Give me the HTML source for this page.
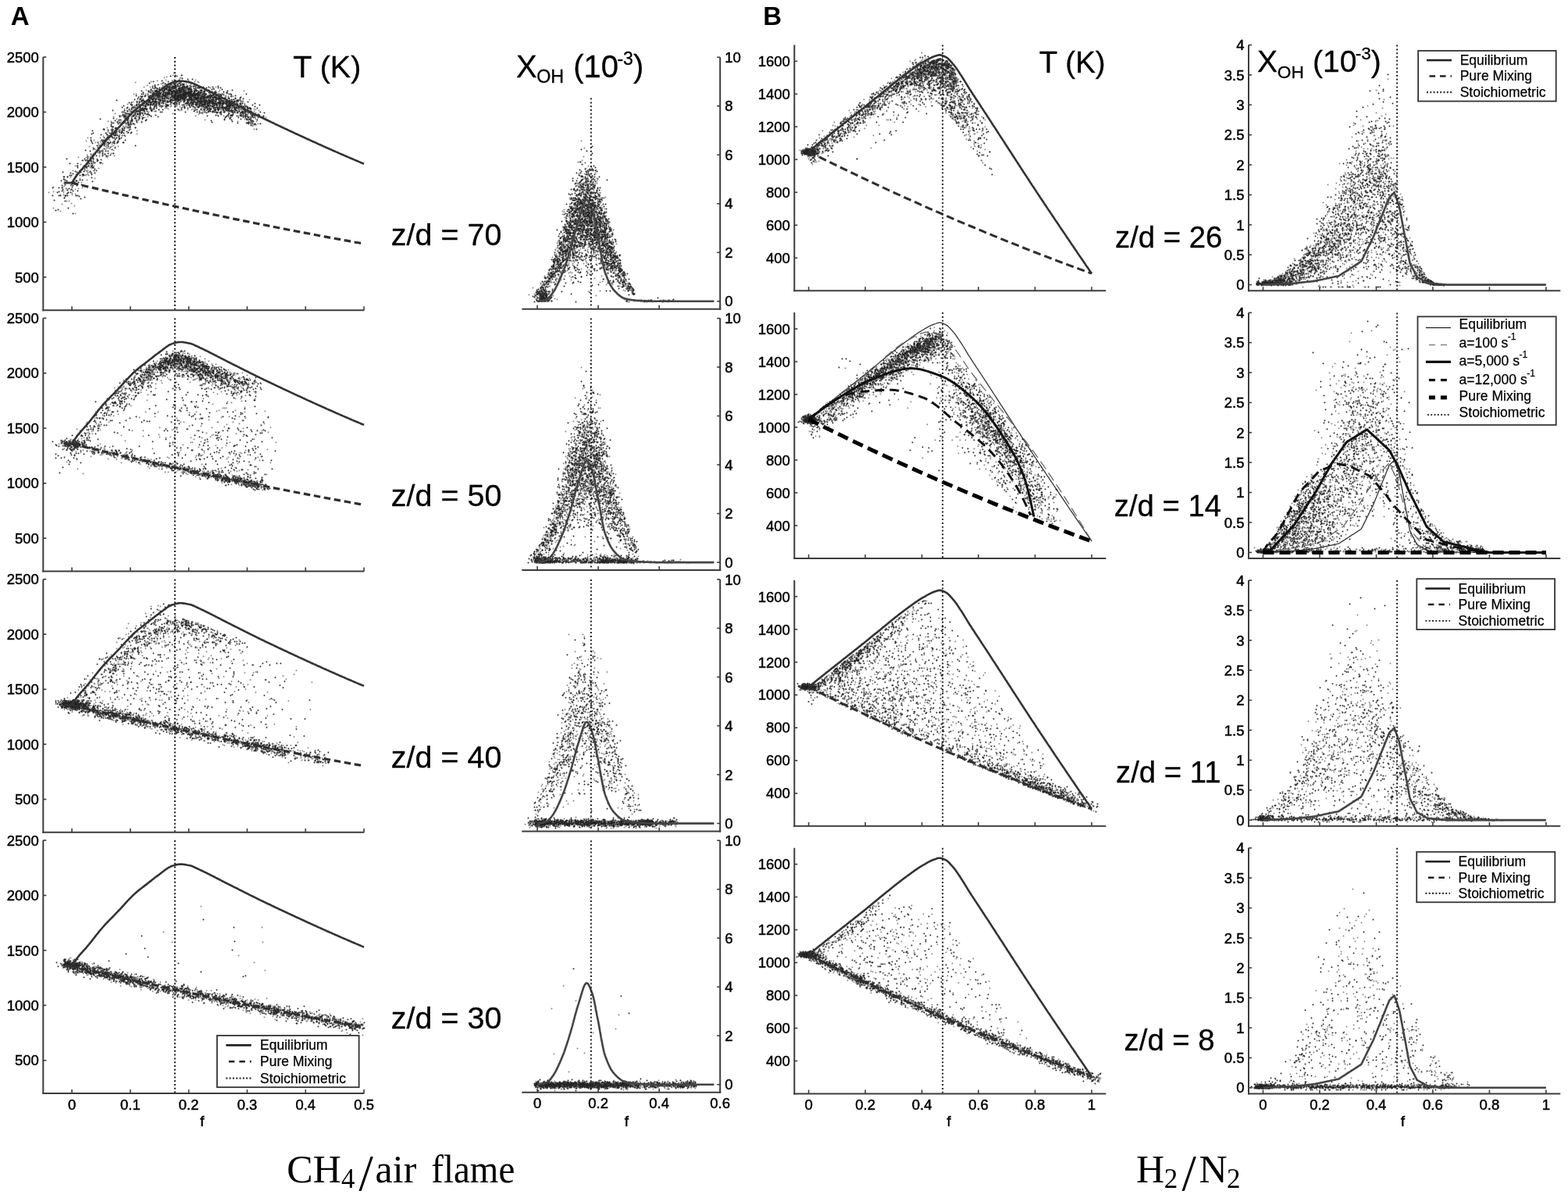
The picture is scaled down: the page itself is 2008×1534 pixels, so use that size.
<!DOCTYPE html><html><head><meta charset="utf-8"><title>Figure</title><style>html,body{margin:0;padding:0;background:#fff;}svg{display:block;}</style></head><body><svg width="2008" height="1534" viewBox="0 0 2008 1534"><defs><marker id="m" markerUnits="userSpaceOnUse" markerWidth="4" markerHeight="4" refX="2" refY="2" overflow="visible"><circle cx="2.5" cy="2.5" r="0.95" fill="#262626"/></marker><marker id="g" markerUnits="userSpaceOnUse" markerWidth="4" markerHeight="4" refX="2" refY="2" overflow="visible"><circle cx="2.5" cy="2.5" r="0.95" fill="#858585"/></marker></defs><rect width="2008" height="1534" fill="#fff"/><path d="m68 239 0 6-6 1 6 20 9 967 2-328 0-1-1 0-1-1 0 0 1-1-1 0-1 0 0 0-5-1 8-1-6 0 5-1-3-331 4-1 0 0 0 0 0-1 0 0 0 0-1 0 1-1-1-1 0-1-1-293 2-9-2-12 5-20 0 3 3 0-3 6-2 1 4 2 1 0 1 2-5 1 0 2 4 2-4 1 2 2-1 2 3 4 3 0-8 307 2 0 5 1-2 1 4 0-7 1 2 0 2 0-1 1-2 1 3 0-6 1 0 0 1 0 2 0 0 0 5 0 1 0-9 1 2 0 5 1-5 2 7 0-4 1 0 16 1 302 3 3-2 1-3 1 0 0 1 0 1 0 0 0-5 1 1 0 2 0 2 0 0 0 1 0 1 0 1 0 0 0 0 0-8 1 2 0 2 0 1 0 1 0 0 0 2 0-9 1 0 0 1 0 3 0 0 0 2 0 1 0 0 0 0 0 1 0 0 0 0 0 1 0 0 0-8 1 1 0 1 0 2 0 3 0 0 0 1 0 0 0-9 1 0 0 3 0 0 0 0 0 1 0 1 0 0 0 2 0 2 0-5 1 2 0 0 0 2 0 1 0 0 0-4 1 2 1-2 1-3 1 4 0 2 0 1 0-1 319-4 1-3 1 6 0-6 1 5 0-4 1 6 0 1 0-7 1 2 0 1 0 3 1 1 0-9 1 3 0 2 0 1 0 0 0 1 0 1 0-8 1 1 0 3 0 3 0 0 0 1 0-7 1 0 0 0 0 5 0 2 0 1 0 0 0-8 1 5 0 2 0-5 1 0 0 1 0 2 0 0 0 0 0 2 0 0 0 1 0-9 1 8 1 0 0 1 0 6 6-1-3 2-2-2 0 0 0 5-1 0 0 0 0 0-1-1 0-2 0 0 0-5 0-1 0 0 0 5-1-3 0 2-1-1 0-2 0 8-1 0 0-2 0 0 0-4 0-1 0-1 0 8-1-2 0-2 0-5 0 9-1-2 0-1 0-1 0-1 0-1 0-2 0-1 0 4-1-2 0-1 0 0 0 0 0 6-1-3 0-4 0 4-1 3-1-1 0-3-1-3-3 2-315 7-2-7 0 0 0 6-1 1-1-4 0-1 0 0 0-1 0 0 0 6-1-2 0-3 0-4 0 0 0 6-1-1 0-1 0-1 0-1 0-1 0 0 0-1 0 8-1-1 0-2 0 0 0-2 0 0 0-1 0-1 0 8-1-2 0 0 0-1 0 0 0-1 0 0 0-2 0 0 0 0 0-2 0 0 0-1 0 0 0 9-1-2 0 0 0 0 0-1 0 0 0 0 0-1 0 0 0 0 0-1 0-1 0 0 0 0 0-1 0 0 0-2 0 8-1-1 0 0 0 0 0-1 0 0 0 0 0-1 0 0 0-1 0-1 0 0 0-1 0-1 0-1 0 9-1-1 0-1 0 0 0-3 0-1 0-2 0-1 0 9-1 0 0-3 0-2 0 0 0 0 0 0 0 0 0-1 0-1 0-1 0 0 0 3-1-3 0 8-1-2 0-1 0-1 0-3 0-1 0 3-1 5-296-1-12-8-9 7-1-3-2-2-1-2 0 8-1-3 0-1 0-4-1 9-1-4 0-3 0-2 0 0 0 8-1-1 0-7 0 7-1-7 0 0 0 7-1-1 0-1 0 0 0-1 0-3 0-1 0 3-1-2 0 0 0-1 0 8-1-1 0-1 0-2 0-1 0-3 0 8-1 0 0-1 0-1 0 0 0-3 0-1 0-1 0-1 0 8-2-8 0 0-1 0-1 8-13-2-276-1-10-4-3 6-10-5-1 4-1-4-1-2-4 6-1-4 0-2-5 7-5-7-6 8-2-1-1-4-5 5-6-2 0 4-11 6 4-3 5 5 4-6 4 6 0-2 6 3 0-4 1-3 3 2 5 1 7-5 1 2 310-1 5 2 2 4 2-3 1-4 1 8 1-3 1 3 0 0 1-8 1 8 1-8 1 8 0-7 1 4 0 3 0-8 1 0 0 0 0 2 0-1 1 4 0 2 0 0 0-7 1 6 4-3 3 3 27 3 269-5 5-4 3 9 5-1 3-5 1-3 4 4 0 1 0-4 1 4 0 0 1 0 0-5 1 2 0 1 0 0 0 1 0-3 1 2 0 6 0 0 0-8 1 0 0 1 0 2 0 2 0 2 0-8 1 0 0 0 0 1 0 6 0-7 1 8 0 0 0-7 1 2 0 1 0 1 0-3 1 2 0 2 0 1 0-5 1 1 0 0 0-2 1 1 0 6 0-1 1 1 0-2 1-3 1 3 0-4 1 3 0-4 1 4 4-2 315-2 1 4 0 0 0-5 1 3 0 5 0-7 1 7 0-6 1 0 0 3 0 3 0-7 3 7 0-3 1-4 1 0 0 2 0 0 0 1 0-3 1 1 0 4 0 0 0 1 0 2 0 0 0-5 1-4 1 1 0 1 0 7 0 0 0-8 1 1 0-1 1 5 0 0 1 11 2-5 0-1 0 8-1-2-1-3 0-1 0 0 0 5-1-2 0 0 0-3 0 0 0-3 0 2-1 0 0-1 0 0 0 1-1 3-1-3 0-2 0 0 0 9-1-3 0-2 0 0 0 4-1 0 0-6 0-1 0-1 0 7-1-2 0-2 0-1 0-1 0 1-1 1-1 0 0 5-3-5-318-1 0 0-2 7-3-5 0-1 0 0 0 0-1-2 0-1 0 0 0 8-1-3 0-4 0 1-1 0 0-1 0 6-1 1-1-3 0-2-1 6-1 0 0-8 0 0 0 8-1-3 0-3 0-1 0 1-3-3-1 2-6-2-4 9-4-1-6-5-1-2-1 4-7-5-1 8-8-2-277 2-7-3 0 3-2-4-1 1-1-5-1 3-14 0-1 5-2-7-1 2-1 4-1 2-1-1-1-5-1 6-2 0 0-3 0-5-5-1 0 1-2 0-310 2-6-1-1-2 0 7-2-5 0 2-1-3-1 1-1-2 0 7-3-6 0 4-1 1-1 0-2-4-1 4-2-3 0 4-2-5 0 0 0-2-1 1-1 0 0 6-2 2-1-9 0 5-1 2-1-6-1 8-7 0-2 0 0-5-2-4-7 6-1-4-3 16 0-8 3 8 2-6 1 7 1-3 1 0 2-1 2-3 3 4 2-5 2 4 0 2 0 1 0-1 3 0 2-3 3-3 5 6 0-7 4 6 3-5 13 4 297-3 2-1 5 2 2-2 1 8 0-6 7 3 1 0 0 3 0 0 0-1 7 0 18-6 7-1 1-1 2 1 0 5 1-5 1 7 2-1 262 2 19-5 5 0 1 2 0-1 3 0 1 3 1-8 1 1 0 4 0 3 1 0 0 1 0-9 3 7 2-6 6 6 5 0 1-6 3 1 3-2 2 7 2-7 2 4 0-3 1 1 1-1 2 4 0 0 1-5 1 0 1 2 1 1 0 4 0 1 0 1 0-7 2 0 1 2 0 4 0 1 3-8 318 2 1-3 1 0 0 2 0 0 0 2 0 3 0 1 0-8 1 2 0 3 2 4 0-9 1 0 0 4 0 0 0-4 1 5 0 0 0-5 1 4 0 2 0-3 1 4 2 1 0-1 2-3 2 13 1-5 0 1-1 3-1-2 0 4-1-5-1-3 0 6-1-2 0-1 0 1-1 2-1-2 0 0 0-3 0 8-1-1 0-4 0-1 0-3 0 7-1-5 0-1 0-1 0 6-1 0 0-5-1 0 0 0 0 2-1 5-1 0-321-4-2 5-1 0-1-9 0 6-1-3 0 4-1 2-1 0 0-2 0-4 0-1 0 6-1-2-2 0-2-4 0 7-2-3 0-5-8 3-12-4-2 2-9 2-8-2 0 3-1 1-7 3-1-1-2-4-3 3-2 0-5 2-2-7 0 6-256-8-5 2-2 0 0 5-1-4 0 1-4-1 0 0-2 6-33-8-9 6-4-6-5 5-4 0 0-5 0 3-2 3-4 2-1-8-302 6-8 0-1-2 0 3-1-7-1 0-1 0 0 4-6 3-2-2 0-1-2 1-1 0-2-4 0 3-3-2-1-3 0 9-2-1-2 0 0 1-2-7 0 6-1-2-1 0-2 2-2 0 0-5-2 4-3 1-8 9-10-2 4 4 3-7 3 0 1 0 5 1 1 1 0 1 0-2 2 1 1-1 1 1 3 2 0 2 0-6 2 1 0 5 0-8 2 2 2 1 0 1 1 4 1-8 2 6 1 0 0-5 1 4 0-5 2 9 0-6 1 2 2-2 1 4 1-7 2 5 2-3 4 2 0 2 3 0 297 1 3 1 3 1 5-9 2 6 7 0 0 0 0-5 1 3 2 5 0-9 6 5 2-4 5 4 0-5 40 2 4 5 0-4 1 5 0-4 1 5 1-5 1 2 0-1 3 1 2 2 1 1 2 0 234 0 8-7 8-2 3 1 0 5 8 0 2 1 1 1 1-1 1-3 1 2 0-5 1 2 2 2 0 4 0-6 1 5 0 1 5-7 1 6 6-5 1 6 1-6 5-3 7 1 8 0 2 2 4 1 0 0 6 3 3 2 0-3 1 0 0-2 1 4 1-6 1 2 0-4 1 6 0 1 0 1 0-3 2 1 0 3 0-8 1 3 0 4 0 1 0-8 1 7 0 1 0 0 0-8 1 1 0 5 0 2 0-9 1 5 0 4 2-4 1 3 1-6 321 0 0 0 0 6 0 0 1-5 1 2 0-5 1 1 0 1 0 0 0 5 0-4 1 0 0 5 0-5 1 1 0 1 0 2 0 1 0-5 1 3 0 3 0-5 1 0 2-2 1 5 2 1 0-6 1 6 1 6 4-2-5 4-2 0 0 2-1-3 0-3 0 6-1 0-1-1 0-2 0-3 0-1 0-1 0 8-1-8 0 0 0 7-1-3-1 5-2-3 0-2 0-3 0 5-1-3-5 4-314 1-7-1 0-2 0 3-1-2 0-3 0-1 0 7-1-4 0-3 0 7-1-1 0-7 0-1 0 9-1-2 0-4 0 5-2-7 0-1 0 7-1-4 0 3-2 3-1-5-2-2-13 4-2-4-9-2-8 8-11 0-8-1-1 2-6-1 0-3 0-2 0 5-3-7 0 7-1-7-2 5-2-3 0-1 0 5-2-1 0 1-11 2-1-1-11-5 0 0-1 2-224 1-6-1 0 2-1-7-1 9-3-5-1-1 0 2-23-4-27 8-9-5-1 1-6 1-6 0 0 0-10 0 0 0-2-2 0 4-1-7 0 7-1-4 0 4-8-7-299 0-7-1 0 7-7-1 0 0 0-3-1-3-1 6-2 3-2-8-1 6-2 2-1-8 0 7-1-5 0 4-1 1-4-5-1-2 0-1 0 5-1-5 0 2-1 7-3-4-3-2 0 4-1 2-8 4-6 5 1-3 5 3 0 0 0 1 1-7 1 5 0-4 1 3 0 1 0-7 3 2 0-2 1 1 0 7 0-5 1 6 1 0 0-1 1 1 0-5 2 0 2 2 1 1 1-1 2 2 1-5 1-2 2-1 1 3 0-1 1 1 0 3 2 1 0-4 5-3 4 6 307 0 7 2 2-1 1-1 1 0 1-5 4 1 0 4 0 3 0-9 2 8 1 0 1-4 8-3 1 6 9 2 32-9 13 9 12-7 2-1 1 0 1 4 0-2 2-3 1 0 0 9 0-9 2 1 0 1 0-1 1 1 0 1 0 1 0 1 0-5 1 7 3-3 208-2 6 2 7-3 1 3 3 3 0-1 7-6 3 3 2 4 3-4 5 3 0 2 0-8 2 2 0 7 1-7 1 4 0-4 1 0 2 2 1 0 4 5 0-1 6-6 18 1 2 0 31 0 4-1 4 1 0 0 2 5 0-4 1-1 1-3 1 0 0 4 1 4 1 1 1-6 1 1 0 0 0 5 0 0 0-8 1 0 0 5 0 3 0 0 0-3 1 2 0 0 1 0 1-5 320-3 5 2 0 2 0 2 0 1 0 0 0 2 0-9 1 1 1 4 0 3 0-6 1 2 0 1 1 2 0 0 0-3 1 3 1-4 1-1 1 2 0 1 0-1 1-2 1 0 0 4 2 2 1 11 1 0-1-5 0-3-1 8-1 0 0-6 0 3-1 3-1-3 0-5 0 2-1 3-1-2 0-4 0 7-1-2 0-3 0 7-1-1 0-1 0-2 0-4 0 7-2-5-1 0 0-3 0 6-1-2 0-1 0-3 0 6-1-5 0 1-3 1-319 6-2-3 0 1-1-4-1-1 0-1 0 6-1-5 0-1 0 0 0 7-1-5 0-1 0-2 0 0-1 8-1-6 0 0 0 0 0 5-2 1-1-1 0 0 0-4 0 3-1-2 0 0-3-3 0 8-18-5-6 2-14 1-9-7-23 8-8-8 0 7-3-1-1 0-1 1-2 0-6-1-3 2-5-1 0 0-1-6-1 1-2 4-1-2-8 5-207-5-3 1-3-5-1 0-1 2-2 6-50-7-23 1-2 1-3-3 0 7-4-5-3 3-1-2-7-1 0-1-3 5-1 2-1-7 0 6-3-6 0 2-2-1 0 7-1-5-1 3-5-2-303 0-4-3-8 3-3 0-2-1-2 4-1-5 0 5-1-5 0 3-1-3 0-2-1 0 0 7-1-3-2-2 0-1 0 0 0 7-1-8 0 4-1-3 0 5-2 0 0-1 0-2-1 4-3-7-1 6-1-2 0-3 0 7-1-1-1-3-2 0-1-5 0 8-1-3 0-1-9-3 0 2-15 15 4-4 2 3 4 2 4-3 1-1 2-5 1 0 3 1 0 2 0 6 1 0 1-4 1 4 0-9 1 8 0-4 1 1 0 3 0-6 1 1 1 2 0-5 1 2 0 1 0 3 0 2 0 1 0-3 1-1 1 2 0-7 2 2 0 3 0-2 1 3 0-6 1 1 0 4 2 0 1 0 1 4 0-3 1 1 1-6 3 8 0-4 1 2 3-6 2 6 315-7 3 4 0 4 1 1 0 0 0-3 1 2 0 1 0-8 1 6 0 1 0-4 1 1 0 3 0-8 2 5 0 3 0-6 1 5 0-7 1 0 0 6 0 3 1-7 1 4 0 2 0-6 1 6 0 0 0-4 1 2 1 1 0-5 2-1 1 2 0 1 0 0 0-2 2 0 4 0 2-2 2 7 0-7 3 9 3-1 7-2 15-3 24 0 7-2 27 8 2-2 2-7 1 2 0 2 0 3 0-5 1 6 1 1 1 0 4-3 188 3 10-9 2 6 5 2 2 1 0-5 3-3 1 4 2 1 1 1 2-5 2 6 6-2 1 3 0-2 1-2 4 1 0 2 0-8 2 6 1-6 3 1 2 1 4 3 13-5 20 8 12-7 10 7 7-6 1 7 0-5 7 3 4-4 2 3 0-3 1 0 3 3 3 1 1-7 1 0 0 2 0 0 0 5 0-7 1 3 0-3 1 4 1 2 0 1 0-2 1-4 1 1 0 4 1-2 320-3 5 1 1-1 2 1 0 0 0 5 0-7 2 1 0 1 0 6 0-8 1 6 0-5 1 4 0 2 0-7 1 7 0-6 1 8 1-9 2 15 2 0-4-1 0 4-1-4 0-4-1 7-1-4-1-2 0 7-1-4 0 0 0-3 0 5-1 3-2-7-1 5-2-1 0-2-321-2-1-2-2 6-1-1 0-3-2 4-1-1 0 0-1-3 0-2 0 0 0 2-1-2 0 1-1 0-6 5-1-2-3-4-11 2-6-2-18 5-2-2-7 6-10-5-8 5-1-7-22 7-4-6-1-3-1 9-1-5-1 0-1-3 0 0-1 6-1 2-2 0-3-6-1-3-2 1-3 7-1-8-8 5-6-3-1 1-14-2-177 5-3 2-1-5-1 2-1 1-1-4 0 2-1-4 0 3-3 2-14 3-41-1-27 2-9-9-1 0 0 0-2 9-3-9-2 0 0 4-3-3 0-1-2 5-2-4-1 5-2-1 0-1 0 3-1-2 0 0 0-1 0-2-1 6-1-2 0 0 0-1-1 0 0-1 0 5-2 0 0-5 0 0 0 4-2-5 0 2-1 3-1-3 0-3 0-1-1 8-1-5 0-3 0 0 0 0 0 8-3-6-315-3-6 7-1-3 0 0-3-1-1-1 0 0-2 5-1-5 0 1-1 6-1-5 0-4 0 7-1-3 0-1 0 0 0 5-1-7 0 8-1-1 0-1 0 0 0-3 0-3-1 7-1 0 0-7 0 8-1-4 0-2 0-2 0 8-1 0 0 0 0 0 0 0 0-3 0 0 0-2 0-1 0-1-1 5-1 0 0-2 0-2 0-3 0 0 0 9-1-1 0-7 0 5-2 1-2-3 0 3-1-3 0-2-1 7-1-6 0-3 0 9-4-7-1 6-1 0-2-5-4 8-1 8 2-3 2 2 2 0 1 0 2 0 1-8 3 8 0 1 0-1 1-7 1 3 1 5 0-5 1 5 0-8 1 5 0 3 0-4 1 4 0-6 1 1 0-4 1 0 0 1 0 4 0 1 0 0 0 1 0-4 1 2 0-1 1 0 1 2 0 0 0 1 0-2 1 0 0-5 1 4 0 5 0-7 2 1 0-2 1 5 0 2 0-8 1 0 1 9 1-5 1 2 1-3 3 6 321-8 1 8 0-3 1-2 1 0 0 2 0-6 1 5 0-3 1 7 0-2 1-6 2 0 0 0 0 1 0 7 0-8 1 5 0-6 1 3 0 6 0-9 2 4 1 1 0 0 2 0 0 1 0 1 3 0 2 1 1-7 2-1 2 1 0 5 1 1 3-5 37 2 20-1 9 1 3-3 35 8 0-8 1 2 0-1 1 3 0-1 1-1 3-1 175 3 1-2 5 6 5-9 2 3 6-2 1 3 8 5 1-6 2 3 0-2 1-2 2 3 0-5 2 2 0 3 0-3 3 7 1 0 1-8 3 6 2-7 2 3 1 4 4 0 26-3 27 1 9-1 6 3 0 1 5 1 0-5 10 5 12-8 3 4 1 1 0-5 2 4 0 1 1 3 1-4 3 1 0-5 1 8 258-4 64 2 5-6 1 5 1 3 0-7 1 0 1 1 0 0 1-1 1-1 1 4 0-3 1 13 2 1-2-1 0 2-1-1 0 3-2-5 0-3 0 6-1-3 0-1 0-3 0 0 0 7-1-3 0-1 0 0 0-2 0-1-1 5-1-5 0 9-1-8-1 5-324-3-2 4-1 0 0-1-1 0 0-5 0 8-1-1 0 1-1-4 0 3-2-6 0 5-1 1-1-7 0 5-2-6-1 6-2 0 0-1-5-2-1 1-4 5-20-1-6 0-1-3 0-1-25-1-17-3-5 7-4-6-6 0-6-1-2 6-5-1-4-3-1 6-1-3-3-1 0-2 0 4-1-3 0 3-1-2-1 2-3 3-1-5 0 1-4-1 0 1-1-2-2 2-4 0-184-4 0 8-4 0-1-6 0 2-1-2 0 6-1-3 0-1 0-3 0 5-1-3 0-4 0 7-2-1-8-2-1-2-25 6-1-2-74-2-2-3-6 6-1-1-1-3 0-2 0-1 0 7-1-6 0 6-1-6 0 6-1-2 0-4 0 3-2 0 0 0-1 4-2 1-1-5 0-4 0 0-1 9-1-2 0-1 0-1 0-5 0 8-1-4 0 0 0 4-1-3 0-1 0-4 0 8-1-1 0 0 0-1-1-3 0-3 0 8-1-7 0 0 0 7-1-1 0 0 0-5 0 6-1-1-2 0-1-5-1 1-1 2-313-2-1-2 0 2-1 5-1-5 0 6-1-5 0-3 0 7-4-6 0 0 0 4-1-1-1 3-1-1 0 0 0-4 0-3 0 0-1 8-1-2 0-3 0-2 0 0 0-1 0 8-1-1 0-5 0 4-1-1 0-2 0-1 0 4-1-2 0-1 0-1 0 0 0-1 0 4-1-1 0-1 0 0 0-2 0 0 0 8-1-4 0 0-1-1 0-2 0-1 0 8-1 0 0-3 0-1 0-1 0-1 0 6-1-2 0-2 0-2 0-1 0-2 0 5-1-2 0 6-1 0 0-6 0-2 0-1 0 4-1 5-1-1 0-1 0-2 0 0 0-1 0 2-1 0 0-5 0 5-1-1 0 0 0-4 0 8-1-1 0 0 0-1 0-1 0 3-1 0-1-3 0-2 0 5-1-5 0 5-1-2 0 0 0-5-5-2-3 3-1 9-5-1 3-1 7 1 0 8 0-8 3 3 0-1 1 3 0 2 0-8 1 3 1 4 0 0 0-4 1 1 0 3 0 1 0-5 1 2 0-4 1 2 0 6 0 0 0-8 1 0 0 3 0 4 0-7 1 5 0 2 0-5 2 1 0 1 0 4 0 0 0-6 1 1 0 4 0-7 1 1 0-2 1 1 0 1 0 4 0-5 1 0 0 1 0 4 0 1 0 2 0 0 0-7 1 1 0 1 0 4 0-8 1 6 0 2 0-8 1 1 0 6 0 1 0 1 0 0 0-7 2 1 0 6 0 0 0-4 1 3 0 1 0 0 0 0 0-9 1 0 0 0 0 6 0 0 0-3 1 5 1-8 1 5 1-4 1 4 0 1 3-1 1 2 3-6 6 0 304 8 3-4 1-4 1 6 0-4 1 1 0 3 0 1 0 0 0 1 0-8 1 2 0 2 0 2 0-3 1 4 0-6 1 3 0 0 0 1 0 2 0-5 1 2 0-3 1 4 0 2 1-6 1 0 0 0 0 0 0 4 0-4 1 6 1-6 1 1 0 2 0 4 0-8 1-1 1 6 0 3 0 0 1-6 1-3 1 1 0 3 0 5 0-9 1 7 0 1 1 0 2 1 0-2 5-1 2 2 0-5 1 1 38 0 1 5 4-3 10 3 3-6 9-1 2 4 0-6 1 1 19 8 10-8 14 0 0 5 1-5 2 1 0 3 0-5 1 5 1 1 1 2 0 1 0-5 1 0 0-4 1 1 1 6 0-2 2-1 184-1 6 4 0-3 1-1 3 5 2-8 6 2 0 4 0 1 0 1 0-7 3 6 0-5 2 7 12-6 18 2 14-1 1 2 19-1 40-1 11-3 1 3 1-4 1 2 1 2 1-3 1-1 1 4 0 3 0 2 0-8 1 0 0 4 0 1 0 1 0-2 1-5 1 7 0 0 1 1 0-8 269 0 57 0 0 2 0 2 0 2 0-1 1 2 0-1 2 2 2-8 1 5 1 0 0-1 1 1 1 1 3 7 2 5-1-3 0-5 0 3-1 6-3-1 0-2 0-3 0 0 0 1-1 5-1-4 0-3 0-1-2 1-1 7-2-5-1-2-2 3-1-5-317 2-4 1-1 5-1 0-1-5 0 4-1-5-2-2-5 2-2 1-7 3-12-1-17 1-10 2-4 1-1-9-9 5-17-5-5 7-8 1-5 0-20-6-1 2-2 4-6-1 0-4-1 4-2 0-1-2-1-4 0 8-1-2 0 1-2-2 0-2-2 4-187 0 0-4-2-2 0 7-1-2-1-2-1-4 0 1-1 1-1 6-1-4 0-2 0-2-22 3-7 1-29-4 0-1-15 0-1 7-6-2 0 0-36-5-1 9-4-1-2-2 0-2 0-2 0 6-1-1-2 2-1 0 0-3 0-1-1-2 0-1 0 7-1-2-1-1 0-5 0 7-1-6 0-1 0 8-1-1 0-3 0 2-1-2-1-1-1-3 0-1 0 8-1-7 0 7-1-1 0-6 0 7-1-1 0-5 0 3-1-4 0 0 0-1 0 8-2-2 0 0-5-2 0 0-2-3-1-1-308 3-4 2-1 0 0-5 0 9-1-1-1-3-1 3-2-3-1-4 0 4-1 2-1-4 0-2 0 5-1-4 0-1 0 4-1-1 0-4 0 0 0 8-1-8 0 8-1-3 0 0 0-2 0-2 0-1 0 8-1-5 0 0 0-2 0 8-1-1 0-2 0-1 0-1 0-4 0 7-1-4 0-1 0 6-1-4 0-2 0 0 0 0 0-1 0 8-1-1 0-2 0-2 0-3 0 0 0-1 0 9-1-1 0-2 0-3 0 0 0-2 0-1 0 6-1-1 0-2 0 0 0-1 0 5-1 0-1-2 0-1 0 0 0-2 0-1 0 7-1-1 0-2 0-2 0-1 0-2 0 7-1 0 0-5 0-2 0 3-1-2 0 5-1-3-2-3 0 4-1 4-1-7 0-1-1 0-6 1-1 2-3 8 7 8 1-3 2-2 1 1 0-2 3 2 0 2 0 0 0 1 0-1 1-7 2 3 0 0 0 0 0-1 1 0 0 7 0 0 1-9 1 3 0 1 0 1 0 1 0-6 1 2 0 1 1 2 0 4 0-9 1 5 0 2 0-7 1 2 0 1 0 1 0 4 0-8 1 1 0 5 0 0 0 1 0 1 0 1 0 0 0-3 1 3 0-7 1 2 0 0 0 2 0 2 0-5 1 2 0 3 0 1 0-1 1 0 0 1 0-7 1 1 0 1 0 1 0 0 0 2 0 0 0 1 0 0 0-7 1 0 0 1 0 0 0 4 0 1 0 1 0-7 1 1 0-2 1 1 0 3 0 3 0-7 1 3 0 2 0 3 0 0 0 1 0-3 1 0 0 2 0 1 0-9 1 4 0 2 0-1 1-3 1 1 2 4 3 2 0-9 1 5 0-3 313-1 2 4 0-4 1 4 0-5 1 1 0 0 0 8 0-8 2 1 0-1 1 3 0 0 0 5 0-3 1-6 1 6 0 2 0-5 1 3 0 0 0-5 1 1 0 1 0 0 0 1 0 2 0 2 1-8 1 4 0 3 0 1 0-4 1 2 0 2 0 1 0-3 1 1 0-7 1 2 0 0 0 1 0 1 0 4 0-1 1 1 0-5 1 6 0-9 1 1 0 1 0 7 0-4 1 3 0-4 1-1 1 4 0-7 2 5 1 1 1 1 1 0 2-3 1 5 2-2 1 1 0-5 3 1 25 1 0-3 14 0 17-2 4 4 11 4 2-4 4 2 0-5 31 3 5 1 1 2 0 1 0-3 1 2 0-3 1-4 2 1 190 1 1 2 0-4 1 5 0 0 0-3 2-1 3-1 1 7 0-1 2-4 3 2 1 2 0-5 9 0 4 2 1 1 2 1 0-5 8 0 55 0 6 6 8-6 7 4 2-4 4 6 0-3 15 5 1-6 2 3 0 0 0 2 1-5 1 4 0-3 1-3 1 5 0 0 2 1 4-1 2-5 315 1 3 8 3 0 0-3 3 1 0-5 2 4 0 0 2-3 1 5 0 0 0-7 4 17 1-8-1 0-2 7-1 0 0-7-1 9-1-6 0 0 0-1 0 0 0 2-1 0-1-1 0 0 0-1-1 5-1 1-2-2 0-2 0-2 0 0-2-1-3 6-104 1-215-7 0 6-1-1 0 0-1-2-2 2-1-6 0 3-1-2 0 1-1 3-1 0 0-3 0 6-2-2-2-6-2 7-2-2-4 0-3 0-26-3-2 4-33 3-13-3-3-5 0 3-9-2-7-2 0 9-1-4-7-5-1 1-3 1-4-1 0 1-5 1-3-3 0 7-2-2 0 2-1-2 0 2-2-3-1-1-1-2 0 2-1-3 0 5-186-5-1 8-1-1-1 0 0 2-2-2 0-5 0 0 0-2 0 9-3-8 0 2-1 5-8-8-9 1-2 8-1 0-6-5-4 3-7 1-5-6-9 5-6 1-9-3 0-4-9 0-8 7-22 0-5-3-5-5-2 2-1 5-1-2 0 3-1-2-1-3 0 5-1-7-1-1 0 6-1 3-1 0 0 0 0-4-1-4 0 8-2-7 0-2-3 6-2 3-1 0 0-1 0-1 0-3 0 4-2-1 0-4 0-1 0-1 0 8-1-5 0-1 0-2 0 3-1-2 0 1-1-1 0 3-2-4 0-1-2 6-3-6-308 4-2 5-1-3-1 3-3-8-1-1 0 0-2 8-1 0-1 0 0-4 0-3 0 3-2 0 0-1 0-1 0 0 0-1 0 6-1-2 0-1 0-1 0 0 0-2 0 2-1-1 0 7-1 0 0-1 0 0 0-6 0-2 0 7-1-5 0-1 0 5-1-3 0 5-1 0 0-5 0 6-1 0 0-1 0 0 0-3 0-2 0-3 0 0 0 9-1-5 0-2 0-2 0 7-1-1 0-3 0 0 0-1 0 6-1-1 0 0 0-1 0-5 0-1 0 8-1-2 0 0-1 0 0-1 0-2 0 0 0-2 0-1 0 9-1-2 0-5 0-1 0 8-1-2 0-1 0-4 0-2 0 6-1-2 0-4 0 5-1 1-1 0 0-2 0 2-1-3 0 0 0 0 0-3-2 4-2 0-2 0-5-1-1-3-2 19 10-8 3 1 1 3 0-3 1-1 2 7 0-6 1 2 0 4 0 1 0-8 1 3 0-3 1 6 0 1 0 0 0 1 0-9 1 3 0 3 0-6 1 4 1 2 0-6 1 3 0 0 0 0 0 1 0 0 0 5 0-7 1 1 0 3 0-5 1 0 0 2 0 0 0 3 0-5 1 1 0 0 0 2 0 0 0 3 0 2 0-8 1 1 0 4 0 2 0 0 0 1 0-9 1 0 0 2 0 0 0 3 0 4 0-7 1 1 0-1 1 0 0 0 0 3 0 2 0 0 0 0 0 1 0-8 1 0 0 2 0 1 0 0 0 4 0 2 0-8 1 5 0 2 0 1 0-8 1 0 1 1 0 1 0 1 0 3 0 1 0-8 1 5 0 2 0 0 0 0 0-7 1 1 2 1 0 2 0 3 1 1 0 1 0-9 1 2 10 0 306 5 3-5 1-2 1 0 1 1 0 2 0-2 2 2 1 4 1-7 1 0 0 1 0 3 0 4 0-4 1 2 0-5 1 3 0-1 2 2 0 4 0 0 0-6 1 4 0 1 0 1 0-7 1 3 0 4 0-4 1 3 1-6 1 1 0 2 0 1 0 1 0-5 1 6 0-3 1 4 1-5 1 5 0-4 1 4 2-1 1-5 2 3 0 0 7 1 1-4 8 1 1-4 4 7 27-3 17 5 5-4 6 1 0-4 1 6 7-2 1-5 3 0 2 2 15-2 9 3 1-4 1 7 0 1 0 1 0-5 1-3 1 1 0 7 0-8 1 8 0-3 1 1 2-1 1-1 1-3 191-2 1 1 0 2 4 4 5 0 2-3 2-2 2 2 14-4 6 7 2-1 2-6 4 1 0 8 0-8 31 1 6 1 10 6 26-4 2 0 7-3 3-2 1 1 1 5 1-5 1-1 1 5 0 2 0 1 1-5 1 2 0 4 0-4 2 3 3-4 323-2 3 1 0 6 1-9 1 6 0 1 0-4 2 0 0 3 0-2 1 4 1-8 1 0 0 4 0 0 0-3 1 6 0 1 2-8 3 19 3-8-3 7-1-1-1-3 0 3-2-4 0-1 0-2 0 7-1-2 0-2-2 0 0 2-1 1-2-5 0 0 0 4-1 3-1-6 0 3-1-5-3 4-319-3-2 8-1-1 0-4 0 1-2 0 0 0-1-4-1 6-1-5 0 3-2-3 0 0 0 4-2-6-4 9-39-8-32 6-6-7-17 8-15-2-4 1-1-4-2-1-7 6-3 1-193-1-2-3 0 0 0 1-2-1-1-4 0 7-1-3 0-2 0 1-2-1-1-1-1 5-1-7 0 6-13 0-20-5-13 2-1-2-9 8-7-1 0-1-14-5-9 6-13-5-2 6-6-4 0 3-2-2-1-5 0 4-2-3 0-1-2 8-2-7 0 0-1 1-1-1 0 0 0 3-1-3 0 7-1 0 0-3 0 3-1-1 0-5 0-2 0 5-1-2-1-4 0 0 0 0-1 8-2-5 0-3-1 8-2-6 0-1 0 0 0 0 0-1 0 7-1-6 0 5-2-4 0-1 0 4-1 0 0-1 0 2-4-5 0 0 0 7-319 1-4-2 0-3 0-3 0 2-1-1 0 3-1-1 0 5-1-1-1-8 0 3-1 0 0 5-1-8 0 7-1-6 0 4-3-2 0-1 0 7-1-1 0 0 0-1 0-1 0-4 0-1 0 6-1-1 0-5 0-1 0 6-1-2 0-3 0 0 0 5-1-1-1-1 0 5-1-2 0-1 0 0 0-2 0-3 0 0 0 8-1-1 0 1-1-1 0-1 0-1 0 3-1-8 0 4-1-5-1 9-1-7 0-1 0 4-1 0 0-2 0 3-1 1-1-2 0-1 0 2-2-2-2 2-3 5 4-1 2 6 2-3 2-1 1 7 0-1 1 1 1-6 1 4 0 1 1-5 2 0 0-2 1 0 0 0 0 5 0 3 0-8 1 1 0 1 0 5 0-8 1 2 0 0 0 3 0 1 0 0 0-6 1 4 0 0 1 2 0-6 1 3 1-3 1 4 0 1 0-5 1 3 0 2 0 4 0-9 1 2 0 7 0-9 1 1 0 2 0 3 0-4 1 4 0 2 0 0 1-5 1 0 0 0 0 5 0 0 0-1 1-4 1-1 2 4 2-5 321 7 4-8 2 2 0-2 2 8 0-6 1 3 0 0 0 2 0 2 0-8 1 3 0 4 1-6 1 4 0-2 1 1 0 3 0-3 1-2 1 4 0-4 1 1 0-3 2 1 0 5 0 0 1-3 1 4 0-4 1 2 1 1 0 1 0-1 4-6 2-1 1 3 3 2 21 2 0 2 0-9 3 3 9 4 12-5 12 7 12-5 3-1 26 6 10-8 2 0 0 6 1-3 1 0 0 3 2 1 0-5 1 3 0 2 0-4 2 4 3-3 193 3 4-1 16 1 1-5 8 3 23-6 2 0 48 9 0-5 17 5 5-2 2 0 1 1 0-8 1 0 0 8 0-4 1-4 1 1 0 4 0 1 1-1 1-4 3 6 0 1 1-3 3 2 1-6 318 8 0 0 1-8 1 4 0-4 1 3 1-3 1 5 0-5 1 3 1-3 1 2 1 1 0 3 0 2 0-4 1-3 1 0 0 0 0 3 1 0 0-3 2 3 1 3 2 7 1-4-2 1-1 7-2 0-1-7 0-1 0 7-1-3 0-1 0-1 0-3 0 3-1 2-1-2 0-1 0 4-1 2-1-1 0 0 0-3 0 0 0 4-1-2 0 2-2-2-2 3-318-6-5-2 0 7-2-5 0-3 0 7-1-2 0 2-1-1 0 3-1 0-2-5-2 0-1-3-22-1-11 6-36 3-8-3-18-6-5 5-10-5-2 5-7-5-6 6-196 1-4-3 0-1-1 3-1-1 0-1 0 0 0-2 0 5-1 2-1-1 0-1-1-5 0-1 0 6-3-2-5-3-12-2-4 2-2 2-4 0-1 0-14-4-3 0-20 8-3-5-7 3-18-5-1 8-10-1 0 0-7-1-1-7-1 9-1-8 0-1-1 0 0 7-1-5-1 2-2-3-1 8-1-5 0 0 0-4 0 2-1 4-1-1 0 0-1-4-1 5-1-6-3 6-1-1 0-1 0-4 0 0 0 4-2-2-3 2-321-1-2-2-3 1-3 6-1-1 0-1 0-1 0 1-1-2 0-1 0-2 0 3-1-3-2 1-1 4-1-6 0 0 0 0 0 8-1 0 0-3-1-2 0 5-1-4 0-2 0-2 0 9-1-3 0 1-1-6 0 4-1-2 0 6-1-8 0-1-1 8-2-8 0 3-2-1 0 6-2-3 0-3 0-1-4-1 0 16 9-4 2 2 0 0 0-2 1 6 0-1 2-7 2 3 0 0 1-2 1 3 0 1 0-4 1 5 1 1 0 2 0 0 0-4 1 1 0 2 0 1 0-6 1 1 0-1 1-2 2 2 0 4 1 1 0 1 1-1 1 1 0-4 1-1 7-4 322 2 1-2 2 6 3 3 0-3 1 1 1-7 1 2 0 4 1-5 2 0 0 6 1 0 1 2 0-1 3-3 1-3 1 7 0-4 3-4 1 6 0-7 2 6 2-3 1 6 2-8 3 7 0 1 3-8 12 5 8 0 9 1 10-5 3-1 15 6 9 2 1-8 3 5 4-2 6-3 5-1 4 6 0-3 1-1 6 2 1-3 1 5 1 1 0-5 1 1 0 1 0-3 1 1 0 0 0 2 0 3 0 2 0-8 1 2 0 1 0 4 0 1 0 0 0-9 1 2 0 5 0-4 1 1 0 3 0 1 0 0 0-8 1 1 0 1 0 0 0 7 1-3 2 3 0-3 198-4 2 1 0-2 5 5 6 1 0 1 4-6 43-2 6 6 24 1 1-3 5 5 13-9 13 2 1-2 2 6 0 0 5-3 1 1 0 1 0 4 0-2 1-4 1 1 3 1 268 2 52-6 3 6 0-1 4 2 0-6 1-1 1 5 1-6 1 4 2 1 0 3 0 7 8-4-3 4-1-1-3-1-2-2 0 7-1-2 0-3 0-2 0 3-1 2-2-5 0-1-1 6-2-6-1 9-322-9-1 9-1-1 0-5 0 2-1 2-1 0 0 1-1 0 0 0 0-3 0-3 0-1 0 6-1 0 0-4 0 3-1-1-1 2-1-6 0 3-1 4-2-1-7-7-3 7-24-6-1 7-11-2-3-2-14-1-3 4-3-6 0 2-15 3-12-5-4 4-223-1 0 3-1-3 0 5-1-1-1-4-1-4 0 9-1-5 0 0-1-3 0 4-2 0 0-3-3 4-5 1-5 2-10-1 0-1-9-3-6-3-18 0-6 0-4-1-10 4-3-1-8 0-6 1-15 2-6 1-3 0-1 1-1-1-2-6 0 2-1-3 0 6-1-2 0-1 0 5-1-5-2 0 0 5-1-5-1 0-1 6-1-3-4-6-3 5-320-2-5-2-2 7-1-1 0-6 0 3-1 3-2-1 0-5-1 0 0 2-1 5-1-1 0-5 0 1-1-1 0 7-1-7-1-1 0 6-1-5 0-2-1 8-1-5 0-2 0 1-1 0 0 3-1-2-3-3-1 0-1 1-1-1 0 9-2-7-11 13 23 2 1-2 2-4 1 6 1-6 1 2 1 1 0-2 1 6 1-8 1 7 3-6 2-1 1 8 0-8 2 3 1-2 1 2 1 0 1 2 4 1 321 0 3 1 0 1 0-3 2 0 0 0 10 2 1 0 1-1 7-1 52 1 26 2 9-8 14 2 3 7 1-7 1 2 0 4 0-7 1-1 1 5 0-5 1 0 0 7 0-7 1 1 0 2 0 0 0 2 0-3 1 1 0 2 0 3 0 0 0-6 1 2 0 2 0-5 1 5 0-2 228 3 9-3 1-4 9 7 16 1 25 0 1-7 16 4 15-2 2 1 4 0 1 5 0-4 1 4 0-7 1 3 0 3 0-7 1 1 0 2 0 0 0-4 2 0 0 2 0 1 1 2 0 1 0-3 1 1 0 3 0 2 0-7 1 5 0 0 0-6 1 2 0 5 0 1 1-7 1 6 0-3 271 1 47-5 1 0 0 0 1 0 2 0 1 6 2 0 0 1 1-5 1 6 0-6 2 6 0 0 0-3 1-5 1 0 0-1 5 18 5-5-4 2-2-1 0 2-1 0 0 0-1-5 0 4-1-1 0 3-1-1 0-2-1-2 0-2 0 0 0 9-1-6 0 0 0-1 0-1-1-1-1 6-1-2-1-3-2-1-4 9-38-3-36-1-19 2-224 0 0 1-1-3 0 1-1-1 0 0-2-5 0 8-3-3 0-2 0 1-1-2 0-2 0 7-1-7 0 0-1 0 0 4-1-4 0 0-1 8-2-2 0-5 0 1-2 7-77 0-243-3 0-2-2 3-1 0-1-2 0 0 0-5 0 3-2 6-1-7-1 1-1-1-29-2-4 4-1 1-33 3-9 1-16-5-35 3-5-7-328 5-9-3 0 0 0-1-3 0-5 9 9 3 383 3 14-3 6-1 22 4 17-5 15 1 279 3 9 4 0-7 21 6 36-7 1 0 1 1 0 3 0 4 1 0 1 0 0-5 1-2 1 0 0 1 0 0 0 1 0-2 1 3 0-4 1 3 0 2 0-3 1 1 0 4 1-1 2-6 1 0 313 5 8-6 2 9 0-6 1-2 1 1 0 7 0-8 1 5 0-1 2 0 0 3 0 0 0-5 1 3 0 2 2 1 0-3 1 2 1 1 3 3 4 7-6-6 0 6-1-6 0 1-1-1 0 5-1-2 0-5 0 3-1 0 0-1 0-2 0 0 0 8-1-3 0 0 0-3 0-3 0 6-1-6 0 9-1-2 0-2 0 4-1-8 0 2-1 0 0-2 0 1-1 4-1-4 0-1 0 8-321 0-2-3-1-4 0-1 0-1-2 7-1 2-1-2 0-1 0-1 0-1-1 1-1-1 0-3-1 5-1-3 0-1 0 0-1-1 0 0-1 6-1-1 0-2-2-3-24 2-361 9 299 4 4 3 28-7 57 2 2 2 1-6 1 1 0-1 1 0 0 0 1 7 0-6 1 5 0-2 3 4 1-7 4 8 7-7 317 2 2 3 0-4 1 2 0 0 1 4 1-8 1 1 0 4 4 7-2 5-1 0-1-1 0-4 0 5-1-3 0-1-1 5-1-8 0 8-1-2 0-5 0-1 0-1-2 0-3 8-321-3-8-5 0 0-1 2-6 4-11 3-13-3-67 3-5 2 92 0 10 3 1 3 0 2 1-6 4 2 0 0 2 0 2 1 3-1 321 3 3-1 2-6 1 1 0 2 1 3 0 0 0-1 1 3 0-6 1-1 2 16 2-5 0-1 0 7-1-5-1-4 0 9-1-1 0-2 0 1-1-6 0 5-2-1 0 1-1-1 0-5 0 4-1 5-2 0 0-3-2-2-322 5-2-5-1-4 0 5-2 0 0-3-1 5-4-3-6 3-49 2-35 5 91 4 1 0 1-2 2 0 1-6 2 4 1 1 4 4 0 0 322-1 1-1 1-7 1 4 0 1 0 0 1 0 0-3 1 2 0 2 0-6 1 0 0 2 0 0 0 1 0-1 1 6 0-8 2 9 0-4 1 1 0-4 1 11 2 1-3-2 0-1 0 6-1-2 0-2 0 6-1-1-1-3 0 4-1-1 0-6-1-2 0 8-1-7 0 1-1 1-1 1-1-2 0 1-319 4-3-1-1 3-1-8 0 5-1 3-2-3 0-1-1-3-1 4-1-2-2 8 331 4 4-4 1 4 0-4 1 5 0 1 1 1 0-2 1 0 0 2 0-5 3 3 0-3 1 4 1-3 2 12 7 1-1-1-5-3 0 4-2 0-1-4 0-1 0 0 0-1 0 7-1-6 0-3 0 6-1-3-1-2 0 4-1-5-1 3-1-1 0 4-1 5 4 1 0 1 1 0 0 0 0 1 1 2 0 1 0 2 0-4 1 1 0 1 0-4 1 5 0-7 1 5 0 3 2-5 7 11-4 0-1-2 0-3 0 3-1-3 0 8-1-1-1-3-1 5-1 0-1-3 0-1 0-2-1 11-6-3 4 1 4 2 1-3 3 3 9 214-266 1-2-1-2-6 0 7-1-1 0-1-677 5-9 7 2-1 2 1 1-2 1 0 0 1 1-4 1 2 1 1 0-2 1 2 1 0 0-3 1 2 2 0 1 1 0 0 2-1 318 3 3-3 3 3 1-5 1-2 2 1 0 4 0 0 1-2 1 2 1 0 0-6 1 2 0 0 0 5 0-1 1 0 0 2 0-5 1 2 0 1 0 1 0 0 0-4 1 2 0 0 0 3 0 0 294-4 23 1 5 1 6-2 3 4 0 0 0-5 1 1 0 0 0 1 0 2 0 0 0 1 0 0 0-3 1 1 0 0 0 0 0 1 0 0 0 1 0 0 0-4 1 1 0 2 0 0 0 0 0 0 0-4 1 0 0 2 0 2 0 0 0 1 0 0 0-9 1 4 0 1 0 2 0 1 0 0 0 1 0-4 1 3 0 0 1-2 326 0 2 1 0 2 0-5 1 5 0-3 1 0 0 0 0 1 0 1 0 0 0 0 0-4 1 1 0 3 0-1 2-2 1 7 2 7-2 0 0-1 0-2 0-1 0-1 0-1 0-3 0 6-1 3-1 0 0-1 0-2 0-1 0-2 0-2 0-1 0 9-1-2 0-1 0 0 0-2 0-2 0 2-1 0 0-1 0-1 0 7-1-1 0-1 0 0 0-3 0-1 0 0 0-3 0 8-1-2 0-3 0 4-2-6-325-1-1 0-1 8-1-2 0 0 0-2 0-1 0-1 0-1 0 0 0 7-1-2 0-2 0-3 0 0 0-1 0 8-1-1 0 0 0 0 0-2 0 0 0-2 0-1 0 0 0-1 0-1 0 0 0 0 0 9-1 0 0 0 0-1 0-1 0-2 0 0 0-1 0 0 0 0 0-1 0-1 0 0 0-2 0 0 0 7-1-1 0-1 0-2 0 0 0-1 0 0 0 0 0-1 0-1 0 5-1-1 0-2 0-2 0 6-1-2 0-3 0-1 0 5-1 0 0 3-1-2 0-6-11 2-4 0-6-2-2 4-4 3-1-1-1-4-2 1-1 6-3-5-3 5-4-6 0 1-2 4-284-1 0 0 0 0 0-5 0-2 0 9-1-1 0 0 0-1 0 0 0-2 0-1 0-2 0-1 0 8-1 0 0-1 0-1 0-3 0 0 0 5-1 0 0-2 0 0 0-4 0 4-1-1 0-1 0-3 0 4-1-1 0 0 0-2 0 0 0-2 0 0-1 8-1-1 0-3 0-4-2-1 0 4-1-1 0 3-1-5 0 0-2 1-1-1-4 0 0-1-2 1-1 5-1 0 0 3-1-1 0-3-1 1-1-1 0 0-1 4-2-1 0 1-2-2 0-2-2 4-1-1-2-2 0 0-10-2-289 5-1-1 0-1 0-1 0-1 0 0 0-3 0-2 0 6-1-2 0-3 0 5-1-2 0-1 0-2 0-1 0 8-1-1 0-2 0-1 0-3 0 0 0 7-1 0 0-2 0-2 0-2 0-1 0 7-1-1 0-5 0 7-1-4 0-1 0-1 0-1 0 0 0 6-1-4 0-2 0-2 0 9-1-4 0 3-1-5 0 4-1-1 0-3 0-1 0 0 0 6-1-1 0-1 0-1 0 3-1-6 0 0 0 6-1-2 0-3 0 0 0-2 0 0 0 1-1 3-1-2-1-1 0 3-1 0 0-3 0 7-1-6 0 4-1-1-1 0-1 2-1-3 0-3 0 4-1-4 0 3-1 4-1 0-1 0-3-2-3 10-24 2 3 0 0-1 2 1 0 0 2-3 4 3 1-3 1 2 0-1 1 2 0-3 1 0 0-4 1 1 0 5 3-4 1 1 0 1 0 2 0-2 1-5 1 1 0 6 0-4 1 3 0 1 0 1 0 0 0-2 1 0 0-4 1-3 1 4 0-2 3 0 1 2 0 1 0-3 2 2 0 2 0 0 0-6 1 3 4 1 0-4 7 1 0 3 0-1 2 3 0-6 3 6 0 2 0-6 2-2 1 1 0 2 1 0 0 1 0-4 1 0 0 1 0 2 0-3 1 2 0-2 1 8 266 1 5 0 4 0 3-1 2-1 1-2 1 4 0-3 1 2 1 0 0-5 2 6 2 0 1-1 2 1 2 0 0-3 1 0 1-1 1-3 1 4 0 1 1-7 1 1 0 2 0 3 0 3 0-5 2 0 0-3 1 3 0-1 1 0 3-1 1-1 2 5 2-5 1-1 2 3 0-3 2 8 1-6 5 0 3-2 5 7 0-6 1 0 0 1 0 5 0-3 1-4 1 2 0 0 0 2 0 3 0-7 1 1 0 1 0 1 0 0 0 1 0 0 0 4 0-7 1 2 0 1 0 3 0 2 0 0 244 0 4-6 7 6 3-3 4-2 2 3 2 2 7-1 1-1 7-6 3 7 1 0 6-6 18-1 2 8 3-6 14-2 3 1 0 0 0 5 0-7 1 1 0 1 0 1 0 2 0-5 1 2 0 1 0 2 0 2 0 1 0-7 1 0 0 3 0 0 0 1 0 0 0 2 0 0 0 1 0 0 0-7 1 0 0 5 0 1 0-5 1 0 0 2 0 4 0-6 1 2 0 4 0-2 234 3 58-4 33-4 1 3 2-2 1 3 0 0 0-5 1 0 0 1 0 6 0-7 1 0 0 1 0 3 0 0 0 1 0 1 0 0 0-5 1 0 0 1 0 1 0 0 0 2 0 0 0 2 0 0 0 1 0-7 1 2 0 1 0 1 0 1 0 0 0 1 0 0 0 1 0 0 0 0 0-4 1 5 0-2 2 1 0 2 3 9-2-1 0-6-1 4-1-1 0-4 0 3-1-3 0 0 0-1 0 8-1 0 0-2 0-1 0-1 0 0 0 5-1-1 0 0 0 0 0-1 0-1 0-2 0-1 0 0 0-1 0-2 0 9-1 0 0-3 0-1 0-1 0-1 0-2 0-1 0 0 0 9-1-2 0-4 0 6-1-1 0-6 0-2 0 7-1-1 0-6 0 0-1 6-325 1-2-7 0 7-1 2-1-1 0-1 0 0 0-2 0-2 0-3 0 6-1-3 0 0 0 0 0 6-1-3 0-2 0-2 0-1 0 0 0-1 0 8-1-2 0-3 0-2 0 0 0-1 0 0 0 0 0 9-1-1 0-3-1-3 0 6-1-1 0-4 0-3 0 7-32 1-6-1-4-4-1 1-4-1-3 0 0 2-1 4-2-5-1-1-1 4-4-3-1-4 0 1-3 2-3 5-1-8 0 3-2-1-4-1 0 5-4-2 0-4-2 8-3-2-1-3-2-3-1 6-1-3-2 4-4-1 0 3-4 0-2-6-5 2-1 3-6 1-13-3-206-1 0 0 0-3 0 0 0 0 0-2 0 9-1-4 0-1 0-3 0 6-1-5 0-2 0 8-1-4-1-3 0 0 0 5-1 1-14-6-6 5-2-4 0 2-1-3-3 8-1-3-1-2-5 4-1-7-2 6-2 2-3-6 0 3-1 1-1 0 0 1-3 0 0-5 0-3 0 0-1 4-1 3-2-5-1 3-1 3-1-1 0-3-1 2-1-4-1 6-1-1 0 0 0-4 0-1 0-2 0 5-1-3 0 5-1-4 0 3-2-5 0 6-1-6 0 7-1-5 0-2-3 4-1-2-1 2-2 1-2 0-1 2-1 0-2 1-4-4 0 0-1 0-1-2 0 5-2 0 0-2-8 3-6 0-2-6-231-3-1 4-18-2-4 6-2-3-1-3 0 1-1-1 0 4-2-1-2-5-1 8-1-8-1 3-1-1 0 6-1-7 0 0-1 3-3-3-1-1 0 8-2 0-1-7 0 5-1-4 0 7-2-2 0-3 0-1 0 6-1-3-1-2 0 0 0 0-1-4-1 4-1-2 0-1 0-1 0 9-2-1 0-4-1-1 0 0 0 5-2 0-1-6 0 4-2 1-1 2-1-2-1-6 0 7-1-7 0 5-1-1 0-2-1 5-1-1 0-3 0 5-2 0-1-6-2 6-2-1 0-4 0 1-2 4-4 10-50 0 8-7 7 7 1-9 1 2 1 5 2-7 1 8 3 1 0-6 1 1 0 0 3 4 3-1 2 1 0 1 0-2 1-3 1 4 0 1 1-9 1 7 0-6 1 0 0 1 1 3 0-2 2 0 0 1 0 1 1 3 1 0 0 0 0 0 1-4 1 4 0-8 1 5 0 4 0-1 2-7 2 1 0 3 0 2 0-4 1 3 0-2 1-2 2 1 0 1 1 2 0 1 0-6 1 3 0 4 0 0 0 1 0-8 1 0 1 2 1-3 1 1 0 7 1-7 1 0 0 3 0 3 0-6 1 1 1 1 0 2 0 1 0-5 1 1 0 1 0 3 0-6 1 4 0 3 0 2 0 0 0-6 1-2 1 6 0-4 1-3 1 1 0 0 0 7 0-7 1 3 0 4 0-7 1 1 0 5 0-7 1 5 0-2 1 1 2 1 0 4 0-9 1 4 0-2 1 1 1 1 4 4 0-3 2 2 0-3 1 4 0-7 1 1 4 5 1-1 1-2 1-1 1-3 1 8 0-5 4 6 0-5 199 4 22 1 2-1 3-1 1-3 4 2 2 0 0 1 2 2 1-5 3-3 1 3 0 3 2-3 3 2 0 3 0-3 1-4 1-1 4 0 1 2 0-2 2 0 2 5 3-1 1-2 1 1 0-4 2 7 0 0 0-3 4 5 0-4 1-5 1 5 0-2 1 2 0 0 1 4 1 0 0-1 2-5 1 3 0-5 1 6 0 0 0 1 1-5 1-1 1 5 0-5 1 7 0-8 1 0 0-1 1 9 0-5 1 4 0-6 1-1 3 2 0-2 1 7 0 0 1-8 2 2 2 1 0 2 0 0 1 3 1-5 1 6 1-2 1 2 0-8 1 3 0-1 1-3 1 0 0 1 0-1 1 5 0 0 1-5 1 6 1 1 1-2 2-5 3 2 1 7 0-4 2-1 2-1 4 6 2-2 2-7 6 1 16 1 9 0 6 6 0-7 1 2 0 3 1 1 0-2 1-2 1 5 1 1 0-9 1 1 0 7 92 1 56-3 9 2 3-3 5 3 0 1 10-1 4-5 9 5 1-8 4 6 0 1 0 2 1-4 1-2 2-3 3 9 0-2 1 1 5 1 1-4 3-1 4-2 2 5 2 1 0-5 1 1 4 3 0 0 0-7 2 2 0 5 1-1 2 3 1-2 1-1 2-5 3 6 1-1 1-4 2 6 2-2 7 2 1-6 4-1 2-1 1 0 2 2 0 6 3-6 8-2 1 2 3 2 3 2 3-1 26 2 4-6 4 1 15 7 1 0 1-6 1 1 0 1 0-4 1 0 0 1 0 3 0 2 0-3 1-4 1 1 0 2 0 1 0-2 1 0 0 0 0 2 0 0 0 1 0 0 0 1 0 0 0 1 0 1 0 1 0-7 1 3 0 0 0 1 0 0 0 1 0 0 0-6 206 7 110-5 13 2 0 1 0 0 0-5 1 2 0 5 0-7 1 4 0 2 0 1 0 1 0-9 1 2 0 1 0 0 0 0 0 2 0 4 0 0 0 0 0-9 1 0 0 1 0 1 0 1 0 0 0 0 0 1 0 1 0 0 0 1 0 0 0 1 0 0 0 1 0-8 1 4 0 2 0 1 0 1 0 0 0 1 0-9 1 4 0 1 0 1 0 1 0 1 0 1 0 0 0-4 1 2 0 1 0-1 1 0 1 5-2 5-1-6 0 0 0 7-1-2 0 0 0-4 0-1 0-1 0 8-1-1 0-1 0 0 0-1 0 0 0-2 0 0 0-2 0-1 0 6-1-3 0-1 0-1 0 0 0-1 0 8-1 0 0-1 0-1 0-1 0-2 0 0 0-1 0-2 0 0 0 3-1 4-1-7 0 9-43-2-61 2-225-8 0 8-1-1 0-3 0-2 0 0 0-1 0-2 0 7-1-1 0-2 0-1 0-2 0 3-1-1 0-1 0-1 0 0 0-1 0 6-1-2 0-3 0 7-1-3 0 1-1-2 0-2 0-2 0 7-1-1 0 1-3-3-21-2-9 3-22 4-6-6-1 1-1 5-11-9-5 8-1-8-1 7-7 1-6-6-2-1-6 6-1-3-1-1-1 1-2-4-1 9-1-6 0-3-2 8-2-7 0 4-3-1-2-4-3 8-3-8-2 3-2 6-3-2 0 0-1-2 0 2-3-3 0 0-2 0-1 2-4-6-2 4-3-4-2 9-11-6 0 4-10-3-1 5-1-3-3 3-4-7-15 0-4 3-2 1-15 1-114-1-1-2 0-3 0-1 0 6-1-2 0 0 0-2 0 4-1-2 0-3 0 6-1-1 0 0-1-4-1 6-1-1 0-2-15 1-1-5-6-1-19 9-10-4 0-1-2-4 0 9-1-2 0-4 0 3-2 3-1-9-1 5-2-2 0-2 0-1-3 2-2 6-2-5 0 5-2-1 0-5-1-1-1 7-1 0 0-1 0 0-2-3 0-1-1 2-2-2-1 3-1-3-1-3 0 3-1 0 0-3 0 2-2-1 0 1-1 7-2-6 0 4-1 0-3-5-2 1-1-3 0 9-1-6 0-3 0 8-2-8 0 3-1 3-1-2 0-2-2 6-1-1 0 1-1 1-1-9 0 3-1 0 0 2-1-2 0 2-1 3-1-2 0-4 0 3-1-2 0 5-1-7 0 8-2-2 0 0-1-4 0-1 0 3-1-2 0-3-1 9-1-6 0 6-2-2 0-2-1-2 0 5-1 0 0 1-1-1-1-1 0-6 0 8-1 0-1-2-1 1-1 0-1-2 0 0-2 1-1-6 0 6-2-1 0 0 0-6-1 2-1 5-1-4 0 5-1-6 0 7-2 0-1-1 0-8-1 7-4 1-2-4-3-2-2-1-3 1-1 3-4 1-5 3-11-5 0 3-4-1-26-5-151 0-3 1-6-2-1 6-3 2-3-4-2-1-1 0-2 2-2-3-1 7-2-4-3-2-1 4-1-7 0 3-2 4-1-1 0 1-1-7-1 0 0 4-2 0 0 1-1-2 0 4-1-5 0 3-3-4 0 4-1-2 0-2 0 5-1-3 0 2-1-4 0 7-2-1 0-2 0-2 0-3 0 9-1-4-1-3 0-1 0 7-1-2 0-2 0 1-1 1-1 0 0-6 0 7-2 0 0-2 0 4-1-7 0 4-4 0 0-3 0 1-1-4 0 5-1-1 0-4 0 9-1-2-1-1 0-5 0 0 0 3-3 0 0-3 0 0 0 0 0 6-1 1-1-6 0-2 0 9-1-6 0 6-1-5 0-3-1 7-1-4-2 3-1-1 0-1 0-1 0-2 0 7-1-2 0-1 0 0 0-3 0-1 0 3-1-3-3 6-1 0 0-2 0-5 0 8-2-4 0-2-1-3 0 9-2-2 0-1 0-5 0 6-1-3 0-4 0 8-1-2 0 0 0-1-2-3 0 7-1-3 0 0 0-3 0-2-1 5-1-3 0 4-2 0 0 0-1-1 0-1 0-5 0 9-1 0-2 0-1-1 0 0-2-6 0-2 0 0 0 5-1-2 0 3-1-4 0 7-2 0 0-2-1 1-1-3-7 3-5 1-2 0-1 0-6 5-48 4 9-1 11-2 5-5 2 2 0 7 1 0 0-8 14 7 0-6 2 7 3-1 1-5 6 6 1-8 1 1 1-2 1 1 0 0 1 4 0-1 1 3 0 1 0-2 3 1 0 1 0 1 0-7 1 0 0 0 1 3 0 2 1-7 3 8 0 1 1-5 1 3 0 2 0-7 2-2 1 6 0-1 1 4 0-6 4 2 0 1 0-4 1 0 0 3 0 1 0 2 0-3 1-2 1 2 0 2 0-3 1 1 0 0 1-3 1 3 0 0 0-4 1 2 0-3 1 1 0 8 0-8 1 2 0 1 0 2 1 1 0 1 0 1 0-1 1-4 1 1 0 2 0 0 0-1 1 3 0 0 0-5 1-1 1 4 0-6 1 1 0 3 1 4 0-9 1 0 0 4 0 4 0-2 1 1 0-6 2 5 0 3 0-7 1 1 0 5 1 1 0-9 1 2 0-2 1 0 0 2 0 3 0 2 0-7 1 9 0-8 2 4 0 4 0-8 1 3 0 0 0 1 0 1 0-6 1 2 0 1 0 1 0 3 1 1 0-3 1-2 1 4 0-7 1 2 0 4 0 1 1-2 1-4 1 4 0 1 0-5 1 5 1-4 1-1 1 2 0 1 1 1 0 1 0 3 2 0 0-6 1 4 2 1 0-5 1 3 1 2 1-8 1 4 0 5 1-8 1 8 0-9 1 2 0 2 0-2 2 3 0 3 2-5 1 2 5-5 4 9 0-9 1 7 4 2 0-4 1 2 4-3 7-3 1 3 125 4 26-2 1 2 21-1 2-4 6 3 2-1 2 3 0 1 0-5 7-3 6-1 1 6 0 1 0 0 1-5 2 0 0 7 0-4 1 1 1 2 0-5 4 2 1 3 0-7 1 1 0 4 1 0 0 2 0 0 1-5 1 1 0 0 0 2 0 2 0-6 5-2 1 4 0 5 0-6 1 3 1-4 1 1 0 6 0-2 1 1 1 1 1-3 3 3 0-6 1 4 2-5 1 0 1 3 1 2 0 2 0-8 2 5 1-3 1-3 2 8 1-2 1-4 1 5 0-2 1 2 0-6 1 0 0 0 1 4 0 1 0 3 0-4 1 4 0 0 0-3 1-3 1 1 0 2 0-5 1 3 0 1 0 0 0 2 0-5 1 7 0 0 0-3 1 3 0-9 1 8 1 1 0-3 1 0 0 1 1 1 0 1 0-7 1 5 1 2 1-5 1 0 1-3 1 6 0-5 1 4 0-4 1 1 0 1 0-2 1 2 0-3 2 0 0-1 1 5 0 2 0-6 1 1 1 1 0 6 0-2 1-2 2-5 1 8 0-2 1 1 0 2 0-7 1 2 2 5 0 0 1-3 1-4 1 3 0 1 0 0 2 2 1 0 0-7 1 3 1-2 1 7 1-6 1 2 0-5 1 4 0 2 1 1 0 1 1 1 0-8 1 2 0 5 0 0 1-6 3 3 0 4 0-7 1 0 1-1 1 0 1 6 4-3 2 4 0-4 1 0 5 4 0-1 5 1 0-4 3 5 21-5 23 1 5-4 1 1 0 1 1-3 1 3 0 1 0 5 1-3 1 0 92 2 3-2 8-2 17-4 4 4 1-2 11 1 1 5 5-1 1 0 3 1 2 1 0-9 1 0 1 0 2 9 8-5 5 1 1-4 1 1 0 6 5-2 1 0 0-2 1-4 3 2 8 5 0-5 4 3 9-1 2 5 0-7 1 4 3 2 0-8 2 1 0 3 3 4 2-2 8-1 3-2 1 3 2-1 1 4 16-7 4-1 6 4 8 0 0-1 2 3 9-1 2-6 18 7 0 0 37-3 2 4 0-8 1 1 0 6 0 2 0-9 1 0 0 3 0 3 0-6 1 3 0 2 0 3 0-7 1 5 0 1 0 2 0 0 0-4 1 0 0 2 0 2 0 0 0 0 0-9 1 4 0 2 0 2 0 1 0-8 2 7 0 0 290-8 36 8 0 0 0-7 1-1 2 1 0 1 0 1 0 3 0 0 0 1 0 0 0-6 1 5 0 0 0 1 0 1 0 1 0-9 1 2 0 1 0 0 0 2 0 1 0 1 0 1 0 0 0 1 0-7 1 0 0 2 0 0 0 1 0 1 0 2 0-8 1 2 0 0 0 5 0 1 0 1 0-7 2 1 0 16 0-6 0 1-1-1 0-3 0 0 0 8-1-1 0 0 0-1 0-1 0 0 0 4-1-1 0-1 0-1 0-1 0 0 0-1 0-2 0-1 0-1 0 0 0 9-1 0 0-1 0 0 0-1 0 0 0-2 0-2 0-2 0 0 0 8-1-5 0 0 0-1 0 0 0-1 0 0 0-2 0 8-1-1 0-1 0 0 0-2 0-2 0-2 0 6-1 0 0 3-1-1 0 0 0-1 0-1 0-6 0 0 0 0 0 6-1 0 0 3-62-4-263-1 0 3-1-6 0 7-1-4 0-2 0 4-1-2 0-1 0-2 0 7-1-1 0-4 0-1 0-1 0-1 0 9-1-1 0-1 0-1 0 0 0 1-1-4 0 0 0 2-1 0 0-1 0-2 0-2 0 7-1-6 0 5-1 0 0-6 0 2-1-1 0-1-1 6-1-4-43 4-8 1-4-2-14 1-10-6-11 9-1-1 0-7-1 6-5 2-2-5-1 4-1-5-1 1-1-2-2 3-1-3-3 3-3-2 0 2-3 0-1 3-2 1-2-3 0-2 0 0-4-2-2 6-1-7 0 7-3-3-2-1-3-2 0 3-1 3-5-8-1 7-1 0-1-5-2-1 0-1-6 5-4 1-5-2-2 1-3 2-2-1 0-3-1 4-4 0-1 1-2-3-5 1-19-3-3 6-11-2-52-4-61 1-1-1 0 6-1 0 0-2 0-7 0 9-1 0 0-2 0-3 0-4 0 5-2 0-3-3-2 4-32 3-5-8-1 2-6 4-3 2-7-3-3 3-3-8-2 4-4-1 0 2-5-5 0-1-2 2-1 3-2-5-1 9-2-3 0 2-3-5 0 1-1-3-4 6-1-4 0 2-1 4-2-5-2 4-3-6 0 4-1-2 0-1 0-3 0 2-2 3-1-4 0 3-1-1 0 4-1-2-1 3-4-2-3-2-2-1 0 5-1 1-1-1 0-6 0 0 0 1-1 4-1-6-1 0 0 8-2-3 0 1-1-4 0 4-4-2 0-5-1 2-1 6-2-2 0 2-2-2-1-1 0 0 0-4-2 5-1-1 0-4 0 1-1-1 0 5-1 3-1-7 0 7-2-2 0-1 0-2 0-4 0 6-1-2 0 0 0 0-1-3-1 3-1 5-1-1-1-5 0 2-1-4 0 3-1-3 0 4-2 3-2-1-1-5 0 2-2 5-1-2 0-1-1-6 0 4-2-1 0 2-1-1 0-2 0 7-2-3-1-1-1-1 0-2 0-1 0-1-1 3-2-2 0 2-1 6-1-7 0 4-7-4-2 7-8-7 0 5-2-1-6-4-2 4-5 2-2-7 0 6-5 1-4-5-126 1-28 4-5-7-4 5-2-6 0 5-1 2-3 0-3 0-2-7 0 3-2-1-1 0-1 0-2 4-2-1-1-2 0 1-2-3-1 8-1-3 0 0 0-1 0-2-1 5-2-1 0-2 0-1 0-1 0 5-1 1-1-7 0-2 0 8-2-4 0-3-1 0 0-1-1 4-1-3 0 6-1-2 0-4 0 8-1-4 0 3-1 1-1-6-1-1 0-1 0 6-2-5 0-1 0-1 0 6-1 0 0 0-1 0 0-2 0-4 0 0 0 0 0 2-1 6-2-2 0-3 0 3-1-4 0 6-1 0 0-2 0-2 0-3 0-1 0 6-1-3 0 6-1-2 0-3 0 5-1-1 0-1 0 0 0-1 0 3-1-1 0-3 0 0 0-1 0-4 0 6-1 0 0 0-1-3 0-1 0-2 0 5-1-2 0 6-1-8 0 7-1-7 0 6-1-1 0 1-1-3 0-2 0-1 0 6-1-7 0 9-1-2 0-4 0-1 0 6-1 1-1-2 0-4-1 0 0 5-1-5 0 1-1-1 0 0 0-2 0 5-1-5 0-1 0 6-1-1 0-3 0-1 0 5-2 1-1 1-1-4 0 5-1-7 0 5-1 0 0 1-1-2 0 0 0-1 0-1 0-2 0 7-1-1 0 0-1-3 0-2 0-2 0 7-1-5 0-1 0 7-1-1 0 0 0-1 0-2 0 0 0-2 0 0 0-2-1 5-1-2-1-3 0-1 0 2-1 6-1-1 0-5 0 4-1-5 0 3-2-1 0 4-1-1 0-6 0 9-1-2 0-5 0 7-1-2 0-2 0-3 0-2 0 7-1-4 0-3 0 0 0 4-2 5-1-4 0-1 0 0 0-3-1 7-1-6 0-2 0 6-1-1 0-1 0 5-1-3-3 3-3-4 0-2-2 5-1-5 0-2 0-1 0 8-2-6-1-1-3-1-1 5-4 3-2-8-1 7-1-4-2 10 5-1 4-2 7 4 0 1 0 0 1-1 2 0 3-4 1 2 0 0 2-2 3 0 1 0 2 4 2 4 1 0 1-7 2 5 0 2 1-3 1-5 2 2 0 2 0 5 0-2 1-2 2 2 0 1 0-8 2 5 0 0 0 3 0-7 1 7 1-8 1 1 1 4 0-2 1 0 2 0 1 1 0 3 0-7 1 3 0 0 0 1 0 5 0-9 1 0 0 2 0 1 0 3 1 2 0-8 1 1 0 3 1 3 0-6 1 2 0 5 0-8 1 0 0 3 0 2 2-4 1 0 0 0 0 5 0-5 1 4 0 3 0-2 1-5 1 4 0 0 0 2 0 0 0 1 0-4 1 3 0-4 1 2 0 2 0 1 0-7 1 2 1 1 0 3 0-4 1 3 0 0 0-1 1 1 0 0 0 1 0 0 0 1 0-5 1 2 0 3 0 1 0-8 2 1 0 2 0-2 1 0 0 7 0-6 1 3 0 1 0 1 0-5 1 5 0-8 1 1 0 2 0-1 1-1 1 2 0 1 0 5 0-9 1 1 0 1 0 4 0 3 0-7 1 0 1 3 0 4 0-8 1 3 0 2 0 0 0 2 0 1 0-9 2 1 0 0 0 2 0 6 0-2 3 0 0 1 0-5 1 1 1 1 0 3 0-7 1 1 0-2 1 2 0-2 1 7 0-1 1 2 0-3 1-3 1 3 0-3 4 0 0 0 0 3 0 1 0-6 1 1 0 1 0 0 1 6 0-7 1 5 0-6 2 1 0 1 0 2 0 1 1 3 1 1 0-7 1-2 2 5 0 1 1-3 1-1 1 4 2-3 3 1 6-3 17 7 5 0 11-5 6 5 127-5 7 3 10 2 0-7 13 1 2 7 2-2 4-5 3 2 2 0 1-1 2-2 4 3 3-3 1 4 0 3 0 1 2-6 4 2 0 1 7-6 2 0 1 2 2 2 0 2 1 0 1 0 0 0 0 0 1-6 3 1 0-1 2 0 0 3 1-2 1 1 0 3 0 3 0-3 1 1 0 2 0-7 1 0 1 1 0 1 0 5 0 0 0-3 1-5 1 2 1 1 1 5 0-8 2 7 1-5 1 1 0 0 1 1 0 2 0 1 0-4 1-2 1 6 0-6 1 0 1 6 0-6 2 3 1 0 0 2 1-2 1-4 2 1 1 6 0 1 0-2 1 3 1-4 1 3 0-1 1 1 1 1 0-1 1-2 1-6 2 3 1 1 1 5 0-7 2 7 2-1 1 0 1 0 1-8 1 4 9 4 0-1 5 2 6-5 1 5 3-4 3 1 0-5 2 5 5-2 2 1 0-4 27 2 16 6 0 0 2-8 2-1 1 0 1 2 0 3 0 3 0-6 1 0 0 5 0 2 0-8 1 4 0 0 0 4 0-4 1 3 0-1 1 0 0 1 0-7 1 4 0 2 0 1 0-7 115 4 7 4 1-8 12 4 5 1 1-6 2 2 15 2 1 1 2 1 2 3 4-5 4-4 1 7 2 2 2-5 3 5 1-9 1 9 0-2 2 2 0 0 5-4 2-1 1 3 1-3 2 4 0-7 1 3 0 5 2-8 2 2 3 4 0 1 0 0 3-3 1 2 1-1 1 3 0-8 2 3 7 2 2 3 0-7 2 2 5 4 1-4 1 4 4-5 1 0 0 5 3-3 5 2 2-4 2-3 2 1 12 3 3 3 7 1 4-8 4 1 2 1 51 1 1 1 0 0 0 2 0 2 0-7 1 3 0 1 0 1 0 1 0-7 1 2 0 3 0 3 0 1 0 0 0-8 1 1 0 0 0 3 0 4 0 0 0-8 1-1 1 6 0 1 0-5 237 4 91 1 0-6 1 4 0-4 1 2 0 0 0 5 0 0 0-8 1 1 0 4 0 1 0 0 0 1 0 0 0 1 0 1 0-9 1 5 0 1 0 1 0 0 0 0 0 1 0-8 1 1 0 0 0 1 0 1 0 1 0 2 0 0 0 0 0 2 0 1 0-6 1 3 0 1 0 2 0-8 1 2 0 0 0 1 0 0 0 3 0-6 1 5 0 0 0 3 0-3 1 1 0 9 1-2 0 3-1 0 0-2-1-1 0-4 0 7-1-1 0-1 0-3 0 4-1-1 0-1 0 0 0-1 0 0 0-1 0 2-1-1 0 0 0-1 0-2 0 8-1-1 0-1 0-1 0 0 0-2 0-2 0-1 0 0 0 8-1 0 0-5 0-3 0 6-1 0 0-3 0 4-1-2 0 1-325 1-1-3-1 1-1-5 0 9-1-2 0-4-1-1 0-1 0 8-1-2 0-2 0-1 0 0 0-4 0 0 0 8-1-3 0-5 0 9-1-1 0-2 0-3 0 0 0 0 0 6-1-2 0-2 0 0-1-4 0 0 0 8-40-5-1-2-3 0-7 2-1 1-21-5 0 2-4 4-5 3-1-5-2-2 0-2-1 4-9 1-2 2-2 2-1 0-2-5 0 0-1-4 0 7-2-4 0-3-2 8-1-6 0 5-1 1-2-1 0-6 0 5-3-6 0 6-6 2-3-1 0-7-1 3-1 5-5-6-1-1-16 1-8 3-2-2-8 0-10 4-15-1-140-2 0-1 0 6-1-3 0-2 0 0 0-1 0-1 0-1 0-1 0 9-1 0 0-1-1 0 0-4 0-1 0-1 0 0 0 7-1-1 0-5 0-1 0 7-1-3 0-4-1 6-1-1 0-2 0-1 0-1-1 4-1-3-1-3-23 8-15-8 0 8-1-3-1-4-6 0-2 4-1 0-1-3-1 5-1-2-1-5 0 8-3 0-1-7-1 4-1 0-2-5 0 4-2 4-1-3 0 2-1-5-2 0-1 5-1 0 0-4-2-2-1-1 0 0-3 1-1 5-1-1 0 1-2 2-1-7-1 6-1-3 0-4-1-1 0 0 0 8-1-6 0-2 0 9-1-4 0 3-1-8 0 2-1 7-1-3 0-3 0 0-1-1 0-2-1 4-1 4-1-3-1-1-3-2 0-2 0 4-1 4-1-4 0-2 0 6-1-3 0 1-1-5 0 0-3 0 0 6-1-2 0-4 0 8-2-7 0 0-1 6-3-8 0 0-2 7-1-5-4 3-1-5 0 2-1 6-7-8 0 4-3-1-1 0-1-3 0 2-1 0-1 0 0 6-6-8-1 4-4-2 0-2-13 6-189 2-4-7 0 2-3-3-4 8-3 1-4-4-4 4-2-3 0 1-2 2-1-1-1-1 0-3 0-4-3 9-3-1-1-3 0-4-2 8-1-1 0-7 0 8-1-7 0 7-1-4 0 1-2 0 0-4 0 0 0 6-1-3 0-3 0-2 0 6-1-2 0-2-1 5-1-1 0-1 0 0 0 1-2 2-1-3 0 1-1-1 0-1 0-1 0-3 0 6-1-2 0 3-1-5 0 6-1-1 0-1 0-1 0-3 0 7-1-9 0 9-1-4 0 0 0-2 0-1 0 3-1-3-1 2-1-4 0 6-1-5 0 8-1-2 0 0-1-3 0-4 0 4-1-2 0 0 0 1-2-1 0-1 0 4-1 0 0 0-1-1 0-1 0-1 0-1-2 3-1 0 0-1 0-1 0-1 0 3-1 0 0-3-1-1 0 4-2 0 0 0 0 1-2-4 0 0 0 8-1-6 0-2 0 8-2-2 0-2-1-1 0 0 0-1 0 5-2-6 0 3-1-3-1-1 0-1 0 4-4 0 0-2 0 4-1-3 0-2 0 1-2 2-1-1 0-1 0 3-1-4-3-1-1 4-1-3-1-1 0 0-3 1-7 2-3 0 0 2-1 10 42-1 3-4 3 1 1-1 2 4 3 0 1 0 2-4 1 3 1-1 1 1 0 2 0 4 0-5 1-4 2 1 0-1 1 1 0 1 0 2 1 2 0-5 2 1 1 2 1-3 1 1 0 7 0-6 1 1 0 4 0-6 1 4 0 1 0 1 0-6 1-2 1 3 0 1 0 3 0-5 1 3 0 0 0 1 0 0 0-5 1 1 0 3 0 0 0 0 0 2 0-4 1 4 2 0 0 1 0-5 1 4 0 0 0 1 1-3 1 1 1 2 0 1 0-6 2 2 0 1 0 0 0-5 1-1 1 2 0 4 0 1 0-6 1 8 1-6 1 1 0-2 1 2 0 5 0-7 1 3 0 1 0-5 1 7 0 0 0-7 1 6 0 2 0-7 1 5 0 1 3 1 1 0 0-6 2 0 1 5 3-4 7-4 210 0 10 2 20 1 2 5 1-7 5 4 0 0 3-1 4-3 1 7 0 0 1-1 1-4 1 6 0-7 1 3 1-4 2 0 3 4 0-5 1 5 0 1 0-6 1 6 1-6 1 6 1-1 2 0 1-5 3 1 0 7 0-4 1-2 1-2 1 6 0 2 0-2 1-4 1 1 0 6 0-5 1 3 1-4 1-2 1 4 0 2 0 0 1-3 1 3 0-6 2 0 1 4 0 3 1 0 4-6 3 4 0-1 2 0 2-2 6 2 4 1 1-5 11 5 21 0 3 3 1 0 0-7 1 2 0 3 0 1 0-8 1 3 0 1 0 1 0 1 0 0 0-6 1 2 0 4 0-6 1 4 0-3 1 0 0 1 0 0 0 3 0 0 0 1 0 3 0-3 1 1 0 2 0-8 211 2 5-2 1 1 2-2 1 3 2-3 1 5 6-4 7 1 0 1 1 2 5-2 2 5 1 0 4 1 1-3 6-5 3 3 1 2 3 3 4-1 3 1 5-2 2-4 1-1 2-2 2 1 0 2 1 0 5 3 1 2 0-5 41 1 0 0 0 3 0-5 1 4 0 0 0-6 1 0 0 1 0 1 0 4 0-6 1 3 0 0 0 1 0 0 0 3 0 2 0-9 1 3 0 1 0 1 0 0 0 1 0 1 0-7 1 4 0 1 0 1 0-4 1 1 0 2 0 0 0 1 0 3 0-3 1 2 0 1 1-7 2 3 0 3 257-8 69 1 0 2 0 1 0 1 0 4 0-8 1 2 0 1 0 3 0 1 0 0 0 0 0-6 1 0 0 1 0 1 0 1 0 1 0 0 0 0 0 1 0 1 0 0 0-8 1 2 0 2 0 1 0 3 0-8 1 1 0 1 0 0 0 2 0 2 0 2 0-8 1 1 0 3 0 3 0 1 0 1 0-9 1 7 0 2 1 9 2-2-2-3-1-2-1 0 0-1 0 8-1 0 0-3 0-2 0-2 0 0 0-1 0 0 0 9-1-1 0-1 0-2 0 0 0-2 0 0 0 0 0-1 0-1 0 0 0-1 0 0 0 0 0 6-1-1 0-3 0-1 0-1 0 9-1-5 0 0 0-1 0 0 0-1 0-1 0 6-2 2-1-7-85 7-240-4-2-2 0 2-1-2 0-3 0 9-1-1 0-1 0-1 0-1 0-5 0 0 0 8-1 0 0-2 0 0 0-1 0-2 0 3-1 0 0-6 0 0 0 7-1-1 0-1 0-3 0 0 0-1 0 8-1-2 0-1 0-5 0-1 0 6-1-1 0-4-3 5-12-5-1 8-11-7-12 7-3 0 0-9-3 4-14-2 0 3-10 1-4-5-3 4-2 3-252 0 0 0 0 0 0-2 0-2 0-3 0 0 0 0 0-1 0 0 0 8-1 0 0-2 0-5 0-1 0 0 0 8-1 0-1 0 0-1 0 0 0-1 0-1 0-2 0 6-1-1 0 0 0 0 0-7 0 3-1-3 0 2-2 1-11 4-6-6-2 1-7-2-1 3-1 0 0-2-2 4-1-2 0 0-3-4 0 5-2-1-4-3-3 0-1 4-1-1-1-2 0 4-2-2-1-2-1 7-1-9 0 9-1-5 0 3-1-4-1 2-1 2-2-4-3 0 0 2-1-4 0 0 0 2-2 2-1-4 0 2-13-3 0 3-5 6-248-1-12 1-5-1 0-5 0 5-2-4-1 0-1 5-1-2 0 2-1-2 0-3 0-4 0 9-2-8 0 8-2-4 0-4 0 3-1 0 0-4-1 9-1-2 0-1 0 1-1-5 0 7-1-3 0-2 0 2-1-5 0 8-1-5-2-1-3 2-1-4-1 2-1 0-1-3 0 4-2-1 0-2 0 3-1-1 0 0 0-2 0 0 0 0-1 0-1 2-2 0 0 1-7 6 26 1 0-1 4 1 1 0 1 1 2-2 2 0 1 0 0 3 0 1 0-4 1 4 0 1 0 2 0-6 1 3 0-3 1 2 0 2 0 3 0-5 1 0 0 3 1 1 0-6 1 4 0 2 0-5 1 1 0 5 0-1 1 2 0-9 1 8 0 1 1 0 1 0 1-7 7 5 2 2 0-8 1 1 0 1 1 2 0 0 0-5 282 4 4 1 2 1 3-1 1-2 2 2 0-4 1 0 2 1 3 3 2-1 1-4 3 1 0-1 3 1 0 5 1 2 0-3 2-3 1-2 1 8 2 0 0-5 2 5 0-6 11 2 0 3 0-7 1 3 0 2 0-5 1 5 0-1 1 2 0 2 0 1 0-8 1 1 0 0 0 1 0 0 0 2 0 2 1 2 0 0 0-9 271 3 6-3 5 5 6 3 2-6 2 0 1 2 1 1 1-5 2 7 3-2 3-2 9 2 3 4 7-4 8 3 0-2 1 1 0 2 0-8 1 3 0 1 0-3 1 5 0 0 0 0 0-7 1 1 0 2 0 1 0 2 0 1 0 0 0-5 1 2 0 1 0 3 0-8 1 5 0 4 0-1 1-7 1 5 0-6 326 0 0 1 0 3 1-4 1 6 0-6 1 1 0 0 0 3 0 2 0-5 1 0 0 1 0 7 0-9 1 1 0 0 0 3 0 0 0 3 0 2 0-6 1 1 0-4 1 0 0 1 0 2 0 1 0 4 0-8 1 2 0 2 0-2 1 1 0-2 1 2 1 13-2 3-1-2 0-2 0 0-1 2-1 0 0-2 0-1 0-2 0 5-1-3 0 4-1 0 0-1 0 0 0-6 0 3-1 0 0-2 0-1-2 8-1-5-324-3-3 7-1-6 0 0 0-2 0 0 0 8-1-1 0 0 0-1 0 1-1 0 0 0 0 0 0-1 0 0 0 0 0-1 0 0 0-2 0-1 0-2 0 0 0 9-1 0 0-1 0-2 0-1 0 0 0-2 0-1 0-1 0 8-1-2 0 0 0-1 0 0 0-1 0-2 0-1 0-1 0-1-1 7-1-6 0 1-14-2-4 6-1-5-6 6-8-5-2 4-295-1 0 0 0 2-1-2 0-2 0-1 0 0 0-1 0 4-1 1-1 0 0 0-2-1-1-5 0 7-2-7-3 3-2 2-2-1-3-1 0-1-2-1-1 0-1 0 0-1-1 2-1-2-9 3-302-1 0-1-8 0-2 0-4-1 0 1-1-1 0 10 14 5 0-1 1-1 1 1 332 5 0-4 1 4 329-5 1 2 1-5 1 2 0 2 0 4 0 0 0-6 1 1 0 3 0 2 0 0 0 0 0-8 1 1 0 1 0 1 0 2 0 0 0 1 0-7 1 0 0 0 0 2 0 0 0 1 0 2 0 1 0 0 0 3 0-9 1 1 0 4 0 1 0 2 0 0 0-3 1 2 0 0 1-2 1 3 0-8 328 5 0-2 1 5 0-7 1 2 1 1 1 1 0 1 0 1 0-3 1 1 0 2 0 0 0-5 1 14 2-3-2-3 0 9-1-3-1-4 0 7-1 0 0 0 0-1 0-4 0-3 0 4-1-5-1 6-1 0 0-3 0-3 0 5-329 0 0 1-1-4 0 7-1-3 0-1 0-1 0 0 0 0 0 0 0-1 0-2 0 3-1 0 0-2 0-1 0 0 0-1 0 0 0 0 0 0 0 0 0 5-1-2 0 0 0 0 0-3 0 0 0 0 0 9-1-6 0-1 0-1 0 0 0-1 0 0 0 4-1 1-1-1 0 0 0-2 0 6-330-5 0 0-1 2-333 3-1-5 0-2 0-1 0 4-1 0 0 12 0-5 1 8 0 0 0 0 1 0 332-3 332 2 0 1 1-5 2 1 0-2 1 0 0 2 0 4 1-8 1 8 0 0 0-5 1-4 3 3 323-3 2 5 2 4 0-9 1 1 0 1 0 2 0 3 0 1 0 1 0-7 1 1 0 1 0 2 0 3 0-8 1 2 0 4 0-4 1-1 1 12 2-3-1 4-1-4-1 0 0 5-1-2 0-2 0-2 0 9-1-3 0-6 0 0 0 8-2-1 0-4 0-3 0 6-1-2 0 0-1 1-1-3-326-1-1 5-1-3 0-1 0 7-1-2 0-5 0-1 0 7-1 0-1-6-1-1 0 3-1-2 0 5-1 0-330-4 0-2 0 7-2-3-333-1 0-2 0-1 0 6-1-6 0 10 0 1 1 0 332 0 1 3 1 1 0-4 328 1 5 4 0-7 1 0 0 0 0 5 2 0 0 1 0-2 1 1 2 0 324-1 4 5 0-8 1 2 0-1 1 2 0 3 0 0 0-6 1 3 0 3 0 0 0 1 0 0 0 1 0-5 1 3 0 1 0 0 0 1 0-7 1 2 0 3 0-7 1 5 0 1 0 5 1 4-1-2 0-2 0 3-1 2-1-2 0 0 0-2 0 7-1-2 0 0 0-2 0-1 0 0 0-2 0-1 0 0 0 8-1-4 0 0 0-2 0-1 0-2 0 7-1-3 0-2-1 3-1-2 0 0 0-2-2 8-663 0 0-4-1-5 0 1-3 14 669-5 1 0 1 2 0 3 0 2 0 1 0-8 1 1 0 2 0 3 0-3 1 4 0-6 1 8 0 0 0-9 1 1 0 3 0 3 0-3 1 1 0 0 0 5 1 1-2 0-2-1 0 138-1198-4 1 3 0 2 0 0 0 0 1 0 0-3 1 3 0 0 2-3 338 2 0 0 1 0 0 1 0-1 1-1 2 0 0 2 337-1 1-1 1 0 0 1 0 1 0-7 1 1 0 3 0 1 0 1 0 0 0 0 0 0 0 1 0-5 1 3 0 1 0 1 0 0 0 0 0-4 1 2 0 0 0 1 0 1 0 0 0-1 1 1 0-3 2-2 335 4 1-7 1 6 0 1 0 0 0 1 0-7 1 6 0 1 0 0 0-3 1 1 1 1 0 1 0-2 1 0 0 1 0-2 1 3 1 10 4-1 0-1-1 2-2-2-2-1 0-4 0-1 0-1 0 6-1-1 0-3 0 7-1-1 0-1 0 0 0 0 0 0 0-1 0 0 0-1 0 0 0-1 0 0 0-1 0-1 0-1 0 0 0 0 0 0 0-1 0 0 0 8-1 0 0 0 0-1 0 0 0 0 0-1 0 0 0-1 0 0 0-1 0-1 0 0 0-1 0-1 0-1 0 8-1 0 0 0 0-1 0-3 0-1 0-1 0-2 0 0 0 0 0 0 0 9-1-2 0 0 0 0 0-1 0 0 0-1 0 0 0 0 0 0 0-2 0-1 0 0 0 0 0-1 0 0 0 0 0-1 0 0 0 0 0 0 0 7-1 0 0 0 0 0 0 0 0-2 0 0 0 0 0-1 0-3 0-1 0 0 0 4-1 4-325 0-7-4-1 5-1-2-1-1 0-2 0 0 0-4 0 0 0 8-1-1 0-1 0-1 0 4-1-1 0 0 0 0 0-3 0-1 0-2 0-1 0 0 0-1 0 8-1-1 0-1 0 0 0-1 0 0 0 0 0-1 0 0 0 0 0-1 0 0 0 0 0-1 0-1 0 0 0 0 0-1 0 0 0 0 0 9-1 0 0-2 0-1 0 0 0-2 0 0 0 0 0-1 0 0 0 0 0-1 0 0 0-1 0 0 0-1 0 0 0 8-1 0 0-1 0 0 0-1 0 0 0 0 0-1 0 0 0-2 0 0 0 0 0-2 0-1 0 8-1 0 0-1 0-1 0-2 0 0 0 0 0-3 0 0 0 0 0 0 0 7-1-2 0 0 0-5 0 3-1 0 0-4 0 8-319 0-4-2 0 1-7 0-3 0 0 0-1-2 0 4-1-1 0-1 0-3 0-1 0-3 0 9-1-1 0-1 0-1 0-1 0 0 0-1 0 0 0-2 0 0 0-1 0-1 0 9-1 0 0-1 0 0 0 0 0-2 0-1 0-1 0 0 0-1 0-1 0-1 0 0 0 8-1-1 0 0 0-1 0 0 0-1 0 0 0-1 0-1 0-3 0 8-1-1 0-1 0 0 0 0 0-1 0 0 0 0 0-1 0 0 0 0 0 0 0-1 0 0 0-1 0-1 0-1 0-1 0 0 0 9-1-2 0 0 0 0 0 0 0-1 0-3 0-1 0-1 0 8-1 0 0-1 0 0 0 0 0 0 0-1 0 0 0 0 0 0 0-1 0-1 0-2 0-1 0-1 0-1 0 5-1 0 0-1 0 0 0-1 0 0 0 0 0-2 0 7-1-1 0-5 0 6-1-7 0 6-1-2 0 2-325 1-1-3-1 1-2-2-1 4-1-3 0-1 0 2-1 3-1-1 0 0 0 0 0-3 0 0 0-3 0 0 0-1 0-1 0 9-1 0 0 0 0-1 0-1 0 0 0 0 0-3 0-1 0-3 0 9-1 0 0 0 0-1 0 0 0 0 0 0 0 0 0-1 0 0 0-1 0 0 0-1 0-1 0 0 0-3 0 8-1 0 0-1 0 0 0-1 0 0 0-3 0-2 0 0 0 0 0-1 0 8-1 0 0-1 0-1 0 0 0-1 0-1 0 0 0 0 0-1 0 0 0 0 0-1 0 0 0 0 0 0 0 0 0-1 0 0 0 0 0-1 0-1 0 0 0 0 0 9-1-1 0 0 0-1 0-1 0-1 0-1 0 0 0 0 0 0 0-1 0 0 0 0 0-1 0 0 0 0 0-1 0 0 0-1 0 8-1-2 0 0 0 0 0-1 0-1 0-1 0-3 0 8-1-1 0-1 0 0 0-1 0-1 0-1 0-1 0 1-1-2 0 17-17 1 0 0 4-2 8-2 3-5 1 8 0-7 1-1 1 2 0 0 0 3 0 1 0-5 1 0 0 1 0-2 1 1 0 1 0 0 0 5 0 1 0-8 1 1 0 0 0 2 0 0 0 2 0-5 1 0 0 1 0 1 0 0 0 3 0-5 1 1 0 1 0 0 0 2 0 1 0 0 0-5 1 1 0 3 0 0 0-4 1 1 0 1 1-1 1 7 2-4 4-2 1 6 0-5 1 2 0-5 3 4 321 3 0-6 1 1 1-2 1 2 0 1 0 0 0-3 1 4 0 1 0 4 0-9 1 0 0 0 0 1 0 7 0 1 0-9 1 0 0 1 0 0 0 0 0 1 0-1 1 0 0 0 0 0 0 2 0 3 0 1 0-7 1 0 0 1 0 0 0 1 0 2 0-3 1 1 0 0 0 0 0 5 0-7 1 2 0 0 0 2 0 3 0 1 5-6 4 7 0-5 8 5 0 0 1 0 314-3 2 2 0-8 1 0 0 2 0 0 0 1 0 2 0-4 1 2 0-1 1 2 0-4 1 0 0 7 0 2 0-9 1 0 0 5 0 1 0 3 0-9 1 2 0 2 0 1 0 2 0-3 2 2 0-1 1-5 3 6 0 3 0 0 1-6 5-2 325 2 0 5 0-6 1 3 0-5 1 2 0 3 0-5 1 3 0 3 0-6 1 0 0 3 0 1 0 0 0 1 0 0 0 4 0-7 1 0 0 4 0-6 1 0 0 1 0 1 0 2 0 0 0 5 0-8 1 0 0 2 0 0 0 1 0 1 0 0 0 2 0-6 1 2 0 1 0 2 1 0 0 3 0-8 1 0 0 6 0 1 0-4 2 5 0 0 1 0 0 0 1 8 9 2-3-7-1 5-1 2-1-1 0-1 0 1-1-1 0-3-1 4-1 0 0-7 0 1-1 0-1 6-3-5 0 5-1-2 0-2 0-1 0 0-3-2 0-1-2 4-2 1-1-4 0 0 0-1 0 4-3-1-4 5-2 0 0 1-316 0-1-2 0-2-3 3-3-4 0 3-2-6 0 8-1-3 0-1 0-2-5-2 0 0-1 0 0 6-2-1-1-4 0-1 0 6-1-2 0 0-1-1-1 1-1-3 0 6-1-6 0 6-2-1 0 2-2-4-323-5-1 8-2-7 0 0-3 1-7 0 0 6-1-7 0 8-2-4-2 3-1-1-6 2-2-7-319 2-1 2-2-3 0 6-1-5-2-4 0 4-1 2-1 0-1-5-1 8-2-7 0 3-2-1 0 2-2-1 0-1 0-1 0-3 0 7-1-6 0 8-1-2 0 0-2 1-1 1-1-4 0-2-7 15-11-2 4 3 1-2 8-4 1 3 0-6 5 5 0 1 0-3 2 2 0-3 1 3 0 2 0 2 1-5 1 4 1-7 2 4 0 0 3-2 1 2 0-5 3 8 323-2 3 3 0 0 0-9 1 5 0 2 0 0 1-5 1 3 0 2 0-6 1 1 0 3 0-3 2 2 0 2 0-4 5 7 0-1 1 0 1-6 1 1 0-3 1 2 1-1 2-1 2 3 0 4 0-6 2 5 0-5 8 8 314-1 1-2 1 1 1-6 1 4 0-2 1 1 0 3 1-5 1 5 0-2 2-4 1 7 2-5 1 0 5 0 3 0 4-3 4 3 2-2 1 6 0 2 2 0 3-8 307 7 1-3 1 2 0-5 1 2 3-3 1-1 6 4 13 3 0-6 1 0 1-1 1 1 0 0 0 2 0 3 0-3 1 3 1 0 0 1 0 2 0-7 1 4 0 3 0-9 1 6 0-4 1 2 0 3 0-5 1 6 1-2 1 2 0 0 2-7 2 6 0 11 1-3 0 4-1-4 0-3 0 2-1 4-1-1 0-1 0-1 0-2 0 0 0 0 0 3-1-6 0 6-1-2 0-2 0-2 0 4-1 0 0-1 0 0 0-1 0 1-1-2 0 3-2-1-3-3 0 8-20-3-3 0-1-2-6 0 0-3 0 6-1 1-3 1-1 0 0 0-2-1 0 1-1-3 0-1 0-1-296-3-8 3-1 2-4 1-7-2-1 3-4-2-4-5 0 1-3 2-1 6-3-4-2-3 0 0 0 0-1 6-1-4 0-3 0 7-1-7 0 8-2 0-2 0 0-4 0 4-2 0 0-7 0 6-1 1-1-1 0-1-1 2-1 0 0-1 0 0 0-8-312 0-5 3-2 4-1 1-3-4-2 5-1-1 0-1 0-1-1-1-1-5-1 7-2-7 0 0 0 1-1 6-1 0-1-1-1 3-1-2 0-2 0 4-1-5-3 1-5 3-2-8-320 6-7-4 0 0-1-2 0 3-1 0 0 6-2-2-1-3-1-2-1 7-1-1 0 1-1-2 0-4 0 6-1-2 0 1-2 1-2-3-5 11-15 2 3 0 4-1 1-6 4 2 0 2 0 1 0-4 2-1 2 3 1 0 1 2 2 2 0-3 5 1 1 2 0-3 1-4 1 6 0-7 1 0 4 1 297 7 21-4 6 2 0 0 4 0 0 0 0 0 1 1 0-7 1 1 0 2 0 1 0-4 3 2 0-2 1 6 0-1 2 2 1-4 2 0 0 0 3 1 0-4 2 8 0-3 1 0 1 1 2 2 319 0 0-2 2 1 0 1 1-5 1-2 1 3 1 2 0 0 0-7 1 8 0-6 1-2 1 3 0 0 0 0 0 2 0-5 2 9 0-6 1 0 0 2 0-3 1 7 0-9 1 6 0-2 1 2 3-4 1 6 0-4 3-2 1 2 1-2 2 4 3-5 1 0 3 4 0-4 2 0 1 1 5-2 2 7 2-5 1 5 6-6 1 7 0 1 0-8 1 5 5-1 1 0 3-2 1 6 2 0 275 0 5-9 4 1 3 1 3 4 0-5 1 7 3-8 1 4 1-1 22 1 12-4 6 2 0 1 0 1 0-3 1 4 1 0 0 3 1-7 1 4 0-4 1 2 0 4 0 2 0-8 1 1 0 1 1 1 0 2 0 2 0 1 0-2 2-2 3 12 5 2-2-1-1-5 0 6-2 0-1-4 0 4-1-2 0-6 0 3-1 4-1-1 0 1-1-4 0 0 0-4 0 2-1 2-1-2 0-1 0 6-1 1-1-5-1-2 0 8-5-8-2 3-21 1-14 0-4-5-3 2-1-1-2-1-4 2-6 6-2-3-1 1-1 2-272-2-1-2-2-3 0 4-2-5-2 2-1-2 0 0-1 7-2-7-2 9-2-4-2-5-6 7-4-3-4 1-3 1-5-5-3 7-1 1-5 0-2-4-2 0-1 4-5-4-2-4-1-1 0 7-1 1-1-2-1-4 0-1 0 8-2-5 0-4 0 0 0 1-1 0 0-1 0 7-1-3 0-4 0 6-1 3-5-7-299 0-15-2-5 1-1-1-1 7-3-7 0 9-1-4 0-4-1 7-1-8 0 7-1-7-3 9-1-2 0-7 0 6-1-5 0 5-1-5 0 4-1-3 0-1 0 8-1-5 0 3-1-2 0-5 0 7-2 0-7 0-284-4-28-3-9 4-2-3-1 8-3-5 0-1 0 1-1 2-1-4-1 5-3-2 0-4 0 5-1-1 0 0-1-3 0 5-1-3-6 4-2-4 0 12-16-6 5 4 1-1 2 5 0-8 2 8 0-5 3 5 0-6 1 6 1 0 0-8 1 8 1-8 1 0 0 0 0 0 0 1 0 4 0 1 1-5 1 2 3 3 0-3 1 1 0 1 0 2 0-6 2 4 1-3 3 7 3-2 4-2 313 3 0 1 2-3 2 1 0 0 2 0 0 0 1-5 1 5 1 0 0 0 0-7 1 1 2 7 0 1 0-8 1 3 0 2 1 1 0 1 1-2 2 1 0 1 0-2 1-4 1 0 0 3 0 1 0-6 1 4 0-1 2 3 1 2 2-6 2 5 0-6 2-1 1 1 0 0 0-1 1 5 1 0 4-5 1 9 313-3 1 0 2-4 1 2 0 3 2-5 2 2 1-3 2-1 1 4 0 5 2-7 1-1 1 4 3-3 3 7 8-9 2 1 8 6 0 0 1-4 1-1 2-2 2 1 1 3 1 5 2-5 5 2 1 0 1 2 5-2 2-4 9 4 0-6 4 4 1 3 0-2 4-5 1 7 1 0 0 2 0-2 3 2 0-1 2 0 255-2 3-3 3 0 3 2 0 2 2-5 17-2 15 4 6 4 12-6 15 4 1-2 1 1 0-1 3-1 2 3 0 0 0 1 0 0 0-7 1 4 1 4 1-8 1 2 0 5 0 0 0-7 2 1 1 4 0 1 0 9 10 2-4 0-1-3 0 3-1-4 0-3-1 8-1-3 0 4-1-3 0-1 0-2 0 4-2-2 0-1 0 3-1 0-1-5-1-1 0-1 0 0-1 9-4-2-8-2-1 0-29-1 0-4-21 3-1 4-1-2-7 2-5-5-1-2-3 8-16-1-240 0-2-1 0-5 0 0-1-1-2 9-2-8-2-1 0 9-1-9-1 9-3-1-2-3-1-3 0 1-1-1 0 5-4 2-5-8 0 3-4-1-2 0-1-1-3-1-4-1-1 7-2-3-3 3-1-2-5 1-9-3-4-1-3-2-4 9-9-1-1 0-2-4-2-1 0 6-2-5 0-3 0 0 0-1-3 9-1-8 0-1 0 0 0 0-1 9-2-2 0-3 0 2-2-4-304 0-8 6-4-5 0-3-2 6-5-2-2-3 0 7-1-2 0-1 0-2 0 5-1-1-1-2 0-2 0 6-2-5-1 3-2-1 0-2 0-4 0 6-1-2 0-3 0 0 0-1 0 0 0 9-4-2 0-1 0-2 0-1 0-1 0 3-1-2 0-1 0 7-1-7 0-1 0 0 0 3-1 1-1-4 0-1 0 6-1 0-1 0-3-1-2 4-2-4-281 3-16-4-23 1-3-1-1-1 0-3-1 0 0 5-1 4-1-1-1 0-3-5 0 5-1-2 0-1 0 3-1 0-1-1 0-5-1 6-1-1 0 0 0-6-1-1 0 9-1-4 0 1-1-3-1 0-1 4-1 2-1-6 0 4-4 0 0 9-8 1 1 1 0-6 1 2 0 4 1-7 2 4 0 2 3-3 1 1 0-5 1 6 1-1 1 1 0-6 1 0 3 1 0 3 1 1 0 2 5-4 1-3 1 0 0 0 3 0 3 5 15 3 306-6 3-1 1 1 0-1 2 8 0-8 1 5 0 3 0-8 1 2 0 6 0 0 0-9 2 0 1 9 0-7 1 2 0-2 1 0 0-2 1 0 0 1 0 2 0 5 1-4 1 1 0-5 2 5 0 1 0-5 1 3 0-1 1-2 1 6 0 1 0-8 4 5 1 4 0-5 1 4 0-8 4 2 2 1 1 3 1 1 3-6 3 1 0 7 304-6 4 1 1-1 1-3 1 4 0 2 1-3 2-3 1 5 5 2 0 2 1-8 14 0 2 5 1-2 4 4 7-2 4-6 3 3 0 4 5-4 8-1 10 5 1-2 6-2 1-2 1 1 0 0 2 2 3 5 6-4 2-2 1 1 1 0 1 2 1 3 1-8 3-1 1 0 1 8 2-4 235 1 1-1 1-4 3 2 0 3 4-3 19 5 7 1 3-4 4-3 1 5 2 3 0-9 4 6 16-2 6 2 18-5 1 3 15 1 1 2 0-6 1 0 0 1 0 2 0 2 0-6 1 0 0 1 0 3 0 3 0-5 1 0 0 3 0-5 1 7 0 0 0 2 0-9 1 3 0-2 2 3 0 4 1-5 1 3 0 13 4 0 0 0-2-1 0-1-1-6 0 0 0 7-1-1 0-2 0 4-1-2 0-3-1-1-1 0-3 4-8-6-3 5-4-6-3 1-1 2-11-1 0 6-1-1-8-3-4 4-8-2 0 0-18 1-45 2-221-1-1 0-1-5-1-3-2 5-1 2-1-7 0 0-1 9-2 0 0-7-1-2-1 7-3 1-2-5 0 2-1-1 0-1-1 6-3-5 0-3-1 1-1 1-5 6-4-1 0-1 0-4-1 6-1-8 0 5-14 2-9-6-6 3-2-2 0-2-3 8-5-7-4 5-5 0-3-4 0-1-16 7-9-4 0 2-1-3-13 4-2-3-308-5-2 9-1-7-1 7-4-1-3-6 0 2-1 0 0-2 0-1-1 7-1 0 0-3-1-4 0 5-1 1-1 0 0-1 0-5 0 6-2-3 0-3 0 8-1-8 0 4-1-2-1 5-1-3 0 4-1-6 0 3-1 0 0-4 0 5-1-1 0 0 0-3 0-1 0-1 0 8-1-1 0-2 0 3-2-1 0-2 0-6 0 7-1-2-2-3 0 6-1-4 0 4-1 0 0-4 0 2-1 1-306-2 0-5-6 1-2 4-3 0-1-2-7 0-1 6-3-3 0-3-2 2-1 2-2 1-2-8 0 7-1-6 0 4-1 2-1-1 0-2 0-4 0 0 0 7-2-5 0 7-1-5 0 3-1 1-2 1-2-8-3 5-3 1-1 4-5 4 2 4 1-6 1-3 1 1 1 1 0 1 0 0 0-2 1 0 1 2 0 6 0-3 2 1 0-2 1 2 0-7 1 4 1 0 0 5 0-4 2 2 0 1 1-7 1 0 1 0 3 2 0 5 1-7 2 3 23 4 3-3 6 2 299 0 0-7 1 2 0 5 0 2 0-9 1 8 0-4 1 2 0 2 0 0 0-3 1 4 0-7 1 1 0-2 1-1 1 3 0 4 0 1 0 1 0 0 0-7 1 2 0 4 0 1 0-8 1 2 0-3 1 0 0 3 0 0 0 0 0 1 0-4 1 0 0 5 0 3 0 1 0-6 2 1 0 0 0-2 1 1 0 1 0-3 1 0 0 2 0-3 1 9 0 0 0-9 1 9 0-5 1 5 0-7 1 4 0-2 1 2 0 0 0 2 1 1 0-9 2 1 0 3 0 2 1 2 0-3 1 3 1-7 1-1 1 4 0-2 1 4 0 1 1 2 0-8 14 7 294-4 10-1 3-2 7-1 2 9 2-4 13-3 10-2 15 3 2 6 1 0 1-8 3 8 13-1 5 1 2-5 1 4 2 1 0-3 2-2 4 1 4-5 2 0 0 3 3 3 1 1 2-3 3 5 2-2 1-3 1-4 2 5 1-1 4-3 3 6 0-3 1 0 5 0 4 2 0-3 1 5 2-2 229-4 7 4 2-2 2 1 0 3 5 1 4-7 8 5 0-3 3-1 5 4 1 1 8-5 9 4 22-7 31 1 0 2 0 0 1 0 0 4 0-6 1 7 0-6 2 6 0-6 2 1 0-1 1 5 0 1 0 1 0-6 1 1 0 1 0 1 3 10 5-3 0 4-1-2 0 0-2-1 0 1-2 3-1-1 0 1-1-7 0 8-1-8 0 6-2-4-1-2-1 2-2 5-11-5-2 2-2 3-2-5-2-2-6-1-5 0-1 9-28-9-4 4-3 3-8-4-10 6-248-6-1 3-1 3-1-2-1-1-7-1 0-1 0 4-1 0 0-7-6 2-3 0-3-3 0 5-12 2-6-2 0 3-3-5 0 0 0 4-2-2-3-3 0 0-6 7-3-9-8 1-5 6-2-2-7-4-4 0-1 2-1-3-1 3-1-3-20 4-3-3-1 2-4-2-12 0-9 6-1-4-4 5-1-2-4-1 0-3 0 0 0 5-1-3-1-1 0-3-278 3-31-2-2-1-1 6-1-5-2 7-2-1-1-7 0 0-1 1-4 2-1 4-1-3 0 2-1-2 0 4-1 0 0-2 0-4 0 5-1-4 0 0 0-3 0 6-1-1 0-1 0-2-1-1 0-1 0 5-1 4-1-1 0-4-1-1 0 0 0 5-1-8 0 8-1-3 0 0 0 4-1-1 0 0 0-5 0 3-2-3 0 2-1-2 0 4-2 0 0 2-1-4 0 4-3-3 0 1-305 1-4-1-3 1-1-2-5-2-3-4-5 6-1-4-2 5-2-2 0-2 0 2-1 1-2-6 0 0-1 1-1 5-1-2 0 1-1-2 0 2-1 2-2 1-1-2 0-6-1 2-1 5-1-1 0 2-3-2 0 1-1-1 0 0-3 9-14 4 2-1 6-4 2-1 2-1 1 7 1-6 1 1 0 0 0 4 0 1 0-8 1 4 0 2 0 2 0-4 1 4 0-5 1 0 0 4 0-3 1 2 0 1 0 1 0 0 0 0 0-5 1 1 0 1 0 2 0-7 1 3 0 4 0-8 1 4 0 2 0 2 2-3 1 2 0-7 1 2 0 2 0 1 0-4 1 3 0 2 0 0 0 1 0-7 1 0 1 9 0 0 0-7 3 1 0-3 3 1 0 4 2 0 0-4 1 1 0 2 0 1 1-2 1 1 0-2 2 0 3 7 0-5 2 2 3 0 5-4 3 0 304 3 1 1 1-2 1 3 0-4 1 0 1 3 0 2 0 0 1 1 0-9 2 8 0-5 1 2 0 0 0-3 1-2 1 2 0 4 0-4 1 4 0 0 0 0 2 2 1-8 1 2 0 2 0 2 0-4 1 3 0 1 1-6 2 1 0 2 2 3 0 3 0-1 1 0 1-8 1 3 2 4 0 2 0-2 3 0 0-5 4 5 2 2 3-3 35-4 8 7 257-7 3 0 1 6 0-4 2 5 1-9 2 8 1-7 3 7 4-7 9 1 8 6 5-6 1 2 21 1 6 0 11-4 2 1 4 2 1 1 8-5 4 3 6-1 4 5 5-4 12 5 5-5 12 1 7 0 2-1 1 2 4 0 1-5 2 2 4 3 1 3 0-1 217-1 26 1 8 2 1-5 4 5 6-7 10-1 9 2 3 4 0 1 15-5 34 4 1-4 1 3 2-3 1 2 0-3 1 0 1 7 0-7 1 4 0-5 1 4 0 1 0 3 0-4 1 4 1-3 2 3 0-1 1-6 1 6 1 7 3 4-3 0 0-4 0-2 0-2-2 0-5 4-1-2-5 5-10-2-9-3-8 5-3-1-4 1-3-7-21-1 0 0-3 5-2-3-17 7-15-3-6-1-231 0 0-2 0 2-1-2-1-1 0-1 0 6-8 0-1 0-2-3-7 0-5 4-21-4-14-3-2 4-8-4 0 1-3 2-2 5-6-2-14-5-8 2-29 2-19-4-3 1-10-3-1 8-3 0-306-1-5-3 0 0-1-1 0 5-2-8-1 4-2-3 0 2-2 4-4-3-1-1 0 0 0-1 0 2-1-3 0 6-1-2 0 0-1-3 0 5-1-3 0-4 0 0 0 3-1-1 0 5-1-1 0-2 0-2 0 2-1 0 0-1 0-1 0 0 0-2 0 8-1 0 0-8 0 9-1-2 0-4 0-2 0 4-1-2 0 0 0 5-1-4 0-1 0-2 0 0 0 8-1-2 0 0 0-2 0 0 0 0-1 1-1 0 0 3-2-1 0 0-1-2 0-1 0-1 0 4-1-2 0 0-2-3-3 6-1-3-288 0-9-4-16 5-3 1-1 1-1-2 0-7 0 9-3-9-2 8-1-5-1-1 0 2-1-1 0-2 0 6-1-6-1 7-3-1 0-2 0-2 0 5-1 0 0-1-1 0 0-2 0 0 0-1 0 0 0-1 0-1 0 7-1 0 0-2 0-2 0 1-1-3 0 2-1 0 0-4 0 8-1-3 0-3 0-1 0 0 0-1 0 7-1-1 0-2 0-2 0 6-1-6 0 6-1 0 0-1 0-1 0-6 0 6-2 0 0-1 0 3-2-4-1-4-1 7-1-4-1 3-1-4-1 0-1-2-2 1-1 8-9 5 7-4 1-1 2 7 0 2 0-9 1 9 2-7 2 4 0 0 0 0 0 1 0 0 0 2 0-6 1 3 0 1 0 2 0-7 1 1 0 3 0 2 0 0 0 0 0 0 0 1 0-9 1 2 0 0 0 4 0-6 1 2 0 2 0 3 0 1 0-2 1 1 0 2 0-8 1 1 0 1 0 3 0-6 1 1 0 2 0 6 0-9 1 0 0 5 0 2 0 2 0-4 1 0 0-5 1 0 0 0 0 9 0-9 1 1 0 2 0 2 0 3 0-6 1 3 0 1 0 1 0-6 1 2 0 3 0 2 0 1 0-9 1 3 0 3 1 2 0-4 1-3 2 5 0 1 0-7 1 5 0 2 0 1 0-4 2 5 0-8 1 8 0-1 1-8 1 2 0 7 0 0 0-8 1 7 1-6 3-1 1 2 0 5 0-6 3 5 0-7 1 0 1 9 5-6 1 0 0 2 13 2 291 2 0 0 1 0 0 0 1-2 1-7 2 9 0-3 1 3 0-4 2-3 1 1 0 2 0 0 0 0 0 1 0-4 1 2 0 1 0 2 0-1 1-3 1 6 0-1 1 1 0-9 2 2 0 4 0 3 0 0 0-6 1 1 0 3 0 1 0-8 1 5 0 4 0-9 1 1 1 2 0 1 1 4 0-7 1 3 0 3 0-6 1 0 0 2 1 1 0-2 1 2 2-3 1 1 0 3 2 1 1-2 2 0 1 5 0-9 1 4 0 4 2-6 7 5 73-6 43 5 183-1 46 2 5 0 6-3 2 3 0-4 10-2 6 2 11 4 0-6 4 7 5 1 1 0 11-9 16 1 1 3 6 5 1-6 3-1 3 2 4-3 4 0 7 8 3-8 9 3 4 3 1-7 3 3 1 4 1-1 2 1 0 0 6-5 219 5 12 0 55-5 4 2 12 3 1-7 9 1 13 7 4-8 3 0 1 3 5-2 2 5 1 0 1 2 0-7 1 1 0 4 0 3 0 0 1-6 1 8 6 8-2-1 0-2 0 3-1-2-1-3 0-4 0 8-1-3 0-4-1 1-1 4-1 2-1-5-1 5-1 1-1-6-4-1-8-1-19 1-11 5-4-4-23 3-35-3-16-1-217 7-19-2 0-2-6 0 0-1-3-2-3 2-15-3-5 6-6-7-11 8-1-3-3 3-5-5-3-2-8 5-9 0-1 0-12-3-10-3-10 4-5 3-3 1-10-1-242-5-47 7-7-8-18 8-8-7-3 0-20 6-1-7-1 1-2 3-1 0-3 1-1-5 0 7-1-5 0 0-2-2 0 0 0 8-1 0 0 0 0-9 0 6-1-1 0-1-1-3 0-1 0 0-1 8-1-5 0-1-1 1-1-3 0 9-1-3 0 2-1-2 0-1 0 2-1-3 0 4-1-5 0-1 0-2 0 9-1-3 0-3 0-3 0 9-1-2 0-1 0-4 0 4-1-1 0 0-1-5 0 7-1-6 0 8-1 0-3-1-1-3-2 0 0 1-2 0-4-4-289 6-1-8-2 5-1-2 0-3 0 2-4 7-1-3-7-3 0-2-1-1 0 0-1 2-1 5-3-2 0 4-3-1 0-4 0 4-1 1-1-3 0 0 0-3 0 6-1-1 0-3 0 0 0-2-3 5-2-2 0-1 0-2 0 0 0 1-1-2 0 5-1-4 0-2 0-1 0 0 0 8-1-7 0 4-1 0 0-2 0 2-1-2-1-2 0 8-1-3 0-5 0 0 0 8-1-5 0-3 0 7-1-5 0-3 0 9-1-4 0 2-1-3 0 1-1 2-1-2 0 0 0 0 0-5 0 9-1 0 0-3 0-5 0-1 0 8-1-2 0-6 0 9-1-4 0-1 0 0 0 0 0-2 0 7-1-1 0 0 0 0 0 0 0-1 0-7 0 0 0 7-1-4 0-2 0 8-2-2 0 7-2 2 1-6 1 1 0-1 1 6 1-6 1 2 1 1 0 4 0 1 0 1 0-9 1 2 0 2 0 3 0-7 1 2 0 2 0 4 0 0 0 0 0-6 1 3 0 3 0-8 1 4 0 0 1-3 1 7 0-6 1 1 0 1 0 3 0-7 1 6 0 1 0-1 1-4 1 1 0-2 1 1 0 4 0 1 0 0 0-7 1 0 0 1 0 2 0 2 0 3 0-1 1 2 0-4 1-4 1 8 0-6 2 4 0-5 1 1 0 1 0 5 1-4 2 0 1-2 1-2 2 0 0 3 0 1 0 2 0-7 1 7 0-1 1-2 1 0 1 3 0 1 0 1 1-9 1 9 0-6 1 1 2 3 5-2 1 1 4 1 1 1 0 0 5-2 6 3 286-5 2-1 1 1 2-2 1 4 0-5 1 3 1-3 1 0 0 1 1-2 1 5 0 1 0-6 1 7 0-5 1-1 1 3 0 0 1 3 0-7 1 6 0 0 0 3 2-2 1-6 3 0 0 4 3-1 1 2 0-4 3-1 2 1 0 6 0 0 8-5 2-1 12 7 15 0 1-9 5 5 4-4 1 3 7 2 35 0 17-4 230-1 14 4 18-2 9-2 24 3 6 0 10 0 28 5 1-1 1-1 2-4 7 2 0 1 7-5 2 8 0-7 2 6 3-6 4-2 3 0 4 4 1-2 2 4 4 0 2 2 3-1 1 1 0-6 3 4 7-6 225 6 1 3 4 0 0 0 12-9 8 7 3-7 25 3 4 4 43-7 13 9 0-9 1 0 0 4 1-4 2 5 0 0 1 0 0-2 1-3 1 9 1-8 4 16 1-3 0 5-1-4 0-1 0 5-3-1 0-2 0-1-2-3 0 1-3-2 0 5-33-6-2 3-17 6-16-8-14 6-3-1-22-1-8 1-222-5-1 0 0 4-3-3 0-2 0 4-1-1 0-1-2 2-12-3-3-1-1 8-13-6-4 0-3 5-9-6-9 5-2-2-8-1 0 3-19 3-5-4-6 0-4 1-7 3-5-7-10-1-5 4-16 4-253-5-51 3-3-6-2 4-6-3-8 7-5-5-1-4 0 3-29-3-2 0 0 7-3 0-2-3-1-1 0-3 0 5-2 0-1 1-1-2 0 2-1 3-1-6-1 4-1-6 0-1-1 5-4-5-2 3-9 6-277-3-2 3-1-8-2 6-1-6-1 5-2-2-1-2 0 1-1 3-1 1-1-2-2 2-4-5 0-1-3 7-1-7 0 0-1 8-1-3-2-2 0 4-1-5 0-1 0 0-2 4-2-2 0-3-2 3-1-1 0 6-1-4-2 4-1-3 0 0-1-6 0 9-1-9 0 6-1 2-1 1-1-3 0-6 0 9-1 0 0-7 0-2 0 8-2 0 0-5 0 3-1-5 0 7-1-8 0 0 0 8-1-1 0-4 0 4-1-2 0-3-1-2 0 9-1 0 0-3 0-4 0 5-1 0 0 2-1-2 0-7 0 6-1-4 0 6-1-2 0-6 0 6-2-4 0 0 0-2 0 0 0 7-1-1 0-6 0 0 0 8-1-4 0 5-1-2 0-5 0 5-1-2 0-5 0 6-1-5 0-1 0 8-1-2 0-3 0 5-1-2 0-3 0 2-1-5-3 0 0 2-1-1 0 0-1 9 12 2 0-2 1 2 1-1 2 0 0 0 1 2 1 0 3 2 2 0 0 2 1-1 1-5 1 1 0 0 1 1 0 2 0 1 0-6 1 1 0 1 0 1 0 3 0-2 2-1 1-2 1-1 2 2 0-2 1 7 0-5 1 7 1-9 1 3 0-3 2 4 0-2 2 4 0 0 3 3 2-3 1-6 3 0 2 2 0 5 0-2 5 3 0-8 3 1 0 8 0-3 3 0 2 1 0 0 1-7 1 6 0-2 3-3 2 1 0 3 1-5 1 2 1 5 3-3 1 4 0-1 1-5 285-1 11 1 2-2 3 2 0 2 5 2 2 1 2 2 0-6 1 5 6-6 1 3 1 2 1-5 3 0 1 0 2 2 1 5 1-5 5 1 0 4 2-4 1 3 0-5 1 1 3-3 1 3 0 3 0-3 3 4 2-7 3 4 3 3 1-2 1 3 1-6 8 5 1-8 1 8 1 1 1-8 3 8 1-8 1 7 4 1 19-5 6 2 0 3 4-3 8 1 9-4 241-3 16 0 26 6 3 1 19-6 3 0 15 5 1 2 2-8 11 2 0 2 1-4 6 4 2-4 9 9 1-7 9 1 0 4 0-2 7 0 3 0 1 2 5-2 6-5 236 8 4-8 2 4 18 5 8-6 10 1 0 3 13-7 13 0 28 1 4-1 2 1 1 0 0 1 2 2 0 1 0-3 1-2 1 8 1 1 0-2 2 0 0 2 0 0 0-8 1 8 0 9 9-2-3 0-1-1 0-2-2 0-1-1 0-1 0 1-1 5-2-5 0 1-1-1 0-1 0 5-4 3-1-8-1 3-55-4-5 4-6-4-13 3-255 0 0 3-1-1-1-4 0-1 0 5-3 4-1-4-3 4-1-7-6 0-12-1-10 0-6 7-7-2-3-4-8 7-14-8 0 6-3-3-6-3-7 6-15 0-1 2-23-9 0 0-1 2-2 1-10 0-9 3-256-2-7 4-11 0-2-1-8-4-2-3-1 3-4-3 0 5-1 0-2 4-5-6-2 4-1-2-1-2-2-2 0 6-8 1-3-8 0 9-13-1 0-8-1 2-3-2-2 1-1 1-2 6-2-5 0-1-8 5-293-2-5 0 0 2-1 0-10-7 0 6-2-4 0 6-2 0-1-3-1 4-1-7 0 3-1-1 0 1-2-5 0 3-1 3-2-5 0 2-2 0 0-3 0 5-3 1-4-1 0 0-1-3-3-1 0 1-5 7-1-6-2 2-1-4 0 8-1-8-2 1-2 3-2 1-1-3-9 10 16 0 1-3 1 1 4 6 0 0 0-2 3 0 1 0 2-5 5 6 2-5 1 1 4 2 0 2 0-1 1 0 2 3 4-7 5 0 2 4 2-5 1 2 0-1 3 6 1 1 0-8 1 1 5 6 3 1 2-1 1 0 2 1 2-5 1-3 297 9 1-9 5 7 0-3 2-3 2 3 1 3 0-3 2 1 4-5 1 3 0 0 1 4 2-5 1-2 1 2 1 1 0 3 2-5 2 0 1 0 1 0 1 8 1-9 1 1 2 6 0 2 1 0 0-2 1-6 1 3 1 0 3 4 1 0 2-5 3 3 0 2 1-2 1-1 1 2 3-4 1 3 0-5 1 6 0-2 1 0 1-1 1 4 3-4 3 0 1-4 3 9 1-5 3 3 16-1 273-4 3 2 3-4 1 8 5-8 12 4 1 3 4-5 3 0 20 7 6-2 1-4 2-1 3 6 0-4 15 3 3 1 12-3 11-1 13 0 3 3 3 2 0-7 1 3 0 1 3 3 0-7 1 2 0 2 1 1 0-1 2 1 0-1 248-4 27-2 19 1 31 5 0-6 6 3 2-3 2 1 1 1 0 2 0-3 1 1 0 3 0-5 1 3 0-3 3 7 0-7 1 2 0 5 3 12 5-5-2 4-2-6 0 6-1-3 0 1-1-3 0 0 0 1-1 5-1-5 0 0-3-3-6 0-4 8-5-2-9-6-39 1-1 5-6 2-267-1-1 0 0-3-1 0-1-1-3-2 0-1 0 3-1-2-6-2-5 1-4-1 0 7-2-1-3-3-13 6-5-4-2-4-1 2-6-3-3 9-5-8-9 8-46-5-264-3-6 4-18 2-4-5-1 1-2 1-7 4-2-3-1 2-1 2-1 0-1-3-3-2 0 1-1-2-1 5-1-2-1-1 0 4-1-1 0-1 0 2-1-4 0 0-3 1-2-3 0-2-2 4-1-5-1 6-1-5 0 7-2-4 0 4-1-8 0 4-2 3-1-5-2 4-2 3-1 0 0-1 0 1-3-3-3 2-1-8 0 3-4-2-3 4-1 0-1 3-7-4-7-1-4-3-5 8-279-1-3-1 0-5-12 4-4 1-1-4-1 4-2-4-2-1-14 6-1-2-13 0-1-4-2 8-2-2-1-7-6 3-1-1 0-2 0 1-2 10 13 0 9 0 29 6 3-2 314-4 3 4 1 4 1-5 1-1 4 3 1-5 1 3 3 2 0-3 3-2 1 4 0 0 1 3 0 0 1-8 1 9 0-8 2 4 0-4 1 3 0 2 0-5 2 0 1 5 0 1 0-6 2 5 0-2 1 5 1-3 1-2 1 4 0-6 3-1 5 3 0 3 0 0 0-1 1-1 1-1 2 1 3 3 0 1 0-8 1 6 3-2 1 1 2 2 8-7 5 8 1-1 7-6 2 6 0-6 3-2 5 2 5 5 8-6 253-1 27 4 8-4 2 5 11-2 2 0 15 6 3-8 13 5 10-6 4 3 2 0 0 3 0-3 4 3 6 2 0-2 5 0 0 1 1-3 1 0 2-4 2 0 1 1 1 2 1 4 0 1 0-4 3 0 0 1 0 2 0 1 0-2 1 2 0 1 0-3 270 1 9-5 30 5 10-5 13-1 2 0 1-1 3 5 1 3 1 1 0-1 1-6 1 3 0 3 2 1 0-3 1 0 0-4 1 4 0 13 7 0 0 0-3-2 0 2-3-2-1-3 0-1 0-3 0 7-1-1 0-4-1 4-1 0 0 2-2-5 0-3 0 0-1 7-10-2-21-1-306 2-2-3-1 3-2-3-1-3 0 6-5 0-12-1-3 0-4 4-7-6-5 0-2 3-13 0-5-2-26 5-10-5-7 4-267-2-1-6-3 3-1 5-7-6-8-2 0 5-6 0-14-1 0-1-8 6-1 0-1-2 0-2 0-3 0-1-1-1 0 4-3 0 0 5-1-7 0 4-1 0-1-6 0 6-2-2 0-4-2 9-1-2 0-1 0-4 0 2-1 4-1-3 0 3-1-2 0-2-1-2 0 0 0-1 0 5-1 3-1-7-1 3-2 3-1-2 0 3-1-5 0-1 0-2-5-1 0 5-2-3 0-1 0 0-7-1-1 4-1-3 0 2-1-1-11 17 18-5 1-3 1 1 0 5 2 0 1-2 3 1 1-2 5 3 0-6 1 2 1 1 0 2 1 3 0-9 3 5 1 2 0 2 0-1 1-6 1 0 0 4 0 1 1-5 2 1 0 0 0 1 2 1 1 3 0 1 0-6 3 2 0-1 1-4 1 2 0 4 1 3 1-8 1 4 0-2 3-1 2 7 2 0 1-2 3 0 1 1 1 1 1-1 1-2 2 0 2 1 0 2 1-5 3 3 5-2 1-4 13 6 6 1 0 1 5-1 308-2 2-6 2 1 6 0 25 0 1 7 2-4 2 3 6-2 1-3 1-1 2 2 3 0 0 6 0-1 1-5 1 5 2-7 1 2 0 1 1 1 1-3 1 6 3-7 294-1 14 2 0-1 4 1 19 6 3-5 3 0 3 6 1-3 1 0 2-2 1 4 0 1 0-2 1 0 0 9 5 2-3-1-1-2-2-1 0-1 0-1 0 7-1-1 0-8-1 4-1-1 0-2-1 6-1-3 0-2 0-1 0 4-1-5-4 7-333-3-1-2 0 4-1 0 0 0-1-4 0 1-1-3 0 1-1-1 0 7-2-5-1-1 0 7-1-1 0-3 0 2-1-3 0 0-4 5-3-6-3 7-12-2-1-3-35 3-2-7-5 0-1 1-1 0-3 6-269-4-14 4-10-1-9-3-10 4-2 1-1-3 0 1-1-3-3 2-2-5 0 3-2 5-3-5 0 6-1-2 0-3-1 3-1-3 0-4-3 0 0 6-3-2 0 2-1-1 0 3-1-7 0 2-1 3-2-1-1-3 0 4-1 2-1-8 0 4-2 1-1-3-2 5-1-3-1-4-1 3-2 1-3-1-2 0-1 2-5-2 0 3-4-1-2 6 6 1 4-2 2 0 1 9 0-6 2 3 2 3 6-8 1 8 4-9 1 6 1-6 2 3 3 0 4 3 1-4 1-1 1 1 1 1 0 1 0 1 0 4 1-8 3 7 1-2 1 3 0-3 2-6 2 7 0-6 3 3 0 3 0-2 1 1 1-4 3 3 0 1 3 1 0 1 0 1 0-8 1 8 2-2 1-2 3 4 2-7 1 4 0 0 3-5 19 0 11 5 274-1 3 4 17-6 2-3 15 7 6-5 8 4 4 1 0 0 3-1 3-5 1 1 1-2 1 3 0 5 1-8 1 3 0-2 2 3 0 1 0 4 1-9 1 1 1 5 1-3 307 3 16-4 11 4 3-5 1 5 1-3 1 6 0-2 1-7 1 6 0 3 0-5 1 3 1 1 0-8 1 4 0 4 1-1 1 1 0 1 1-6 1 11 2 3-3-3 0-2 0 6-1-3-2-3 0 5-2-2 0-4 0 7-1-8 0 9-1-1 0-6-2 2-11 3-324-1-1 2-1 1-1-3 0-6 0 8-1-7 0-1 0 4-1-2 0 3-1-3 0-1 0 7-2-4 0 0 0 3-1 2-3-2 0-1 0-4-4 4-1 3-16-8-7-1-6 5-2-5-5 7-300 0-2 1-1-2-9-4-3 0-3 7-5-8-1 0-4 0-1 6-2-1 0-1 0 1-1 1-4-5-3-1 0 4-1 0-5-1 0-2-1-1-3 5-2-1-2-5-2 1-1 0-1 2-6-3 0 9-1-6-1 0-1-3-3 5-1-3-1-1 0 8-6-7-1-1-2 11 12 0 9-1 1-1 1 3 0 3 2-6 6 0 0 5 5 3 1-5 1 0 2 4 1 1 0 1 0-7 3 6 1-8 3 8 0-6 2 6 1-1 3 2 0-5 2 4 3-5 2 2 3-1 1-4 1 4 0-2 1 6 0-1 1 2 0-8 1 6 0-4 1-3 5 6 2 3 1-4 2 3 8-7 303 0 11 3 0 2 13-6 7 3 0-2 3 1 2 6 0-3 1-5 1 1 0 1 0 0 1 3 0-5 1 0 0 2 1 3 0 4 0-5 1 2 0 0 0-4 1-1 1 0 0 4 0 4 0-7 1 3 0 3 0-6 1 1 0 0 0 4 1 2 0 0 1 0 1-8 332 0 2-1 2 1 0 8 0-4 1-3 2 3 0 1 0 3 1-3 1 2 3 9 6-7-3 7-1-1 0-3 0 4-2-5 0 7-1 0 0-5-1 2-1-4 0-2-1 7-1-5 0 0-1 2-1 5-334-1-2-6 0 4-1-5-1 8-1-6 0-3 0 8-1 0-1-3 0-1-1-1 0-2 0 7-1-4 0-1 0-3 0 9-1-5 0-3 0 7-7-7-1 5-3-6-1 0 0 7-2-3-11 2-2-1-13-1-301 0-7-2-1 2-1-4-6 1-2 2-1-1-2 3-1-2-1-1-2-2 0 6-2-4-1 5-2-3-3-2-7 3-3-5-3 3-3 0-5 0-13 9 38 1 0-1 2 7 5-6 6-2 3 2 0 4 8-7 4 1 0 5 0-3 1 2 2 1 0-3 5-1 330-2 6 3 0 4 0-7 1 2 0 5 0-4 1-3 1 0 1 6 0 3 0-9 1 4 0 2 0 2 1-8 1 1 0 4 0 3 0-1 1-2 1 1 0-1 1 2 0 2 0-2 1-7 331 3 4-3 2 7 0-5 1 7 0-5 1 4 0-6 1 0 0 3 0-1 1 0 0 1 0 2 2 1 0-8 1 7 0 1 0-7 2 2 0 8 3 3-1-4 0 8-1-2 0-1 0 0-1 2-1-6 0 8-1 0 0 0-1-6-1 2-1-2-2-2 0 4-2-1-334 0-2-2 0-1 0 5-1-1 0 0 0-3 0 7-1-3 0 0 0-2 0-3-1 7-1-1 0-5-1 7-2-2-1-6 0 0 0 3-1-2-2-1-2 0-2-1-330 7-9-5 0 1-12-2-18 1-3 9 378-1 3 9 0-4 1-3 1 0 0 1 1 2 1 3 0 0 1-6 1 5 0-1 1 2 0-5 1 0 0-1 1 6 0-6 1 1 0 4 0 0 1-2 1-4 333 7 3-3 1 2 2-6 1 2 0 0 0 5 1-5 1 5 1-1 2 1 1-5 1 16 2-9 0 5-2-1-1-1 0 6-1-1 0-7-2 3-3-4-1 9-337-1 0-3 0-4 0 0-1 0 0 2-1-1 0-1 0 0-1 8-1-1 0-8 0 2-1-1 0 8-1-5 0 0 0-4 0 6-1-5 0 0-1 5-1-6-2 7-2 5 0 0 2 2 6-4 1 6 4 2 1-7 1 4 0-1 1 5 0-6 1 4 0 1 0-8 336 6 0 3 0-3 2-3 1-3 2 7 0-7 1 8 0 1 2-3 2 1 1 12 4-2-1-5-1 7-2-6 0 0 0 0-1 2-1-4-2 4-1 2-1-7-1 7-335-5-5 7-1-9-1 10 8 6 340-6 1 1 0 4 0-1 1 5 0-3 2 2 0-2 2 1 1 201 8-1 0 2-1-1 0 0 0-1 0 0 0-3 0 5-1-1 0 0-2 1-3-2-337 2-343-3-5 3-337 0 0 0-2 0-2 9-2-2 2 2 0 0 1-2 1 3 0-5 1 0 0 3 0 0 0 0 0 1 0 1 0-9 1 0 0 0 0 1 0 3 0 1 0 1 0 0 0 1 1-3 337 0 0 4 0-4 1 0 0 4 0 0 0-6 1 0 0 3 0 1 0 2 0-8 1 0 0 3 0 2 0-3 1 1 0 0 0 1 0 0 0 1 0 2 0 0 0 1 0 1 0-8 1 2 0 0 0 1 0 1 0 4 0 0 0 0 0-6 338 2 0 0 0 2 0 1 0 1 0 0 0-9 1 2 0 0 0-1 1 4 0 1 0 0 0 0 0 1 0 0 0 2 0-7 1 3 0-3 1 2 0 0 0 2 0 0 0 1 0 1 0 0 0 1 0-6 1 3 0 0 0-1 335-5 3 4 0 1 0 1 0 3 0-9 1 4 0 4 0 0 0-7 1 0 0 1 0 1 0 1 0 0 0 1 0 1 0 0 0 1 0 0 0 1 0 1 0-9 1 2 0 0 0 1 0 1 0 1 0 0 0 0 0 1 0 1 0 1 0 0 0 0 0 0 0 1 0-9 1 0 0 1 0 1 0 0 0 0 0 1 0 0 0 1 0 0 0 1 0 0 0 0 0 1 0 1 0 0 0 0 0 0 0 1 0 0 0 1 0 0 0 0 0 0 0-8 1 1 0 3 0 1 0 0 0 0 0 1 0 0 0 1 0 0 0 1 0 9 0-1 0-1 0-1 0 0 0-2 0 0 0-1 0-1 0 0 0-1 0 9-1-2 0-3 0 0 0 0 0 0 0-1 0 0 0-1 0-1 0 0 0 0 0-1 0 0 0 0 0 8-1-1 0 0 0-2 0 0 0 0 0-1 0-2 0-1 0-1 0 0 0 6-1-1 0-2 0 0 0-1 0 0 0 2-2 0 0-2 0 4-1-6 0 6-337-1 0 0 0-1 0-3 0 0 0-1 0 7-1-1 0-4 0-1 0 7-1-1 0-3 0-1 0-1 0-2 0 0 0 5-1-2 0 2-1-1-1-2 0-1 0 2-1-3 0 4-1 0-2 1-2 3-5-6-327-1 0-1 0 7-1 0 0-3 0-1 0 0 0-2 0 0 0 6-1-2 0-1 0-1 0 0 0-1 0 0 0-2 0 9-1 0 0-4 0-2 0 1-1-4 0 6-1-2 0 4-3 0-2 0 0 1-1-4 0 1-1-1-1 4-3-2-326-6 0 6-1-2 0-5 0 0 0 9-1 0 0-1 0 0 0-1 0-1 0-2 0 0 0-1 0 0 0 6-1-1 0 0 0 0 0-6 0-1 0-1 0 5-1-3 0-1 0-1 0 9-1-3 0-3 0 2-1-1 0-2 0-2 0 8-1-2 0 3-4 9-2 1 0-3 3-5 1 3 0-3 1 3 0 1 0 2 0 1 0 0 0-1 1-5 1 1 0 2 0 0 0 0 0-3 1 3 0 2 0-4 1 2 0 1 0-6 1 1 0 1 0 3 0 4 0-9 1 1 0 0 0 3 0 2 0 0 0 2 0 1 0 0 0-9 1 0 0 1 0 1 0 1 0 2 0 1 0 2 0 1 0 0 0-2 1-2 310 2 0 2 4-3 1 2 2-1 1-3 3 4 1-5 2-1 1 4 0-3 2 0 0 3 1-6 1 0 2 2 0 6 0-4 1 5 0-8 1 4 0-2 2 0 0 3 0-6 1 0 0 2 1 7 0 0 1-2 1 0 0-3 1-3 1 1 0-2 1 1 0 2 0 1 0 1 0 4 308-3 8-6 1 7 4 1 1-8 5 1 7 8 4-9 1 8 0-7 2 2 0 3 0-6 1 4 0 5 0-7 1 0 330 0 7-2 2 5 0-4 1 1 0 0 0 7 0-8 1 1 0 3 0 2 1 1 0 11 1-4 0 0-1-1 0-1-1-1 0-1 0 3-2-3-339 7-1-8 0 8-2-7 0 1-2 0-2 1-5 6-2-9-4 5-1 3-1-7 0 3-8 0 0-1-1 3-1-2-1-2-6 3-306 0 0 3-1-5 0 0-2 4-1-3-2 0 0 2-2-2 0-4 0 5-1-2 0 5-1-4-1 0 0 0-1 5-2-1 0-4 0 3-2-3 0-4 0 0 0 3-1 3-1 1-2-4 0-3 0 8-1-3-1-3-1-1 0 8-1-3 0 2-1-8-1 1-1 2-7-3 0 4-1-1-2 1-2-1 0-3-1 6-3 3-6 0-294 0 0-2 0-1 0 0 0-2 0 0 0-1 0-2 0-1 0 0 0 8-1-3 0-1 0-1 0-1 0-1 0 8-1 0 0-3 0-3 0-3 0 4-1-2 0-1 0 0 0 8-1-1 0-4-2 0 0-1 0 0 0 1-1-4 0 5-1 2-1-4 0-2 0 6-1-3 0-3 0 8-1-6 0 0 0 5-1-1 0-2 0-1 0 5-1-3 0-4-1 7-2 8-17-2 6 4 3-3 2-5 4 4 0 0 1-4 1 5 0 2 0-7 2 4 2 1 0 1 0 1 0-2 1-6 2 0 0 1 0-1 1 0 0 3 0 1 0-3 1 1 0 1 0 4 0-3 1-2 1 4 0-1 1-5 1 1 0 1 1-1 1 7 0-8 1 1 0 0 0 2 0 5 271-2 6 3 1-5 2 3 2-1 8 2 0 1 0-2 1-6 3 1 0-1 2 3 0 2 0 3 0-4 1 4 0-5 4-3 3 3 1 3 1 1 0-3 1 4 0-3 2-2 2 0 0 1 1 1 0-5 1 1 0 6 1-6 2 5 0-7 1 2 0-2 1 5 0-5 1 6 0-2 1 3 0-2 1 3 0 1 0-9 2 1 0-1 1 0 1 8 0-5 1 2 0 4 0-5 2 3 0 1 2-2 1-1 1 0 2-5 3 6 0-3 4 4 0 2 0-7 1 3 0-2 1-1 281 5 6-4 13 5 3-8 5 3 0-3 4 5 2-4 3 2 3 1 1 0 2-2 11 2 4-1 2 0 1 2 0 0 0 2 0-7 1 7 0-5 308 2 8-2 10-1 10 6 0 0 3 0 0-2 1-4 1-1 1 0 0 1 0 0 0 1 1 1 0 0 0 1 0 3 0 0 0 0 0 2 0-2 1 9 0-1 0-5 0 8-1-3 0 0 0-1 0-2 0 5-1-4 0-2 0 8-1-1 0-1 0-3 0-2 0 5-1-2 0-4-1 2-1 4-9-3 0-4-4 2-17 0 0 6-1 0-4-2-2 1-1 1-25-2-272 3-2-9-2 3-1 3-2-3-14 3-7 3-2 0-1-6-1-1 0 1-7-2-4 8-3-8-4 8-2-3-4-1-3-3-7 7-7-1-16-2-10 1-246 0 0-6 0 7-1-1 0 1-7-7-3-1-1 5-1-4 0-1 0 7-1 2-1 0-1-5-1-1 0 3-2-5-3-1 0 4-3 4-2-1-1 1-1-5-1 1-1-4 0 8-1-6 0 6-1-4 0-1-1-1 0 1-1-1-1 1-2 4-2-1 0-2 0 4-1-1-1-1 0-2-1-1 0 0-1-2 0 8-1 0-1-2-3-3 0-3 0 0 0 4-1-4 0 8-1-6 0 3-3-2 0 5-2-2 0-2 0 3-2-4-2-4 0 9-2-7 0 7-1-2-2-3-1-2-1-2 0 7-2-4-2 0-2 2-1-1 0 2-1 3-2 0 0-1 0-2 0-4-3 6-1 0-259-6-7-1-2 8-1-4 0-1 0-1-3-3 0 7-2-2 0-3 0 7-1-7 0-1 0 8-1 0 0-8-1 6-1 2-1-2 0-6 0 0 0 6-1 2-1-3 0-2 0 3-1-2 0 1-2 0-1 3-3-1 0-1 0-2 0 0 0-1 0 4-2-3 0-1-1 1-3 1-1 3-5-2-6 11-6-5 1 4 7 1 1-4 1 4 2-8 2 9 0 0 2-9 3 5 0-1 3 0 1 1 0 1 1-1 3 3 0-3 2-2 1-2 1 3 1-4 1 9 1-4 1 3 0-5 1 2 0-5 1 5 0 3 1-8 1 6 1 0 0-5 1 0 2 8 250-6 3 6 0-1 4 0 1-3 2 4 0-3 2-3 1 3 0 2 0-7 1 7 2-1 7-6 2 4 4 2 0-1 2 3 1-1 2-4 1 4 0 0 0 1 2-6 2 0 2 6 1-8 2 0 1 1 2 4 1-2 1-3 1 6 0 1 0-3 1-5 2 7 0-7 1 1 0 5 1 0 0-3 1 4 0-7 1 4 3-4 1 1 0 0 0 2 0 2 1-3 3 3 3-3 1 3 0 1 0 0 1 2 0-8 3 2 0 2 0-1 2 4 3-1 1 3 0-6 2-2 2 0 0 5 0-3 1 6 0-1 1-4 1 2 0 1 3-7 5 2 2 3 2 4 0-7 1 3 1 0 216-1 23 0 2-3 9 5 5-1 2-2 3 5 1-2 2-1 13-1 4 1 0-2 5-1 3 7 1-6 7 2 1 3 1 0 0-4 1-2 7 1 6 5 7-6 1 3 0 3 2 0 3-8 15 0 0 1 0 2 0 0 0 5 0-6 1 1 0-3 1 4 0 2 0-6 1 3 261 2 4 4 8-7 16-1 5 1 4 7 2-9 27 1 4 1 8 1 0 1 0-2 1 3 0 0 0-4 1 1 0 0 0 4 0 2 0-2 1 3 0 0 0 0 0 0 0-6 1 13 2-1-3 0 0-2 0-1 0-2 0 0 0 8-1-3 0-1 0-3 0 0 0-1 0 6-1-2 0 2-1-2-11-2-31 7-4-3-11 0-7-1-2 0-55 0-220 0 0 4-17-1-6-5 0 3-31-5-6 4-3 1-1-3-1 4-1 1-5-2-2 3-3-9-1 7-2-5 0-1-1 3-3 4-6-2-3-1 0 3-2-2 0-3-4 6-1-7 0 3-13-5-1 7-1-2-10-1-217-2 0-1 0 1-2 7-1-8 0 5-1 0-2-4-3 5-3 2-1-9-1 4-1 3-3-2-4-5 0 6-2-5-1 7-2-2 0-5-1 1-3 5-1-4 0 3-1-2-1-3 0-1-2 2-3 5-1-5 0 6-1-7-1 8-2 0-2-4-2 0 0 4-1-7 0 7-2-4-2-2-1 1-1-4-1 5-3-5-1 8-4-8 0 4-1 0-2 4-1-8 0 4-3 5-1-7 0 7-1-4 0-1-1 4-5-6 0 7-3-2 0 0 0-3-6 4-2-7-8-1-1 6-1 0-12 2-8-5-36 2-52 3-133 1-1-4-6 4-4-3 0-5-1 7-2-5-3 2-3-1-1 5-2 0 0 0 0-4 0-1 0 5-1-2 0-3 0-1 0 5-1-5 0-3 0 8-1-2 0 0-1-4 0-2 0 8-2-1 0-3 0-4 0 4-3 4-1-6 0 1-1-3-1 7-1 2-1-5 0 2-2-4 0 1-1 6-1-6-2-3 0 8-1 0 0 0-1-3-1-1 0-4 0 9-2-1-1-6 0 2-1 4-2-6 0 5-2 0-3 0-5 0-4-5-2 7-2 5-37 4 3 1 12 0 11-7 8 3 0 4 0-5 1 1 0 3 0-4 1 2 0 3 3-9 2 5 1-1 1 2 1 0 0-1 1 1 3 1 0-6 1 3 1 4 0 1 0-9 2 1 0 4 3 3 0-2 1-3 1-1 1 2 1 0 2 5 0-6 1 0 1 0 1 2 0-3 1 7 0 0 1-5 1 5 0-8 1 8 0-9 6 3 1 5 1-1 1 2 1-7 2-2 3 7 1-3 3-3 2-1 1 6 0-3 5 1 0-2 206 5 9-5 4 1 7 4 1-2 18-3 2 1 2-2 7 3 0 3 3 0 8-7 2 6 4 0 1-4 1 1 0 0 10-2 3 4 0 0 0 4 0-7 4 3 2 3 0-3 1-4 1 5 2-6 1 0 0 0 3 2 0 1 1 1 0-4 4 0 3 1 0 3 0 3 0 2 1-2 2-6 1 8 1-6 1 0 0-2 7 1 0-1 3 4 0-5 4 3 1 1 1-4 2 3 0 3 1-1 1 1 0-4 1 3 1 2 0 2 0-5 6-3 3 3 0 5 0-2 2-6 1-1 1 7 167-2 24 0 13 3 9-5 1-1 1 3 2 0 3 3 8-8 2 0 1 3 4 3 0-2 6 3 0-7 3 8 0-2 5-1 1-1 1-1 7 4 7-4 2 3 2 2 21-6 1 0 3 1 3-2 2 7 10 0 8-3 24-5 3 0 0 6 1 3 245-1 7-4 15 5 0 0 2-3 6-6 2 4 8 1 16-4 2 3 10 3 4 2 11-3 10-6 1 0 0 2 0 7 0-7 1 1 0 2 0-5 1 3 0 1 0 0 0 0 0 2 0-4 1 0 1 1 0 4 0-1 2 7 0-2 0 8-2-4-1-1 0-1 0-2 0 0 0-1 0 0 0 8-1-1 0-2 0-1 0 0 0-1 0 3-1-1 0-3 0 1-2-1-16 0-17-1-16 5-14-5-1 4-8-2-1-3-1 7-20-7-14 4-13-3-24 1-191 4-3-3 0 6-1 0-3-1-39 1-6-7-5 6-7-1-2-2 0-4-3 8-3-9 0 7-7-1-4-6-2 2-1 5-3 1-2-6 0 0-4-1-1 1-12-1-5 8-5-2 0-1 0 3-5-5-14-3-6 0-16 2-8-2-2 3-40 1-1-2-5-2-131 6-1 1-4 1-3-8 0 7-1-1-6 1-2-7-3-1 0 1-2 2-3-2-3 3-6 5-1-1-2-6 0 0 0 5-9-6 0 5-1-1-3 2-6-3-4-2 0 5-1-7-2 9-1-8 0 7-4 0-2-6 0 0-2-1 0 1-2 4-2-6-1 2-3 0-1 7-1 0 0-4-2 4-1-6-4-1 0 4-3-5-5 4-1-3-1-2-4 6-3 2-1-5 0-1 0 7-3-7-1 1-1 4-12-1-3 1-8 2-4 0-23-4-2 3-30 0-11-5-16-1-8 4-8 3-4-2-115 0-8 1-1-5-4 5-2-1 0-6-1-1-1 4-4 2-2-5-3 0 0 4-1-1-1 2-1 0-1-4 0-1 0 8-1-3 0-2-1 3-1-1-1-4-1 7-3-3-1 0-1-2 0-2 0-2 0 5-1-4-2-1 0 6-2-1 0 0 0 1-3 2-1-5 0 6-6-3-1-4 0 7-6-9 0 8-1 1-2 0-3-1 0-7 0 7-5-2 0 2-1-6-6-1-1 6-4 2-10-9-19 15-27 1 20-5 5 4 2 4 0 0 3-9 2 4 4 5 1-4 1 4 0-2 4-1 5 2 0-8 4 4 1 1 0-5 1 4 3 2 4-6 1 4 0 5 0-9 1 7 2-4 1 6 4-9 1 6 1-6 4 9 2-2 3 1 4-4 4 5 1-3 1-5 1 5 0-4 1 2 1 1 1-4 1 3 0 2 0 0 1-6 2 3 2 2 0 0 1 0 0-1 1-2 1 0 0 2 0 3 1-4 1 1 0-3 2-1 1 8 0 0 1 1 5-4 1-5 1 1 0 0 0 5 1 0 2-2 1 3 1 0 3 2 4-6 8 0 2-2 6 6 6 0 2 0 1 0 5-3 120-3 4 6 5-4 9 6 4-4 5-2 3 2 1-5 8 4 3 5 10-6 1 1 8 5 8-7 3 3 1 4 6 0 10-8 1 6 9-5 3 4 1-1 1-5 1 9 0-3 3 2 0-2 3-2 14-4 1 7 0-5 3 2 2-4 8 8 2-5 5 2 7 1 0-4 1 2 0-4 1 1 0 8 3-5 3-1 1-2 4 2 0 3 0 0 1 0 0 3 6-7 3 1 0 1 2-2 4 4 0-4 1-1 7 6 8-6 2 1 0 3 13-5 4 1 0 2 3 3 129-2 13-3 27 0 1 8 8 0 4-3 2-5 4 3 14 4 2-3 2 0 4-2 2-2 3 2 4 5 2-1 2-4 1 4 16 1 4 0 2-6 1 4 4 2 4 1 0-6 1 3 0-1 7 4 1-9 13 8 0-1 2-3 1 2 5-1 12 1 5-4 3 6 2-3 9 2 22-6 2 6 2-5 1 7 2-4 116 0 20 0 24 2 6 0 3-3 3 0 17-2 3 4 11-6 3 7 23-4 17 5 34-4 30 0 25-4 3 3 0 1 0 1 0 4 0-8 1 1 0 3 0 3 0-2 1 0 0-5 1 6 2 10 0 1-2 0-1-2 0-3 0 0 0-1 0 0 0 0 0-1 0 2-1-2 0 3-1-3 0 6-1-1 0-3 0 1-15-2-6 3-5-3-1-1-2 8-5-4-23-4-4 3-4-3-3 3-7-4-22 4-2 0-18-4-2 0-7 0-15 6-20-1-3-5-27 3-8 5-9-7-18 5-113-6-1 7-1-3 0 5-1-8-1 0-19-1-1 0-7 9-6-2-21-6-1 6-2-3-2-2 0 0-3-2-11 2-10 5-1-1 0 3-11-7-1 3-23 3-1-6-4 1-11 3-20-5-10 3-9 2-16-2 0 4-12-2-3 1-134-4-1-3 0 0 0 6-1-6 0 7-1-4-20-2-10 2-7 5-8 0-2-1 0-1-1-4-1 6-3-2 0-4-3 5-6 2-6-9-2 4-4 4-5-3 0-3-2 2-8-4-3 7-3 1-1-4-3-3 0 3-1-3-2 3-1-1-1 0-1 1-3-1-2-3-1 6-3 0-1-1 0-4 0 2-2 3-6-3 0 0 0-2-3 2-1-1-5 5-1-5 0 4-3-6 0 5-3-4 0 4-2-4-1-1-3 9-1-1-1-5-1 5-1-2-1 0 0-1-7 4-2-7-2-1-3 4-1 3-15-1-6 0-4 2-4-5-4-1-1 0-12 5-2-6-11-2-1 2-1 6-42 1-70-4-2 0-4-4-5 8-2-5-11 4-2-7-3 3-3 4-2-1 0-4 0 0-4 6-1-3-2-2 0 3-3-3-5-1 0-2-2 0-4 8-1-5-1 0-1-1-3 0 0 4-1 2-2-4-1-5 0 6-2-2-1-1-1 5-3-7-1 5-1-1-1 3-1-1-2-1-2-5 0-1 0 2-1-2 0 2-5 3-2-2 0 3-2-4 0 4-2-3-2-2-2 6-1-5 0 1-1-1 0-1 0 1-1 5-1-1 0-4 0 0-1 0-1 1-1-2-4 6-1 2-5 0-3-3-2 3-5-5 0 1-2 1-1-2-1 5-5 0 0-4 0 1-1-3-3 1-4 3-3-6 0 2-1-1-2 2-10 0-7 9-47 0 3-2 15 8 5 0 4-1 4 1 1-3 4-5 14-1 2 7 2-2 3 4 4-1 1-8 4 1 0 2 0-2 2 5 0 0 0 2 1 1 0-6 2-3 2 1 1-1 1 0 0 3 0 6 4-7 1 0 0 1 2 3 1 2 0-2 5-3 2 5 2-2 2-1 1-5 1 0 1 1 1 1 0-2 1 2 2 2 1-1 1 5 0-2 1-1 1-5 1 0 0 2 3 4 1-5 1 2 0 0 1 2 1-2 3 0 1 3 0-5 1 3 0 2 0-6 1 0 1 1 0 6 0-1 2 3 1-7 2 3 1 1 6-6 4 2 0 4 4-6 1 4 4-1 6 2 3 3 0-3 7-5 2 4 3 0 6-3 9 4 3-4 1 8 5-6 5 3 7-4 1 0 5 1 2-3 59 5 45 0 9-4 9 2 1 0 5-1 1-1 4 8 0-9 9 5 6-4 13 6 3-7 6 2 8-2 1 6 1-4 1-2 1 2 1 6 1 1 1-3 5 0 5 1 2-7 1 6 0-6 2 5 0 3 0-2 2-1 2 2 4 2 3-1 4-5 2 1 2-1 1 6 0-4 1-2 4 3 1-5 1 5 1-2 1 4 0-7 2 2 3 2 0 4 5-7 1 6 1-8 3 3 2 1 1 2 1 2 0-6 3-2 4 4 1-2 1 1 3 2 1 1 1 0 3 2 0-2 14-4 1 5 3-7 1 1 1 1 10-2 1 9 3-3 4-4 2 2 1 2 30 1 0-6 2 4 1 1 0 2 81-1 20-2 1-5 27 8 9-6 13 3 2 2 14 2 7-4 7-5 2 0 9 8 1-2 2-4 9 3 6 4 0-6 3-2 1 4 1 1 1 2 4-4 1-2 1 2 1 3 9 2 6-8 3 6 4-1 3-6 4 3 11 0 2-2 2 8 2-2 10-4 28 4 4 2 7-7 1-1 9-1 1 2 8-2 3 6 2-6 1 1 0 2 0-3 1 1 0 6 1-5 1 0 86 4 40-2 7 4 15-5 1 2 4 1 9-6 18 3 8 0 32 2 4 2 12 1 13-5 11 0 5-1 23 5 7-4 2-3 31 9 3-9 5 6 1-2 1 1 0 3 0-8 1 1 0 2 0 1 0 1 0 0 1 2 0 0 0 2 0-2 1 1 0-6 2 17 0-2 0-2 0-3 0 5-2 2-1-4 0 0 0-1 0-1 0 0 0-1 0 0 0 5-1-3 0 3-1-5 0 7-1-2-1 0 0-1 0-2-4-4-29 4-17 3-5-3-1-4-16 4-12-2 0 1-4-3 0 3-4-3-5 1-4 7-11-3-3-4-8 8-18-1 0-2-12-2-14 1-7 2-9-4-24 4-8 2-3-7-118 0 0 7-2-2-2 1-2-5-17-2-1 5-42-1-11 1-6 1-7-3-1-3-4 2-2 6-5-1 0-6-12 0-1-1 0 8-6-7-8-2-4 8-2-3-12 1-3 2-2-6-3 3-2-2-5 4-4 2-1-7-32 1-9 5-1 1-137-5 0 1-2-3-50 2-1 2-5 0-1-3-2 2-5-3-2 1-6 1-16 2-4-1-2 1-1-2 0 3-2-1-3-5-2 3-1-1-1-2 0 1-3 2-5 1-9 0-1 4-2 0-1-7-1-2-1 4-3 0 0-1 0 3-1-2-2 3-1-5 0 6-5 1-3-3 0 2-1-1-2-6 0 8-1-7-2 0 0 6-2-1-1-1 0-1 0-2-1 2-1-4-2 0 0 7-1-6 0-1-1-1 0 0 0 7-4 1-5 1-3-4-2-3-1-2-2 8-12-3 0-3-12 6-6-2-2-5 0 2-1 3-8 0-8 2-15-6-1 6-98 0 0-1 0-2-8 4-18-1-5-3-6 0 0 0-4 4-3-4-2 2-1-7-1 2-3 1-3 2-1 3-1-3-2-5 0 8-2-4-1-4-6 9-3-1-1-1-3-2-3-3-3 0-5 2-1 0-3 4-1-2-2-6 0 4-3 0-5-2-1 3-1-3-2-2-1 7-2-4-1-2-2 4-1-1 0 1-3-4-1 0-1 7-6-5 0 3-5-4 0 0-2 3-1-4 0 3-2-3-4 4-1-5 0 1-5-1 0 0-1 1-1 2-2 1-12 3-1-3-2 4-3 0-9-2-4-3-2 5-5-8-13 6-1-2-1 1-7-3-8 9-18 6 27 0 1-2 3 4 1 0 2-5 1 5 3-8 5 8 2-2 6 1 0 0 1 1 0-8 3 5 0 3 2-4 1 0 4 4 3-9 3 2 1-1 4 3 2-4 3 0 0 1 0 1 1 5 0 0 0 1 0-7 3 6 0-4 1-3 2 5 0-3 1-2 1 4 0-2 1 1 1 1 3-1 1 1 2 5 1-2 3-7 1 9 0-8 2 6 1-1 6-2 1 1 0-4 10 3 0-2 4 6 2 1 0 0 1-5 1 3 0-2 2 3 0-5 2 0 3 5 2-8 3 4 0-3 1 7 2 1 1-7 4 6 0-2 4 1 0-1 1 2 2-2 2-5 2 1 0 3 0 3 0 0 0-5 1 4 2-1 4-3 1 3 7 1 0-1 11 0 3 0 6-1 22 2 1-6 3 5 68-6 33 9 39-9 3 8 3 0 10 0 0 0 6-4 6-4 2 2 15 3 0-5 1 7 16-2 1 1 0-1 5 0 1-2 5 2 0-2 1-3 5 9 0-2 1 2 0-6 9 5 1-4 1-4 3 4 1 4 17-3 2 2 2-4 4 1 2-2 5 5 5-3 6-3 13 0 4 8 1-5 1 0 51 2 0 3 0-1 1-8 1 5 0 1 0-6 94 6 20-1 3 3 2-4 16-2 22 4 8-1 8-5 5 2 0 3 2-2 13 1 2 0 2 2 0-2 2-1 5 1 0 3 1-5 5 7 1-2 9-6 1 5 0-2 1 2 3-6 2 3 2 1 6 3 1-2 2-2 3 2 8 0 1-1 3 3 3-3 5 4 1-1 2-7 1 4 19 2 29 3 1-3 18 0 7-5 3 4 1-2 116 5 49-1 9-7 7 7 10-3 2 5 2-2 10 2 2-1 5-4 3 0 12 5 2-9 4 0 10 3 0-3 10 8 20-4 17-3 14 1 10 5 11-7 14 9 1-4 1 4 0-8 1 0 0 2 0 6 0-6 1 1 0-2 1 4 0 1 0 6 2 5-2-2-1-4 0-1 0 0 0 4-1-3 0-2 0 7-2-5 0 6-1 1-11 0-8-3-103-3 0 1-8-2-2 1-11 4-21-6-7 5-165 0-3-1 0-5 0 6-1-5 0-1 0 6-1-5-1 7-1 0 0 0-2-7-3 2-14 2-14-1-22 4-9-6-2 2-2-1-11 3-1-5-14 3-7 0-2-3-6 1-2 2-9-1-4-3-4 2-3 5-3 0-1-3-8 1-33-4-19 2-17 2-14 2-113-6 0 8-3-5 0 3-66-4-11-1 0 5-7 1-4-2 0-5 0 0-8 6-3 1-3-5-4 0-1 2-1 1-6-1 0-3-3-2-6 0-3 8-1 0-5-6 0 3-1-1-4-1-8 2-1-3 0 2-1 0-5 0-1-2-1 2-3 1-1-3 0 0-1 4-2-5 0 4-3 2-1-1 0-1-11-2-9-2-1 3-1-1 0-3-2 8-5-7-2 2-6 6-1-6-1 1-2 3-6 1-8-1-7-2-109 0-30 0-7-3-1 7-3-7-4 6-5-3 0-4-5 5-1 1-2 1-1-3-3 0-3 3-1-5-3 2-1-3 0 0-1 4-10-1-3-5-1 6-3 1-1-5-1 5-1-5-2 1-1-1 0 4-2 0-2 3-3-1-1-8-3 8-3 0-1-8 0 8-5 1-8-8-3 1-3 5-1-6-1 4-1-4 0 5-2-4 0 1-1 5-1-6 0 0-2 4-2-2-1-3 0 5-1 3-1-2-2 2-2-8 0 7-1-2-1-1 0 1-2 0 0-1 0-3 0-1 0 3-2 5-1-1 0-5 0 5-3-7-1 3-4-3 0 2-3-1 0 3-3 2-1-2 0 1-2 2-3-3-2-4 0 2-6 5-10-3 0-5-3 9-2-8-16 3-1-2 0 7-6-7-4 0-29 15-14-5 26-2 11 4 8-2 19 3 6-4 8 2 0-3 1 4 0 1 4 4 1-9 3 3 2 2 0-2 2 0 5 2 2 3 0-2 1-3 2-1 1 6 0-6 1-1 5 5 0 1 0-3 1-2 4 0 0-1 1 1 2 6 1-4 6 2 0 2 3 0 1-4 4 4 2-1 4-6 2 5 0 3 0-9 6 0 0 1 2 3 0-3 1 8 0 0 3-4 2 1 1-2 5 1 0-5 2 0 1 5 1-5 1 0 2 2 4 5 0 1 1-6 5 5 1 1 0-8 9 4 1 1 1-1 5 4 1-7 2 6 6-5 4 1 1 1 2 5 6-8 1 6 1 1 0 0 2-8 3 4 0 5 2-6 8-3 1 5 1-5 6 8 18-2 95-2 12-3 16 1 8 3 4 3 14 0 3-7 2 5 9-1 3-4 2 2 0 4 4-3 8 4 1-6 8 1 6 6 3-8 5 3 1-2 8 3 1 1 0-5 2 5 3 1 0-2 2 2 16-2 5-4 4 4 14-4 18 1 12 0 13-1 44 7 0 1 0-7 1 5 0-5 1 4 0 3 166-2 5 0 9 1 19-6 2 2 1 5 30-2 1 2 10-7 4 4 14-4 4 0 10 2 11 4 23-1 3 0 5-5 11 6 5 1 4-7 3 4 0-5 5 5 0-1 248-4 10 8 8-1 17-7 25-1 1 3 0 3 4 0 5-5 17 5 2-6 1 7 0-5 1 1 0 1 0 1 0 1 1 3 0 0 0-8 1 1 0 2 0 8 0 5-1-4 0-1 0 1-1 5-1-2 0-2-5 1-7-4-15 5-3-4-5-2-24 0-10 0-2 4-1-3-2 4-6 4-1-4-34-2-2 4-223-6 0 6-2-5 0 7-1 0-1-2 0-7-2 5-3-5-14 2-6 2-7 2-6-5-22 3-8 4-2-3-1-2-10-2-2 8-2 0-3-6 0-3-1 0 0 6-1 1-7-6-1-1-20 1-5-1-3 3-13-3-6 3-19-3-7 0-26 4-146-3-14 6-9 0-1 1-18-1-2-3-5 2-19 1-26-2-3-3-7 3-2 3-6-1 0-6-5 6-4 0-3-3-3-2-2-1-1 8-3-3-3 1-3-6-1 6-9-6-5 5-2-5-9 0-21 4-30 2-2-3-37 2-1-6-3 0-96 9-6-5-2-1-1-1 0 0 0 7-10-4 0 0-5 4-7-7-2 6-1-7-2 0-1 4-5-4 0 5-2-4-2 7-1 0 0-1-2-5-5-2-3 6-1-7-4 9-1-9 0 3-2-1 0 1-1-2 0 6-3-1-4-5-1 0-3-1-1 1-6 7-5-8 0 4-1-1-3-2-2 5-1-2-1 1-5 0-1 0-3-4 0 4-1-3 0 2-2 2-2-5 0 8-4-3-14-2-17-3 0-1-21 4-20 9 87 2 4-2 3 3 1-4 5 3 1-5 3 5 0 1 2 2 3-7 4 6 1-7 3 1 8-1 2 6 0 3 0-5 1-2 2-2 3 7 2-2 2-2 1 1 0 1 3-5 3 4 3-3 2-1 4 0 0 2 0 1 1 4 2-7 1 6 0 0 1 3 0-6 1-2 5 2 0 2 2 0 1-5 1 1 6 3 0-1 2-3 4 1 1 4 2-5 2 9 3-7 12 0 4-2 92 2 6 6 38-4 8 3 33-5 20-2 13 3 0 6 6-9 5 5 2 3 1-1 2-7 1 8 6 0 2-6 6 0 3 1 1-3 7 1 9 8 13-1 20-8 19 4 4 5 1-7 14 5 5 2 0-2 1 1 4-5 199 4 35-1 1-1 1 2 9-6 2 1 2 6 1-8 8 4 14-1 1 5 5-3 2 2 0-3 2-2 1 1 1-1 2 0 14 0 13 6 11 1 16-9 1 8 0-2 1 3 0-6 1 0 212 3 23-1 37 1 1 2 4 1 3-4 30 3 4-7 10 1 15-2 1 1 0 2 0 2 0-5 1 5 0 3 0-7 1 2 0 1 0 3 0 4 3 8-2-1 0-3 0-2 0-1 0 5-1-1 0 0 0-2 0 0 0 5-1-5 0 0 0 5-2-7 0-1 0 5-1-4-4 7-3-6-14 6-6-7-1-1-17 7-13-3-2-1-8 3-1-5-2 0-265-2-2 0 0 8-2-2 0-4 0 1-1 6-1-9-1 2-14 0-8-2-7 4-3-2-4 3-2 3-2-6 0 6-1-6-4 1-1 1-1 1-2-5-1 9-3-3 0 3-3-8-2 8-1-4-3 0-2 3-2 0-2-4-2-1 0 6-8-4 0 3-260-2-13 1-7-1-2 3-11-8-9-1-1 9-6-8-1 6-9 0-11-1-7 1-4-1-5-4-2 3-7-4-5-1-2 5-5-4 0 0-249 6-1 0-2-1-4-6-1 1-1 5-1-2-1-2-2 5-1 1-4 1-1-5-4 3-2-2-5-3 0 6-2-2 0-1-4-1 0-3 0 6-1-1-3-1-7-1-10 0-2 6 35 0 2 6 8-3 2 2 3 0 0 2 0-3 1 2 0-1 1-5 2 2 1 6 4 0 0-3 1-1 1-4 1 3 4 6 0-1 2-8 261 5 9 4 21-1 2-5 2 3 7-1 1 4 3-9 5 8 3 1 13-8 4 0 6 2 4 0 0 3 3 3 0 0 0-3 2-1 256-2 14 3 3-6 2 1 2 3 4 2 0-4 2 3 9 2 0-3 1-4 1 2 2 0 7 6 3-1 5-2 3 4 0-1 2-7 4 2 0 2 1-4 13 6 5 0 1-6 2 2 2 3 0-3 264 3 3-6 1 3 17-3 17 2 12 5 5-1 3-6 17 7 0 1 0-7 2 2 0 3 0 2 0-6 1 0 0 4 0 1 0-6 1 6 0 10 2-4 0 1-2-1 0-3 0 9-1-4 0 0 0-2 0-1-2 5-1-6-44 0-2 2-293 4-1 1-2-1 0-5 0 1-1-1 0 6-1-8-4 1-3 6-6-2 0 4-2-8-6 2-2 6-4 0-1-8-3 7-3-7-10 5-2 2-1-5-3 3-1-1-287 3-2 0-1-5-1-1-2-1-1 4-2 3-3-5-4 1-4 4-4-3 0 3-3-2 0 2-7 1-6-5-3 1-1-4-1 0-4 2-1 6-295 0 0-2 0 0 0 0 0 0 0-2 0 0-1 4-2-1 0-3 0 4-1 0 0-1 0 0 0-2 0-1 0-1 0 4-1 0 0-3-1 0 0-2 0-1 0 0-1 2-1-1 0-1 0-2-1 0-4 1-2-1 0 0-1 11 13 2 2-1 1 0 0 1 0 0 0 2 0-3 1 2 0 1 0 1 0 0 0 0 0 1 0 0 0 1 0 0 0-4 1 3 0 1 0 1 0 0 0 0 0 0 0 0 0 0 0-7 306 0 1 2 0-4 2 4 0 3 0-7 6 1 2 4 0 1 4 0 0 1 4-5 1 7 2-4 5 4 0-4 1 1 2 0 0-4 5 3 0 1 0 3 1-3 1 1 0-1 297 3 4-9 2 9 8-5 2 3 1-1 1 1 1-4 2 6 1 0 4-7 1 6 1 1 4-1 4-1 2-5 1 5 5 1 1-5 3 4 300 0 1-3 5 5 2-7 2 7 4-7 4-2 1 7 0 1 2-1 3 0 1-6 11 1 2 0 0 2 0 1 0 3 0 1 0-9 1 1 0 4 0 1 0 0 0 1 0-6 1 0 0 0 0 2 0 3 1-2 2 11 0 4-2 0 0-8 0 8-1-4 0-1 0-1 0-3 0 4-1-4 0 6-1-2 0 2-1 1-7-6-1-1-3 9-3-7-17 1-309-3-1 9-1-9 0 0-1 0 0 8-3-4 0-3-3 8-1-2-4-2 0-2-5 3-1 3-1-7 0 3-1 4-4-1 0 1-2-8-1-1-11 4-302 5-1-1-1 0 0-6 0-2 0 4-1 4-1-2 0-2 0-3 0 7-1-8-1 5-2-1-1 3-1-1 0-4-3 4-2-1-1-5 0 9-1-3 0-6-3 6-1-4-1 6-3-8-2 3-2 5-313 1-1 0 0-1 0 0 0 0 0 0 0-1 0 0 0 0 0 0 0-1 0 0 0 0 0-1 0 0 0 0 0 0 0 0 0 0 0-1 0 0 0 0 0-1 0-1 0-1 0 0 0 0 0 0 0-1 0 0-1 12 325-1 1 3 1 1 1-3 1 6 0 0 1-4 1 2 0 1 1-4 1 6 0-9 2 7 2-3 1-1 1 4 0 1 0 1 1-9 1 2 1 7 0 0 0-1 1-7 1 6 0 0 0-7 315 5 11-2 1-3 2 3 0 2 4 3 0-6 2 0 0 5 3-7 1 2 0-2 1 3 0 3 0 3 0-3 1-5 1 8 0-9 1 3 0 1 0-2 323 6 0-4 9 5 1-1 4-8 2 1 0 4 1 2 0 0 0-7 1 3 0 1 0 4 0-4 1 2 0 1 0 7-1-2 0 0 0 6-1-4 0-2-1-1-10 7-329-6 0-2 0 8-1-1 0-5-1 5-1-1 0 0 0-6-2 5-1-2 0 0-1 5-1-2 0-3 0 6-1-5 0-4 0 0-2 0 0 3-332 1-1 2-1 3-1-5-1-4 0 0-1 9-1-7 0 0 0 2-1 5-4-9-1 2-1 5-1-7-3 0 0 17 3 1 0-7 1 3 4 0 1 1 0 2 0-6 1 1 1 0 0 3 2 1 1-2 1 5 0-8 335-1 1 0 2 0 0 4 1 0 1 4 0-3 1-2 1 1 0 0 0-3 1 6 0 0 0 1 0-7 1 7 0-4 1 2 0-4 1 7 334-6 3 6 3 1-341 9-2-1 0-1 0 2-1-1 0 0 0-2 0-2 0-2 0 1-1 4-1-4-1-3-1 2-336 6-2-8 0 8-1-8 0 2-1 7-1-3 0-4 0 4-1-5 0 4-1-4 0 8-1-5 0-1 0-1-2 8 3 2 0 6 0-8 2 2 0 1 0 3 0 2 0-7 1 2 0 1 0 1 0 1 0-4 1 1 0 6 0-5 1 0 0 1 0 2 1-5 340 2 1 5 0-9 1 1 0 3 0 2 0 3 0-8 1 5 0 2 0 5 1 4-1-4 0-3 0 0 0 0 0 2-1 14 1-6 1 0 0 2 0 1 0 3 0 9 0" fill="none" stroke="none" marker-start="url(#g)" marker-mid="url(#g)" marker-end="url(#g)"/><path d="m67 240 0 10 2 6-2 309 7 672 5-1-1-2-6-2 7-326 0 0 0-1-5 0 5-1-1 0-2-2 3-1-1 0-1 0-1 0-3 0 2-2-4 0 6-1-3-1-3 0 7-1-2-291 2-19-7 0 3-3-3-2 4-10-3-1-1-1 7-2 0-3-7-295 3-1 3-18-2 0-2-4 2-1 4-1 0-4-4 0 4-3-1-6 7-28 4 6-9 11 9 4-8 2 1 0 4 0 0 0-5 3 2 1 2 1-3 3 1 2 5 5-8 1 6 1 1 3-1 1-3 3 1 0 2 0-4 3 1 4 4 9-2 295-2 2 5 1-8 1 2 0 3 0 4 0-5 1 0 0 0 0 5 0-7 1 0 0 1 0 2 0 0 0 1 0 1 0 1 0 0 0-6 1 2 0 3 0-2 1 2 0 2 0-6 1 0 0 3 0 1 0 1 0 0 0 1 0-5 1 3 0-1 1 0 2 3 0-9 1 5 1-3 9 5 4 2 2-1 3-8 4 2 296 0 2 0 0-2 1 2 0 1 0 1 0 1 0 2 0-7 1 3 0 1 0 5 0 0 0-9 1 2 0 2 0 3 0 0 0 0 0 0 0 0 0 1 0-8 1 1 0 0 0 1 0 1 0 0 0 0 0 1 0 0 0 0 0 1 0 0 0 1 0 1 0 1 0 0 0 1 0-9 1 1 0 2 0 0 0 1 0 0 0 1 0 2 0 0 0 0 0 2 0 0 0-8 1 3 0 0 0 1 0 1 0 1 0 0 0 0 0 0 0 1 0 0 0 0 0 0 0 0 0 1 0 0 0-9 1 1 0 1 0 1 0 0 0 2 0 1 0 0 0 1 0 0 0 0 0 0 0 1 0 1 0 0 0 0 0-5 1 0 0 2 0 1 0 0 0 0 0-7 1 2 0 1 0 0 0 2 0 2 0-5 1 2 0 0 0 5 0-2 6 1 1-6 315 1 0-1 1 6 0-6 1 1 0 0 1 3 0 1 0 2 0 0 0-5 1 1 0 0 0 2 0 1 0-5 1 0 0 2 0 0 0 1 0 1 0 0 0 2 0-7 1 1 0 3 0 1 0 0 0 2 0-8 1 1 0 0 0 0 0 1 0 1 0 0 0 1 0 1 0 0 0 2 0 1 0 0 0 0 0-8 1 4 0 1 0 1 0 2 0-4 1 1 0 0 0 2 0 1 0-8 1 1 0 4 0 3 0 0 0-3 1 0 1 3 0-4 1 2 1 0 0 0 2 10 4 0-2 2-1-5 0 4-1-2 0-3 0 5-1 1-1-1-1-5 0 6-1-3 0-1 0-1 0-1 0 0 0-1 0 4-1-1 0-5 0 9-1-2 0 0 0-1 0-1 0-1 0-2 0 5-1 0 0-1 0 0 0 0 0-2 0 0 0-1 0 0 0-2 0-1 0 8-1-1 0-2 0-2 0 0 0-1 0 0 0-1 0-1 0 9-1-1 0-1 0-1 0 0 0 0 0-1 0 0 0-2 0 0 0-3 0 7-1-1 0 0 0-2 0-2 0-1 0 0 0 0 0-1 0 9-1-1 0 0 0-2 0-3 0 0 0 0 0 0-1-1 0 3-1 0 0 1-1-2 0-4 0 9-2-4 0 2-319-7 0 6-1-1 0-2 0 6-1 0 0-1 0-2 0-5 0 8-1-3 0 0 0 0 0 0 0-1 0-2 0-1 0 7-1-1 0-1 0 0 0-1 0-1 0-1 0-1 0 0 0 0 0-2 0 7-1 0 0-2 0-3 0-1 0-1 0 0 0-1 0 0 0 8-1-1 0-1 0-1 0-1 0-1 0-1 0 0 0 0 0-2 0 0 0 9-1 0 0 0 0-1 0 0 0-1 0-2 0 0 0-1 0 0 0-1 0-1 0 0 0 0 0 0 0-2 0 8-1-1 0 0 0-1 0 0 0 0 0-1 0 0 0 0 0-1 0 0 0-3 0 0 0-1 0 0 0 0 0 0 0 9-1 0 0-2 0-1 0 0 0-1 0 0 0-1 0 0 0 0 0 0 0 0 0-2 0 0 0 0 0-1 0 0 0 0 0 6-1 0 0-1 0 0 0-3 0 0 0-1 0-1 0-1 0 9-1-1 0-3 0 0 0-2 0-1 0-2 0 0 0 9-1-1 0-6 0 7-1-4 0-1 0 0 0-1 0 4-1-7-8 6-1 2-299-4-1 1-3 0-1-4 0 6-2-7 0 2-3-1-1 8-1-5 0-2 0-2 0 4-1 3-1-2 0 4-1 0 0-3 0-5 0 0 0 7-1 0 0-1 0-1 0-2 0 2-1 0 0 0 0 0 0-2 0 0 0 5-1-1 0 0 0-1-1-2 0-3 0 0 0 0 0-1 0 8-1-1 0 0 0-3 0-1 0-1 0-1 0 0 0 0 0 5-1-1-1 0 0-4 0 7-1 0 0-3 0-3-1-1-6 1-284 6-23-2 0-7-4 9-2-6 0-2-2 1-3 6-2-5 0-2-1 4-2 0-1-1-1 4-1-1 0-2-2 2-3-6-2 2-2-3-1 8-1-2-1 3-5 0-2 0-3 10-17-1 11-3 2 4 0-2 7 2 1-4 3 0 0 3 0-6 2 5 1-4 1-2 1 4 2 1 0 0 0-4 1 5 0-5 6 3 0-5 3 4 3-3 15 7 1-5 2 5 292-3 4 3 4 1 1-5 2 0 0 5 0-4 1 2 6-6 1 3 1 4 0 0 0-8 1 5 0 2 0-7 1 0 0 1 0 1 0 3 0-4 1 1 0 3 0 1 0-5 1 0 0 1 0 5 0 2 1-6 1 5 0 0 0-5 5-3 3 7 1-4 11 5 277-5 7 4 1-3 1-3 1 8 2-2 3 2 0 0 2-1 1-5 3 5 0-8 2 6 0 0 4 1 0-6 1-1 1 5 0 0 0-5 2 3 0 0 0 3 0-6 1 0 0 2 0 0 0 0 0 0 0 2 0 0 0 1 0 1 0 1 0 2 0 0 0-9 1 0 0 1 0 0 0 0 0 3 0 3 0 2 0-9 1 3 0 0 0 1 0 2 0 1 0 1 0 1 0 0 0 0 0-9 1 0 0 0 0 1 0 0 0 0 0 5 0 1 0 0 0 1 0-8 1 1 0 4 0 0 0 2 0-6 1 1 0-1 1 3 0 2 0 1 0 1 0 1 0-8 1 4 1-1 1 3 0-3 1 5 0 0 0-8 1 8 0-2 3-6 317 0 0 0 1 1 0 6 0 0 0-4 1 1 0 4 0-9 1 1 0 1 0 5 0 1 0-8 1 0 0 1 0 2 0 2 0 0 0-5 1 1 0 4 0 1 0 0 0 1 0-6 2 3 0 1 0 3 0-6 1 4 0 0 0 3 0 0 0 0 0-6 1 1 0 1 0 0 0 1 1 3 0-8 1 4 0-2 1 1 0 1 0 3 0 1 1-2 6 8 2 2-3 2-3-3 0 0 0 3-1-2 0-1 0-1 0 0 0-5 0 5-1-2 0-2 0 8-1-4 0-1 0-2 0-1 0 8-1-3 0-1 0-2 0-1 0-2 0 9-1-3 0 3-1-4 0-1-1 4-1-3 0-3 0 7-1-8 0 3-1-3 0-1 0 2-1-2 0 1-2 8-322-7 0 7-1 0 0-6 0-1 0 5-1-2 0-1 0 5-1-1 0-1 0-2 0-1 0 2-1-2 0 0 0-1 0-2 0 7-1-5 0 5-1 1-1-7 0 0 0 7-1-9 0 0 0 4-1-1-1-1 0-2-1 0 0 5-1-1 0 0 0-3 0 1-1-2 0 6-2-3 0-2 0 3-3 0-1-4-3 1-1-1-1 6-1 3-1-1 0 0-1-2-5 1-2-4-2-1 0 5-3-5-8 6-285 1-2-2 0-6-1 7-4-2 0-2 0-1 0 4-1-3 0-4-1 0-2 5-5-2-1-2 0 0-2 3-1-3 0 3-5-1-5-2 0 8-1-3 0-5-3 4-1 3-313-1-5 0-4-1-2-1-2 4-5 0 0-1 0-8 0 7-1-6 0-1 0 7-1-4 0 0 0 5-1-1-2-3 0 5-1-7 0 7-2-3 0 0-1-4 0 7-2 0 0-3-1-1 0-3 0 0-2 7-1-1 0 1-2-3 0-1-4 3-10-1-2-1-2 0-3 1-5 2-1-1-3 10-15 1 20-4 10-1 4 4 0 0 0 0 2-3 1-5 1 6 1 1 2 2 0-2 2-6 2 0 0 2 2 1 5 5 0-4 1-1 1-3 2 7 0 1 0-8 8-1 2 3 0-2 3 1 293 3 11 4 3-6 1-1 2 1 0 1 4 3 0 0 0-6 3-1 1 2 1 6 0-8 5 5 0 2 0-6 1 4 2 1 0-1 3-3 4 3 7 0 8-4 2 8 1-8 1 3 0 2 1 2 0-2 2-6 2 5 0 1 0-6 2 7 262-3 7 3 8-6 10 5 3 0 6-4 3 4 0-2 1-1 2-3 3 2 3 2 4 4 6-6 4 3 0-5 1 0 0 8 0-4 1 1 0-5 1 0 0 0 0 0 1 5 0-5 1 8 1-3 1 2 0-7 1 4 0-2 1 2 0 2 0 0 0 2 0-3 1 4 0-5 1 2 0-2 1 3 0 1 0-7 2 4 0 2 0 2 0-8 1 6 4-7 311 5 3-1 2 2 0 2 0-2 1 3 0-9 1 1 0 0 0 6 0 2 0-4 1-4 1 2 1 1 0 5 0 0 0-6 1 3 0 1 0 2 0-9 1 1 0 2 0 2 0 1 0 2 0-6 1 4 0 1 1-7 1 0 0 6 0 1 0 2 0 0 0-5 1 2 0 2 0 1 0-7 1 7 0-5 1 15 3-2-3-1 0-1 0-1 0 4-1-2 0 0 0-3 0 6-1-1 0 0 0-2 0-3 0-1 0-1 0 0 0 7-1 0-1-2 0 0 0-1 0-5-1 9-1 0 0-2 0 0 0-1 0-1 0 0 0-1 0-3 0 3-1-2-1 5-1-1 0-5 0 8-1-3 0-2 0-1 0 0 0 3-1 0 0-5 0 8-10 0-310-2-1-2 0-3 0 6-1-8 0 9-2-7 0 0 0 4-1-1 0 3-1 0 0-3 0-1 0-3 0 7-1-1 0-3 0-2 0-1 0-1 0 9-1-4 0 3-1-8-1 9-1-2 0-2 0-1 0-1 0-2-2 7-1-4-1-1-3 5-1-8-1 0-25 8-1-3-3 4-4-8 0-1-4 3-3 1-2 0-1 5-1-3-7-3-2-3-3 5-2 2-1-1-5 2-255-2 0 2-1-8 0 0-1 7-1-3-7 2-27-3 0 3-7-4-1-1-1 2-3 6-1-3 0 0-2-3 0 1-1 4-3-7 0 7-2-3 0 1-1 0 0-6 0 9-1-2 0 0 0-2-3 0-2 4-5-2-1-1-311-5 0 3-2 0 0 4-1-7 0 0-2 7-1-3 0-4-1 2-2 5-3-5-1 5-1-4-1-1 0 6-1 0 0-1-1-1 0-3 0-2 0-1-1 2-1 1-1-2 0-2 0 0 0 5-1 2-1-1 0 2-1-5 0 6-1-2 0 2-1-2-2-2-2 3-4-5-1-1 0 17-37-5 13 1 10 2 3-4 3 2 0-3 2 0 2 2 1 4 1-1 1 1 0-6 2 2 0 0 0-1 2 6 0 0 0-9 2 2 0 2 0 2 0 1 0 1 0-6 1 3 0 0 1 3 0-2 1 1 0 1 0-6 1 1 0 1 2 2 0 3 0-2 2-1 3-5 1 3 0 2 1 0 0-5 5 6 1-4 2 2 5-4 2 8 305-2 1 0 2-2 3-2 1 4 4-4 1 1 0 2 0 1 0-2 1 3 0-3 3-2 8 1 0-2 3-1 8 2 0 3 15-2 18-1 5 5 0 0 1 1 1-9 1 2 0 4 0 3 0-9 1 9 0-8 1 7 0-8 1 2 1 3 0 1 2 1 251-3 3 5 1-5 3 3 0 1 2-7 2 1 3 2 1 4 0-1 1 0 0-2 2 3 1 0 1-4 1 2 0-5 1 6 0 0 1-7 1 1 0-1 1 4 1 1 0-3 4 1 1-2 3 1 0 7 0-7 1-1 1 0 0 3 1 2 1-2 7 5 3-2 2 2 0-3 1 1 8-3 8-1 3 4 1-6 2 3 0 0 0 0 0 3 0-6 2 1 0 0 0-2 1 1 0 1 0 1 0 1 0 0 1 1 0 1 0 2 0 1 0-7 1 3 0 0 0 3 0 1 0-6 1 1 0 2 0 0 0 0 0 3 0-8 1 2 0 1 0 3 0 2 0-9 1 1 0 3 0 1 0 0 0 2 0 1 0-8 1 5 1-4 1 0 0 2 1 5 1 0 2-8 315 1 5 6 0 1 1 1 0-7 1 4 0-6 1 0 0 7 0 1 0-7 1 2 0 1 0 0 0 4 0-2 1 1 0-7 1 6 0 1 0 2 0-9 1 5 0 2 0 2 0-9 1 0 0 2 0 1 0 1 0 2 0 0 0 3 0 0 0 0 0-9 2 5 0 1 0-1 2 4 0 5 2 4-1 0-1-2 0-1 0-2 0 6-1-1 0 0 0-1 0-1 0 0 0 3-1 0 0-5 0 0 0 3-1-1 0 3-1-5 0-2 0-1 0 7-1-1 0-3 0-1 0-3 0 6-1-1 0-1 0-2 0 0 0-1 0-1 0 8-1-1 0-2 0-2 0 0 0-1-1-2 0 5-1-1 0-4-1 6-1-4 0 5-1-1-320 3-1-1 0-1 0-1-1-6 0 9-1-2-1 0 0-3 0 3-1-1 0-2 0-1 0 5-1-2-1-3 0 4-1-4 0-3 0 2-1 4-1-2-1-2 0 0 0 0 0 2-1-4-1 6-1-3 0-3-18 9-3-2-12-4-8 5-7 0-3-2 0-5-2 2-4 4-3-6 0 8-2-4-4-2 0 6-2-6 0-3 0 4-1-4 0 9-3 0-2-4 0 0-1 4-1-4-9 1-7-5-1 8-232-2-1-1 0-1-1-5-2 4-2-2-2 0-1-2-22 8-8-5-5-3-15 8-1 1-2-3-1-3-2 0 0-3-2 4-1 2-1-3 0 6-2-4 0-2 0 3-1-2 0-2-1 7-1-4-1-4 0 6-1 2-1 0 0-7 0 2-2-4 0 4-1 4-1 1-1-3 0-5 0 2-2-2 0 4-1-2-10 5-2 0-306-1 0-7 0 0 0 1-1 1-3 1-1 2-1-3 0 0-2 0 0 7-1-9 0 8-3-3 0 1-1-3 0 3-1-1 0-3 0 6-2-1 0-1 0-3 0 6-2-3 0-6 0 6-6-5 0 7-1-2 0-3 0-3-1 8-1-4-2-2 0 7-4-1 0-5 0 6-1-6 0 6-1-2 0 0-1 1-3-2 0 3-2-3-4 2-2 7-4 3 0-1 2 1 1 1 0-6 3 6 0 0 0-7 1 6 1-3 1-2 2 5 1 0 0 1 0-9 1 2 1 2 0 2 0-1 1-4 2-1 1 4 0-2 1-2 1 1 0 3 0 4 0-6 1 1 0-2 1 1 0 6 0 1 0 0 0-6 1 5 0 1 1-9 1 3 0 1 0 3 0-4 1-2 1 3 0 3 0-2 1 2 0-3 1 2 1 0 1-2 1 2 0-1 3-3 2 2 1 4 0-1 1-7 9 1 306 7 0-4 3-2 1 2 1 2 0 3 0-5 1 1 1 2 0-1 1-6 4 5 0 2 2-6 4-1 2 5 0-2 2-2 3 7 0-6 7 3 0-4 2-1 1 6 15-5 3 4 12-3 24 5 1 1 3-2 1 3 2-7 1-2 1 1 0 1 0 6 0-4 2 4 0-8 2 2 0 2 1 1 0 4 1-1 2-1 217 1 6 1 0-1 1-4 4 5 1-4 1 2 5-5 4 2 0 5 1-5 2 5 0-8 1 2 0-3 2 2 1 1 0-1 3 5 0 1 1-1 1 1 0-7 1-1 5 4 1 4 0-8 2 3 0 4 5-2 12-1 5 4 0-5 2 0 6 4 9-4 6 4 5-7 7 6 4 0 0 1 0-7 2 0 0 2 0 2 0 1 0 1 0-5 1 1 0 3 0-4 1 6 0-6 1 0 1 0 0 0 0 4 0 0 0 2 0-7 1 3 0 1 0 3 0-7 1 3 0 3 0 2 1-8 1 8 1 0 1-4 2 4 0 1 0-8 295-1 26 8 0-7 1 1 0 0 0 5 1-6 1 1 0 1 0 4 0-4 1 3 0 1 0 1 0 1 0-6 1 2 0-3 1 0 0 2 0 4 0-5 1 0 0 1 0 2 0 0 0 3 0-3 1-2 1 0 0 3 0 1 0 0 0-8 1 2 0 4 0-5 1 1 0 4 0 3 0-8 1 2 0 2 1 7 3 2-1 5-1-7 0-1-1 8-1 0 0-1 0 0 0-1 0 2-1-4 0-5 0 9-1-2 0-3 0 5-1-1 0-1 0-6 0 6-1-5 0-1 0 7-1-5 0-3 0 8-1-3 0-3-1-1 0 8-2-5-3 3-317 2-2-4 0-2-1-3-1 9-1-9 0 8-1-7 0 8-1-3 0-4 0 7-1-2 0 0 0-3 0-1 0-3 0 7-1-5 0-2 0 6-1-1 0-2 0 5-1-3 0-4 0 7-1-3 0-1 0 0 0-4 0 8-1-1-2-7 0 4-2 4-5 0-1-7-13 1-6 2-4-4-3 6-1-1-6 0-9-4-4 7-11-6-7-2-1 7-5 0-2-1-1 0-1-6 0 2-2 4-1-3 0-2 0 5-1-4 0 2-6 2-1 3-1-5 0 1-2-2 0 5-1 0-1-4 0-3 0 4-1-2 0-1 0 6-1-4 0 1-1-2-10 5-212-1 0-7-2 8-1-6 0 7-3-7 0 0-3 6-12-4-38-3-22 2-4 1-1 3-3-1 0-3-1 1-3 3-1-7 0 0-1 4-1 0 0 0 0-2-1 5-1 2-1-6 0-2-1 1-2-1 0 5-1-6 0 9-1-7 0-1 0 8-2-1 0-3 0-1 0 5-1 0 0-8 0 7-1-1 0 0 0-5-1 4-5-1 0 0 0-2-1 6-3-3-1-5 0 6-2-4-285 0-23 0 0-2-5-1 0 5-2-1-2 3-1 1-2 0 0-5 0-1 0 6-2-4-1-4 0 0 0 9-1-8 0 0 0 8-1-3 0 0 0-3 0 6-1-1 0-2 0-3-1 5-1 1-1-2 0-1 0-1 0-1 0 0 0-3 0 0-1 8-1 0 0-1 0-4-1 5-1-4 0-4 0 8-1-6 0-2 0 8-1-1 0-3-1 4-1-5 0 3-1-2 0 3-2 0-1-3 0 4-3-7 0 7-1-3 0 1-2-3-2 7-6 2 2-2 2 2 0 6 1-3 1-6 1 2 0 3 0-4 1 0 4 1 0 1 0 0 0 5 0 1 0-8 1 0 0 3 0 3 0 2 0-5 1 3 0-5 1 1 1 0 0 4 0 1 0-6 1 5 0 2 0 0 1-6 1 2 0 1 0 0 1-4 2 1 0 2 0 1 0-5 1 4 0 2 0 1 0-7 1 0 0 2 0 0 0 1 0 3 0-7 1 2 0 2 0 0 1 4 0-8 2 2 0 0 1 3 0 3 1 1 0-6 1 0 3-1 1 0 1 5 1-1 1-5 2 4 311-5 4 7 1 2 0-2 1-6 1-1 1 6 0-3 1 3 0 2 0 1 0-2 1 2 0-7 2 3 0-1 1-4 1 0 1 1 0 7 0-4 1 3 0-4 3 6 0-9 1 4 0 1 0-3 1-1 2 2 0 6 0-8 1 2 1-2 2 8 0 0 0-7 1 0 1 2 42 4 1-7 1-1 45 5 0-5 3 0 0 0 0 1 0 4 0-5 1 6 0 3 0-5 1 4 0 1 1-1 1-1 1 0 196-3 8-4 3 6 1-2 2 0 1-4 4 2 0 2 0 2 0-5 1 3 5 2 0-3 1 1 0 0 2 5 0-9 1 2 0 3 2-1 4-3 1 4 0 0 0 3 0 0 1-4 16 3 0 1 1-8 5 7 3-2 1 0 8 4 3-4 6-3 1 7 10-8 17 5 1-1 9-5 2 1 10-1 1 6 0-5 1 3 0 0 0-3 1 0 0 2 0 6 0-8 1 2 0 1 0 3 0-7 1 8 1 0 0-4 1-4 1 3 1 4 0 1 2-3 1 0 1-4 266 4 16 4 11-9 24 2 1 7 1-2 1 1 0-8 1 1 0 4 0 1 0-4 2 4 0 3 1-9 1 3 0 1 0 1 0 2 0-5 1 2 0 4 0-2 1-6 1 0 0 2 0 6 0-7 1 3 0-1 1 3 0 2 0 0 1 10 4-6 0 7-1 0 0-7 0 4-1-3 0 3-1-5 0 4-1-1 0-2-1 7-1-5 0 1-1 0-1-5 0 8-1-4 0-3 0-1 0 6-1-3 0-1 0-2 0 7-1-4 0-3 0 0 0 9-318-1-7-6-1 7-1-2 0 0-1 1-2-6 0 0 0 7-1-1 0 0 0-7 0 4-1-1-2-2-11 7-16-8-2 8-6-7-3 4-4-3-4-2-2 1-4 4-7-2-11-4-1 5-5 3-2-2-8-3-6-3-6 1-1 6-2 0 0 0-4-3 0-3-2 2-2-2-2-1 0 8-1 0 0 0 0-6 0 5-1 2-1 0-1-3 0 2-1 1-6-2-1-4 0 1-1 4-1-2 0 2-2 0 0-8 0 9-2-9 0 3-6 3-3-3-5 5-182 0-1-5 0 4-1 0-1-1 0-1 0-5 0 0 0 9-2-2-1-4 0-1 0-1-1-1 0 7-1-6 0 6-9-2-15-5-8 1-18 7-10-7-6 8-4-1-14-2 0-3-4 0-6-1-2 2-3-2-4 5-2-1 0-3 0-3 0 4-2-1 0-1 0 7-1-9 0 2-1-2 0 7-1-7 0 2-1-1-1 3-1-3 0-1 0 4-2-2 0 4-1-4 0-2 0 7-1-6 0 8-2-3 0-1 0-4 0-1 0 7-1-1 0 3-1-3 0-2 0-4 0 8-1 0-1-1-1-1-3-3-314 6-1-8 0-1-1 9-4-5-1 0 0-1 0 1-1 3-1-1 0-4 0 0-1 5-1-5 0 6-1 0-1 1-1-4 0-3 0-2 0 7-1-1 0-3 0-1 0 4-1 3-1-2 0-4 0-1 0-2 0 8-1-3 0-1 0-2 0-2 0 9-1-1 0-2 0-5 0 4-1-4 0 0 0 0 0-1 0 9-1-4 0 0 0-5 0 8-1-2 0 0 0 0 0-2 0 0 0-2-1 5-1-3 0-2 0-1 0-1 0 5-1-1 0-4 0 9-1-4 0-1 0 0 0-2 0 0 0 3-1 3-1-1 0-2 0 2-1-1 0 0-1-4 0 7-1-9 0 9-1-1 0 0 0-3 0-5 0 3-1 0-1 4-1 2-1-4 0 3-1-3-1 3-1-7-3 5-2 11-1 1 3-6 2 2 4 3 0-6 1 0 0 6 0-4 1 1 0 2 0-6 1 4 0-3 1 0 0 7 0 0 0-8 1 0 0 1 0 8 0-5 1 2 0 3 0-6 1 1 0 1 0-5 1 2 0 1 0 2 0 3 0 0 0 0 0 1 0-9 1 0 0 1 0 2 0 5 0-7 1 1 0 1 0 0 0 0 0 1 0 4 0 1 0-8 1 5 0 2 0 0 0-6 1 2 0-2 1 5 0 1 0-8 1 8 0-6 1 1 0 1 0 1 0 0 1 3 0-4 1 1 0 0 0 3 0 0 0 1 0-9 1 2 0 7 0 0 0-5 1 3 0-7 1 3 0 0 0 6 0-5 1-4 1 3 0 2 1 2 0-7 1 7 0-7 2 3 2 5 0-3 3 2 0-5 6 4 305 3 4-4 1 2 0 0 2-2 1 3 1-4 1 2 0 1 0 2 0-5 1 1 0-2 1 2 0 4 0-4 1 1 0 1 0-3 1 3 0 1 0-5 1 0 0 2 0 2 0 2 0-8 1 3 0 2 0-4 1 3 0 0 0 3 0 1 0-6 1 1 0 5 0 0 0-6 1 2 0 1 0-5 3 5 0-1 1 1 0 2 0 1 0-3 2-1 1 4 0-8 1 2 0-3 1 1 3 3 101-4 1 3 4 0 0 3 0 2 1-8 1 6 0-6 1 5 0 1 0-3 1 0 0 2 0 1 0 2 0-8 2 7 0 0 3 2 173-8 7 4 2-2 4 6 0-4 1-3 6 3 0 2 6-3 3 3 1-1 1 2 0-8 1 3 0 0 1 3 0-4 1 5 0-7 1 7 0-7 1 9 2-8 1 8 2-8 3 4 0-2 6-1 15 2 0 1 0 0 3-5 5 3 0 4 0-2 15-3 4 1 11 2 0 1 3-6 3 3 0 0 3 3 0 2 0-5 18 1 1-2 6 2 1-1 2 3 11-1 1 4 0-9 1 4 0 0 0 1 0 0 0-4 1 6 0-6 1 1 0 6 0-7 2 4 0-1 1 3 3 2 2-5 3-1 321 0 0 2 0-5 1 1 3 5 0 1 0 2 0-9 1 8 1 1 0-6 1 4 0 1 0 1 0-7 1 7 0 0 1-7 1-2 1 16 0-2 0-3-1 4-1-3 0 6-1-1 0-1 0-3 0 0-1 0 0 3-1-1 0-1 0 2-2-1-1-1 0-3 0 6-1 0 0-7 0 5-2-3-3 5-318-4-2 5-1 1-2-3 0-4 0 7-1-6 0-2 0 7-1-4-1-3-1 6-1-3 0-2 0-2 0 7-1-5 0 4-1 2-1-8 0 4-1-3 0 2-1-1-1 4-1-5 0 5-2 0 0-5-2 6-10-5-2-1-7 5-4 0-2-3-4-3-1 0 0 2-15 4-2-1 0 4-4-1-1-2 0 2-7-3-17 2-10-4-6-2 0 4-1 2-3-6-12 3-2-3 0-1-1 6-2-6-3 3-4-3 0 8-1-4 0-1 0 1-1 4-1-2 0-2-1-3-3 0-11 0-3 4-2 1-1 3-174-1-1-1-1-1-1-1 0-2 0 3-1-6-1 9-1-2 0 1-1-1 0-6-1 6-21 0-1 0-3-5-5 2-11-4 0 2-2 7-9-5-8-1-21 2-10 3-15-7-5 2-2 3-3 1-2-1 0-3 0-1 0-1 0 1-2 2-1-3 0-1 0 0 0 9-1-1 0 0 0-4 0-2 0-1 0 2-1-2 0 8-1-1-1-3 0-3 0 4-1-1 0 3-1-2 0 0 0-2 0-2 0 7-1-4 0-4 0 6-1-1 0 0 0-1 0-1 0 0 0-2 0 0 0-2 0 5-1-2 0-1 0 0 0 5-1-1 0-3 0-1 0-1 0-1 0 7-1 1-1-4 0-1 0-1 0-2 0 8-1-4 0-2-1 5-1 2-1 0 0-3 0-2-2-2 0 1-3-1-314 3-1-2 0 2-1-1 0-1 0 5-1-6 0 7-2-1-1-3 0-1 0 0 0 0 0 4-1-1 0-3 0-3 0 7-1-7 0 8-1-1 0-3-1-5 0 4-1-4 0 9-1-1 0-5 0-2 0 0-1 0 0 2-1-2 0-1 0 9-1-2 0-5 0-1 0 8-1 0 0-4 0 0 0-1 0 0 0 3-1-1 0 0 0-2 0-2 0 0 0 0 0 5-1-1 0-1 0-1 0-3 0 8-1-1-1-2 0 0 0 0 0 2-1-1 0 0 0-2 0-5 0 0 0 9-1-1 0-1 0 0 0 0 0-1 0-3 0-2 0-1 0 3-1-1 0 0 0-1 0 8-1-2 0-4 0-3 0 6-1-1 0-1 0 3-1-3 0-4 0 8-2-5 0 2-1-4 0 0 0 8-1-4-2 3-7 6-1 2 1-3 5 6 0-3 3-2 1 5 0 0 0-7 1 5 1-3 1 0 0 1 0-4 1 0 0 2 0 0 0 4 0 2 0-9 1 2 0 1 0 1 0 1 0-4 1 4 0-4 1 0 0 2 0 5 0 1 0-4 1 1 1 2 0 1 0 0 0 0 0-8 1 0 0 1 0 0 0 1 0 0 0 1 0 3 0 2 0-9 1 0 0 3 0 1 0 0 0 0 0 2 0 0 0 0 0 1 0-7 1 4 0 1 0 1 0 1 0 2 0-9 1 1 0 3 0 0 0 0 0 1 0 2 0 1 0-4 1 1 0 0 0-2 1 0 0 5 0-8 1 1 0 2 0 1 0 1 0 1 0 1 0 1 0 1 0 0 0-9 1 2 0 1 0 1 0 0 0 3 0 1 0-6 1 1 0 0 0 1 0 2 0 1 0 1 0 1 0-8 1 0 0 2 0 0 0 2 0 1 0 0 0 0 0 2 0-3 1 2 0-2 1 0 0 2 0 1 0 0 0 1 0-9 1 1 0 1 0 2 0 1 0 2 0 1 0 0 0 1 0-2 1-3 1 2 0 3 1 0 0-7 1 0 0 4 0-3 1 3 0 3 0-5 1 4 6-2 311 2 0-7 1 8 0-9 1 0 0 0 1 3 0 1 0 1 0 1 0 2 0-5 1 3 0-1 1 0 0 3 0-6 1 2 0 3 0 1 0 1 0-6 1 5 0 1 0-7 1 2 0 1 0-5 1 3 0 2 0 1 0 0 0 0 0 2 0 1 0 0 0-8 1 0 0 5 0 2 0-8 1 0 0 3 0 2 0 2 0 1 0-8 1 2 0 1 0 4 0-7 1 0 0 3 0 2 1 1 0 3 0-6 1 1 0 3 0-6 1 1 0 0 1 2 0 2 1 3 0-1 1 1 1-8 1 5 0 3 0-7 3 2 0 1 3 4 0-2 3 2 0-4 8 3 3-5 1 2 3 4 0-8 1 1 21-1 3-1 12 7 5 2 4-3 5 1 6-4 7-2 6 5 7 1 6 1 2-8 1 8 1-5 8 2 1 2 1-7 4 0 1 3 0 3 0-6 1 3 0 4 0 2 2-9 1 2 0 2 191 1 1-4 2 0 0 8 0-3 1-5 1 2 0 0 1 3 1-2 1 4 1-4 1 0 0 3 0-4 1 3 1 1 2 0 0-7 1 4 0 3 0 2 0-5 9-1 3 6 1-9 4 3 2 3 5 1 19 0 3-5 1 3 11-3 13 3 2 1 0 2 9-2 4 1 0-2 3 0 3 4 8-1 7-2 6-3 5 4 0 0 0-4 3 6 0-8 1 2 0 2 1 1 0 3 0-9 1 1 0 8 0-7 1 2 0 1 0-3 1 6 0 1 0-6 1 4 0-3 1 1 1 2 0 1 0-2 1-6 1 5 0 3 294-3 23-3 6-2 1 1 2 1 0 4 0-1 1 2 0-3 1 0 0 1 0 0 0 2 0 0 0 2 0-8 1 4 0 2 0 1 0 1 0-4 2-3 1-1 2 7 0-1 1-6 2 6 0 7 2-1-1 2-1 4-1-3-1 3-2-3 0-2 0 1-1-4-1 7-1-3 0-2 0-2 0 0 0 8-1-4-1 3-1-2 0-3 0-2 0 8-1-2 0-5 0 0 0-2 0 3-2 0-1-1 0 3-1 0-1 4-315-4-6-1 0 4-2-6 0-1-1 7-1-1 0 0 0-3 0-2 0 6-2-3 0 0 0-4 0 8-1-3 0-3 0 5-1-1 0-1 0-3-1 2-12-3-12 4-6-3-6 1-10 5-10-7-1-2-2 3-11-3 0 8-11-6-1 6-6-8-11 5-7-4-8 4-2 1-2-1 0 3-7-8-1 7-1 2-2-6 0 6-1-1 0-1 0-3 0-2 0 5-1 1-1-6 0 6-1-5 0 1-1-2 0 6-1 0 0-1 0 0 0 2-1-3-1-2 0 0-1-3-183 3-3 2-2-2 0 4-4-3 0-5 0 6-1-5 0-1 0 6-1-6-1 3-1-2-1 4-1-2-8 4-4-6-9 8-24-8-23 8-1 0-3-7 0 5-3-3-7-1-3 5-4-8-7 3-16 2-2-2 0 1-1 4-1-5-5-1 0 2-1-3 0-1 0 8-2-1 0-1 0-2 0 0 0 5-1-1 0 0-1-1 0-1 0-3 0 6-1-7 0-1 0 7-1-6 0 0-1-1 0-1 0 9-1-4 0-1 0 5-1-1 0-3 0 0 0-1 0-4 0 0 0 9-1-4 0-1 0-2 0 0-1-1 0 8-1-4 0-1 0-3 0-1 0 9-1-3 0 2-1-1 0-3 0-1 0-1 0 7-1-2 0 0-1 0 0 0 0-1 0-4 0-1 0 6-1-3 0-1 0 0-1-3 0 1-4 5-1-4 0 0 0 5-306-5-3 4-2-4 0 4-1 0-1-1-2-2 0 5-2-1 0 2-1-4-1 1-1-5 0 4-1 0 0 4-1 0 0-3 0 0 0-6 0 6-1-1 0-1 0 0 0-1 0-2 0 6-1 0 0-4 0 0 0-1 0-1 0 7-1-2 0-1 0-1 0-1 0 0 0 0 0-1 0-1 0 8-1-3 0 0 0-3 0-1 0-1 0-1 0 7-1-1 0 0 0-1 0 0 0 0 0-2 0-3 0 8-1-1 0-1 0 0 0-2 0 0 0-2 0 0 0-2 0 0 0 0 0 8-1-1 0-1 0-1 0 0 0-1 0-1 0 0 0-3 0 9-1 0 0 0 0-1 0-2 0 0 0 0 0-1 0 0 0 2-1 0 0-6 0-1 0 8-1-2 0-1 0-1 0 0 0-2 0 3-1 0 0-4 0 0 0 0 0 0 0-1 0 0 0 8-1-2 0-1 0 0 0 0 0-3 0-2 0 4-1-1 0 0 0-3 0 0 0 4-1-1 0-3 0 8-1 0 0-2 0 0 0 0 0-2 0-2 0-2 0 0 0 8-1-4 0-1 0 6-1 0 0 0 0-3 0-1 0-1 0-3-1 4-1-1 0-3 0 4-1-2 0-2-2 1-1 1-4-1-4 8 5 6 0 3 7-6 1-3 1 8 0-4 1-4 1 2 0-2 1 2 0 2 0 4 0-8 1 1 0 1 0 1 0 2 0-4 1 3 0 0 1 0 0 4 0 1 0-8 1 1 0 1 0 0 0 2 0 0 0 4 0-9 1 0 0 0 0 1 0 0 0 1 0 1 0 1 0 4 0 0 0-8 1 3 0 0 0 1 0 4 0 0 0 0 0-8 1 0 0 1 0 0 0 1 0 2 0 2 0 1 0 0 0 2 0-7 1 1 0 1 0 1 0 0 0 0 0 2 0 2 0-8 1 1 0 2 0 1 0 0 0 1 0 1 0 1 0 1 0 0 0-8 1 1 0 0 0 3 0 2 0 1 0-5 1 1 0-2 1 1 0 2 0 2 0 2 0 0 0-7 1 1 0 1 0-4 1 1 0 3 0 0 0 0 0 1 0 0 0 4 0 0 0-7 1 3 0 0 0 1 0 1 0 0 0-7 1 0 0 9 0-9 1 5 0 3 0-7 1 3 0 2 0 1 0-7 1 3 0 3 0 0 0-6 1 2 0 5 0 0 0-5 1 3 0 0 0-3 1 3 0 2 1 0 0-4 1 6 0-9 1 9 3-1 1-8 310 9 3-7 1-1 1-1 1 3 0 2 0 2 0-7 1 0 0 2 0 2 0 5 0-9 1 2 0 0 0 2 0 4 0-8 1 3 0 1 0-3 1 1 0 1 0 5 0 1 0 0 0-8 1 2 0 4 0 1 0 0 0 1 0-9 1 3 0 1 0-4 1 1 0 2 0 3 0 3 0-4 1 0 0 1 0 2 0-7 1 3 0 4 0 1 0 0 0 0 0-8 2 3 0-1 1 1 0 5 0-1 1 1 0-9 1 5 0 0 0 1 0 2 0-5 1 3 0-4 1 3 0 2 0 1 0-8 1 5 0 2 0 1 0 0 0 1 0-2 1 2 0-5 3 2 0-6 1 8 0-8 1 7 0-6 1-1 3 0 17 5 12 4 6 0 10-7 1 5 1-2 1 1 11 3 13-9 16 5 3 1 0-2 14-3 7 1 1 4 1 3 0-9 1 1 0 1 0 2 0-4 1 9 0-3 1 0 0-3 1 0 0 2 0 4 0-8 1 3 0-1 1 2 0 3 0-3 1 2 0 2 0 0 0-2 2-6 187 4 1 1 0-6 1 1 0 4 1-4 2 4 0 2 0-5 1 3 0-2 1 1 1-3 1 0 1 1 0 4 1 2 0-2 2 1 0 2 1-7 1 3 3 3 4 0 2-8 3 0 7 9 16-8 12 1 10 2 6 0 0-4 6 5 3 2 23-2 3-1 13 2 2 2 0 1 3-7 4 5 2-7 1 1 0 4 0-3 1 7 1-8 1 6 0 2 0-8 3 4 0 0 0-5 1 2 0 1 0 3 0-3 1 2 0-1 2-1 1 3 1 1 0 2 0-9 319 1 2 0 1 2 0 3 1-4 1 0 1 1 1 0 1 0 1 5 0-8 1 1 0 1 0-1 1 2 0 1 0 2 0 1 1-4 1 5 0-3 1 2 0-1 5 8-2 5-2 0 0 0 0 0-1-5-1-4 0 2-1-2 0 6-1-2 0-2 0 7-1-7 0 7-1-2 0-1 0-3 0-2 0-1 0 9-1-2 0-2 0-3 0-2 0 8-1-1 0-1 0-2-1 0 0-1 0 4-1-2 0 0 0 2-1-7-2 7-22-2-297 2-1-4-2-2 0 4-1 4-1-9 0 9-1 0-2-1 0-1 0-3 0-1 0 2-1-1 0-2 0 3-1 3-1-4 0-2 0-2 0 4-1-4 0 8-1 0-1-1 0-2-7 2-14-6 0 6-25-5-8 6-3 1-7-4-1 3-3-4-4 4-10-1-1-6-2 6-2-4-5 1-9 2-3-6-1 9-2 0-1-5-7-2 0-1-1-1-5 4-2-3 0 7-2-6-1 7-1-1 0-8 0 7-3-1 0 0 0-1 0-1-2 3-1-5-1-2 0 6-186 3-4 0-1-5 0-2 0 7-1-4 0 2-1-3 0-1 0-2-1 0 0 0 0 4-2 1-1-4 0 4-1-1-1 1-12-5 0 4-1 2-4-3 0 1-2-1 0 4-6-3-6 0-10 4-6-5-2 4-9-8-6 9-1-2 0-1-5-3-9-3 0 1-7 8-1 0-7-6-1 5-8 0-4-2 0 1-7 0-1-1 0 0 0-1 0 3-1-1 0-2-1 4-1-4 0 4-2-1 0-4 0 0 0-1 0 4-1-1 0-1 0-2 0 3-1-4-1-1 0 3-1 2-1-2 0-1 0 6-1-1 0-2 0-6 0 8-1 0 0-2 0-5 0-1 0 8-1-1 0-1 0-3 0-1 0-1 0 8-1-1 0-4 0-2 0 3-1 0 0 4-1-5 0 5-1 0 0-5 0-2 0 6-1-2 0-5 0 0 0-1 0 9-1-9-1 6-1-5 0 8-1 0 0-2 0-2 0 0 0-1 0 0 0-2 0 0 0 3-2-4-1 0-2 7-314-3 0-3-1 3-1 2-2-5 0 5-1-3-2-1 0 2-1-2 0 5-1 0 0-2 0 3-1-1 0-3 0 0 0-4 0-1 0 9-1-1 0-6 0-1 0-1 0 7-1-1 0-1 0 1-1-3 0 0 0-2 0-1 0 9-1-1 0 0 0-1 0-2 0-2 0 4-1-1 0 0 0-1 0 0 0-1 0-1 0 0 0 5-1-5 0-1 0 4-1-5 0 7-1-1 0 0 0-3 0-1 0-2 0 0 0 0 0-1 0 7-1-1 0 0 0 0 0-3 0-1 0 0 0 0 0-1 0 8-1-1 0-4 0-2 0-2 0 9-1-1 0-5 0 4-1-2 0-1 0-1 0-3 0 9-1-5 0-1 0-1 0-2 0 0 0 9-1-4 0-2 0 0 0-1 0-1 0 0 0-1 0 6-1-3 0-1 0 6-1-1 0-1 0-2 0-1 0 1-1 4-1-7 0 0 0 7-1-1 0-1 0-5 0 0 0-1-1 7-2-2 0-1 0 0 0-2 0-2 0 7-1-3 0-4-1 10 1 7 0-3 1 3 3-5 1 3 0 2 0 0 0-7 1 1 0 0 0 6 1 2 0-8 1 0 0-1 1 2 0 1 0 0 0 6 1-8 1 1 0 5 0-7 1 5 0 0 0 1 0 2 0 0 0-7 1 0 0 1 0 0 0 2 0 2 0 0 0 3 0 0 0-9 1 2 0 2 0 2 0 2 0 1 0-9 1 1 0 6 1-7 1 1 0 0 0 1 0 1 0 1 0 3 0 1 0 0 0-8 1 2 0 3 0 2 0 1 0 1 0 0 0 0 0-7 1 2 0 0 0 4 0 0 0 1 0-8 1 1 0 1 0 3 0 1 0 1 0-6 1 3 0 1 0 2 0 0 0-8 1 1 0 2 0 2 0-5 1 2 0 4 0-1 1 1 0 0 0 1 0 0 0 2 0-9 1 3 0 1 0-2 1 3 0-1 1 4 0-6 1 4 0 3 0-8 1 4 0 3 0 1 0-2 1 0 1 2 0-7 1 4 0-2 1 1 4-5 318 5 0-5 2 2 0 0 0 2 0 0 0-3 1 0 0 1 0 1 0 2 0 1 0 1 0-3 1 0 0-2 1 1 0 1 0 3 0-2 1 1 0 0 0-5 1 1 1 4 0 0 0-6 1 1 0 6 0 1 0-8 1 3 0 0 0 1 0 3 0-7 1 3 0 0 0 2 0 1 0 1 0 2 0-7 1 1 0 6 0-4 1-2 1 3 0 1 1-7 2 9 0-9 1 2 1 1 0 0 2 2 0 4 1-2 1 0 1-7 1 2 0 2 6-2 1 2 3 0 4 2 2 1 8-3 8 4 5-1 5-2 29-3 1-1 4-1 3 6 0 0 5 3 6-4 4-4 2 2 7-2 3 1 2-2 1 3 0 3 3-6 3 5 0 1 0-4 1 0 0 0 0 0 0 4 0-4 1 2 0 1 0 3 0-7 1 6 0 1 0-5 1 3 0 1 1-2 1-5 189 0 0 1 0 5 2-6 2 2 0 4 0-3 1 1 0 0 2-3 2 6 2-7 2 5 4-4 4 3 0 2 0-4 1 1 5 6 30-9 5 4 6 5 5-4 7 3 0-6 23 4 0-1 2-1 9-4 5 9 0-6 3-2 7 4 7-3 2 5 0-7 1 3 0 1 0 0 0-4 1 7 0-6 1 7 0-6 1 4 1-1 1 2 0-1 1 0 0-5 2 5 3 3 0-9 226 5 95 2 0-4 1 4 0-1 1 0 1 1 0-7 1 0 0 2 0 2 0 2 0-4 1 2 0 5 1-2 1 1 0 1 1-8 4 17 2-7-4 8-2-3 0 0 0-1 0 3-1-7 0 6-2-3-1-1 0-1 0 5-1-2 0 1-1-5-1 3-2 3-4 2-319-1-1-2 0-1 0 0 0-2 0-1 0 3-1 4-1-8 0 6-2-1 0-6 0 6-1 0 0-3 0 0 0-1 0-2 0 5-2-3 0-2 0 6-1-3-2-1-7-1-4 1-2-1-19 6-11-4-16 5-2-6-2 7-8-9-7 2-11 5-4-5-1 1-14 3-3 0-2 0 0-2-2-2 0 0 0 0 0 7-3-3-3-2-1-3 0 3-1-3 0 2-1-1 0 5-1-1 0 2-1-3 0 3-2-8 0 4-2-2-1-2-1 8-190 1-1-3 0 2-1-2-1 0 0 0 0 3-1-1-1 0 0-4 0-1 0 0 0-3 0 2-1 0 0 5-1-1 0 0 0-1 0-1 0-1 0 6-1-1 0-6-1 1-1-1 0 0-1 3-2-3 0 7-2-1-6-2-4-4-3-1-3 3-5 3-1 1-5 1-10-2-2 1-1 0-3-2 0 3-3-3-1-6-55 4-2 5-1-3-2 0-4-2-1-1 0 2-1 3-1-6-1 6-1-2-1-6 0 8-1-1 0-2 0-5 0 9-1-1 0 0 0-2 0 0 0 0 0-4 0 7-1-1 0-2 0 0 0-1 0-5 0 6-1 1-1-4 0 6-1-7 0 0 0 7-1-6 0-2 0 6-1-4 0 5-1-5 0 0 0-1 0 4-2-2 0-4 0 9-2-2 0-3 0-3 0 1-2-1-312-1-2 9-6-3-1 2-3-1 0-1-1-2 0-2 0 0-1 7-1-4 0 4-1 0 0-3 0-1 0-1 0 5-1 0 0-9 0 8-1-3 0 0 0-2 0 6-1-2 0-2 0-2 0-1-1 5-1-3 0-1 0-1 0-1 0 7-1-1 0-3 0 0 0 3-1-1 0 0-1-1 0-1 0-1 0-1 0 0 0-1 0 0 0 8-1-1 0-5 0-2 0 4-1-3 0 0 0 0 0-1 0 5-1-5 0 2-1 0 0 0 0-2 0 6-1-1 0 0 0-4 0-2 0 8-1-1 0 2-1-4 0-2 0 0 0-1 0 0 0 5-1-1 0 0 0-1 0-1 0-2 0 2-1-4 0 6-1-3 0-2 0 0 0-1 0 3-1 6-1-6 0 1-1-2 0 4-1-2 0 1-1-4 0 0-3 2-1 6-1-7-1 7-1 3 2 2 2 2 3-5 3 3 0-2 1 4 0-3 1-2 1 0 1 0 0 2 0-3 1 3 0 1 0 4 0-8 1 1 0 1 0-2 1 2 0-2 1 4 0 0 0-2 1 2 0 2 0 0 0 0 0 3 0-9 1 2 0 7 0-9 1 0 0 1 0 0 0 4 0 0 0 2 0-7 1 0 0 1 0 0 0 0 0 1 0 0 0 2 0 2 0 0 0 3 0 0 0 0 0 0 0-8 1 1 0 3 0 4 0-5 1-3 1 0 0 3 0 1 1 4 0-8 1 2 0 1 0 3 0-3 1 1 0 1 0 1 0 1 0 0 0 1 0 0 0-9 1 9 0-4 1 4 0-3 1-4 2 4 0 1 0-6 1 1 0 1 2 6 3-1 1-1 2 0 1-4 317-3 2 6 0-5 1 2 0 4 0 2 1-5 1-3 1 6 0-7 1 7 0-3 1 1 0 4 0-6 1 6 0-1 1 1 0-8 1 2 0 5 1 1 0-6 1 1 0 5 0-8 1 5 0 2 0-8 2 2 0 2 0-1 1 0 0 1 0 0 0-1 1 2 0-2 2 3 0 2 0-5 1 6 0-5 1-2 1 2 3 3 0-5 1 6 3-3 33 0 18-5 2 0 7 3 2-2 14-1 3 5 5-3 2 6 12-4 4-4 1 3 1 2 0-5 1 1 2 7 0-6 1 7 0-9 1 2 0 1 0 0 0 3 0 3 0-8 1 2 1 3 0-5 1 3 0 2 0-1 1 2 0-4 1 2 0 3 0-4 1 0 0 5 0 0 0-2 2 2 4-7 190 5 1-2 1 1 0 2 0-1 1-7 2 2 1 2 0 5 2-7 1-1 1 1 0 7 5-4 6 2 0-1 1-4 1 0 17 7 8-6 17 6 5-2 5 1 13 1 12-3 7 2 10 1 0-8 4 6 9 1 0 1 0-1 1-4 1 2 0 0 0 2 0-6 1 5 2 0 0 0 1 0 1 1 0 0 0-5 1 4 0 0 0-7 7 9 317-3 1-1 1 2 0-7 1 3 0 2 0-4 2 1 0 4 0 3 0-8 1 0 0 7 0-8 1 3 0 6 0-8 1 0 0 0 1 2 1 4 0 0 0-4 1 2 0-3 1 7 0-3 6 11-1-2 0-1 0 5-1-1-4 1-1-2 0-2 0-1-1-4 0 8-1-2 0 2-2-5 0 6-1-2 0-6-1 3-1 2-1 1-3 0-57 2-29-3-232 2-2-1-2-1 0 3-1 0 0-1 0 0 0 0 0 1-1-3-1 0-1-2 0-1 0-1 0 0-1 2-1 0 0 0 0 4-2-7 0 8-1-3 0-5 0 7-2-1-1 0 0-7-1 6-16 2-23 0-2-3-7 2-1-2-13-2-1 5-9 1-4 0-2-5-5 3-6 2-5-9-3 2-1 0-5 2-11-2-1 1-1 1-1 1-2 3-1-6-198 1-3-2 0 3-1-1 0-1 0 5-1-3 0-1 0-3 0 0 0 1-1 8-1-1 0-2 0-2 0-1 0 0 0-1 0-2 0 3-1-3 0 8-1 0-1-7 0-1 0 9-1-6-4-1-3 7-1-3-2 1-3-3-1 2-1 2-2 0-4 1-8-6-1 3-1 3-7-9-4 1-8 0-8 2-3-1 0 5-13 1-8-7 0-1-11 9-7-2-3 1-2-8 0 9-1-3 0 0-2-4-2 7-3-2-1-2-1-2 0-2 0 0 0 1-2 1-1 0-2-1 0-1-2 8-1-9-1 0 0 8-1-3 0-1 0 3-2-1 0-6 0 8-2-4 0-2 0-1 0-1 0 5-1 4-1-9 0 1-2 6-321-1-2-2-2 1-1 2-2-2 0-3 0-2 0 7-1-1 0-1 0 3-1-6 0 1-1 5-1 0 0-1-2 0 0-1 0-3 0 5-1-3 0-3 0-2 0 6-1-3 0-2 0 1-1 5-1-3 0 0 0-2 0 0 0 0 0-2 0 9-1-5 0 0-1-1 0-2 0-1 0 8-1-1 0 0 0-2 0-1 0 0 0-2 0 0 0-1 0 8-1-2 0-2 0-1 0-2 0-1 0-1 0 6-1-2 0 0 0-1 0 6-1-3 0-2 0-2 0 6-1-4 0-1 0-3 0 9-1-5 0-3 0 0 0 6-1-1 0-2-1-4 0 9-1-3 0-3-1-1-1 4-2 0-2-1-1-2 0-3-2 0 0 1-2 6-1 4 7 7 2-7 1 6 0-6 1 6 1-4 1 1 0 1 0-5 1 2 0 2 0 4 0-8 1 0 2 3 0 4 0-6 1 3 0 3 0 1 0-1 2 2 0-9 1 5 0 4 0 0 0-7 1 0 0 4 0 3 0-9 1 3 0 0 0 2 0-5 1 1 0-1 1 1 0 0 0 1 1-2 1 6 0 0 0-6 1 4 0 5 0-5 1 4 0 0 0-1 3 1 0-5 1 5 0 1 0-4 2 3 2-4 5 0 321 1 6-5 2 1 0-1 1 1 0 1 0 2 0-4 1 3 0 3 0-5 1 3 0 4 0 0 0 1 0-4 1 1 1-6 1 3 0-1 2-2 1 4 1 0 1-4 1 9 2-1 1 1 0-5 1 4 0-6 1 7 5-1 20 0 2-7 2-1 4 4 12 1 2 3 2-1 11-4 6-3 1 0 7 2 4 4 1 1 2-3 2-1 4 3 1-4 8 7 2-9 8 6 0-5 2 1 0 2 0 3 0-2 1 4 0-8 1 3 0 0 0 3 0 1 0 1 0-8 1 6 0-6 1 6 0-7 1 0 0 1 0 5 0 3 0-7 1 0 0 0 0 2 0-2 2 3 0 4 1 0 1-7 195-2 5 7 0-4 3 3 0-1 48 3 2-3 9 3 22-3 8-5 10 6 3-5 5-1 14 6 0 0 0-6 2 1 0 0 0 2 0 1 0-1 1 1 0-4 1 8 0-5 1-2 1 1 0 7 0-7 1 2 0 0 1 4 4 0 0-8 248 4 69-4 4 2 1-2 1 0 0 2 0 0 0-1 1 8 0 0 0-9 1 2 0 2 0 0 1-4 1 1 0 5 0-6 1 3 0 0 0 3 0 1 0-7 1 0 0 5 0 0 1 1 0-2 1 1 0 1 0 1 0 2 0 0 0-1 1-7 1 4 1 14 3-2 0-2 0 0-3 1-1-4 0 3-1 4-1-1 0-8 0 8-1 0 0-3 0-1 0 0 0-2-1-1 0-1 0 9-2-6 0 0 0 0-1-2 0 2-1-2 0-1 0 4-1-3-5 0-26 3-1 2-290 2-1 0 0-1 0 1-1 1-1 0-1-2 0-1 0-2 0 0 0-3 0 8-1-2 0-1 0-3 0 0 0 4-1-2 0-5 0 7-1-4 0 6-1-5 0-4 0 6-1 0 0-6 0 7-1-7-3 1-2 7-15-7 0-1-8 8-8-3-16-3-18 0-28-2-17 6-6-3-5-3 0 6-200 0 0-1 0 3-1 1-1-5 0 0 0 3-1-2 0-3 0 0 0 0-1 0 0 5-1-1 0-2 0 5-1 0 0-3 0-3 0 0 0-1 0-1 0 8-1-1 0-3 0-2-1-2 0 0 0 6-1-4 0 3-1-4-1 5-2 0 0 0-3-5 0 3-2-5-4 2-11 1-11 5-1 0-2 0 0-4-5 2-5 0-8-1-1-3-1 4-9-5-9 2-5-3-4 3-6 1-10 5-8-3-3 3-1-4-2-3 0 4-2-5 0 6-2-6-2 7-1-2 0-4-1-2 0 5-1-1 0-4 0 4-1 0 0-4 0 3-1-3 0 7-2 0 0-2 0 1-1-1 0-3 0 0-2-1-1 7-324 0-1-2 0 0 0 2-1 0 0 0-3-2 0 3-1-3 0-1 0 3-2-1 0-3 0 0-1-3 0 5-1-2 0-1 0-2-1 4-1-1 0 0 0-3-1 7-1-5 0-3 0 9-1-3 0-2 0-3 0-1 0 0 0 4-1 0 0-4 0 3-1-1-1 5-1-4 0 6-1-2 0 0 0-4 0-2 0 5-1-5 0 0 0 5-1-2 0-3 0 2-2-3-2 7-2-6-4 4-6 11 12-3 2 3 2-6 2 0 0 9 0-9 1 1 0 0 3 0 0-1 2 1 1 0 1 3 0-1 1 2 0-3 1 1 0 3 0-3 1-2 1 3 0 2 0-6 2 1 0 8 1-8 1 2 0-1 1 2 0-3 2 2 0 3 1-1 1 2 0-6 1 7 5-1 318-7 3 6 1-1 1-2 2 0 1 6 3-7 1-2 1 7 1-3 1 3 3-7 5 7 1-2 5 1 0 0 8 2 9-7 21 8 1-7 1 5 4-4 6-2 2 5 7-3 3 4 0-3 2 2 3-6 3 7 4-7 9 1 0 5 2-1 7 2 1-2 1-5 2 0 3 7 1-6 3 0 0-1 1 2 0 3 0 1 1 3 0-8 1 2 0 0 0 4 0 2 0 0 0-7 1 5 0 0 0-5 1 3 0 0 0 1 0-6 1 9 0-9 1 3 0 1 0 5 0-3 1 1 0-5 1 7 0-1 1-4 1 5 0-3 1-3 224 6 9-6 4 2 15-2 26-3 2 1 2 7 4-3 18-4 13 2 0-3 3 1 0 4 0 1 0 2 0-3 1 2 2-5 1 1 0 6 0-7 1 2 0 2 0 1 0-6 1 8 0-1 1-3 1 2 0 0 0 1 0 1 0-8 1 2 0 5 0-1 1 2 1-2 1-1 1-1 1 2 0-4 320-2 1 7 1-8 1 1 0 4 0 0 0 4 0-9 1 1 1 3 0-3 1 1 0 2 0 1 0 4 0 0 0-2 1-4 1 1 0 1 1 2 0-5 1 5 1-5 1 16 4-2 0-4-2 2-1-1 0-3-1 8-3-3 0-5 0 6-1-1 0 0 0 3-1-1 0-5 0 2-1-3 0 4-1 1-1 0 0-1 0-3 0 5-321 2-1-2 0-2-1 0 0-1-1 5-2 0 0-2 0 0-1-2 0-1-1-1-1 0 0 4-1-2 0-2 0 0 0-1 0 0 0-1 0 6-1-1 0 0 0-3 0-3 0 8-1-7 0 3-1 0 0 0-1 0 0-4 0 1-4 3-23-4-15 8-19-5-37 3-4 2-223-7 0 8-1-1 0-4-2-3 0-1 0 1-1-1-1 6-1-2 0 0 0-3 0 4-3-2 0 0-1 3-1-2 0 1-1 0-1 0-2 4-4-9-7 6-11-1-5-2-3-3-9 5-7 0-11-2 0 6-3-2-1-3-6 3-4-3-42-1-2-3-5 3-1 0-332 4-7-7-1 7-1 0-1-5-1-2-1 8-2-5-1-1-9 10 19 1 381 5 26-1 29 1 11-8 20 0 1 3 2-1 2 3 0-2 1-2 221 4 4-5 19 4 3 3 21-1 10-5 3-1 12 0 8 1 4-1 13 4 7 5 1-7 1 3 0-5 1 4 0 1 0-1 1 5 0-7 2 1 0 0 0 1 0-1 1 0 0 3 0 2 0 0 0 1 0-9 1 7 0-6 2 4 0 0 0 3 0-6 1 1 0 1 4 5 3-5 318-3 1 2 0 2 0 1 0 0 0-3 1 2 0 0 1-1 1 1 0 2 0 1 0-8 1 4 0-4 2 7 0 0 0-4 1 4 1-3 1 2 0-6 1 6 0 8 8 4-4-4 0 1-2-5-1 2-1-2 0 4-1-3 0-1 0 5-1-2 0 0 0-3 0 0 0 6-1-1 0-1 0 0 0-1 0 0 0-1 0 1-1-3 0 9-1-4 0-1 0-2 0 0 0-2 0 0 0 6-1-1 0-4 0 5-1-2 0-3 0 0-1-1 0 8-1-2 0-5 0 3-3 3-319-5 0 7-1-5 0 0-2 3-1-2 0-4 0 8-1-1 0-3-1 1-1 2-1-4 0-2 0 3-1-3 0 3-1-3 0 6-1-6 0 0-1 1-1 5-4-8-36 3-15-2-3 7-19-6-10 7-18-5 0-2-272 12 295-2 8-1 28-1 46 7 0-7 2 1 1 3 0 5 1-9 1 1 0 0 1 2 0-2 3 3 0 0 1-3 1 2 0 2 1-4 1 1 0 2 0 1 3 2 318-3 2 0 2-3 1 1 0 0 0 1 0 5 0-4 2 2 0 1 0 0 0-7 1 0 1 4 0 2 0 1 0-5 1 1 0 4 1 2 0-8 1 2 0 4 0 2 1 0 0-1 3-2 3 13 3 0-4 0-2 0-1-2 0-3 0-1 0 6-2-4 0-5 0 1-1 6-1-5 0 1-1-1 0-1 0 0 0 5-1-1 0-1 0-1 0 5-1-4 0 3-1-3 0-3 0-1-1 1-2-1-4 2-314 6-3-1 0-1-4 1-5-5-1 1-3 3-1 3-3-1 0-7-13 8-8-7-13 17 22-9 22 1 0 3 0 1 0-4 1 3 1 1 0 3 1-8 3 9 318-8 3 5 3 1 0-5 2 1 0 2 0 2 0-7 1 1 0 6 0 2 0-7 1-1 1 6 0 0 1-1 1 1 0-6 1 6 0 0 2 2 0-3 2 1 0-6 1 4 2-5 1 18-3 1-2-1-1 1-1-1 0-3 0-1 0-3 0 8-1 0 0-1 0-2 0-3 0-2 0 2-2-1-1 1-1 0 0-1 0 5-1-5-1 0-1-1-1 4-321-5 0 8-4-1 0-6-1-1 0 6-3-4-1 5-1-7-43 6-24 11 64-4 1 6 1-6 1 3 3-6 2 5 0-1 1 4 0-4 1 5 1-3 1 0 0-3 1 0 1 5 0-2 1 0 0 1 0-5 1 5 0 1 317-3 2-3 3 7 3-8 2 1 0 1 0 1 0 0 0 1 0 3 0-7 1 4 0 0 1 2 0 1 0 1 0-4 2 0 1-4 1 7 0 0 1-1 4 10-1-1-1 3-1-4 0 0 0 4-1-2-1 1-1-2 0-3-1 5-1-2 0-3 0-1 0 0 0 0 0-1 0 6-1-5-1-1-2-1 0 1-1 0 0 7-1-6 0 4-1-3-323-3-1 0 0 6-1-2-2-1 0 2-6 5-3 0 10 0 2 1 0-1 1 0 0 3 324-3 1 7 0-7 1 8 0-2 2 0 0 2 0-6 1 3 1-4 2 7 0 1 0 0 1-7 1 2 0 2 1 0 1-4 2 1 0 6 0 0 0-9 1 7 0 7 1 3-2-3-1-3 0 2-1 5-1-2 0 2-1 0-1-2 0-1 0-2-1-1 0 7-1-6 0-3 0 0 0 6-1-1-1-5 0 9-2 10 1-4 1-3 3 2 1-3 1 2 0 1 0 4 0-8 1 7 0-6 1 0 0 8 0-7 1 4 0 1 1 1 1 0 0 0 0 1 0-2 1 2 0-6 2 5 6 11-2-2-3-6 0 0-1 3-1 0-1-3 0 7-1-2 0-1 0 2-1-5 0-2 0 9-1-1 0-7 0 8-1-4 0-3 0 4-1-2 0-4 0 0-1 5-1-4-1 0 0 2-1-1 0 0 0 14 2-4 2 2 0-1 1-3 4 5 0 1 0-2 1 213-261 2-2-2-1-1 0 3-2-1 0-2-4 0-327 1-5 2-4 10-341-2 1 0 2 1 0-2 1 3 0-2 2 1 0 0 0 1 0-4 2-3 1 2 1 4 1 0 0-1 3 1 1 1 0-5 1 3 317 0 1 1 0 1 0-5 2 0 0 3 0-4 2 1 1 0 0 5 0-9 1 4 0 3 2 0 0-3 1 0 0 3 0 2 0-5 1 3 0 1 0 0 0-5 1 2 0 1 0 2 0 1 0-9 1 6 0 2 0-8 1 5 0 0 0 1 0 0 0 2 0 1 0-4 1 0 0 2 0 2 0-8 1 4 0 0 0 1 0 3 0-2 1 1 301-3 6-1 1 0 5 3 0-2 4 3 0 1 2-1 5-3 2 4 2-4 1 0 1 1 0 1 0-6 1 2 0 1 0 3 0-7 1 4 0 4 0 1 0 0 0-7 1 4 0 0 0 0 0 0 0 0 0 3 0 0 0-3 1 0 0 0 0 2 0 1 0 0 0 0 0 0 0 0 0-7 1 1 0 2 0 1 0 0 0 0 0 2 0-3 1-4 1 6 0 1 0-2 1 2 1 1 325 0 0-1 1 1 0-3 1 1 0 2 0-5 1 3 0-2 1 0 0 1 0 0 0 0 0 0 0 1 0 0 0 1 0-4 1 1 0 2 0 1 0 1 0 0 0 0 0-4 1 1 1 0 0 2 1 0 0 1 4 3-2 4-1-4 0 6-1-3 0 4-1-1 0-3 0-1 0-1 0-1 0-1 0 8-1-1 0-1 0-3 0-1 0 0 0-1 0-1 0 0 0-1 0 0 0 0 0 0 0 9-1 0 0 0 0-1 0-1 0 0 0-1 0-1 0 0 0-1 0-2 0-1 0 8-1-1 0 0 0-2 0 0 0-4 0 0 0 7-1-1 0 0 0 0 0-1 0-2 0-2 0-1 0-1 0 8-1-2 0-2 0 1-1 0 0 0 0-5-3 2-323 6-1-3 0-2 0 0 0-2 0-2-1 7-1 0 0 0 0-1 0 0 0-1 0-1 0-1 0 0 0-1 0 0 0 0 0 6-1 0 0 0 0 0 0-1 0 0 0-1 0 0 0 0 0-1 0-2 0 0 0 0 0-1 0 0 0 0 0-1 0 0 0 8-1-1 0-1 0 0 0 0 0 0 0 0 0-1 0 0 0 0 0-1 0-1 0-2 0 0 0-1 0 0 0 0 0-1 0 9-1 0 0 0 0-1 0-1 0-1 0 0 0-1 0 0 0 0 0-1 0 0 0 0 0 0 0-1 0-2 0 0 0 0 0-1 0 9-1 0 0-1 0 0 0 0 0-2 0-1 0 0 0 0 0-1 0 0 0 0 0-2 0-1 0 0 0-1 0 8-1 0 0 0 0-1 0-1 0 0 0-3 0-2 0-1 0 0 0 6-1-2 0 4-1 0 0 0 0-1 0 0 0 2-1-6 0 0-1-2-11 5-3-6-2 0-6 2-2-1 0 4-4 0-6 1-2 2-2 0-13 0-276-1 0-1 0-1 0 0 0 0 0-1 0 0 0 0 0-1 0 0 0-1 0-1 0-1 0 9-1 0 0 0 0 0 0 0 0-1 0-1 0-1 0-2 0-1 0-1 0-1 0 0 0-1 0 0 0 9-1-1 0-1 0-1 0-1 0-2 0-1 0 0 0-1 0 0 0 0 0 8-1 0 0 0 0-3 0 0 0-2 0 4-1 0 0 0 0-1 0-5 0 0 0-2 0 9-1-2 0-1 0-2 0-2 0-1 0 7-1 0 0-8 0 8-1-1 0-1 0-1 0-2 0-3-1 3-1 0-1-3 0 2-1-1 0 8-2-1-3-4 0 0 0 0 0 4-3-1-2 2-1-4 0-1 0-4 0 6-1-1 0-4 0 2-1 3-1-1 0-2 0 6-1-3 0-2 0 4-3-1 0 1-1-4 0 3-1 1-5 1-3 0-7-1-289 0 0-1 0-1 0 0 0-3 0 4-1-3 0 0 0 0 0-3 0 0 0 7-1-2 0-3 0 0 0 5-1-1 0 0 0 0 0-1 0-1 0-1 0-1 0-1 0 0 0 0 0 6-1-2 0-1 0 0 0-2 0 0 0-1 0-2 0 9-1-3 0-1 0 0 0-2 0 6-1-3 0-1 0-1 0 0 0-2 0-1 0 8-1-1 0-2 0-2 0-1 0 4-1-2 0-3 0 0 0-1 0 8-1-2 0-2 0-2 0-1 0-2 0 9-1-1 0-1 0-2 0-1 0-3 0-1 0 0 0 5-1 3-1-4 0-1 0-2 0-1 0 9-1-2 0-4 0 3-1 0 0-3 0 5-1-2 0-1 0-3-1 6-1-3 0 0 0-3 0 2-1-1 0 6-1-5-1 3-1-1 0 3-1 0-2-2-1-3 0 4-4 0-1-1 0 9-23 2 0 0 2 1 0 0 1 0 1 0 2-1 1 0 1 0 0 1 0-3 1 2 0 0 0 0 1-4 2 4 0-2 1-3 1 5 1-2 1-4 1 3 0 0 1 1 0 2 0 1 0-6 1 4 0-4 1 4 0-2 1 0 0 1 0-5 1 4 0 1 0 2 0 0 0-3 1 1 0-4 1 1 0 0 1 1 0 3 0-6 2 0 1 1 0 1 0-3 1 9 0-7 2-1 1 0 3 6 3 0 2-5 1 1 0-3 3 2 0-2 1 0 1 0 2 6 0-1 1 0 0-5 1 4 0-3 1 2 1-2 1 0 0 1 0 4 0 0 0 2 259 0 7-2 6 1 0-5 7 2 1-2 1 5 4 1 0 0 0-3 1 3 0 0 0-3 1 2 3 1 0 0 0-6 1 0 0 1 0 6 1-5 1 1 0 1 1 1 0 0 0-7 1 6 0 1 0 1 0-8 1 5 0 0 0 1 0-1 1 1 2-6 1 5 0 3 0-7 1 4 0 2 0-2 3-4 2 4 0-5 1 4 0 3 0-1 1-5 1 1 0 0 1 4 1-6 6 3 0 0 0 1 1-1 1 0 0 5 8-6 1 2 0 3 0-6 1 2 1 2 0 2 0 1 0-8 1 0 0 5 0-5 1 1 0 1 0 2 0 2 0 1 0-6 1 1 0 2 0 1 0 0 0 1 0 3 0 0 0-8 1 0 0 0 0 0 0 1 0 1 0 0 0 2 0 0 0 0 0 0 0 2 0 1 0 1 0-9 1 2 0 2 0 1 0 2 0 1 231 1 9-1 5 1 0-3 6-3 8 1 2 2 2 3 1-1 4-5 2-2 5 1 0 1 0 3 0 2 0-2 1-6 1 1 3 3 0 1 0 4 0-6 1 4 0-6 1 5 1 0 3-1 4 4 0-6 2 1 0 0 1 2 0 1 0 1 4-8 1 0 0 9 1-3 2-6 2 0 5 1 4 8 15-7 2 2 0-3 1 3 0-4 1 1 0 4 0 1 0 1 0 2 0-9 1 2 0 1 0 0 0 0 0 2 0 0 0 4 0 0 0-9 1 1 0 0 0 0 0 0 0 0 0 3 0 0 0 1 0 1 0-6 1 0 0 0 0 1 0 0 0 0 0 0 0 1 0 0 0 1 0 2 0 0 0 1 0 0 0 2 0 0 0-8 1 2 0 2 0 4 0 1 0-1 1 0 0 1 1-9 1 0 1 2 0-1 324 0 1 1 1 1 0 3 0-6 1 1 0 0 0 1 0 4 0 2 0-8 1 0 0 1 0 1 0 2 0 1 0 2 0 1 0 0 0-8 1 1 0 0 0 1 0 0 0 1 0 1 0 1 0 0 0 0 0 1 0 1 0 0 0 1 0-6 1 1 0 0 0 0 0 1 0 1 0 1 0 3 0 0 0 0 0 0 0-9 1 0 0 1 0 0 0 1 0 0 0 1 0 4 0 2 0-9 1 3 0 1 0 0 0 1 0 1 0 1 0 0 0 2 0 0 0-8 1 6 0 2 0 0 0-9 1 5 0 0 0 10 0-5 0 6-1 0 0 3-1-2 0 0 0-1 0-1 0-2 0-2 0-1 0 8-1-1 0-1 0-1 0 0 0-3 0 0 0-1 0-1 0 7-1 0 0-1 0 0 0-2 0 0 0-3 0 0 0 8-1-1 0-1 0-1 0 0 0-1 0-1 0-1 0-1 0-1 0-1 0 0 0 9-1-1 0 0 0-3 0 0 0 0 0-2 0 4-1-1 0-3 0 0 0-2 0 5-1-5-325 3-2-3 0 1-1-2 0 5-1-1 0 1-1-3 0-2 0 8-1-1 0 0 0-1 0-1 0-4 0-1 0 9-1-1 0-3 0-2 0-1 0 0 0-1 0 8-1-3 0-1 0-1 0-1 0-1 0 0 0-1 0-1 0 9-1-2 0 0 0-4 0-3 0 8-1 0 0-4 0-2 0 2-1-4 0 8-42-6-3 6-2-1-10-5 0 1-2 1-1-4-1 6-2-3-1-2 0 1-1-1 0-1 0 9-1-6 0 0-2 5-2-1 0-3 0 2-2 0-1 2-1-7-16 6-1-6 0 8-2-1 0-5-2 6-1-5-3 5-2-6-4 0-5 6-7 0-13-5-4 5-195-9 0 7-1 0 0-1 0 0 0-1 0-2 0-1 0 0 0-2 0 4-1-3 0 5-1-3 0-2 0 0 0 0 0 2-1 0 0 4-1-1-1-1 0-2 0-1 0-1 0-1 0 9-2-9-2 7-5-5-1 2-7-4-8 6-3 3-1-1 0-7-1 7-2-4 0-3 0 1-1-1 0-1 0 2-2-1-1-1 0 0 0 2-1-2-1 8-1 0 0-6-1-2 0 1-1-1-1 1-1-1 0 7-1-1 0 0 0-3 0 3-1 0-1-2-2-2-2 2-1 3-1-3 0-2 0 7-2-3 0 1-1 0 0 0-1-4 0 6-1-2 0-2 0-5-1 2-1-2 0 9-1-9 0 5-1 3-1-2 0 2-1-2 0-1 0-2 0 1-1-2 0 7-1-3 0-2-1 0 0 1-1 3-3-4-1 1-1-1-1 0 0 2-4 1-4-1 0-1 0 4-1-6-2 3-6-2-1 1-3-1-6 0-2 1-12 4-227-9-2 0-7 1-1 5-3-5-2-1-4 1-2 4-1-1 0 5-1 0-1-9 0 0 0 7-1-2-1-2 0-1 0-1 0 5-1-2 0-1-1 3-1-5 0 0 0-1 0 9-1-2 0-3 0-2 0 6-1-1 0 0 0-2 0 1-1-3 0 2-1 3-1-1 0-2 0 0 0 3-1-3 0-2 0 5-1-1 0-3 0 4-1-8 0 5-1-1 0-1 0 1-1 0 0-4 0 7-1-3 0-2 0-1 0 5-1-3 0 3-1-2 0-4 0 0 0 4-1-2-1 4-1-5 0 1-1 6-1-2 0-6 0 7-2-1 0 1-1-2 0-5 0 4-2 4-1 0 0 1-1 0-1-2 0-1 0 1-1 2-1-1 0-1 0-3-2 5-1-3 0 1-1 0 0 2-1-2 0-1 0 2-1-2 0 0-2 1-3 1-1-1 0-2-2 1-3 2-2 0-1-5-2 6-11 9-35-3 13 4 3-2 4 1 0-2 2 2 1 1 0 0 1 0 0-5 1-2 1 4 0 3 1-4 1 1 0-1 3 0 3 0 1 0 0 1 0 2 1-2 1 3 0-3 1-3 1 5 1 1 0 0 1-7 1 2 0 0 0 1 0 3 0-6 1 7 0-6 1 0 0 3 1-5 1 3 0 0 0 0 0 0 0 1 0 0 0 2 0 1 0 0 0 1 0-2 1-3 1 1 0-3 1 4 0 2 0 1 0-4 1 1 0 1 0 0 1 2 0 0 0-7 2 4 0 3 0-9 1 7 0-5 1 3 0 2 0 1 1-7 1 1 0 1 0 3 0 2 0-7 1 3 0 2 0 2 0 1 0-7 1 2 0 0 0 2 0-5 1 3 0 1 0-2 1 1 0 3 0 2 0 0 2-2 1-6 1 4 0-4 1 5 0-3 1 4 0-5 1 1 0 5 0-1 1 2 0 0 0 0 0-3 2 1 0-3 1 1 0 1 0-6 1 0 0 0 0 2 0 1 0 0 0 3 0-5 1 2 0 1 0 1 0 0 0 1 0 3 0-9 1 9 0-6 1 1 0 3 0 2 0-9 1 5 0-5 1 0 0 4 1 0 0 4 0-7 1-1 1 1 1 5 0 3 0 0 0-9 1 5 0 1 0-6 1 3 0 1 0-4 1 1 0 1 0 5 0 2 0-8 1-1 1 5 1-2 2 0 0-2 1 4 0 1 1-6 1 3 1 6 0-2 1 1 1-8 2 3 0-1 2-2 1 2 8 2 5-2 4 5 175 1 23-3 4 3 1-7 10 7 2-1 2 2 0 0 1 0 6-5 1 4 1 1 0-2 4 1 0 0 0-2 1 0 0-2 3 0 1 3 0-1 1 1 2 0 0 2 1-8 1 2 0 4 0 1 2 0 0 0 1-4 1 1 1 3 0-8 2 2 0 7 0-5 1 3 0 0 1 2 0-2 2 0 1 2 3-9 1 1 1 4 0 2 1 1 0-8 2 2 0 6 0 0 1 0 1-3 1 0 2 0 1-5 1 5 2-5 2 4 0 2 0-4 1 4 0-5 2 2 0 0 1 1 0 1 0 0 0 0 0 3 0 1 0-7 1 0 1-1 2 7 0-4 1 2 0-6 1 6 0-5 2 8 0-7 2 4 1-3 2-3 1 3 4-3 3 4 4 1 0 0 1-5 1 1 2 5 0 0 0-5 3 7 0-5 2 3 0-5 2 2 1 4 1-5 8 4 8-5 15 0 3 0 1 6 0-5 1 2 0 4 0-8 1 2 0-2 1 5 0 2 0-5 1 2 0 0 0-3 1 4 0 1 0 1 0-7 1 4 0 4 0-2 118 3 29-1 16-6 4-1 2-1 1 4 3 5 0 0 14-9 2 5 5 0 0 3 4-7 2 6 1-3 2-1 1 2 5 3 2-1 2-4 7 6 0-2 1-6 1 6 0-6 2 0 2 2 0 5 0-8 2 6 0 3 0-5 1 0 0 5 3-9 3 9 0-1 2-8 2 5 1-2 1-2 5 6 0-7 1 6 0-5 2 4 0-1 1-3 2 2 0 4 0 1 0-3 1 0 1 3 0-7 1 1 0-2 1 6 0 2 2-6 1 2 0 4 2-3 8-3 1 6 4-8 6 3 15-3 35 5 0 1 0-5 1 3 0 1 0 3 0 1 0-9 1 3 0 1 0 5 0-9 1 2 0 3 0 4 0-9 1 1 0 2 0 0 0 0 0 0 0 2 0 1 0 1 0 0 0 0 0 1 0 0 0 1 0-9 1 3 0 2 0 0 0 1 0 1 0 1 0 1 0-6 1 3 0 0 0 0 0 1 0-4 1 5 0 0 0 1 0-2 326-5 1-1 1 3 0 0 0 3 0-7 1 2 0 4 0 0 0 1 0 1 0-8 1 1 0 2 0 1 0 2 0 2 0-7 1 1 0 2 0 0 0 1 0 1 0 1 0 0 0 2 0 0 0-8 1 1 0 0 0 2 0 2 0 0 0 0 0 1 0 0 0 1 0 0 0 1 0 0 0-7 1 0 0 1 0 3 0 0 0 3 0 0 0-9 1 2 0 1 0 0 0 1 0 2 0 3 0-8 1 8 0-3 1-4 1 0 0 15 2 1-3-1 0-2-1-4 0-1 0 9-1-2 0-3 0 3-1-1 0-1 0-1 0-2 0-1 0 0 0 7-1-1 0-3 0-2 0-1 0-1 0 9-1-1 0 0 0-2 0-2 0-1 0 0 0-1 0-1 0 0 0 0 0 0 0 6-1-1 0-2 0-1 0-1 0-1 0 0 0-1 0 0 0 8-1-1 0-2 0 0 0 0 0-3 0 0 0-1 0 5-1-6 0 2-3 2-142 1-182-1 0 1-1 0 0 4-2-2 0-4 0-1 0 7-1-1 0-1 0 0 0-4 0-2 0 0 0 6-1-2 0-1 0-3 0 8-1-1 0-1 0 0 0 0 0 0 0-6 0 6-1 0 0-5 0 7-1-3 0 0 0-4 0-1-1 0 0 0-2 8-57-2-2-4-2-1 0 4-7-5-3 7-4-8 0 3-4 5-5 1-1-3-1-5-1 4-1-1-1 4-1-8-1 4-2 0-2-2-1-2-7 7-2-4-3-3 0 1-1-1 0 4-3-1-3 5-3-2-1 0-3-6-2 7-2 0 0-7-3 0 0 8-1-2 0-1-1-4 0 8-3-5-1 3-2-5 0 4-2-3 0 6-1-8-3 7-1-5-4-1-1 2-2 0 0-3-1 7-1-4-2 2-2 2-3-7 0-1 0 6-7-1-2 4-3 0-1-9 0 7-1-1-1-3-2-2-1 5-4 2-10 1-4 0-9-3-23 1-99 0-1-5 0-2 0 9-1-4 0-1 0 5-1-1 0-6 0 7-1-3 0-1 0-1 0 3-1-7 0 0 0 0 0 0 0 6-1-4 0 5-2-4 0-2-15 3-11-2-9 3-2-1 0-4-2 0-2 2-5 7-1-6 0 2-3 1-4-2-1 5-1-5-2-3-1 0-2 8-2-4-1 2-1-3 0-2-2 7-1-5-1-3 0 8-3-8 0 0 0 3-1-1 0 6-1-9 0 4-2-2 0 0-1-1 0 5-1-3-1-2 0 3-1-2 0 3-1-5-1 9-2-5 0-2 0 7-1-2 0-2 0 0 0 2-1 0 0-1-1 3-1 0-1-7-1 4-1-1 0-3 0-2 0 5-1-2 0 4-1-1 0-2 0-4-1 9-1 0 0-6 0 5-1-5 0-1 0 7-1-1 0-5 0-3 0 4-3 0 0 3-1-3 0-3 0 3-1-2-1 0 0-2 0 7-1-1 0-3 0 0-1-2 0 1-1 6-1-1 0-2-1 2-1-2 0-2-1 0 0-3 0 8-1-1 0-1 0-6 0 0 0 7-1-5 0-1 0 2-1 4-1-2-2 3-1 1-1-3 0-1 0 0 0-2 0-1 0 6-1-2 0-3 0-1 0 4-1-5 0 8-2-4 0-3-1 5-1-1 0-3-1 0-1-2 0 1-1 5-1-2-1-1 0 4-3-6 0 5-1-1-1-1 0-1 0-4 0 7-2 0 0-4-1 5-1-1 0-4 0 6-1-2 0-3 0 0 0-2-1 5-3-1-2-5-1 7-2-3 0 1-2-1-3 4-2-8-2 7-6-4-1 5-1-1 0-2-1 2-13-1-3-2-1 2-143-6-10 2-14 1-1 3-5-1-1-3-1 3-2 1-6 2-2-4-1 1-1-1-1 4-2 0-6-2 0-3 0-4 0 7-1-2-2-2 0 5-1-5 0 6-1-2-1-3 0-4 0 5-1-2 0 1-1-4 0 4-1-1 0 5-1 0 0-2 0-3 0 6-1-6 0 3-1-4-1 0-1 3-1-3 0 2-1-3 0 8-1-1 0-3 0 3-1-4 0 5-1-1 0-1 0-1 0-1 0 0 0-5 0 3-1-3 0 6-1-5 0 6-2-6 0 5-1 0 0 3-1-3 0 0 0-1-1-1 0-2 0 6-1-4 0 4-1-7 0 0 0-1 0 7-1-3 0-2 0 5-1-4 0 1-1-1 0-2 0 4-1-2 0-3 0 9-1 0-1-4 0-1 0-4 0 5-1-2 0 0 0-2 0-1 0 5-1-1 0-4 0 8-2-1 0-3 0 2-1 0 0-1 0-2 0 6-1-1 0-1 0-5 0 0-1 6-1-3 0 0 0-1 0-2 0-1 0-1 0 1-1 8-1-6 0-1 0-1-1 6-1-2 0-5 0 8-1-2 0 0 0-6 0 8-1-1 0 0 0-2 0 0 0-2-1-2 0 8-1-2 0-1 0-2 0-1 0-1 0-2 0 8-1-1 0-1 0-6 0 0-1 7-1 0 0-7-1 0 0 3-1 6-1-4 0-3 0 0 0 7-1-1 0-4 0-1 0 6-1 0 0-1 0-4 0 0 0 0-1-1 0-1 0 0-1 7-1-2 0-1 0 0 0-2 0 3-1-1 0 1-1-1 0-1 0-4 0 1-1 7-1 0 0-1 0-1 0-4 0 0 0 6-1-7 0-1 0 7-1-2 0-2 0-2 0-2 0 1-1 8-1-1 0-7 0 8-1 0-1 0 0-2 0-2 0 0-1 1-1-1 0 0 0-4 0 6-1-5 0 7-1-3-2-1 0-1 0-1 0 5-1-1-1 0 0-6 0 5-1-2 0-3 0 7-3 0-1-8 0 2-1 4-1 1-3 0 0 2-1-4 0 4-1 0 0-5 0-3 0 4-1 2-3-1-3 1-1 1-3-5 0 0-3 5-7 6-30-1 16 2 3 4 6-7 1 2 2-1 2-2 3 3 1 1 0-1 1 2 0 3 0-3 3-2 1 1 0-1 1-1 1-1 1 7 0-8 1 6 0-2 1-2 1 3 0 1 0 2 1-5 1 0 0 0 0 2 0-5 1 3 0 2 0-3 1 4 0-3 2 1 0 1 0-4 1 6 0-2 2-1 1-3 1 2 0-3 1 0 0 1 0 5 0 0 0 2 0-9 1 1 0 3 0-1 1 0 0 4 2 1 0-8 1 9 0-8 1 7 0 1 0-9 1 1 0 0 0 1 0 4 0-3 1 0 0 0 0 4 0 1 0 1 0-9 1 4 0 2 0-6 1 2 0 1 0 1 0 4 0-6 1 1 0 2 0 3 0-8 1 0 0 3 0 1 0 1 0 0 0 1 0 2 0-6 1 3 0 1 0 1 0-6 1 8 0-2 1 2 0 0 0-6 1-1 1 1 0 4 0 1 0 0 0-8 1 3 0-2 1 1 0 7 0-4 1 1 0-5 1 6 0 2 0-8 1 2 0 1 0 1 0 2 0-3 1 2 0 1 0 2 0-8 1 1 0 2 0 2 1 2 0-2 1 1 0 2 0-7 1 5 0-6 1 6 0 2 0 0 0-8 1 7 0-6 1-2 1 1 0 0 0 1 0 3 0 4 0-7 1 2 0 1 0 4 0-4 1 3 0 1 0-8 1 2 0 0 0 4 0-7 1 3 0 3 0 1 0 1 0-8 1 0 0 5 0 3 0-6 1 1 0 1 0 4 0-2 1-4 1 0 0 3 0-2 1 4 0 0 0-7 1 2 0 2 0 1 0 2 0 1 0-4 1 3 1 0 0 1 0-8 1 0 0 2 0 1 0-2 1 1 0 2 0 2 0 2 0-8 1 4 0 2 0 1 0-6 1 1 0 4 0 3 0-6 1 2 0 1 1 3 0-9 1 3 0 2 0-4 1 5 1-2 1 3 0 1 0-5 1 1 0 5 0-4 1 0 0 0 0 1 0-5 1 2 0 0 0 6 0-6 2 1 0 3 0 0 0 1 0 1 2-8 1-1 1 3 0 6 0 0 0 0 0-7 1 0 0 1 0 2 0-1 1 2 0 2 0 1 0 0 1-7 1 3 0 3 0 0 0-7 1 2 0 4 0-1 2-5 3 8 0-7 3 3 1-4 1 3 2 1 1 3 0-7 1 2 0-1 2 2 1 2 1-6 3 1 9-1 3 3 0-1 1 2 5 0 0-4 6 3 1 1 127 3 5 0 1 2 12-6 6-2 5-1 2 6 2-3 2 5 0-4 4 4 2 1 0-2 1 2 6-1 3-7 1 4 1 1 0-3 2 5 1-2 2 1 0 0 0-7 1 3 0 0 2 6 0-9 2 7 0-5 1-1 1 1 0 6 0-6 1 6 0-3 2-4 1 4 2 2 0-7 1 0 0 7 0 2 1-6 2 2 0 2 2 2 0-3 1 2 0-7 1 7 0-2 2 0 0 0 0 2 0-8 2 3 2 0 0 6 0-4 1 2 0 1 0-5 1 5 0 0 0-8 1 4 1 1 0 1 0 2 0-4 1 2 2 3 0-5 1-2 1 5 0-1 1-4 1 2 0-3 1 3 0 2 0 3 0-8 1 0 0 0 0 1 0 3 0 1 0 1 0-1 1 2 0-5 1-2 1 2 0 0 0 5 0-7 2 7 1 1 0-8 1 2 0 0 0 2 0-5 1 2 1-1 1 3 0 2 1-5 1 1 0 6 0 1 0-9 1 8 0-8 2 6 1 1 0 2 0-9 1 2 0-1 1 1 1 2 0 4 1 1 0-6 2 2 0 1 3-1 1-1 1 2 0-1 1 0 1 3 1-7 1 1 1 7 0-5 1 1 0 2 0-5 1 5 1 2 0-9 1 3 0 3 0 3 0-2 2 0 0-3 1 0 1-4 1 8 0-5 1 0 3-2 1 7 0-7 1 0 6 4 0 1 0 1 1-1 2-2 1-3 1 5 0-6 1 2 0 6 0-6 3 0 1 2 1 0 3-1 6 3 0 3 5-7 1 6 2-8 2 2 5 5 0-6 1 5 32-4 4 7 3-9 1 0 0 7 0-1 1 1 0 0 0 0 0-5 1 0 0 1 0-2 1 4 0 3 0-5 1 4 0-4 1 1 0 1 0 1 0 2 0 0 0 0 97 0 7 0 1-1 1 2 7-7 8 3 8 3 4-7 6-1 2 1 0 1 2 7 0-2 1-7 1 3 0 5 1-7 2 3 2 4 0-2 3 3 0-1 8 0 1-7 2 6 0-6 1 0 2 1 0 4 1 2 0-5 5 2 0 1 2-2 2 4 1-5 6-1 1 3 0 3 0-1 2-1 1-6 2 7 0-6 1 8 0-4 1 0 0-1 1 2 0-3 5 5 0-6 3 4 3-5 1 0 0 4 0 3 3-8 1 2 1 4 1 3 0-2 1-1 3 3 3-8 7 5 3 3 3-1 1-3 3 2 8 0 2 0 1-2 5 0 0-2 12 5 17-7 3 7 1-7 11 1 1 6 0 0 33-5 1 2 0-5 1 3 0 1 0 2 0 1 0-7 1 0 0 1 0 1 0 0 0 1 0 1 0 1 0 0 0-5 1 0 0 3 0 1 0 0 0 2 0 0 0 1 0 2 0 0 0-9 1 0 0 3 0 4 0-7 1 0 0 2 0 0 0 5 0 1 0 0 0 0 0-6 1 2 0 0 0 0 0 1 0 0 0 3 0-2 1 2 0-3 1-3 1-1 324 5 0-6 2 0 0 2 0 3 0 3 0-7 1 5 0 1 0 0 0 1 0-6 1 1 0 0 0 1 0 0 0 1 0 0 0 2 0 2 0-9 1 2 0 0 0 0 0 1 0 0 0 0 0 2 0 1 0 1 0 1 0-7 1 0 0 0 0 2 0 1 0 1 0 0 0 1 0 0 0 1 0 0 0 2 0 0 0-8 1 1 0 0 0 2 0 3 0-4 1 0 0 2 0 0 0 1 0 2 0 0 0 1 0-8 1 2 0 2 0 3 0 8 2 0 0 0-1-3 0 3-1-3 0 0 0-2 0 8-1 0 0-1 0 0 0 0 0 0 0-1 0-1 0-2 0-2 0-1 0-1 0 9-1-2 0-2 0-2 0 0 0-2 0-1 0 8-1-1 0-2 0-2 0-1 0-2 0 9-1-1 0 0 0-1 0-2 0-1 0 0 0 0 0-2 0-1 0 0 0-1 0 9-1 0 0-1 0-2 0-4 0 0 0 0 0-2 0 7-1-1 0-1 0 4-1-8-1 3-327-1 0 2-1-3 0-1 0 0 0 3-1-1 0-1 0-1 0-1 0 9-1 0 0-1 0-2 0-3 0-1 0-2 0 9-1 0 0-1 0-1 0-1 0 0 0-1 0 0 0-1 0-1 0 0 0-1 0 0 0-2 0 0 0 9-1-2 0-1 0-4 0-1 0 7-1-2 0-3 0 0 0-3 0 8-1-2 0-2 0-4 0 9-1-1 0-5-1 4-10-4-34 6-20-8-7 6-9-6-8 3-1 0-3 2-4 3-2-9-2 8-3-3-2-5-4 8-5-2 0 3-1-3-1-2 0-3-2 3-1-2 0 0-1 3-4 4-2-1 0-6-4 3-1 3-3 0-4-8-2 3-1 4-4-1 0-6 0 1-1 6-3 2-1-2 0-3 0 1-1-3-3 3-2 3-2-1 0-4 0 0-1-2-1 6-5-1-1-2-1-1-4 3-1 3-2-3 0 0-1-1-2-3-20 7-9 0-2-2-6 1-114-3 0-2 0-3 0 7-1 0 0-1 0-1 0-5 0 0 0 0 0 9-1-8 0-1 0 0 0 8-1-6 0-1-1 5-1-4 0-2 0 2-2 6-3 0-32-5-5-2-1 5-1 1-1-4-1 1-4-3-1 7-2-1-2 0-1-2-1-3-3 7-4-4-1 0-3 0-2-1 0 4-7-1-1-5-1-1 0 8-3-5-1-4-1 4-1 1-1 0 0-1-1-2 0-2 0 6-1 2-1-2 0-5 0 2-1-1 0 7-1-5 0-3-2 8-1-1-1 0 0-4-1 3-1 1-1-2 0-4 0 7-1-3 0-5 0-1 0 5-1 2-1-7 0 3-3-1 0 0 0-1-1 4-1-4 0 1-1-1 0 3-1 5-1-5 0-4 0 7-1 0-1 2-2-1 0-4 0-1 0 6-1-6 0 3-1-1 0-2 0 0 0 4-1-3 0 5-1-5 0-4 0 5-1-2 0-1 0 0 0 7-1-1-1-2 0-1 0-1-1-1 0 5-1-3 0-3-1 3-3-1 0-1-1-3 0 2-1-2 0 6-2 0 0-6 0 7-1-5 0 3-1-2 0 0 0 6-1-9 0 2-2-2 0 8-1-5-2 4-2-1 0 0 0 1-1-1 0-6 0 9-1-1 0 1-1-9 0 5-1-4 0 6-1-3 0-3 0 0-1-1 0 4-2 4-1-7 0-1 0 4-1-1 0 2-1-1-1 0 0-2 0 5-1-3 0-3-1 7-1-8 0 3-2-2-1 0-1 7-2-2-1-3 0-1 0-2-2 7-3 1-1-3 0-3-1 3-2 0-1 3-1-6-1 5-1-2 0 3-1 0 0-7 0 5-2 0-1-5-2 2-3-3-1 8-2 1-1-1 0-2 0-1 0 4-1 0-3-6 0 3-2-3-6 1-3-4-2 6-7 3-1 0 0-8 0 5-6-6-21 6-10-1-91 3-9-7-13 4-1 3-1-6-1-1-2 7-5-6 0 5-1 1-1-8 0 3-2 0 0 4-6-2 0 2-2-7 0 4-1 5-1-1-1-3 0-4 0-1 0 1-1-1-1 7-4 2-2 0-1-1 0-1 0 1-2-3-1 4-2-5 0 4-1-4 0 5-1-5 0 4-1 1-1 0-2-1 0 0-1 0 0 0 0-2 0-1 0-2 0-2 0-1 0 5-1-3-2-1 0 4-1-1 0-3 0 8-1-1 0-8 0 8-1-1 0-1 0-3 0-1 0 0 0 4-1-3 0-2 0 4-1-5 0 6-1-3 0-2 0-1 0 2-1 5-1 0 0-3 0-2 0 5-1-4 0-2 0 0 0-1 0 8-1-1 0 0 0-1 0-3 0 2-1-3 0 6-3-1 0-5 0 2-1-3 0 8-1-6 0-1 0 3-1-5 0 7-1-5 0-1 0 7-1 0 0-3 0-1 0-3 0-1 0 8-1-2 0-2 0-2 0-1 0 0 0 6-1-2 0-5 0 7-1-3 0 1-2-1 0-2 0 4-1-1 0 0 0 2-1 0 0-4 0-3 0 4-1 0 0 0 0-1 0-1 0 0 0-1 0 7-1 0 0-2 0-3 0-1 0 7-1-5 0-1 0-2 0 8-1-1 0 0 0-3 0-5 0 7-1-2 0-1 0 0 0-1 0-1 0-1 0 6-1-1 0-3 0 0 0-2 0 8-2-1 0 0 0-4 0 4-1-5 0-1 0 6-1-7 0 4-1-2 0 0 0-2 0 4-1-2 0-1 0 5-1-1 0 0 0-1 0-4 0 8-1-1 0-2 0-3 0-1 0-2 0 7-1-1 0-1 0-4 0 8-1 0 0 0 0-1 0-1 0-2 0-1 0 0 0-1 0-3 0 7-1-3 0 5-1-5-2 5-1-1 0-3 0-1 0 0 0-2 0-2 0 8-1-3 0 0 0 0-1 0-1-1 0 5-1-4 0-3 0-2 0 0-1 5-1 0 0-5 0 0-1 0 0 9-2-3 0 0 0-3 0-1 0 7-1-2 0-5 0-1-1 3-1 1-1-2 0-1 0-1 0 0-1 7-1 0 0-5 0 0-2-1 0 0 0 7-1-6-1-1 0-2 0 9-1-7 0 6-1-4 0-3 0 8-2-3 0-5 0 2-1-3 0 2-1-2 0 7-1 2-1-9 0 2-1-2 0 6-2 2-1 0 0-3 0-1-1 0-1-2 0-2 0 3-2-2-1 2-1-3 0 9-1-7 0 7-1-5 0 4-1-3 0 3-20-7-3 7-6 2 25 2 2 0 4 2 1-3 4 0 3 6 0-6 4 1 2-1 5 0 1-1 1 1 1 4 0 3 0-3 1-1 2 3 0-3 1-3 2 2 0-1 1 3 0 1 2 1 0-5 1 1 1 4 0-7 1 1 0 1 0 1 0-2 1 2 1 2 0-3 1 5 0 2 0-2 2-1 1 1 0 2 0-8 1 1 0 3 1-5 1 6 0-4 1 5 0-6 1 1 0 3 0 0 0-5 1 2 0 4 0-5 1 3 0 4 0-8 1 1 0 7 0 1 0-4 1-5 1 0 0 0 1 9 0-6 1-1 1 0 0 5 0-3 1 2 0 2 0-1 1-6 1 4 0 4 0 0 0-8 1 3 0-3 1-1 1 5 0 1 0 2 0-4 1 5 0-9 1 2 0 6 0 1 0-8 1 1 0 1 0 3 0 0 0-6 1 7 0 0 0 1 0-5 1 0 0 0 0 4 0 1 0-7 1 7 0 1 0-6 1 0 0 1 0 1 0-2 1 4 0 2 0-8 1 1 0 0 0 1 0 1 0 0 1 3 0 0 0 2 0-6 1 0 0 4 0 0 0 1 0-8 1 2 0 7 0-6 1 2 0 3 0-7 1 2 0 2 0 3 0-8 1 1 0 1 0 2 0 1 0-2 1 0 0 0 0 6 0-5 1 1 0 1 0 0 0-5 1 8 0 0 0-8 1 3 0 1 0 3 0-8 1 0 0 2 0 5 0-5 1 1 0-3 1 3 0 0 0 3 0 1 0-1 1 1 0-6 1 0 0 1 0 0 0 5 0-7 1 1 0 0 0 1 0 2 0 3 0-6 1 3 0 5 0-9 1 1 0 1 0 1 0 2 0 1 0 3 0-4 1 1 0 0 0 1 0-5 1 3 0 2 0-6 1 0 0 1 0 2 0 2 0 3 1-5 1 2 0-3 1 1 0-3 1 2 0 2 0 2 0 0 0-4 2 1 0 4 1-8 1 7 0-5 1 3 1 1 0-6 1 6 0 1 2-7 1 3 0 2 1 3 0 1 0-9 1 3 3-2 2 2 2 3 1 2 0 1 2 0 2-2 2 2 0-6 1 5 5-8 1 1 0 7 0-7 2 3 0 2 18-6 139 5 1-2 11-2 3 3 9-2 1-1 7 3 3-3 3 2 0 4 1-5 1 2 4 3 0-2 2-1 2 2 1-4 1 0 0 2 0-4 1 3 0-2 1 0 0 5 0 0 0-2 1-3 1 1 0 2 1-3 1 3 0 3 1 2 0 0 1-9 1 3 0 6 0-9 1 0 0 0 1 1 1 8 0-9 1 4 0 1 0 3 3-5 1 6 0-8 2 5 0-2 1 0 0 3 0 2 0-6 1-2 1 8 0-2 1-7 1 3 0-3 1 7 1-3 1 3 0-4 1 1 0 0 0-4 1 0 0 3 0 0 0 1 0 1 0 2 0-5 1 2 0 3 0 2 0-9 1 2 0 3 0-4 2 2 0 1 0 2 0 1 0 1 0-8 1 3 1 1 0 2 0 0 1 1 0-5 2 0 0 2 0 5 0-8 1 4 0 0 1 3 0-8 1 2 0 7 0-8 1 2 0 1 0-4 1 2 0-2 1 3 0 2 0 2 0 2 0-7 1 2 2 5 2-3 1-5 1 1 0 4 0-4 1 5 0-6 1 7 0 1 0-9 1 4 0 2 0 2 0-7 2 0 0 6 0-4 1 2 0 2 0 1 0 0 0-7 1 2 0 4 2-5 1 0 2 6 0 0 1-3 1-5 1 5 0 1 0-3 2 2 0-4 1 1 1 3 0 2 1-4 1 4 1 2 0-6 2 0 0 3 0 0 0 3 0-8 1 3 0 1 0 0 0 2 0 1 1-6 1 5 0-2 2 0 0 1 0-3 1 6 0-9 1 8 0-4 1 1 1-4 1 1 1 1 0 2 0 1 0-1 1-2 1 4 0 2 0-7 1 4 0 1 0-7 1 6 1 2 0-7 1 2 4-3 2 5 2-4 3 0 2 1 0 0 2-2 3 9 1-1 1-5 3 4 1 0 0 1 1 1 1-4 16-1 16 4 8 1 1-6 1 1 0 3 1-2 1 3 0 0 0-1 1-5 1 3 0 4 0-8 2 4 0 1 0 1 0 1 0 1 0-7 1 2 0 0 0 3 0 0 0 2 0-8 120 0 5-1 15 4 7-2 7 1 3-1 11 6 0-5 5 1 2 3 5 1 4-8 3 4 1 1 0-4 3 1 2 1 0-2 3 2 6 0 1 2 2 1 0-4 1 1 0-1 1 7 1-3 1-2 2 0 0-4 2 5 0 1 0-6 1 1 0 4 0 4 0-5 2 1 0 2 1-4 2 2 0 1 1-4 6 7 2-7 1 1 1 0 3 0 1-1 1 3 0-4 4 5 0-5 4-1 5 3 0 5 2 0 5 1 0-4 3-2 10 2 1-2 11 2 1 0 47-5 2 3 1 0 0 2 0 2 0 1 0-8 1 1 0 2 0 0 0-2 1 0 0 1 0 0 0 0 0 0 0 1 0 1 0 1 0 1 0 0 0 1 0 0 0 1 0 1 0-9 1 1 0 2 0 0 0-1 1 0 0 4 0 0 0 3 0-3 1 0 0 1 0 1 0-8 1 1 0 4 0 2 326 2 0-6 2-1 1 0 0 2 0 2 0 1 0-7 1 2 0 0 0 2 0 0 0 1 0 1 0-4 1 1 0 2 0 2 0 1 0 1 0-8 1 0 0 1 0 1 0 0 0 2 0 2 0 1 0 0 0 0 0-7 1 0 0 4 0 0 0 2 0 1 0 0 0-8 1 5 0 1 0 3 0-8 1 2 0 0 0 2 0 0 0 2 0-2 1 2 1 11-1-1 0-2 0-2-1-1 0-2 0 7-1-1 0 0 0-1 0-2 0 0 0-2 0-1 0 0 0 9-1 0 0-1 0 0 0 0 0 0 0-1 0-1 0-1 0 0 0 0 0-1 0 0 0 0 0 0 0-3 0-1 0 0 0 8-1-2 0 0 0-1 0-2 0 0 0-1 0-1 0 0 0 0 0 5-1-2 0 5-1-1 0 0 0 0 0-2 0 0 0 0 0-2 0 0 0-1 0 6-1-1 0-5 0-1 0-1 0-1 0 8-1-1 0-2 0-4 0 3-1-4-326 6-1 0 0-1 0-1 0-2 0 3-1 3-1-4 0-1 0-1 0-2 0 8-1-2 0-1 0-2 0-1 0 0 0-1 0-1 0 0 0 9-1-5 0-1 0-3 0 9-1-1 0-3 0-1 0 0 0-1 0 0 0-3 0 0 0 3-1-3 0 3-1 0 0 1-1-1 0-1 0 5-14 1-7-6-17 4-4-3-1 6-1-9-11 8-1-5-2 5-1-1-3-1 0-2-2 5-6-1 0 1-3-5 0 5-1-6 0 1-1 0-2 0-1-4-1 7-6-1 0 0-2 1-4 2-1-6-8-3 0 5-1 3-1-4 0 2-1 0-1-6-1 6-5 2-1-3-2-4 0 2-2 0 0 6-5-9 0 7-2-3 0-1-2 5-1-7 0-1-4 3-6-2-10 3-3-3-2 6-9-7-6 6-1-1 0 4-163-1 0 0 0-1 0-1 0-2 0-1 0-1 0-1 0 8-1-3 0-1 0-2 0 0 0-1 0 0 0-1 0-1 0 0 0 0 0 9-1-1 0 0 0-1 0-1 0-1 0 0 0-1 0-3 0 0 0-1 0 0 0 8-1-2 0 0 0-1 0-2 0 0 0-1 0-1 0 0 0 0 0 5-1 0 0-1 0-3 0 0 0-2 0 7-1 0 0-1 0-4 0 6-1-3 0-3 0 0 0 3-1-4 0 2-1 0-14 5-8-6-1 6-1 1-5-2-2-6-3-1-3 8-1-7-1 1-1 3-7 4-1 0 0-1-1-2 0-5-1 5-4-6 0 9-1-1-2-5 0-2 0 7-1-3 0 4-1-5 0-3-1 3-1 5-1-2-2-5-3 7-1-1 0-2 0-5 0 7-1 1-1-4 0 2-1-2-1-4-1 0 0 7-2 1-1-3 0-1 0-2 0 0-2-2 0 4-1-1 0-1 0 0 0 6-2-3-1-3 0 3-1-6 0 5-1-2-1 2-2-1 0-1 0 0-1-2-1-1 0 6-1 2-1-5-1 5-2-4 0 2-2 1-1-3-1 0 0-1 0 0-1 6-1-4 0-4 0 6-1-3 0-3-1 1-1 5-3-7 0 7-2-7-1 5-1-1 0 0 0 1-1-3 0 4-1-4 0-2 0 0 0 7-1-5 0 3-1-2-1 4-1-6 0-1 0 3-1-3-1 4-4-3-3 6-3-1-1-5 0 6-1-6 0 2-1-1 0 4-1-4-1-2 0 6-1-2-1-4-2 6-1-4-1 5-2-5-2 2-1-4 0 2-2 1-4 1-1-2-4-2-2 0-4 7-3-5-10 4-166 2-10-6-5 3-6 3-2-1-4 0 0 2-1-2 0-1 0 0 0-6-1 7-1-7 0 8-1-5 0 5-2-4 0 2-1-3 0 5-1 0 0-1 0-6 0 7-1-2 0 0 0-2 0 1-1-2 0 6-1-1-1-2 0-1 0 1-2 0 0-2 0 0-1-1 0 4-1-4 0 0 0 1-1 4-1-3 0-3 0 0 0 6-1-3 0 3-1-2-1 0 0 3-1-2 0-1 0-2 0-2 0 5-1 0 0-6 0 5-1-4 0 1-1-3 0 7-1 1-1 0 0-1 0-6 0-1 0 0 0 9-1 0 0-7 0 6-1-3 0-1-1 5-1-2 0-3 0-1 0-1 0 0 0-2 0 1-1 0 0 7-1-1 0-1 0-1 0-2 0-1 0-1 0 6-1-6 0 2-1 1-1-3 0 6-1-3-1-4 0 7-1-7 0 5-1 0 0-1 0-4 0 7-1-2 0-4 0 7-1-1 0 0 0-2 0 0 0-3 0-2 0 5-1-2 0-2 0 7-1-3 0 2-1-1 0-2 0-1 0 0 0-2 0-1 0 8-1 0-1-3-1-1 0-1 0-1 0-2 0 0 0 3-1 0 0-2 0 4-1 0 0-1 0-2 0-1 0 5-2-1 0-1 0 3-1-1 0-2 0 2-1-3 0 6-1-5 0-3 0 5-1 0-1-3 0-1 0 4-1 0-1-2 0 0 0-3 0 7-1-5 0-3-1 8-1 0 0-2 0-4 0 4-1 1-1 2-1-3 0-1 0 0 0-3-1-2 0 4-1-3 0 3-1 0 0 0-1-2 0 1-3-3 0 3-1-3 0 6-1-2 0-4-2 0 0 0-1 6-1-3-3 2-3-3 0-2-6 1-2 6-23 3 54 1 7-1 1 0 1 2 0 0 0-1 1 1 1 0 0-2 1 0 0 3 3 1 0 0 1-1 2-3 1 1 0 6 3-7 1 8 0-8 1 2 1 6 0-8 1 1 0 4 0-3 1 1 0 0 1-3 3 0 0 1 0 5 0-6 1 2 0 0 0 1 0 0 0-1 1 2 0 1 0-3 1 1 0-3 1 4 0-4 1 1 0 5 0-4 1-2 1 2 0 3 0-3 1 1 0-1 1 5 0-6 1 0 1 4 0-4 1 1 0 4 0 2 0-2 1 0 0 1 0 1 0-6 1 2 0 2 0 3 0 0 0-5 1 1 0 3 0-6 1 0 0-1 1 2 0 4 0-2 1-4 1 2 0 6 0-4 1 0 0 1 0-2 1 1 0 0 0 1 0 1 0-7 1 2 0 1 0 3 0-4 1-2 1 7 0-4 1 1 0 0 0 1 0 4 0-7 1 1 0 4 0 0 0-4 1 3 0 1 0 1 0-7 1 1 0 2 0 5 0-5 1 0 2-2 2 3 1 1 0 2 3-6 1 6 0-3 1 4 3-8 2 4 0 0 1 0 1-2 1-2 10 0 191-1 10 2 22 1 4 0 3-3 4 5 0-5 1 1 1 1 1 4 2-3 3 3 1-4 1 3 1-4 1 7 3-8 2 5 2-2 1-3 1 2 0 2 0 1 1 2 0 0 0-6 1 2 0-3 1 1 0 1 0 0 1 3 0-4 1 1 0 2 0 1 0-2 1-2 1 1 0 1 0-1 2 7 0-8 1 0 0 8 0-8 2 5 0-1 1 3 0-8 1 1 0 0 0 1 2 4 0 2 0 1 0-9 1 5 0 4 1-1 2 1 2-9 1 2 0 4 0-3 2 6 0-9 2 9 1-8 1 0 0 2 0 3 0-4 1 3 0 0 0-4 1 4 0 3 0 0 2-4 1 2 1 0 0 2 0-1 1-3 1 2 0-2 3 2 1-1 1-4 1 2 0 4 0 0 0 0 1-4 1 6 0-9 2 5 0-2 1 4 0-2 1 4 0 0 0-8 1 7 1-1 1-5 10 7 11-6 11 5 0-2 1-5 2-1 1 0 1 4 0 2 0 2 0-8 1 2 0 1 0 0 0 1 0 1 0 2 0 1 0 0 0-7 1 1 0 0 0 1 0 2 0 3 0-7 1 2 0 0 0 1 0 1 0 1 0 0 0-5 1 2 0 4 0-7 180 0 23 4 0-4 5 9 0-6 5 3 9 0 0-1 5-1 1 3 4-6 2 5 2 0 0-3 1 6 0-2 3 0 2-7 1 4 0 3 2 2 1-5 2-1 4-1 1-2 3 0 2 7 2-2 2 0 2 0 2-4 1 4 2 1 1 2 0-2 3 1 1-5 2 7 2 0 1-9 1 6 1-6 7 3 0 0 4 5 1-3 34 0 2 0 1 3 0-7 1 2 0-1 1 2 0 0 0 3 0-5 1 1 0 1 0 0 0 1 0 1 0 3 0 0 0-9 1 1 0 1 0 1 0 1 0-4 1 2 0 0 0 4 0 2 0-3 1-5 1 2 0 2 0 1 0 0 0 0 0 1 0-1 1 1 0-1 326 1 0-6 1 8 0-8 1 6 0 3 0 0 0-8 1 0 0 7 0 0 0 1 0 0 0-9 1 1 0 0 0 1 0 0 0 1 0 2 0 0 0 3 0 0 0 0 0 1 0-9 1 2 0 0 0 0 0 0 0 2 0 1 0 0 0 0 0 1 0 3 0-9 1 1 0 3 0 2 0 2 0-6 1 0 0 2 0 1 0 2 0-2 1 2 0 8 2-4-1 7-1-6 0-1 0-1 0 6-1-4 0-1 0-1 0 8-1 0 0 0 0-3 0-1 0-2 0-1 0 8-1 0 0 0 0 0 0 0 0-1 0-2 0-1 0-1 0-1 0-1 0-1 0-1 0 9-1-1 0-1 0-1 0 0 0-1 0 0 0 0 0 4-1-1 0-1 0-1 0-1 0-2 0-2 0 0 0-1 0 7-1-1 0-2 0 0 0 5-1 0 0-1 0 0 0 0 0-7 0 8-1-2 0-2-109-4-217 5-2 0 0 0 0-2 0 0 0-3 0 8-1-3 0 0 0-1 0-1 0-1 0-2 0-1 0 9-1-1 0-1 0 0 0-1 0-4 0 3-1 0 0 0 0-1 0-1 0 0 0 5-1-2 0-1 0-5 0 7-1-1 0-2 0-2 0 3-1 0 0 4-1 0-2-1-19-1-2-3-27 2-5-1-3-2-1 0-4-2-1 4-3-3 0-1-1 2-2-2-2 3-1-3-1 0-2 4-1-4 0 6-1-6 0 1-3-2-17 4-3 5-228-1 0 0 0-1 0-2 0-2 0-1 0-1 0-1 0 9-1-1 0 0 0 0 0 0 0-2 0-1 0 0 0 0 0-2 0 0 0 0 0 0 0-2 0 8-1-1 0-1 0 0 0-2 0-3 0 0 0-1 0 4-1-1 0 0 0 0 0-2 0-1 0-1 0 8-1-5 0 2-1-5 0 8-1-4 0-1-2 2-1-5-1 4-18 1-1-1 0 5-1 0-3-5 0 4-1-5 0-1-1-2 0 8-1-1 0 0-1-2-1-1-2 5-1-2 0-3 0-4 0 5-1 4-1-2-1-5 0 4-4-6-1 4-1 5-2-8 0 6-1-4-1 3-1-1 0 0 0-2 0 6-1 0 0 0 0-5-1-4-1 6-3-6 0 8-1-4-1-3 0 7-1-5 0 0 0 2-1-4 0 1-2 0 0 0 0 3-1-1 0-4-1 1-6 1-2 4-4-5-3 0-12 1-255 5-2-1 0 2-1-7 0 7-1-1-1 0-2-4 0 6-1-2 0 0 0-5 0 7-1 0 0-1 0-3-1 0 0-4 0 7-1-3 0 0-1 4-2-7 0 1-1 0 0 5-1-5 0-1 0 7-1-1 0-1 0-6 0-1 0 8-2-2 0-5 0 7-1-6 0 7-1-1 0 0 0-4 0 1-1-2 0 0 0 0 0 3-1-2 0 0 0-2 0 0 0 4-1 0 0-1 0-3 0 2-1-1 0 1-1-2 0 0-1 0 0 3-2-2 0-3 0 0 0 1-1 2-2-2 0 0 0 3-1 0-3-3 0 2-1-2-2-1 0 0-1 0-1 3-1-3 0 3-1 7 24 3 0 2 7-4 1 4 4-4 1 5 0 0 0-2 3 3 0-2 1 2 0 0 0 0 0-4 1 6 0-6 1 0 0 2 0 1 0-1 2-1 1 0 0 1 5-2 7-1 1-2 278 0 7 0 1 2 1 2 0-4 1 2 1 2 3-1 1 2 2-4 1 0 0 3 0 0 1-3 1 2 0 0 3 4 3 2 0-8 1 3 1 3 0 2 1-1 2-7 2 3 0 2 2-6 2 2 1 6 0-2 1 1 1 2 1-4 3 0 3-3 1 2 1-2 1 3 0-1 1 0 0 1 0-2 1 5 0-7 1 1 0 7 0-9 1 1 0 0 0 0 0 1 0 0 0 1 0 3 0 2 0 0 0-8 1 2 0 0 0 1 0 1 0 2 0 2 0 1 0-9 1 1 0 1 0 5 0 2 0-9 1 2 0 0 0 0 0 3 0 2 0 1 0 1 0-8 260 1 17 3 2-1 7 5 0-8 4 6 0-4 5-2 1 1 0-2 5 6 0 1 0-3 3 1 6 0 2 2 0 0 5-2 9-2 3 1 1-4 1 2 0 3 0 1 0 1 0-7 1 1 0 0 0 1 0 1 0 1 0 1 0 1 0 1 0 1 0-3 1 1 0 0 0 1 0 1 0 1 0-9 1 1 0 0 0 1 0 2 0 0 0 0 0 3 0-7 1 1 0 2 0 1 0 1 0 3 0 1 0-7 1 1 0 2 0 0 3 0 238-3 88 3 0 2 0-2 1 4 0-9 1 1 0 0 0 2 0 1 0 2 0 0 0 1 0-6 1 0 0 3 0 1 0 0 0 0 0-3 1 1 0 2 0 0 0 2 0 1 0-8 1 2 0 0 0 1 0 0 0 1 0 3 0 1 0-7 1 1 0 4 0 1 0 0 0-6 1 1 1 17 0-4 0 2-1-4 0-1 0 5-1 0 0 0 0-1 0-6 0 0 0 7-1-2 0-2 0-3 0 0 0 8-1-1 0-2 0 0 0-2 0 4-1-5 0 0 0 7-1-2 0-1 0-6 0 5-2-2 0-3 0 5-1 4-325-8 0 7-1-4 0-2 0 7-1-5 0 3-1-1 0 0 0-6 0 9-1-8 0 0 0-1 0 9-1-2 0 0 0-1 0 0 0 0 0-2 0-1 0-1 0 0 0 7-1-2 0-1 0 0 0-3 0-2 0 0 0 0 0-1 0 9-1-1 0-5 0 0 0 0 0-1 0-1 0 7-1-4 0 5-1-2 0-3 0-2-11 6-2-3-1 3-6-5 0 4-8-6-1-1-3 0-6 1-291 8-1-8 0 6-1-1 0-6 0 4-1 0 0 0 0-4 0 1-1 3-1 0 0-1 0 3-1-4-3 2-5 0-1 1-1-5 0 7-2-5 0 2-3-2 0 1-2-3 0 2-1-1 0-1-2 5-2-3 0 0-2 4-306-4-9 0 0-1 0-1 0 0-1 0-2 1-2-1 0 0 0 0-2 11 15-1 1 5 1 3 0-5 332 5 1-4 1-4 317 1 12 1 0 7 0-6 1 2 0 2 0 1 0 1 0 0 0 0 0 0 0-9 1 0 0 1 0 1 0 3 0 0 0 1 0 1 0 0 0-5 1 0 0 1 0 0 0 0 0 1 0 0 0 1 0 0 0 3 0 1 0-9 1 3 0 0 0 2 0 0 0 0 0 0 0 2 0 1 0 0 0 1 0-8 1 0 0 1 0 2 0 0 0 2 0 1 0 0 0 1 0-8 1 0 0 2 0 0 0 1 0 0 0 0 0 1 0 1 0 0 0 2 0 1 0 1 0-7 1 4 0 0 0 3 0-2 2-7 323 8 2-8 4 4 0 1 0 0 0 3 0-3 1 0 0 1 0 3 0-5 1 1 0-5 1 8 0 1 0-4 1 2 0-2 1 0 0 1 2 1 0 12-2-1 0-7 0 7-1-1 0-1 0-1 0 0 0-2 0 0-1 6-1-3 0 0 0 0 0-1 0-1 0 4-1-1 0-3 0-3 0-1 0 6-1 0 0-1 0-1 0 0 0 0 0-1-1-3 0 8-1 0 0-5 0 5-327-2 0-1 0-3-1-1 0 8-1-6 0-1 0 0 0-1 0-1 0 4-1-1 0 0 0 0 0-3 0 0 0 8-1-2 0-1 0-1 0-1 0-1 0-2 0 0 0 5-1 0 0 0 0-1 0 0 0 0 0-2 0 0 0-1 0 0 0-1 0 0 0 0 0 9-1-3 0 0 0-1 0 0 0 0 0-1 0-1 0-2 0-1 0 0 0 5-1-1 0-2 0-1 0 0 0 0 0-1 0 4-1 0 0-2 0-2 0 0 0 0 0 6-2 2-329-1 0-3 0-2 0 2-334-2 0 0 0-2 0 3-1 0 0-3 0 12-3 7 3-5 1 1 0 3 1 1 332-8 2 1 329-1 2 0 0 7 0-4 1 1 0 1 0 3 0-9 1 3 0 1 0 2 0-3 1 2 0 0 0-5 1 1 0 5 0 2 0 1 0-9 1 0 0 1 329 7 0-7 1 1 0 0 0 2 0 0 1 3 0-6 1 1 0 0 0 1 0 0 0 0 0 0 0 2 0 2 0 1 0 1 0-7 1 0 0 2 0 1 0-4 1 1 0 2 0 2 0 2 0-8 2 16 2 3-3-9 0 7-1 0 0-1 0-2 0-1 0 6-1-1 0-1 0 0 0-3 0 0 0 1-1 0 0-4 0-1 0 0-1 7-1-6 0 0-1 0-328 8-1-3-1 0 0-1 0 0 0-3 0-1 0 5-1-4 0-2 0 0 0 9-1-3 0 3-1-1 0-1 0-1 0-4 0 7-1-1 0-6 0 6-2-3-329 4-1-3-1 0 0-5-1 4-331 0-1-2 0 3-1 6-1-1 2-1 332 2 0 6 2-8 1 3 327 3 2-5 1-1 1 1 0 0 0 2 0 2 0-3 1 1 1 0 0 2 0 2 0-7 2 6 329-5 1 1 1 0 0 1 1 0 0 2 0 3 0-8 1 1 0 0 0 2 0 3 0 2 0-7 1 0 0 3 0 2 0 2 0 1 0 0 0 0 0-7 1 6 0 0 0 1 0-5 1 3 0 1 1-3 1 9-1 0 0 2-1-1 0-2 0-1 0-1 0 0 0-1 0 9-1-1 0-4 0-2 0 0 0 7-1-2 0-3 0-1 0-1 0-1 0-1 0 9-1-1 0-7 0 5-1-1 0 3-1-3 0-3 0 6-1-7-2-1-664 12 1 2 663-4 1 0 0 5 0 3 0-5 1-3 1 2 0 0 0 1 0 1 0 2 0 2 0-4 1 0 0-4 1 1 0 1 0 1 0 4 0 2 0-7 1 0 0 0 0 4 0 0 0 2 0 1 0-4 1 3 0-7 1 7 0 1 0-8 1-1 1 11-3 0-1-1 0 0 0 0-1 0-2 0-1 138-1193-2 1 1 0 1 1 1 0-3 1 3 0 0 0-3 1 1 0 1 0-1 2 1 335 0 0 0 1 1 0 0 0-3 2 2 1 1 1-5 1 5 0 0 0-7 1 4 0 2 1 1 1-8 333 7 0-1 1 1 0-2 1 1 0 2 0-7 1 2 0 3 0 0 0 2 0 0 0-6 1 0 0 3 0 0 0 1 0 0 0 1 0 0 0 0 0 1 0-4 1 2 0 0 0 0 0 2 0-4 1 1 0 1 0 1 0 1 0 0 0-1 1-4 1 4 335-3 1 1 0 2 0 0 0-4 1 4 0 0 0 1 0-6 1 1 0 0 0 1 0 1 0 1 0 0 0 0 0 1 0 0 0 0 0 1 0 0 0-6 1 3 0 0 0 1 0 0 0 0 0 1 0 1 0-6 1 1 0 1 0 1 0 1 0 1 0 0 0 1 0-7 1 3 0 1 0 2 0 0 0 1 0 0 0 0 0 0 0-9 1 5 0 11 4 1-2 0 0 2-1-2 0-2 0 0 0-3 0 6-1-3 0-2 0 0 0-1 0 0 0-2 0 8-1 0 0 0 0-2 0 0 0 0 0-2 0-2 0 0 0 0 0-2 0 0 0 9-1 0 0 0 0 0 0 0 0-1 0 0 0-1 0 0 0 0 0-1 0 0 0 0 0-1 0 0 0-1 0 0 0 0 0 0 0-1 0 0 0-2 0 0 0-1 0 9-1-1 0 0 0 0 0-1 0 0 0-1 0 0 0 0 0-1 0 0 0-1 0 0 0 0 0 0 0 0 0 0 0-1 0-1 0-1 0 0 0 0 0 0 0-1 0 0 0 9-1 0 0 0 0-1 0-1 0 0 0 0 0 0 0-1 0-1 0 0 0-1 0 0 0 0 0-2 0 0 0 0 0-1 0 0 0-1 0 0 0 8-1 0 0-2 0 0 0 0 0-1 0 0 0 0 0 0 0-1 0 0 0 0 0 0 0-1 0-1 0 0 0 0 0-1 0 0 0 0 0 0 0-1 0 9-1-1 0 0 0-1 0 0 0-1 0-2 0 0 0-2 0 5-1-1 0 0 0 0 0-5 0 7-1 1-316-4-3 3-8-2-3 0-1 0-3-5 0 8-1-1 0-1 0-5 0 0 0-2 0 8-1-1 0-3 0 0 0-1 0-1 0 0 0-1 0-1 0 0 0 9-1 0 0-1 0 0 0-1 0 0 0-1 0 0 0-1 0 0 0 0 0 0 0-1 0-1 0 0 0 0 0-1 0 0 0 0 0 0 0 0 0-1 0 0 0 8-1 0 0-2 0 0 0-1 0 0 0 0 0 0 0-1 0-1 0 0 0 0 0-1 0 0 0 0 0 0 0-1 0 0 0 0 0 0 0-1 0 0 0 0 0 0 0 0 0-1 0 0 0 9-1 0 0-1 0 0 0-1 0 0 0 0 0 0 0 0 0-1 0 0 0-1 0 0 0 0 0-1 0 0 0 0 0-1 0 0 0 0 0 0 0-1 0 0 0 0 0 0 0-1 0 0 0-1 0 9-1 0 0-1 0-1 0 0 0-1 0 0 0 0 0 0 0-2 0 0 0 0 0-1 0 0 0 0 0-2 0 0 0 0 0-1 0 9-1-6 0-2 0 5-1-2 0-1 0-3 0 9-319 0-11-1-2 1-1-2 0-3 0 5-1-5 0 4-1-1 0-1 0 0 0 0 0-1 0 0 0-1 0-1 0-1 0 0 0-1 0 0 0 8-1-2 0 0 0-1 0-1 0-1 0-1 0-1 0 0 0-1 0-1 0 9-1 0 0 0 0-2 0 0 0 0 0-1 0 0 0-2 0 0 0-2 0-1 0-1 0 0 0 9-1 0 0 0 0 0 0 0 0-1 0 0 0 0 0 0 0-1 0 0 0 0 0-1 0 0 0 0 0-1 0 0 0 0 0-1 0 0 0 0 0-1 0 0 0 0 0-1 0 0 0 0 0-1 0 0 0 0 0-1 0 0 0 0 0 0 0 9-1 0 0-1 0 0 0 0 0-1 0-1 0 0 0-1 0 0 0 0 0 0 0 0 0-1 0-1 0 0 0 0 0 0 0-2 0 8-1 0 0-1 0-1 0-1 0 0 0 0 0 0 0 0 0-2 0 0 0 0 0-1 0 0 0 0 0 0 0-1 0-1 0 0 0 8-1 0 0 0 0-1 0 0 0-1 0 0 0 0 0-1 0 0 0-1 0-1 0 0 0 0 0 0 0-1 0 5-1 0 0-2 0-5 0 0 0-1 0 9-1 0 0-2 0 0 0-2 0-1 0-4 0 4-1 0 0 1-1 4-322-1-4 0 0 1-5-2 0-2 0 2-1 0 0-2 0 0 0 3-1-1 0-2 0-2 0 0 0 0 0 0 0-3 0 0 0 9-1-1 0 0 0 0 0-2 0 0 0 0 0-3 0-1 0 0 0-1 0 0 0 0 0 0 0-1 0 9-1 0 0 0 0 0 0-1 0 0 0 0 0-2 0 0 0 0 0-1 0 0 0-1 0 0 0 0 0-2 0-1 0-1 0 0 0 9-1-1 0-1 0 0 0 0 0 0 0-1 0 0 0 0 0-1 0 0 0 0 0 0 0-1 0 0 0 0 0 0 0-1 0 0 0 0 0-1 0 0 0-1 0 0 0 8-1 0 0-1 0 0 0 0 0-1 0 0 0-1 0 0 0-1 0 0 0 0 0-1 0 0 0 0 0 0 0-1 0 0 0-1 0 0 0-1 0-1 0 0 0 0 0 9-1 0 0 0 0-1 0 0 0 0 0 0 0-1 0 0 0-1 0-1 0 0 0 0 0-1 0 0 0-1 0-2 0 0 0-1 0 8-1-1 0 0 0-1 0 0 0-1 0-1 0-1 0-2 0 7-1-4 0-2 0 7-2 0 0-5-3 11-6-1 3 4 0-6 1 3 1 2 0-7 1 9 0-2 1 1 0-7 2 5 0-5 2 2 0 1 0 2 0 3 0-9 1 0 0 6 0 1 0 0 0-7 1 1 0 0 0 0 0 1 0 0 0 2 0 3 0 0 0-7 1 1 0 2 0-3 1 0 0 0 0 0 0 1 0 0 0 1 0 0 0 0 0 2 0 0 0 3 0 2 0-7 1 0 0-1 1 0 0 2 0 2 0 1 0 1 0 1 0-4 1 2 0-6 1 1 0 1 1 5 0-4 1-2 1-1 1 0 0 2 0 1 2-2 2 7 322-7 4 8 0-9 1 2 0 0 0 0 0 4 0-6 1 0 0 1 0 7 0 1 0-9 1 0 0 1 0 0 0 0 0 0 0 2 0 0 0-3 1 1 0 2 0 0 0 1 0 0 0-4 1 1 0 1 0 0 0 3 0 1 0 1 0 1 0 0 0-8 1 1 0 0 0 0 0 1 0 2 0-3 1 0 0 2 0 0 0 1 0 5 0-9 1 3 0 1 0-4 1 1 0 0 0-1 1 3 3-2 1 6 0-1 1 3 1-9 1 6 3-6 1 1 7 0 314 7 0-8 1 7 0-6 1 1 0 2 0 4 0 0 1-8 1 0 0 2 0 3 0 2 0 0 0 1 0-8 1 1 0 1 0 0 0 0 0 0 0 1 0 0 0 1 0 4 0-8 1 0 0 1 0 1 0 1 0 1 0 4 0-8 1 0 0 3 0 0 0 0 0 1 0-3 1 7 0 1 0-2 1-2 1-4 2 5 0 1 0 2 1-3 5-5 4 0 319 8 0 0 0-1 2-7 2 0 0 0 0 6 0-7 1 1 0 0 0 0 0 2 0-3 1 0 0 3 0 4 0-7 1 0 0 3 0 2 0 2 0-7 1 2 0 2 0 0 0 0 0 1 0 1 0 1 0-7 1 0 0 1 0 2 0 1 0 0 0 4 0-7 1 1 0 1 0 0 0 0 0 1 0 4 0-3 1 4 0-6 1 1 0 4 0 0 0-8 1 1 0 3 0 1 0 2 0-2 1 0 0 4 0-7 1 7 0-3 1-1 2 1 0 1 0 1 1 8 6-3-2 3-2 3-1 0-1-2 0-1 0-3 0-3 0 8-1 0 0-6 0-2 0 6-1-1 0 0 0 4-1-1 0-3 0-4 0 0 0-1 0 0 0 4-1-2 0 4-1-6 0 7-1-4-1 1-1-3 0 3-1-4 0 7-1-7-1 0 0 4-1-2-2-2-3 5-2 2-3-3-1 1-2 3-1 1-319-5-3-1 0 6-5-9-3 7-1-1-1-1 0-1-1-3 0-1-1 6-1-3 0-1 0 3-1 4-1-4 0 0 0-2 0 2-1 0 0-2 0 3-2 2-2 1-323-6 0 1-1-2 0 0-1 7-1-3 0-1-1-3 0 3-1-5 0 9-1-5-5 0-1 1-1 2-1-3-2 3-1-3-6-1-326 5-2-1 0 2-2-2-1-1-2-2 0 3-1-4 0-1 0 3-1 1-1-4 0 4-1-5 0 8-1-9 0 3-1-2 0-1 0 6-2 2-1 0 0 1-1-7 0 7-4 10-8-5 1 2 0 3 1-7 2 6 1-5 1 3 1-4 1 3 0-5 1 5 0 3 0-2 1 1 0-2 3 3 1-8 1 7 0 1 1-8 1 2 4 4 0-2 3 1 1-4 2-1 1 6 1-6 5 2 315 2 0 3 0 1 1-4 1 5 0-8 1 4 0 1 1-2 1-4 1 8 1-2 1 0 0-5 1 6 0-2 1-2 1 1 2-4 2 1 1 6 0 1 0-7 1 3 0 0 1 2 0 1 0-1 1 3 1-6 1 5 1 1 0-7 1 2 0 5 1-4 1 1 2 3 315 0 1-1 1-1 1 1 0-3 2 0 1 4 0-2 2-3 3 0 1 1 0-5 1 4 1 1 0 0 0 4 1-5 1-2 2 7 0-4 4-2 1 5 0-6 2 2 1-1 6 6 2-9 1 3 0 2 1 1 0-2 2 5 305-3 7-6 1 5 2-4 4 5 0-4 17 0 2 0 0-1 1 1 0 1 0 3 0-6 2 0 0 0 0 1 0 0 0 2 0 2 0 3 0 0 0 1 0 0 0-9 1 1 0 4 0-1 1 3 0 1 0-6 1 2 0 2 0 3 0-5 1 2 0-1 2 1 0 0 0 3 0-7 1 1 1 0 0 12 5-1-1 4-2 0-1 0-1-1 0-5 0 6-1-6 0 7-1 0 0-1 0-4 0 0 0-2 0-1 0 8-1-1 0-1 0-1 0-3 0-2 0 0 0-1 0 8-1-2 0 1-1-2 0 1-2-5 0 0-1-1 0 5-1 0 0-5-1 2-9 6-4-4-1 3-1 1-9-8-3 4-3 0-1-2-1 5-1-3 0 3-2-1 0 3-2-1-3 0-291-3-1-2-5-1 0 7-2-2-3-4 0-3-1 9-1-1 0 1-1 0 0-5-2-1-1 1-3 5-1-1-3-3 0-2-2 1-2 5-2-3 0-2 0 4-1-3 0 0 0 1-1-6 0 5-1-1 0 2-1-6 0 6-1-1 0 3-2-4 0-1 0 5-2-5 0 1-1 0 0 0 0-3 0 8-1-4 0 1-1-1 0-5 0 3-1-2 0-1 0 3-1-1-1 6-1-3 0-3 0-1 0-1 0 5-1 0 0-4 0 8-1-1 0-2-2 3-1-1-1 1-312-8-1 0-2 5-4 3-1-1-1-4 0 3-3-6-1-1-1 0 0 3-2 2-2 3-4-4-1-3 0 8-1-7 0 5-1 0 0-4 0 6-1-1-2-6 0 7-1-8 0 5-2 0-2-2-35 4-11-6-277 0-1 6-1-3 0 1-1-6 0 7-1-1-1-1 0-5-1 1-1 7-1 0 0-4 0 1-1-1 0 1-1 1-1-3 0 0-1 0-2 1-1 2-1-4 0 7-1-1-1-5-1-1-1 7-2-1 0-2-2 1-1-1 0 2-2 4-5 3 1-5 1 1 0 2 0 4 0-7 2 0 1 6 0-3 1 4 0 2 1 0 1-3 1 1 1-1 2-1 1 3 0-3 1-3 1 7 0-4 1-5 2 2 0 0 1 4 0-3 1-2 1 0 2 4 0-1 4-1 282 5 3-2 32 1 3-1 1 3 0-5 1 5 0-5 1 4 0 0 0-7 1 6 3-4 2 5 0-2 1 2 0-8 1 7 0 2 0 0 0-9 1 0 0 4 0-2 1-2 1 0 0 5 0 0 0-5 2 1 3 4 0-5 1 4 0-4 2 3 0 1 9-3 1 8 2-5 3-3 2 8 305-2 1 2 2-4 1 4 1-8 1 0 0 0 0 1 0 1 0 2 0 2 0-7 1 5 0 1 0-6 1 7 0 2 0-5 1 5 0 0 0-6 1 5 0-7 1 5 0 1 0-6 1 7 0-6 1 2 0 1 0-3 1 2 0 5 0-7 1 6 0-6 1 0 0 6 0-5 1 1 3 0 1-2 4 3 1 0 6-4 3 8 0-3 1-5 1 7 2-8 2 3 0 4 0-3 4 2 1-4 4 4 0-5 2 5 2-2 1 0 2-2 3 0 1 2 0 1 2 0 0 4 0 0 4 0 275-4 3 0 1 0 0-2 3 5 1-3 2 0 0 1 2-4 6 5 39 2 1-5 1-1 1-3 1 5 0-4 1 1 0 4 0 1 0-6 1 8 0-6 1 0 0 1 0 5 0-2 1-7 1 5 1 1 1 2 0-2 1 2 1 10 6 0 0-2-1 3-2 0 0-1 0-1 0-1 0 2-1-1 0-2 0-4 0 8-1-4 0-2 0-2-1 8-1-3 0 0 0 0 0-3 0 0 0-3 0 5-1 3-1-2 0-1 0 0 0-2 0-1 0 5-1-2 0-2 0-3 0 6-1-6 0 3-1-3 0 0-3 0 0 6-12-2-2-3-1 7-18-7-5-1-2 8-8-7-3 1-1-1-1 0-1-1-2 4-1-3 0 0 0 5-1 0-3-4 0 6-2 1-1-1-1-8-272 6-1-3-2-2 0 4-1 0 0-4 0 3-1 5-3-5-2 4-3-8-1 2-4 4-2-3-1-2-2 7-1-6-1-2 0 9-3 0 0-9-6 2-2-1-3-1 0 7-5 0-2-6-1 6-1-3 0 3-1-5 0 3-1-5-5 4-3 0-2 5-1-1 0-3 0-2 0-2 0 8-1-2 0-1 0-2 0 5-1-1 0-1 0-1 0-5-1 6-1-1 0-2-1-4 0 9-1 0-1-1 0 1-1-1 0-6 0 7-1 0-1-2 0-1 0 3-1-7-305 4-1-2-3 4-4-6-3 1-5 6-2-7 0-1 0 4-1 3-1-6 0 0-1-1 0 5-1-5 0 7-1-1 0-3-1-3 0 3-1-3 0 2-1-1 0 0 0-2 0 0 0 8-1-6 0-2 0 6-2-2 0 0 0-4 0 9-1 0-1-2 0-4 0 1-1-4 0 8-1-4 0 4-1 0 0-7 0-1-1 3-1 1-1 5-1-4-1 0 0 4-1-5 0 5-1-2-5 0-4 0-277 0-32-2-3-2-1-1 0 2-1 1-3-4 0 5-1-1 0 2-4 1-1 0 0 0 0-7 0 0 0 7-1-4-1 0-2-4 0 9-1 0 0-1 0-3-1 1-3 1-1-7 0 4-1 0 0 5-2 0-1-3 0 3-2-2-1-4 0 4-3 2-3 2-3 5 3-6 1 3 0-2 1 8 0 0 0-7 1 7 0-3 2-5 2 2 0-2 1 3 0 3 0 1 0-8 2 5 0 3 1-8 1 0 0 5 0 3 0-5 1 0 0 1 0 4 1-2 1-6 1 8 1-8 2 5 1 0 1 2 1-6 1 0 0 4 0-5 10 1 299 4 15 4 0-5 3 3 0 1 0-6 2 0 0 2 0 4 0 0 0-1 2 0 0-4 1 2 0 1 0 3 0 0 0 0 0-9 2 7 0 2 0-5 1 2 0-6 1 3 0 1 0-4 1 1 0 6 0-3 1 5 0-8 1 0 0 0 1 2 0 1 0 3 0-7 1 1 0 2 0 1 0-1 1 1 1 0 0 0 0 4 0 1 1-9 2 0 1 1 0 2 0 2 0-5 2 5 0-5 1 2 0 2 0-3 1 2 0 4 1 1 318-1 1 1 0-1 1-2 2 2 0-6 1 1 0 3 0-5 1 2 0 1 0-1 1 0 0-2 1 8 0-8 1 0 0 1 0 2 0 2 0-3 1 2 3-1 2-1 1 3 3-5 2 1 1 5 0-4 5 2 0 0 0 4 1-6 2-2 5 1 6 0 3 7 2-8 2 1 3 5 3-3 5 3 0 3 0-3 2 2 0-2 2-4 3 3 1-1 3 3 1-4 4 1 0-1 2 3 1-2 1 2 3 3 0-6 3 1 1 5 255 0 3-2 3-6 5 8 1-6 1-3 1 6 0-3 1 2 0-3 1 1 2 2 3-1 1-1 1-1 1 1 12 2 2 3 1-7 6 2 1-2 10 6 3-1 2-5 5-1 5 6 7-5 3 4 0 1 0-4 1-1 1 2 0 3 0-6 1 2 0 1 0 4 0-6 1 0 0 0 0 1 0 1 0-2 1 2 0-2 1 1 0 0 0-1 1 0 0 2 0 1 0 1 0 0 0 1 0 3 0-7 1 2 0 0 0 2 0 2 0 1 0 0 0-8 1 1 0 3 0 2 0 1 0-3 1 3 0 1 0-6 1-2 1 2 0 4 0-6 2 8 1 0 1 6 3 4-3-1 0 0 0-1 0-3 0-4 0 0-1 8-1-2 0-1 0 3-1-7 0 7-1 0 0-2 0 0-1 0 0 0 0-2 0-3 0 7-1-1 0-2 0 4-1-7 0-2 0 7-1-6 0 3-1-2 0 0-6-1-4 4-10 2-4-1 0-6 0 4-1-1 0-3-6 6-1 3-9 0-3 0 0-6-1 2-2 3-5-8-3 3-3 5-7-7-13 0-3 6-4-3 0 1-4-2-2 4-2-3-1 3-1-3-242 2-1-1-1-5 0 9-1-8-1 4-1-5-2 3-1 4-1-1 0-2 0-1 0-2 0-1 0 7-3-4 0 1-1 1-1 4-1-2-2-4-1 5-3-8 0 0 0 2-4-2 0 4-3 1-3-4 0 8-5-9-6 2-1 2-6 4-15-1-6-2-1-2-2 6-1-9-4 1-1 3-2-4 0 8-2-6-1-2 0 3-1-2-1-1 0 3-1 6-1-6 0 0 0-3-1 0 0 8-1-7 0-1 0 0 0 8-1-2-1-2 0-3 0 5-3-4 0-2 0 6-1-3-1 6-3-1-2-2-291-3-10 5-14 0-6-5 0 4-4-2 0 0 0-5 0 4-1-1 0-3 0 0 0 0 0 9-1-2 0-3 0-3 0 8-1-2 0 1-1-6 0-1 0-1 0 5-1-3 0 7-1-3 0-1 0-1 0-1 0 1-1-1 0-3 0 6-2-1 0 0 0-2 0 0 0 6-1 0 0-1 0-5 0 0 0-1 0-1 0 7-1-3-1-3-1 0 0-2 0 9-1-8-1 6-1-1 0-1-1-1-1-4 0 7-2 1-2-7-323 7-1-2 0-1 0-3-1 4-1-1 0-4-1 0-1 0-1 6-1-3 0-1 0-3 0 7-2-4-1-2 0 5-1-1 0-2 0-1 0-1 0 8-1-2 0-5 0-2 0 4-1-2 0-2 0 9-2-4 0-2 0 6-3-2 0-1-3 0-1 1-1-2 0-1 0 4-4-2 0 2-1 9-7 2 1-7 5 2 1-4 2 8 0-2 1 0 1 1 0 1 0-6 1 1 0-3 1 6 2-5 2 3 0-3 1 0 0 6 2-2 2-4 1 3 0 5 0-4 1-5 1 3 0 6 0-6 1 4 0-1 1 1 1-3 9-2 7 4 15-5 11 7 284 0 0 1 4 0 1 0 0 0 0-7 1 5 0 1 0 0 0-8 1 3 0 0 0-2 1 3 0 3 0-7 1 4 0 2 0 0 0 2 0-8 1 9 0-7 1 0 0 3 0 0 0 2 0 1 0-5 1 0 0 2 0 0 0 1 0-5 1 4 0 1 0-5 1 2 0 0 0 1 0 1 0 4 0-8 1 1 0 0 0 0 0 4 0 1 0 1 0-3 1 3 0-7 1 8 0-8 1 1 0 5 0 0 0 2 0 0 0 0 1-1 1-7 1 0 0 1 0 4 0-5 4 3 0 3 0-6 1 7 5 0 4-2 14 1 295 0 2 2 1-5 1 0 0-2 1 5 0-1 1 1 0 0 0-7 2 3 0-3 1 5 0-2 1 2 0-4 1 1 0 4 0-6 2 8 0 1 2-8 1-1 1 4 2 3 2-5 1 1 1 0 2 2 1 0 2-2 2 0 1-3 6 2 13 2 1-2 6 4 1-2 1-4 4 0 9 4 0 2 0 2 1-4 4-3 4 1 4 7 1-9 1 2 2 2 2-3 5 1 7 4 1-5 3 5 1 3 1-7 1 0 1 0 0 4 2 2 0-2 1-1 236-4 6-1 4 9 0-8 1 8 16-6 2 4 13 1 32-4 3 2 0 1 0 0 7-6 9 4 5 1 0-4 3 1 0-3 2 3 0 1 0-4 1 2 0 1 0 4 0 1 0 0 0-6 1 2 0 3 0-2 2 1 0 2 0-4 1 2 0 1 0 1 0 0 0 1 0 0 0-4 1-3 1 1 0 6 0 9 13-3-5 3-2-4-1 5-1 0 0-4 0-2-1 5-1-4 0 0-1 0 0-3 0 6-1-2 0-3 0 2-1-2 0-1 0 0 0 0-1 6-1-6 0 0 0 5-1-2 0 2-1-6 0 5-3 2-1 0-5-4-8 5-2-8-12 9-1-1-1 1-8-4-7-1 0-2-6 4-4-4-3 2-3-2-1 4-5-4-7-2-1 0-9 8-2-8-20 0-4 9-6-1-216 0-2 1-1-1-2 0-1-4 0 0 0 1-2 0 0-4 0 6-3-4-1 3-3-6-3 3-1 1-1 5-2-2 0-4-1-2-1-1-3 1-3 8-6-6 0-1-1-2-3 8-1-1-2-3 0 4-2-7-1 0-3 4-1-2-7-2-4-1 0 3-1 0-2 1-1 5-2-2-2 1-10-4 0 3-4-3-2 1-3-4-2 7-1-3-5 4-1-6-5-1-8 4-2-2 0 0 0 0 0-2-1 5-2-6-5 6-4-3 0-1 0 2-1 3-2 1-285-1-6-4-16-3-1 6-4-1-1 2-4-4 0-4-2 1-1-1-1 0 0 5-2-5 0 9-1-6 0 2-1-1 0-2 0 2-1-1 0-2 0-1 0 9-1-1 0-5 0-2-1 3-1-4 0 4-1 0 0 4-1-6 0-1 0-1 0 6-1-1 0-3 0-1 0 8-1-3 0 0 0 0 0-1 0-2 0 0 0 3-1-4 0 7-1 0-2-2 0-1 0 0 0-2-1-2 0 0 0-1 0 0-1 8-1 0 0-1-2-7 0 1-282 7-9-9-24 7-9-3-3-2 0-2-1 8-1-6 0 0-2-2-1 5-2-5 0 6-1-3 0 0-2 1-1-4 0 9-1-3-1-1 0-3-1-1-1 8-2-1 0-4 0 2-2-6-1 7-1-1 0-4-1 0 0 1-1 0 0 2-1 4-3 0-1 9-8-1 1 2 0-5 7 4 0-1 1 1 0 1 0 0 1-8 1 0 0 5 0 1 0-7 1 4 0 5 0 0 0-4 1 3 0 1 0-8 1 2 0-1 1 4 0-2 1 4 0 0 0-5 1 1 0 3 0-6 1 5 0 1 0 0 1 1 2-5 1 2 0-4 2 1 7 5 4 2 1-5 9 4 9-8 1 7 14-7 1 1 4 5 277 2 2-5 1 3 2 3 1 0 0-8 1 3 0 2 0 3 2-7 1 7 0-8 1 6 0-5 1 1 0 0 0 4 0 2 0-6 1 1 0 2 0 1 0-2 1 4 0 0 0-9 1 7 0-1 1-5 1 2 0 1 0 2 0 1 0 1 0-7 1 0 0 7 0-7 1 0 0-1 1 1 0 4 0-5 1 2 0 3 0 2 0 2 0-8 1 6 0 0 0-4 1 5 1-7 1 1 0 1 0-2 1 0 0 0 0 0 1 3 0-2 2 1 0-3 1 7 0-4 1 5 2-6 1 3 0-4 1 2 1 5 0-7 2 8 4-4 13 2 291-1 1-4 1 0 2 1 0 0 0 0 2 0 0-2 1 6 0-3 1 0 0 3 0 2 4-3 1-4 1-1 1 4 0-5 1 2 1-1 2 2 4 3 3 1 1-1 1 2 4-5 9-1 5 3 2-4 11 3 0-1 1-3 5 7 3 2 5-9 1 0 2 4 0 5 2-7 4 1 0 4 2 2 1-5 1 0 2-4 2 8 3-6 4 1 1 2 1-2 1 3 0-4 2-1 6 6 0-4 1 1 2-1 1-1 2 0 0 7 2-5 1 3 2-7 2 0 2 6 0 1 0-2 1 0 3 3 2-3 1 2 0-5 2 3 0 1 0-6 1 5 0-4 2 7 2-6 1 7 3-2 238-7 18 8 3-3 7-5 4 6 12 2 12-6 1 4 3-5 1 1 6 1 0-2 7 4 5 2 0 1 6 0 6-8 4 2 0-2 1 0 0 0 1 7 0-7 1 0 1 3 0 1 0-3 1 3 0 1 0 0 0 2 0-4 1 2 0 0 0 3 0 1 0-8 1 2 0 1 0 0 0 2 1 2 0 0 0-8 1 1 0 3 2 0 0-4 1 8 0 0 1-2 1 13 6 0-2-5-1 3-1-3-1 0-1 0 0 4-2-4 0 5-1-1 0-1 0-3 0-2-1 2-1-3 0 8-1-4 0-4 0 6-1-4 0 0-1-2 0-1 0 0 0 2-1-1-5 2-9 3-4 1-9-6-10 8-5-8-5 6-8-2-2-5-17 5-4 2-9-4 0-2-11-1 0 8-3-4-6-3-4 6-2-2-222 4-1-1 0-3-1-4-1 6-1-5 0 0 0-1-1 3-2-1 0 4-4-7-4 4-9 1-1-2-1 0 0 2-5-1-6 0-2-3-3 5-2-4 0 1-1 6-1-6-2 1-1 0-8 4-1-8-4 9-1-1-2-2-3 2-3-1 0-3-5 4-4-3-8 4-1-2 0-1-4-5-2 8-1-3-3-6-1 4-5-4-1 9-1 0-3 0-3-8-14 1-4-2-1 4-1-3-2 4-4 1-2-1 0-1-2 0 0-4-3 7-2-6 0 0 0 7-1 1-4-3-289-3-10 3-6-4 0-1-3 3-1-1 0-3-1 2-1 0-2 7-1 0-1-9 0 8-1-1 0-3 0-1 0 3-1 2-1-7 0 1-1 5-1-1 0-5 0 4-1-1 0 5-1-2 0-5 0 1-1-2 0-1 0 9-1-5 0 0 0-4 0 6-1-1 0-3 0 0-1 0 0-2 0 8-1-6 0-1 0-1 0 9-1-1 0 0-1-3 0 0 0-1 0-4 0 8-1-3 0-4 0 7-1 0 0-1-1-1 0-1 0-2 0-3 0 0 0 9-1-2 0-1 0-4 0 7-1 0 0-1 0-3 0-4 0 8-1 0 0-2-1-3-1 3-1-1 0 0-4 0-288 3-6-9-3 5-10-2-2 4-3-2-1 3-1-1 0-3-3 4-3-4 0 0 0-3-3-1-3 4-1-3 0 1-2 0-1 1-1 1-1-2 0 5-1-1 0-2 0 3-1 0 0-4 0 6-1-2 0-2 0-4-1 3-1-4 0 5-1-4 0-1 0 9-1-5 0-4 0 6-1-1 0-1 0-2-1 7-2 0 0-5 0 5-2-3 0 0 0 2-1-7 0 8-2-6 0-1-1 7-2 0 0 0-2 9-11 1 2 0 3-4 2-4 1 5 1 2 3-2 1 2 0-2 2 1 0 1 0 1 0-9 1 4 0 5 0-9 1 0 0 3 0-2 1 0 0 1 0 0 1 0 0 1 0 1 0 0 0 5 0-8 1 7 0-7 1 6 0-6 2 4 1-5 1 0 0 1 1 1 0 5 0-6 1 5 0 1 0 1 0-6 1 3 0 1 0 1 0 2 6-7 3 3 0-5 2 2 0 4 1-1 1-1 9-4 2 9 3-8 4 1 4-1 1 1 299 5 0 0 0-6 1 2 0 5 0 0 0-1 1 1 0 0 0-5 1 2 0 1 1 2 0 1 0-4 1 0 0 1 0-5 1 2 0 3 0 0 0 0 0 0 0 0 0 2 0 0 0-8 1 2 0 1 0 1 0 1 0 3 0-7 1 4 0 1 0 0 0 2 0-7 1 4 0 1 0-6 1 8 0 1 0-8 1 1 0 1 0-2 1 0 0 2 0 0 0-2 1 8 0 0 0-3 1 1 0 1 0-8 1 1 0 5 0-6 1 1 1 7 0 1 0-5 1-2 1-2 1 0 0 3 0-3 1 0 0 2 2 2 0-2 1 0 1 3 2-2 2-3 2 8 92-3 10 4 201-1 9-6 1 7 5-8 12 1 2 7 6-9 3 1 8 8 11-4 4-3 3-2 9 6 0-4 13 6 10-7 1 2 11 3 0-6 1 3 2 6 3-4 1 2 1 2 0 0 3-3 1-4 12 0 1 0 6 3 0-4 1 4 4 2 1-2 2 4 0-9 3 1 4 2 0 0 1 1 0 2 1 2 0-4 1 5 0-1 1-2 1 3 0-1 2-7 1 2 1 3 0-4 2 7 1-5 218 2 2-4 7 1 1 4 6 1 7-4 5 1 4 2 17-6 8-1 1 2 1 3 11-5 21 4 0-3 2 0 8 7 4-6 11-2 1 3 2 4 1 2 0-7 3 1 0 4 0 1 0-2 1 3 1 0 0-2 2 11 4-2 0-3 0 0 0 2-1-3 0-2 0 5-1 1-1-5-1 4-1-3 0 7-1-2 0-6 0 5-1-4 0 0 0 5-1-3 0 5-1-3 0-4 0-1 0 8-8-1-5-7-4 1-1 6-9-3-4 0 0-1-11 4-2 1-11-5-4-3-2 7-14-3-22 4-240-3-1-2-1-3-3 8-1-6 0-2-12 0-2 0-5 1-1 4-4-2-1-4-2 1-2-1 0 9-4-4-1 0-5-2-1 1-1 0-7 2-1-3 0 0-10 4-5-7-1 3-6-3-1 0-9 5-1 2-3-4-8-1-2 5-14 0-3 0-3-1-6 0-2 2-4 1-9 0-17-6-2 2-4 1-9-5-212 3-91 0 0-2-1 2-2 0-1-4-1 4-2 3-1-5 0-2 0 8-1-7 0 4-2 3-1 0 0-1 0-4 0-1 0 1-2-2 0 2-1 3-2-2 0 1-1 0 0-2 0-2 0-1 0 3-1-2 0-1 0 8-1-3 0-3 0-1 0-1 0 9-1-2 0-2 0-3 0-1 0 0 0 0 0-1 0 4-1-1 0 0 0-1 0 0 0 0 0-2 0 8-1-1 0-1 0-3 0 5-1-2 0-1 0-3 0-1 0 8-1 0 0-2 0-3 0 0 0-4 0 0 0 8-1-3 0 0 0 0 0-5 0 8-1-2 0-1 0-1 0 0 0-1 0 5-1-2 0-1 0-1 0-4 0 0 0 7-1-2 0-1 0 0 0-3 0 7-1 0 0-2 0 0 0-1 0-5 0 0 0 3-2-2 0 6-1 0 0 0-2 1-1 0 0-5-294 5-5 0-5-5-1 6-2-6 0-3 0 7-3-3-1-3 0 7-1 1-4-2 0-2-1-2-2-2 0 5-2 2-2-2-1 0 0-3 0-2 0 7-1-1 0 0 0-3 0-1-1-2 0 7-1-6 0 3-1-4 0-1 0 1-1-1 0 8-1-1 0 2-1 0 0-2 0 0 0-7 0 1-1 0 0 8-1-4 0 0 0-1 0-3 0 8-1-3 0-1 0-5 0 5-1 0 0-1 0 3-1-4 0-2 0-1 0 9-1-4 0 2-1-2 0 4-1-1 0-3 0 0 0-1 0 0 0-2 0 7-1 0 0-1 0 0 0-3 0 4-1-1 0-3 0-5 0 0 0 7-1 0 0-3-1-2 0 6-1-1 0 0 0-1 0 0 0 0 0 3-1-4 0-1 0-2 0 6-1-4-1-4 0 8-1 1-1 0 0-1-1-2 0-3 0 3-1-2 0 5-1-3 0 0 0-4-1 6-1 0-6 6-2 4 1-7 1 8 1-5 3 0 0 4 1-3 1 3 0-6 2 2 0 1 0 4 1-9 1 7 0 1 0-5 1 1 0 1 0-1 1 0 0 5 0-8 1 1 0 1 0 0 0 2 0 2 0 2 0-7 1 0 0 0 0 0 0 5 0 2 0-7 1 2 0 0 1 3 0-5 1 1 0 1 0 3 0 1 0-6 1 2 0 2 0 0 0 1 0-7 1 0 0 1 0 8 0 0 0 0 0-9 2 2 0 1 0 0 0 6 0-5 1 1 0 3 0-8 2 2 0 3 0 1 1-6 1 4 0 1 0 2 0 2 0-2 1-3 1-4 1 4 0 2 0-6 2 1 0 2 0 6 0 0 1-2 2 2 0-7 2 7 0-9 1 3 2 0 0 6 0-4 1-2 1-2 4 7 0-3 8-5 1 5 0-4 4 2 2 3 12 2 280 1 2-5 1 5 0-2 1-6 3 1 1 4 0-5 1 3 0 2 0 1 0 1 0 0 1-5 1 2 0 0 0 1 0 2 0-8 1 4 0 2 0 0 0 3 0 0 0-3 1 1 0-4 1 1 0 0 0 4 0-6 1 0 0 1 0 3 0 0 0 1 0 0 0 2 0 0 0-6 1-2 1 3 0 0 0 4 0 1 0-8 1 5 0 1 0-5 1 0 0 1 0 5 0 1 0-7 1 3 0 3 0-7 1 3 0 1 0 1 0 0 0 1 0-7 1 0 0 2 0 3 0 2 0 1 0 1 1-9 1 3 0 2 0 3 0 0 0-8 1 0 0 2 0 2 0 1 0 1 0 2 0 0 0-4 1 0 0 3 0 2 0-9 2 4 0 2 0-6 1 2 0 5 0-6 2 5 1 1 1 1 0 0 2-5 1 2 0 4 0-6 1-2 110 8 1-1 5-6 191 2 0-3 1 4 2 4 0-5 1-4 5 9 7-2 1-3 1-4 6 1 8 7 1-3 2 3 7 0 4 1 5-7 4-1 5 1 1-2 1 3 5-3 2 9 7-4 2-1 2-4 6 7 2-5 8 4 0-1 3 0 1 3 2-5 4 5 0 1 4-3 3-4 1 1 6 2 0-2 1 2 6 3 0-1 3-3 8-1 3 3 2-1 1-1 6-3 1 8 2 0 2-3 4 2 2-8 5 9 4-7 1 4 1 2 1 0 1-7 3 3 0 5 227-2 15-4 7 2 3 0 5 0 2 4 10-5 2 1 5 1 4-1 32 2 4 0 4-3 3-1 14-2 3 2 1-1 1-2 1 3 1 1 0 3 0-7 1 4 0 1 2 3 0 1 0-1 1 1 0-9 1 9 0-6 1 3 2 3 1-2 1 11 3-1-1-5-1 5-1-2 0-3 0 5-1-2 0-3-1-1 0 8-1 0 0-5 0-3 0 4-1-1 0-1 0-1 0 5-1-3 0-2 0 3-1-3 0 4-2 0 0-4 0 0 0-2-1 3-2 1-34-2-44 7-5-8-9 7-8-2-8-3-18 0-210 0-2-1-1-1-1 5-1 2-1-3-7-3-4 1-6 0-1 4-1 1-8-2-2-3-1 6-5-8-1 0-3 4-2-3 0 3-6-5-3 2-3 3-7 4-8-5 0-2-1 4-4 2-3-1-4 1-4-7-4 0-3 5-1-2-6 5-4 0 0-5-6 5-8-5 0 0-1-1-1-1-9 7-4-2-4 0-5 1-2-6-3-1-7 0-5 1-18 1-195-2-100 3-13-2-6 4-2 2-2-5 0-2 0 3-1-3 0 1-1 6-1-1 0-4-1 3-2-1 0-5 0 7-3-5 0-2 0 6-1-2 0-4 0 6-1-1 0 0 0-1 0 5-1-3-1-3 0-2 0 8-1-4 0-5 0 0 0 0 0 4-1-2 0-2 0 0-1 7-1-3 0-2 0-1 0 0 0 2-1-1 0-1-1 7-1 0 0-1 0-1 0-2 0 0 0-1 0 0 0-1 0-1 0 0 0 0 0 7-1-3 0-2 0-2 0 7-1-5 0 6-1-2 0-3 0 5-1-1 0-1 0-7 0 4-1-3 0 8-2-6 0-3 0 8-1-2 0-5-6 2-285 6-6-7-4-2-2 7-2-4-1-1-1-1 0 7-3-4 0-1 0 4-1-1 0 0 0-1 0 0-1 0-2-5 0 0-2 6-1 3-1-9 0 0-1 2-1 7-2-9 0 5-1-4 0 1-1 7-1-6-1 0 0 0-3-1 0-1 0 8-1-2 0-1 0-1 0-2 0 5-1-1 0-4 0-1 0 6-1-3 0 0 0-1 0-4 0 7-1-3 0 5-1-4 0-1 0 0 0-2 0-1 0-1 0 0 0 8-1-3 0 3-1-7 0 6-1-1-1-3 0-2 0 8-1 0 0 0 0-3 0 0 0-3 0 0 0 6-1-1 0-1 0-2 0-2 0-1 0 0 0 7-1-1 0-1 0-3 0-1 0 0 0-1 0-2 0 7-1-4 0-3 0 9-1-4 0 4-1-1 0-7 0 5-1 0 0-2 0 0 0-3 0 7-1-2 0-1 0-2 0-2 0-1 0 0 0 9-1-1 0-3 0-3 0 7-1-3 0 0 0-1 0-1 0 0 0-1 0 0 0 6-1-2 0-2 0 0 0 4-1 2-1 2 0 0 0 1 0 2 0-6 1 2 0 4 0 1 0-6 1 1 0 2 0 3 0 1 0-8 2 6 0-4 2 1 0 1 0 1 0 2 0 2 0-8 1 1 0 3 0 3 0 1 0-3 1 3 0 0 0-2 1 0 0-6 1 1 0 0 0 3 0 0 0-1 1 1 0-4 1 4 0 2 0 0 0-7 1 7 0 1 0-8 1 2 0 5 0 0 0 2 0 0 0-8 2 6 0-4 1 5 0-6 1 0 0 3 0 4 1-6 1 4 0 1 0 1 0 0 0-6 1-2 1 4 1 0 0 1 0-6 1 3 0 0 0 4 0-6 1 3 0 1 0 2 0 0 0 0 1-1 1-2 1 3 0 1 0-5 1 1 0 1 0 2 0-3 1 1 1 1 0-5 1 6 0 2 0-9 1 4 0 4 1-5 2 4 0-6 1 0 0 1 0 3 0-4 1 2 0 4 2 0 1-4 1 0 1 4 0-5 1 5 1-3 1 0 0 4 0-6 4 3 1 1 0 1 1-6 4 2 1 3 0-1 2 0 0 2 1 1 0 1 0-2 1-1 2-3 282 1 1-1 3 0 1 3 1-5 1 2 1 3 0 1 0-2 2-4 1 2 0 1 0 1 0-3 2 0 0 3 0-1 1 3 0 1 0-3 1 0 1 3 1 0 0-4 1-4 2 1 1 1 0 4 0 1 0-7 1 1 0 7 0-1 1-4 2 2 0 4 0-8 1 1 1 7 0-2 1-2 2 2 3-5 1 7 2-4 2-5 6 4 15 0 3 1 2 1 3-4 8 3 4 1 1-5 3 4 10-2 3 6 7-5 16-2 1 1 9 6 4-5 5-1 6-1 38-1 178 5 13 0 9 1 0-2 5 1 1-4 8 6 8 0 12-7 5 2 11 4 2-3 3 0 4 1 3 1 1-1 16 2 4-3 4 0 5 4 5 1 3-6 4 0 6 0 0 3 14-1 1 3 3-4 2 3 2 0 2 1 0-8 1 0 9 8 0-6 1-2 4 6 0-4 1 4 1 2 1-2 1-1 1 1 1 0 2 1 2-2 222-5 16 6 27-5 25 4 1 0 5 0 6 1 9 3 0-9 14 3 6-2 1 3 0 0 0-4 2 2 0 1 0 3 1-6 1 0 0 2 0-2 1 4 0 3 0 0 1 0 1-6 1 0 1 1 0 3 0 3 0-3 1 0 0-1 1 3 0 1 0 1 0-1 4 1 0 9 3-8 0 5-1 3-1-3 0-4 0 8-1-3 0 0 0-2 0-1 0 4-1-4 0 3-1 1-1-2 0-5 0 7-1-1 0-4 0 0 0 7-1-5 0 0 0 5-1-8-1 1-1 4-11 0-20-4-14 6-5-4-6-1-5-2-4 7-15-1-4-4-2 3-18 0-15 0-217-3-1 5-2-1 0-6-1 6-1-5 0 7-1 0 0-3 0-1-1 0-4-4-4 4-12 2-1-2-5-1-10 0-13-2 0 0-23 5-6-3-2 5-2-4-2-2-11 0-8 1-3-1-1 0-3-2-8-1 0 6-3 2-4-3-2 1-2 0-8-6-8 9-5-9-4 6-7-6-5 7-254-6 0 8-4 0-8-2-4-6-1 4-5 1-3-6 0 9-4-3-1-1-1-5-18 4-10 5-1 0-3-4 0 2-1-2 0-4 0 1-2 0-1 1-2-1-3 1-1 4-6-5 0-2 0 0-1 7-1-6-2 8-1-1-1-6 0-1-2 6-3-5 0 1-1 0 0 5-2-2 0-4-1 0 0-1 0 8-1-6 0 0-2 1-1-4 0 8-1-5-1 2-1-3 0 0-7 7-278-2-2 1-3 0-2 0 0-1 0-2-1 0 0 3-2-7 0 7-2-1 0-7 0 9-1-1 0 0-1-5 0-1 0 7-1-2-1-1 0 0-1-1 0-5-1 1-1-1 0 6-1-5 0 8-1-1 0-6-1-2 0 7-2 1-3-1 0-4-3 5-1-5-1 3-1-2 0-1 0 3-1 3-1-8 0 0 0 7-2-1 0-5 0 7-1-2 0-2 0-5-1 8-1-1-1-3 0-2 0-1 0 7-1-5 0 3-1-2 0-1 0 4-1-1-1-5 0 0-1 3-1-1 0-2 0 0 0 8-3 0 0-2 0-1 0-1 0-4 0 2-1 3-1-3 0-2 0 8-1-2 0-2 0 1-1 0 0 2-1-2 0-1 0 3-1-8 0 9-1-3 0 3-1-1 0 0 0-5 0-2 0 4-1-1 0 0 0 4-1-4 0-1 0-2 0 6-1-6 0-1 0 1-1-1 0 9-1 0-1 0 0-6 0 0 0-1 0 5-1-2 0-1 0-1 0-2 0 3-1-1 0 5-1-3 0-3 0-1 0 6-1-3 0-1 0-1 0-2 0 5-1-1 0-2 0 0 0-2 0 5-1 0 0-3 0 0 0 1-1-3 0 0 0 3-2-1 0-1 0 9 9 0 1 0 0 0 0 2 1-2 1 0 2 2 1 1 1-3 1 3 0-2 1 0 2 0 1 3 0-3 1 2 0-1 1 1 1 2 0-5 1 2 0 0 0 1 0-3 1 1 0 2 0 1 0 5 0-9 2 2 0 2 0-3 1 0 1 4 1 2 0-6 1 3 0-4 1 1 1 0 1 4 1-5 1 0 0 8 0-2 1 1 0 0 0-4 1 2 0 0 3-4 2 2 1 5 0-7 2 8 1-2 2-5 1-1 1-1 1 2 1 1 0 5 0-1 1 2 0-6 1 5 1-6 1 7 1-8 1 1 0-1 3 5 3 2 1 0 0-5 1-3 1 5 1 3 0-6 1 2 0 5 0-6 1 3 0 0 1 3 0-3 1-3 1 1 2 3 1-2 1 0 0 2 4-7 294 4 14 2 2-5 1 3 0 4 0-1 2 2 0-2 7 2 2-7 1 3 0 3 3-6 2 5 1-7 3 3 1 5 3-6 6 7 0-8 1 4 2-5 3 7 0-3 6 2 0 1 1 0 1-1 15 3 5-3 277-3 16-3 6 6 8 2 2-2 11 2 2 1 18-7 4 1 5 2 2-5 15 7 7 0 14 0 13 2 5-2 5-3 1 4 0-3 5 4 1-9 1 9 1-9 1 6 2-4 6-1 1 6 0 2 1-2 1 1 0-2 2-2 234 1 6-4 9 0 5 4 1-5 16 0 32 4 10-3 22 2 0-3 2 3 0 3 0-4 1 3 0 2 0-6 1 0 0 8 0-9 1 7 0-7 1 6 0 2 1-2 1 1 0 0 0 1 0 8 7-1-1-1 0 4-1-8 0 7-1-1 0-1 0-4 0 5-2 0 0-3 0 5-1-2 0 0 0-4 0 1-1-1 0-1-1 6-1-7 0 0-1 1-1 6-1-5-1 4-3-4 0 2-2-2-10-2-1 4-1 2-13 3-17-3-16 3-269-4-2 2-1-2 0-1-2-2-2 5-2-2 0 4-1-2 0 1-1 0 0 0 0 0-1 1-5-4-2 4-16-7-1 1-2-1 0-2-11 1-16 7-11-7-9 7-1-2 0 0-2 3-2-2-4-1 0-3-4 2-7 3-23-1-11 0-9-2-248 4-5-7-1 3-17 1-3-6-6 7-3-6-1 6-3 1-6-3 0 1-1-1-1-2 0-3-2 3-2 3-1-1-1-2-1 3-3 2-1 1-2-6-1 3-1-2-2-1 0-3 0 1-2 7-1 1-1-9-1 8-3-1-1-1 0 2-1-3-1 3-1 0 0-4 0 1-3 1-1-4 0 7-2-6 0-3 0 7-1 1-1-2 0 1-1-5 0-1-2 0-1 3-1-1-1 2-5-5-1 4-4-3-3 6-1-3-2 3-1-7 0 3-303 0-4-3 0 5-2-2-1-1 0 6-2-5 0 6-1-3-3 1-2-1 0 1-2-3-1-3 0 3-1 0-1 1-1 3-1 0-2 0-1-2 0-3 0-1 0-1 0 7-3-4-1 0 0-3-1 6-2 0 0-2 0-2-1-3-2 0 0 4-1 5-1-9-1 2-2-2-1 9-1-8 0-1 0 5-1 3-1-5-1 5-1-5-1-2-2 6-2-3 0 1-1-1-2 1-1-4 0 1-1 0-5-2-4 10 17 1 0-1 2 0 0 1 1 1 2 0 2-1 2 3 0 3 3-2 2-4 1 6 0 2 2-1 6 1 0-5 1-1 1 3 2-6 1 4 0 5 0-4 3-2 2 2 3 0 6 1 1 0 2 1 1-7 1 2 6-2 5 2 0 7 3-3 8-6 301 8 0-7 1 6 0-1 1-1 1 2 0 2 0-8 1 6 2-5 1 0 2 0 2 0 1 4 1-5 1 5 0-3 2 3 4-1 1-5 3 5 1 2 0-3 1 2 0-3 1-3 1 2 2 6 0-5 2 2 0-5 1 4 2 0 0 1 0-1 1 0 0 0 0 1 0 4 1-1 2 0 1-6 1 2 0 1 0 1 0-1 1 4 1-6 1 3 0 2 0-4 1 0 1 4 0-6 1 7 1-7 2 3 1-1 6 5 2-6 2-3 5 4 3 3 3-7 15 6 1 2 4-6 10 4 259-1 6-4 22 5 4-4 1 0 8-1 7 7 13-8 3 5 0 1 0 2 5 0 3-6 5 7 0-4 2 4 1 0 4-4 9 0 10 0 2-5 2 5 0-4 2 8 0-1 4-6 2 6 1-4 1 0 0-2 3-1 1 3 0-4 1 4 0-4 1 9 4-9 251 2 1-1 7 8 6 0 10-5 12 5 10-2 26-7 5 0 2 3 2 3 3-6 1 0 0 2 1 0 1 1 0 0 0-3 1 7 0-4 1 2 0 0 0 0 0-2 1-1 1 5 0-7 1 1 0 7 3 1 0 7 3-3-1 6-1-2 0-1-1-1 0-4 0 8-2-2 0-1 0-1 0 0 0-2 0-3 0 2-1 7-1-3 0-1-2 1-2-4 0-2 0 0 0 8-14-1-14-3-15 1-15-3 0 7-12-1-264-2-2-2 0-2-1 3-2 4-3-5-2-2-2 0 0 7-1 0 0-1-1-4-4-4 0 1-3 0-2 5-4-1 0-4-2 4-4-1-3 3-20 2-9-2-13-3-4-2-8 1-14-2 0 3-11-3-276 5-2-1-1 0-9 0-1-1 0 4-4-1-4 2-6-1-6 1-1-1-3-3 0-2-1 5-1-7 0-1 0 4-1-2 0-1-4 2-1-2 0 1-1 7-1-1 0-4 0 4-2-6-1 5-2-5 0-2 0 6-1 2-1-7 0 5-1-3-1 6-2-1 0-1 0-2-1 4-1-5-1 1-1-2-1 6-1-8 0 0-2 5-1-3-1 4-1-6-1 3-3 2-1-2 0 4-1-1-1-1 0-5 0 1-1-1 0 3-1-4 0 9-1-1 0-2 0 3-1-4 0-1 0 0-3 1-3-3-1-1 0 0 0 2-3 3-1-2 0 0-2-4 0 3-300 0 0 6-1-2 0-6-1 3-2-1-7 0-2-1-8 3-1-2 0 2-1-2 0 4-3 2-2-1-5-4-1-4 0 8-1-6-4 0-1 5-2 0 0 2-6-9-1 2-4-2 0 0-5 1-2 0-1 0 0 12 27 2 3-2 1-3 7 3 2-3 5 7 11-3 5-3 12 6 4 2 1-9 289 4 1-4 1 7 1-4 2 5 5-8 1 6 0 3 2-9 1 3 2 4 0-4 1-1 3 2 0 1 0-2 2 5 1-4 1 1 0 2 0 0 0-4 1 0 0 4 0-5 1 3 0 3 0-6 1 3 0-3 1 1 0 4 0 1 0-7 1 8 0 0 1-6 1 5 1-4 2 1 0 0 0 1 0-5 1 2 0 3 0-5 1 1 1 1 0 2 1 1 0-6 1 4 1 2 0-6 1 1 0 8 0 0 0-4 1 2 0 0 0-7 1 4 0 2 0-3 1-3 1 2 0 1 0-1 1 7 0 0 1-5 1 4 0-6 1 1 1 3 0-6 2 4 0-3 2 2 0 0 1 1 0 2 0 1 4 1 0-6 3 2 0-4 1 3 0 6 0-1 1-1 1 0 5-7 3 0 3 1 1 4 1 2 0-2 9 3 10-6 282 0 0 0 21 7 2-3 3-5 18 1 4 2 0 4 1-5 2 4 5 1 0 1 4-7 6 6 0 1 5 0 4-7 2-2 6 3 0 4 5-6 2 6 3-2 1 0 1 0 1 1 0-6 1 2 1 6 1-6 1 2 0 3 0 0 0 2 0-3 2 2 0 0 1-6 270 3 16-1 5 3 21 2 15-1 5-6 1 1 0-3 2 3 0 3 1-5 1 2 0-1 1 2 0 2 0 1 0-6 1 6 0-7 1 4 0 4 0-5 1 1 0 1 0-5 1 0 0 1 0 4 0 0 0-1 1 2 0-4 1 5 3-3 2 12 1 0 0-6-1 8-1-4 0-3 0 3-3-2 0 1-1-3 0 4-1 0 0-2 0-1 0 5-1-1 0-1 0 4-1-6-1 0 0-2 0 5-1-1-1-2 0-1-1 8-1-9 0 8-2-2-30 3-5-4 0-5 0 9-295-2-3 0 0-6 0 1-2-2 0 8-1-8 0 7-2-3 0-1 0-3 0 3-1 4-2-2 0-5 0 7-1-6-1 7-1-8-1 7-4-7-2 6-6-3-9 2-13-3-2 5-8-5-12 7-7-4-2-5-11 7-3 0-276 1-7-4-3-4-7 9-1-3-4-3-3 5-1-2-14 0 0 3-2 0-1-2 0 0-1-2 0 0-1 2-1 1-1-2-1 2-1-1-5 0-1-2 0 0-1 2-1-1 0 0 0-1 0 2-1-3 0-2 0 2-1-2 0 3-1 4-2-4 0-4 0 8-1-6 0 6-1-6 0-2 0 7-1-2 0-2 0-1-1 4-1-3 0 0 0 4-2 0 0-6 0-1 0-1 0 8-1-4 0 0 0-2 0 7-2-1-1-8-1 6-2 3-1-1 0-5-1 0-1 4-1 0-1 2-1 0 0-7-2 0 0 7-2-7 0 2-2-2 0 7-2-7-2 3-1 0 0-1-1 4-1-4 0-3-1 3-1-1-1 0-1 2-1-5-298 13 309-3 1 4 2-4 1 2 1 4 2-2 2 0 0 0 0-2 1 3 0 0 1-4 1 1 1 3 0-5 1 2 1-1 1-1 1 2 1-2 1 5 0-3 1 4 1-4 1 0 0 5 0 0 1 0 0-7 1 2 0 5 0 2 0-2 2 2 0-6 1 5 0-3 1-1 1-4 1 1 0 0 0 1 0-2 1 8 0-4 1-4 1 9 0-4 1 1 0 2 1 1 0-6 2 1 0 3 0 0 1 1 0 1 1-9 1 1 0 1 0 6 0-1 1 2 0-5 1 5 0-2 2 2 1-4 2 2 0 1 0-7 1 5 0 0 1-3 1 0 1-3 1 8 0 0 1-8 2 1 1 3 2 4 1 1 2-3 1-3 4 0 6 2 4 1 2-4 2 3 3 4 0-4 2-5 1 7 0-4 2 0 1 0 2 3 4 2 2-6 278 1 2-3 5 6 6-4 19 6 4-7 3 5 8-1 6-5 3 9 0-8 1 4 1-1 4-4 2 2 2 7 5-9 2 8 0-2 1-3 1-2 2 3 0-4 1 6 0-3 1 3 0 3 2 0 0-3 1 3 0-8 1 2 0 1 0 4 0 1 0-8 1 0 0 0 1 6 0 0 0-2 2 2 0 1 0 1 0-1 1 0 308-8 2 5 13-3 4 3 0-1 3-4 2 0 3 1 0-1 1 3 0 1 0 5 1-1 1-5 1 1 0-1 1-1 1 0 0 2 0 4 0-1 1-7 1 3 0 2 0-3 1 2 0 0 0 3 0 1 0 0 0-2 2 3 2 9 5-5-2-2-2 6-1 1-1 1-1-5 0-2 0-2 0 8-1-4 0 4-1 0 0 0-1-1 0-4 0 5-1-2 0-4 0-2 0 7-1-3 0-2-1 0-2 3-335 3-1-1 0 0 0-6 0 4-1 0 0-4-1 3-1-2 0 2-1-2 0-1 0 8-1 0-2-1 0-7-1-1 0 4-2-4 0 5-2 0-3 0-19 3-4-7-11 6-4 0-8-5-4 2-12 2-281 3-12-9-1 3-9 3-9 0-3-1 0-5-2 3-1 4-1-6-1 1-1 4-3-3 0-3 0 8-1 1-2-2-1 1-1-2 0-2 0-3 0 3-1-2 0 7-1 0 0-8-1 3-3-1 0-1-2-2 0 9-3 0 0-5-1-2 0 1-1 2-1-5 0 9-1-6 0 5-1-2 0-1 0-3 0 0 0 3-2-2 0-1-1 4-1 0 0-3 0 4-3-6 0 4-2-2-1-3 0 2-2-1-1 3-1-4 0 2-1 0-1 4-1-6 0 5-1-1 0-2-5-2-2 8-3-7 0 11 11 7 4-4 6 4 0-1 2-3 1 3 1-7 1 1 0 5 1 0 1-6 1 0 0 0 1 1 0 1 0 3 2-5 1 0 0 8 0-3 3-5 1 2 0 1 0 1 0 0 0 1 0-4 2 0 0 5 0-7 1 8 0-6 2 4 0 1 0 0 1 1 0-5 1 3 0 0 0 1 1 2 0-9 2 1 0 2 5 1 1 5 1-3 1-6 1 0 0 1 0 3 0 3 0 0 0 0 1 0 0 2 0-3 1 1 0-1 1-6 1 4 0 2 0-2 4 5 1-5 1 1 3 0 2 0 1-1 2 2 0 1 0 0 2 0 2 0 2 2 3-3 1 3 0-6 1-2 5-1 6 2 295 3 3 0 9 4 22-5 5-4 10 3 1 0 1 1 0-2 2 3 0 1 0-6 3 5 0-1 1-2 2 7 1 0 0-4 1 4 0-6 1 2 1 2 0-3 1 5 0-1 317-8 19 3 0 3 0-3 3-2 1 8 0-6 1 1 1 4 0-2 1-2 1 2 0 1 0-1 2 3 1-4 1 4 0 6 1-4-1 7-1-2 0 1-1-5 0-1 0 2-1-1 0 7-1-1-1-1 0 0 0-1 0-2-1 2-2-1 0-4 0 0 0 8-1-7 0 7-333 0-1 0 0-2 0-1 0 1-1 2-1-4 0-2 0-2 0 8-1-8 0-1 0 9-1-1 0-7-1 8-1 0 0-2 0-1 0-6-1 5-1-1 0-1 0 0 0-1 0 2-1 1-1-2 0-1-1-1-1 8-3-6-1-1-6-1-7 3-12-3-5 4-6 2-311-1-1 2-3-3-2-2 0 2-1 3-1 0 0-3 0 4-3-2-1-3 0 3-1 0-1-3 0 5-2 0-1 0 0-1-1-8 0 4-3 5-1-3-1 0 0-5-1 2-1-1-1 6-1-4 0-1-3 5-1-4-3 1-1-3-1-2-1 0 0 8-2-3-1 4-4-8-2-1-3 8-1-4-2-3 0 4-1-2 0 2-1 4-2-9-4 6-2 2-1-1 0-3-4-3 0 1-3 2-4-1-1 7 8 1 7 2 6-1 1 5 0-6 1 0 4-1 10 9 1-6 4 2 4 0 0-5 1 8 4-7 1 4 0 1 1-4 1 5 3 0 0-4 1-1 4 1 1-3 2 1 1 6 1 0 0-4 2 1 0 1 0-1 4 1 4 3 0-3 2-3 4 3 0 0 0-4 6 8 302-7 12 0 7-2 9 4 0-4 5 1 2 5 0-6 2 4 0 0 0 4 0-2 1 2 1-2 1-6 1 0 0 2 0 2 0 1 1 0 0 4 0-6 1 5 0-2 2 1 0-6 1 6 0-6 1 0 0 5 0 3 0 0 0-5 1 2 0-4 1 4 1 0 0 2 0-2 337-5 1 6 0-7 1 0 1 5 0-4 1 2 0 2 0 1 0-3 1 4 0-7 1 5 1 3 0 0 1 0 0 6 6-3 0 8-1-1 0-5-2-1 0 7-1-2 0 0 0-4 0 5-1-2 0-2 0 1-1 0 0-1 0-1 0-1 0 7-1-6 0-2 0 2-1-1 0-1 0 8-1-5 0-4 0 4-1-1-2-1-1 0 0-1-1 5-333-1 0 2-1-1 0-1 0 0-1-3 0 5-1-2-1 0 0-2 0 6-1-3 0 0 0-2-1-1 0-1 0 4-1-1 0-2 0-2 0-1 0 2-4 5-1-1 0 0 0-2 0-1 0-2-3 4-2-3 0 0-14 0-3-1-4 4-5-4-310 3-8-1-2 5-4-8-4 4-1 4-2 0-1-3-1-5-1 2-1 2-1 0-2-1 0 1-3-1 0-2-3-1 0 0 0 8-1-5-1-2 0 0-3-1-2 7-2-2-4 2-4-4 0-3-1 4-7-4-4 12 25 3 7 0 3 4 3-1 2-5 7 0 5 6 1-7 7 1 1-1 3 7 0 0 2-9 3 7 3-6 325 0 0 5 3-5 5 2 0 1 0 4 0-3 1-5 1 4 0 3 1 0 0-7 2 3 0 1 0 0 2 1 0 2 0-6 1 3 0 1 0 1 1 0 0 1 0-7 2 0 0 5 0 0 0 4 0 0 1-6 1 2 0-2 1 1 0 3 0 1 2 1 0-2 334 2 0-7 1 5 1-7 1 9 0-6 1 4 0-7 1 1 0 0 0 7 0 1 0-4 1 0 0-1 1 1 0 2 0 1 0 0 0 1 0-5 1 3 0 2 0-4 1-2 3 5 3 9 2-5 0 6-2 1-1-8 0 6-1 2-1-4 0-4-1-1-2 7-1-3 0-2 0 0 0-1 0 5-1-3 0 4-1-5 0-1 0 6-1-3 0-2 0 5-337-1 0 0 0-1 0 0 0-1 0 1-1 0 0-2 0-2 0 5-1 0 0-4 0 0 0 7-1-1 0-6 0-2 0 9-1 0 0 0-2-1 0-3 0-5 0 0 0 4-1-3 0 7-1 0-2-5 0 5-3-2-1-1 0-4-1-1-339 4-15-1-1 0-24-1-1 14 381-3 2-2 2 3 0-4 2 3 0-2 1 4 0-4 1 6 0-1 2-5 1 3 0-2 1 0 0-1 1 0 0 5 0 1 1-6 1 6 0 2 0 0 0-7 1 2 0 4 2 0 0 0 1-4 335-2 1 3 0 2 0-6 1 0 1 5 0 3 0-5 1 2 0 2 0 1 0 0 3-3 1 1 1 2 0-3 1 3 0-5 1 2 0-6 1 8 0 1 0 7 3-1-1 0 0 4-1-6-1-1-1 0 0 7-1-2 0 0 0-1 0 0 0-3 0-2 0 0-1 8-1-3 0-6 0 2-1 4-1-1 0 0-338-1 0 1-1-1 0 2-1 1-1-4 0 0 0-1 0 3-1-1-1 1-1-3-1 4-1-4 0 1-1 1-2-1-2-2-3 10 2-1 2 5 1 1 0-4 2 5 3-7 1 5 0 0 2-5 1 6 0-2 1 4 0-7 1 6 0 0 0-7 2 4 0-1 1 3 0 3 1-8 336 0 0 2 0 3 0-5 1-1 2 2 0 1 0 1 0 3 0-4 1-1 1 0 1 1 0-3 1 3 0 5 0-2 1 0 1 1 6 11 0 0 0 1-1-4-2 1-1-3 0 5-1-1 0-3-1-2 0 0 0 3-1 1-1-4 0 0 0 0-1 7-1-1 0-4 0 0 0-1 0-2 0 4-1-4-2 6-335-3-1 3-6-3 0-4-1 9-1-1-1-7-6 14 9-5 3 5 0-1 1-1 6 6 335-1 1-2 1-6 2 4 0 0 1-2 1 5 0-7 2 2 0 4 1-1 1-3 3 207 6-1 0-2 0 2-1-1 0 0 0 0 0-5 0 7-1 0 0-1 0-1 0-5 0 7-1-1 0 0 0-1-2-1 0 2-339-3 0-2 0 4-1 1-2 1-340-1-1 1-341 0-1 0-1 3-6-1 3 0 1 7 0-7 1 0 0 5 0 0 0 2 0 0 0 0 0 0 0 0 0 1 0 0 0-9 1 0 0 1 0 1 0 1 0 3 0 3 0 0 0 0 0-6 1 1 0 1 0 2 0 1 0 1 0-9 1 1 0 0 0 0 0 1 0 4 0 0 0 2 0-3 1-1 338 0 0 3 0 1 0 0 0 1 0-9 1 1 0 8 0-8 1 0 0 1 0 1 0 2 0 2 0 0 0 0 0 1 0 0 0 0 0-8 1 1 0 2 0 1 0 1 0 0 0 0 0 1 0 2 0 0 0 0 0 0 0 0 0 1 0 0 0-9 1 1 0 1 0 2 0 1 0 0 0 1 0 0 0 0 0 1 0 0 0 0 0 0 0 1 0 0 0 0 0 0 0 0 0 1 0-3 334-1 2-2 1 4 0-4 1 1 0 2 0 1 0 0 0 1 0-7 1 2 0 1 0 2 0 1 0 0 0 1 0-5 1 1 0 0 0 1 0 2 0 0 0-4 1 0 0 1 0 0 0 0 0 1 0 1 0 1 0 0 0 1 0 1 0-9 1 0 0 1 0 0 0 1 0 0 0 2 0 1 0 0 0 1 0 1 0 1 0 0 0 1 0 0 0 0 0-8 1 3 0 1 0 1 0 1 0 0 0 2 0 0 0-9 338 2 0 2 0 0 0-1 1 0 0 2 0 1 0 0 0 0 0 1 0 1 0 1 0-9 1 2 0 1 0 1 0 1 0 0 0 0 0 1 0 1 0 1 0 1 0 0 0-9 1 0 0 1 0 0 0 0 0 0 0 1 0 0 0 1 0 0 0 0 0 1 0 0 0 1 0 0 0 0 0 1 0 0 0 0 0 1 0 0 0 0 0 0 0 0 0 0 0 1 0 0 0 1 0 0 0 0 0-9 1 1 0 0 0 0 0 0 0 1 0 1 0 1 0 0 0 0 0 1 0 0 0 1 0 0 0 0 0 0 0 1 0 1 0 0 0 0 0 1 0-9 1 1 0 0 0 0 0 1 0 0 0 1 0 0 0 2 0 0 0 0 0 2 0 0 0 1 0 0 0 11 0-3 0-1 0 0 0-1 0 0 0 0 0 0 0-1 0-1 0-1 0-1 0 0 0 7-1 0 0 0 0-1 0-1 0-1 0-1 0 0 0 0 0 0 0 0 0-1 0 0 0 0 0-1 0 0 0-1 0 9-1 0 0-1 0 0 0 0 0-1 0-1 0 0 0 0 0-1 0 0 0 0 0-2 0 0 0-1 0-1 0 0 0 0 0-1 0 0 0 0 0 9-1 0 0-2 0-1 0-2 0 0 0-1 0-1 0 0 0-2 0 0 0 8-1-1 0-1 0-3 0-1 0 0 0-1 0 0 0 7-1-7 0 6-1 2-2-9 0 5-1 2-4-4-330 0 0-1 0 0 0 0 0 0 0 7-1 0 0-1 0-2 0-5 0 0 0 0 0-1 0 0 0 6-1-1 0-1 0-1 0 0 0-2 0 0 0-1 0 0 0 6-1-3 0-1 0-1 0 0 0-1 0 0 0 9-1-4 0-3 0-1 0 8-1-1 0-5 0 0 0 6-1-2 0-1 0-2 0-3-2 4-3 2-1-4-1 3-2-4-1 7-2-5-325-2 0 0 0-2 0 8-1-1 0-5 0-1 0-1 0 0 0 0 0 0 0 0 0 9-1-4 0-1 0-1 0-1 0-2 0 0 0 7-1-2 0-4 0-1 0 0 0 0 0 9-1-7 0-1 0 8-1 0 0-2 0-4 0 4-1 0-1-1-1-3-1 3-1 0 0 0 0-2 0 3-1-2 0 0 0 0-1 3-330 0-1 0 0-1 0 0 0 0 0-1 0-1 0 0 0-1 0 0 0-1 0-2 0 8-1 0 0 0 0-1 0-1 0 0 0 0 0-2 0 0 0 0 0-3 0 0 0-1 0 0 0 7-1-2 0 0 0-1 0 0 0-1 0 0 0-1 0-1 0 0 0-1 0 0 0-1 0 0 0 0 0 0 0 9-1-1 0 0 0-1 0-1 0-1 0 0 0-2 0 0 0-3 0 9-1 0 0 0 0-2 0-1 0-5 0 0 0 0 0 8-1-3 0-2 0-4 0 6-1-6 0 19-5-3 1 1 0-1 1 0 0 1 0-5 1 2 0 5 0 0 0 0 0-2 1 0 0-5 1 0 0 1 0 3 0 2 0 1 0-9 1 2 0 0 0 2 0 0 0 1 0 1 0 2 0 1 0 0 0-6 1 3 0 1 0-7 1 2 0 4 0 1 0 2 0-9 1 1 0 0 0 1 0 0 0 0 0 2 0 0 0 0 0 1 0 0 0 1 0 0 0 2 0 1 0 0 0-8 1 0 0 1 0 0 0 2 0 1 0 0 0 3 0-7 1 0 0 0 0 2 0 2 0 0 0 2 0-1 1 3 309-2 3 2 0-2 1-1 2 2 2-2 5-2 1 0 0 2 0-4 1 3 0-3 2 1 0 4 1-1 1-4 1 0 1 2 0 3 0-4 1 2 1 0 0 0 0 2 1-5 1 0 1 1 0 3 0 0 0-5 2 1 0 3 2 4 0-5 1 0 0 1 0-5 1 2 0 2 0 2 0 3 309-7 16 1 0 2 4 3 0 0 1 0 4-8 5 7 0 0 0-7 2 0 1 1 1 1 0 0 0-1 1 3 0 3 0 0 0-4 331 2 2 4 0 0 1-6 2-2 2-1 1 6 0 2 0 0 0-7 1 1 0 3 0 4 0-9 1 0 0 2 0 1 0 0 0 6 0-8 1 0 0 3 0 3 0 0 0 1 0 1 0 6 3 3-2 0 0 1-1-1 0-3 0-1 0-4 0 9-1-2 0-3 0 5-1-4 0-3 0-1 0-1 0 5-1-2 0 0 0 6-1-9-14 6-15 3-307-4-2-4 0 0 0 7-1 1-1-3 0 1-1-4 0-3 0 3-2-1 0-1-1 0-1 8-2-5-2 2-3-3-2 1-1 4-1-7-2 3-1 5-3-6-1 3-1-1 0-4 0 4-1-2-4 3-3-1 0-3-1 7-3-4-305 1-1-6 0 9-1-3 0 3-1 0-2-3 0-3 0 2-2-5 0 3-2 3-1-1 0 3-2-2-1-5 0 1-1 0-1-1 0 1-1 1-1 0 0 5-2-3 0 0 0-2 0-1 0-1 0 7-1-2-1-1 0 3-2-4 0 0 0-1-1-2 0 3-1-1 0 4-1-3 0 5-1-2 0-3 0 3-1 0-1-5 0-1 0 6-1-2 0 0 0-1-1 4-1-1 0 0-1-4 0 3-1-2 0 5-1-9 0 4-1-4 0 4-2 2-6 2-1 1-1-4 0 4-2-1-3-2-291-3 0 6-1-5 0-1 0 0 0-1 0-1 0 0 0-1 0 8-1-1 0 0 0-1 0-1 0-2 0-2 0-1 0 8-1-2 0-4 0-1 0 6-1 0 0 0 0-1 0-5 0 3-1-1 0-3 0 8-1-3 0 0 0-3 0-1 0-1 0 0 0 8-1-4 0-1 0 0 0-1 0-2 0 0 0 9-1-8 0 0 0 5-1-1 0-2 0 6-2-4 0 0 0-4 0-1 0 5-1-5 0 4-1-3 0 7-2-2 0 2-1-1 0-1-1 2-2 1-4 9-9-1 5-5 1 6 0-6 1 1 0 4 2 0 1 0 0-5 1 3 0-5 1 5 0-2 2 1 0 3 0 0 0 2 0-8 1 1 1 0 0 4 0-3 1 1 0-1 1 0 0 0 0 6 0-5 1 2 0 0 0 0 0 3 0-7 1 2 0 0 1 0 0 5 0-4 1-5 1 1 0 0 0 3 0 1 0-5 1 5 0 1 0-5 1 6 0-6 1 8 0-7 1 1 0 0 0 1 0 5 0-8 1 1 0-2 1 1 0 2 0 0 0-2 1 2 0-3 1 0 0 1 0 0 0 0 0 1 0 1 0 2 0 2 278-5 6 4 5-3 1 4 0-4 1 1 0 3 0 0 2 2 0 0 1-2 1-3 1-3 1 6 0-2 1 4 1-7 1 2 0 2 1 2 0-4 1 1 0 3 0-6 1 0 1 6 0-6 3 2 2-2 1 4 1 1 0 1 0 1 0-4 1-2 1 2 0 0 2 4 0-8 1 0 0 6 0 2 0-9 1 5 1 3 0-7 1 6 0 1 0-2 1-1 1 4 1-7 2 0 0 4 0 1 0-3 1 2 1 1 0-5 1 3 1-2 1 4 0 1 0-2 1 3 1-8 1 5 0-4 2 2 0 2 2-1 1 4 0-8 2 7 0 1 0-4 2 0 1 0 0 0 0-4 1 0 0 3 0-2 282 7 5-2 1 1 3 1 1-1 5 1 1-7 2 6 2-7 3 4 4-5 5 0 0 7 3-7 1 2 2-1 1 6 2-7 2 3 13-2 1 5 0 1 0-3 1 3 0 0 0 0 2-3 1 2 0 0 0 3 301 0 7-2 2 1 0 1 6-6 12 0 5 3 1-1 3-1 2 3 1 1 0-5 1 0 0 4 0 1 0 0 0 0 0 0 0-8 1 2 0 1 0 0 0 3 0 3 0 0 0 0 0-6 1 2 0 1 0 0 0 3 0-6 2 1 0 2 0 10-2-4 0 7-1-4 0-3 0-2 0 0 0 0 0 6-1-1 0-1 0-2-1-2-2 5-18 4-3-5-8-4-1 3-2-1-2 7-3-3-1-2 0 3-1 1-5-1-2-6-2 1-8 6-1-2-10 1-269-1-2-5 0 5-1-5 0 4-1-1 0 0 0-3 0 6-1-3 0 0-1 0 0 4-5-2-6 2-1 0-2 0-4-8-3 5-2-3 0-2-1 1-1-1 0 5-3-3-1 5-7-7-6 7-1-6 0 6-1 1-2-4 0-1-1 6-4 0-7-6 0-1-2 7-7-8-4 8-28-2-4 0-236-5 0-1 0 3-1-3-1 7-1-7 0-1 0 9-1-7 0 5-3-6 0-1-1 8-1-6 0 6-1 1-1-6-1 6-1-2 0-6-1 8-2-8-1 3-1-4 0 6-1 0 0-4 0 6-2-4 0 3-2-5 0 4-1-5 0 1-1 3-2-3 0 1-3-3 0 7-1-7-3 1-1 8-2-5 0-2-1-1 0 6-1-1 0-3 0 6-1-9 0 1-2 1-1 4-1-5 0 6-1-4 0 6-1-5 0 1-2-2 0 6-2-8 0 3-2-1 0-2 0 6-1-3 0-3 0-1 0 5-1-2-1 2-1-2 0 1-1-1 0 3-1-3 0 4-1-5 0 3-1 3-1-5 0 4-1-6 0 7-1-2 0-2 0-1-1 6-2-8 0 1-1-2 0 5-1 4-5-3-6 2-9-8-256 4-4-1-1 3-1-2-1-4 0 9-1 0 0-2 0-2 0-1 0 0-2 3-1 0-1 0 0-2-1-1 0-2 0 7-1-1 0-2 0-3 0-2-1 5-1-1 0-4 0 4-1-4 0 8-1-1 0 0 0-6-2 6-1-6 0 6-1-3-1-1 0 5-1-1 0 0 0-7 0-1 0 7-1-3-1 3-2-1 0 2-1-2 0-1-1-2 0 6-2 0-1 0 0-1-1-1-9 7-15 3 11-4 1 0 0-2 1 2 1 2 1 0 1 2 1-1 1 1 0-4 1 2 0 2 0-6 1 5 0-3 1 0 0 2 0-1 1 5 0-8 2-1 1 7 2 1 0-7 1 8 0-7 1 2 0 0 0 1 0 2 0-1 1 2 0-6 1 4 0 3 0-7 1 6 0 1 0-2 1 1 0-7 1-1 1 1 0 2 0-3 1 2 0 5 0 0 0 1 0-2 1-2 1 5 2 0 1-3 1 1 0 1 0 0 0-6 3 6 3-3 1-2 1 3 0-2 4 5 256-8 1 0 1 6 1-2 2-1 2 1 0-3 1 3 3-2 1 4 1-5 1 5 1-6 1 4 0 3 0-3 3-4 2 5 0 2 0-6 1-1 1 1 2 2 2 1 0-4 1 1 0 1 2 1 0-2 1 1 0 1 0-4 2 0 1 2 0 1 1 5 0 0 0-8 1 9 1-9 1 1 0 0 1 6 3-7 4 6 0-4 1 3 0-5 1 8 0-6 1 4 1-4 2 6 1-5 1 2 0 4 1 0 2-1 1 1 0-9 2 4 0 3 0 1 0 0 1-2 3 0 1 1 0 2 0-9 1 1 0 7 1-6 1-2 1 4 0-2 2 3 0 1 1-3 1-2 1 2 1-3 1 6 0-5 1 4 1-1 2-3 1 7 0 0 2-8 1 2 2 2 0 2 1 3 0-9 1 3 0 0 1 3 0 3 0-9 1 3 0 4 0-4 1 1 0 1 0-1 241-2 13 7 2 0 5-7 2 5 2-6 1 4 0-2 1 5 1-4 2-3 2 5 0-3 2 0 4 0 4-1 2 0 2 2 1 4 1-8 1 4 2-2 2 3 0-5 3 7 14-7 1 2 7 5 0 2 2-7 17 3 0 0 3-3 1 1 1 3 0 2 0-4 1 2 0 3 1-8 243 8 10-7 15 3 1 0 8 2 8-4 3 3 2-4 2 5 5-7 5 6 1 3 4-3 3-5 2-1 6 1 5-1 2 4 1 5 1-8 8 1 0-1 2 4 3 0 0 1 0-6 1 3 0 3 0 3 0 0 0-1 1 1 0-2 1 1 0 1 0-7 2 6 0 2 0 5-2-2 0 6-1-3 0-1 0-1 0-3 0 7-1 0 0-1 0-1 0-4 0-1 0-1 0 6-1-5 0 6-1-7 0 4-1 2-1-6-20 6-22-2-5 5-8-6-2 5-4 1-4-4-1 0 0 1-1-6-5 1-5 0-24 7-61 0-173-5 0 4-3-1 0-1 0-5 0 9-1-4 0-5 0 3-1-2 0 5-1 2-4-5-6-1-6 2-5-4-10 4-3 4-1-7-1 0-6 1-2 2-2-4-6 9-1-4 0 0 0-2-4-2-1-1-1 6-1 2-2-2-2-4-3 3-4-2-2-1-1 0-7 0-1 0-2 4-1-4-1 6-1-1-1-5-3-2-3 5-1 3-10 0-4-1-17-1-6-2-2 1-4 1-5-3-196 0 0-3 0 7-1-2 0 1-1 0 0 0-1 2-1-8-1 7-7-3 0 4-1-4-1-3 0 2-2-3 0 5-1-1-1 2-1-1 0 2-2-1-2-2 0 2-1 3-2-1 0-1 0-1-1-4 0-2 0 9-3-7-2 4-8-1 0-4 0 7-1-2-1-5 0 2-2-1 0-1-1 3-1 5-1-8 0 3-1-1 0 2-1-4 0 7-1 1-1-3-1-4 0-1-1 8-2-1 0-5 0-1 0 1-1 5-2-3 0-4 0-1 0 2-2 0 0 0-2 5-1-5 0-1 0 5-1 2-2-5 0 0-1 6-1-2 0-6 0 7-1-7 0 0 0 8-1-6 0 0-2 1-1 2-1-2 0-1 0 6-3-7 0 4-1-2 0 1-3-3 0-1-1 3-1-4 0 3-1 5-1-2 0-6 0 1-4 1-1 4-1-6 0 7-1-5-4 6-2-1-18 1-38-7-102 5-91-4-1 4-3-5-3 7-2-5-1 1-2 2-1-2-1 1-1-4 0 7-1-4 0-1 0 4-1-4 0-3 0 8-1-6 0-2 0 3-1-3 0 8-1-7-1 8-1-3-1 0 0-2 0 4-1-7-2 6-1 0 0-3 0-4 0 6-1-2-4-3 0 6-1-2 0-4 0 7-1-3 0 0 0-1 0 4-1-2-1-3 0-1 0 0 0 6-1-6 0 6-2-5 0-2 0 7-1 1-1-5-1-3 0 0 0-1 0 4-1 1-3 3-2 0 0-1 0-2 0 3-4-5 0 1-6 1-4 4-2-1-2-2-8 0-6 13-15-2 11-5 3 3 0 0 0-1 2-4 2 2 2 2 1 1 2-4 1 2 2-2 2 7 0 1 2-6 4 6 1-7 1 2 1 1 1 3 0-7 1 0 0 1 1 6 0 0 1 1 0-1 1-7 2 0 1 5 0 3 0-2 2 2 0-3 2-1 1-1 1 3 0-7 1 0 0 3 0 2 1-1 2 2 1-2 1 4 0-8 1 1 0 4 0 3 1-8 2 0 0 5 0 2 1-5 6 2 0 4 0-7 2 3 0 0 3 3 0-1 1-2 2 3 1 2 2-8 1 4 2 3 0-5 1-2 1 4 1-4 3 8 1-9 1 0 12 4 0 3 0-3 98-3 23 0 7 4 11 1 9 1 9-1 14-1 3 4 8 0 45-2 6-6 1 5 2 0 2-1 1 0 1 0 0 0 0 0 0 2 0-1 3 2 0-6 3-2 1 0 0 6 0-1 2-2 3 2 1 2 2 1 0-2 1-2 1 4 0-3 4 2 0-6 1 0 2 4 0 0 0 4 0-9 1 3 0 1 0 1 0-3 1 7 2-3 1 2 2-3 1 4 0-4 2-5 1 6 0-6 1 0 1 4 5-4 2 5 2 2 0-1 3-3 1 1 0-1 1 3 4 1 0-5 4-1 1 5 0 3 0-7 2 0 1 3 0-4 1 8 0-1 1-6 2 3 4-5 2 1 0 5 1-3 5-3 2 6 0-4 1 1 1 1 2-1 1-3 4 1 2 0 4-1 3 8 165-8 9 4 16-3 10 6 2-6 7 1 3 4 0-1 3-4 10 8 8-3 4 3 1-5 4 4 3-7 7 3 7 1 0-4 4-1 7 3 8 1 0 2 0 0 1 3 0-2 2-7 3 1 0 4 1 4 4-2 2-4 4-1 5 5 1 0 1-1 1-1 2-4 33 4 3 0 1 2 0 1 0-5 1 1 0 3 0 1 0-1 1 2 0-5 1 5 1-1 155-3 21-1 6-3 5 0 5 8 22-4 4 3 0-7 13 3 3 5 6-2 10-3 4 0 5-2 2 4 5 1 3 0 6 1 2-4 2 3 5-3 2-1 10-3 13 2 4 4 14 1 9-1 1 2 0 1 0-9 1 1 0 1 0-2 1 2 0 1 0 0 0 1 0 2 0 1 0 2 0-9 1 3 0 4 0 1 0-8 1 4 0 2 2 1 0 5 0 5-2-1 0-6 0 8-1-1 0-1 0-1 0-1 0-3 0-1 0 8-1-5 0 0 0-2 0 2-1 6-1-2 0-2-4 4-6-7-16 2-4 2-7-4-2 6-9-3-4 1-15-1-7-3-3 3-6-5-8 8-5-7-2 5-10 0-3-1-6 0-34-3-48 4-140-5 0 4-1-4 0 8-1-1 0-3 0-1 0-1 0 5-1-5 0 1-1-3-1 2-1-1-4 6-9 1-6-2-6 0-7-6 0 3-3 1-7 4-1-4-2-5-2 5-1-5-2 9-9-6 0-1-7-1 0 5-6-2-1 1-2 3-1-3-1 2-2-2-9 4-2-7 0 6-1 0-11 1-2-3-4-4-1 6-1-5 0 0-13 3-4 1-3-6-10-1-5 6-9-6-8 6-7-2-21 2-54-1-93-1 0-2 0 2-4-3-6 1-4 3-2-2-2 3-2-2-4 0-1-1 0-3 0 3-4-3-1 3-1-3 0 7-1-6 0 7-1-2-1-4-1 4-1 0-1 1-2-1 0-3 0-1 0 6-4-8-3 0-2 3-1 3-2 2-1-7 0-1-4 3-2 3-1-4 0 3-1-4-1 0 0-1 0 8-5 0 0-7-2-1-1 0-1 3-2-1 0 4-2-3-4-2 0 0-1 8-1-7 0 1-4 0-1 0-8 4-3-1 0 3-1-4 0-5-1 4-2 2-2 2-3-1-2-2 0 0 0-2-2 0-2-2 0 7-4-3-8 3-2-1-8-7 0 9-3-4-4-2-9 5-4-7-14 4-10 4-9 0-2-6-26 5-12-4-114 2-5-1-4-3-14 2-2-4-2 6-6-3-2-2-1-1-1 6-1 3-4-3 0-5 0 4-2-2 0 1-1 1-2-2-1-1 0 5-1-5 0 3-2-1 0 3-1-2 0-4 0 8-1-1 0-5 0 6-2-1 0-1 0-5 0 7-1-3-2-4 0 2-2-3-1 8-1-8 0-1 0 8-1-2-3 3-2-9 0 6-1-1 0-1 0-3 0 8-1-5 0-1-1 6-1-3-1 0 0 3-4-3 0-5 0 3-3-1-2-1 0 3-1 4-1-5-6 3-5-1-1-6 0 7-3 0-1-5 0 0 0 7-1-1 0-8-2 4-12-4 0 17-26 0 5 2 13-9 5 7 1-3 3 3 0 1 1 0 0-1 2 0 5-7 2 2 0 3 0 0 2-3 1 1 2 6 3-6 2 5 0-8 1 4 1 2 2 3 0-8 1 4 2 2 1 0 4-3 1-1 1 4 0-6 1 5 0-6 1 3 0 6 2 0 1-8 1 1 0 7 0-8 2 1 0 7 0-6 2 6 2-4 1 0 1-1 2 2 1 2 0 0 1-6 2 2 0-3 1 2 0 3 0 0 0 0 2 0 2-2 3-4 1 0 0 3 0-2 2 8 0-2 1-4 1 4 0-7 1 4 2-1 1-3 2 2 0 1 0 3 0 3 0-2 3-1 2-3 2-3 7 6 1-6 1 2 2 1 0-1 3 7 6-7 2 1 5 0 3 1 4 5 0 0 103-1 11-7 22 2 1 4 0-7 7 1 4 7 23-1 7-5 11 4 3 1 3-6 6 1 2 7 3-8 4 5 0-1 2 0 0-3 4 4 2-4 2 5 2 1 3-3 4-2 4-2 8 7 1-5 1 6 1-8 3 8 0-9 2 2 0 2 2 2 6 2 0-1 1-4 1 5 0-2 3 3 0-9 4 4 0 4 1-1 3-4 2 4 0 0 2-5 3-2 3 0 0 5 1 4 1 0 5-3 1-1 3-3 2-2 4 8 7-8 9 9 0-7 2 2 1 3 3-2 3-3 4 0 9 1 3 3 0-3 1-3 1 1 0 5 116 3 40-8 2 6 11-2 1 2 2-5 14 5 0-7 8 6 2 3 0-7 5 7 4-4 17-2 1-3 7 0 5 4 4 0 3 5 4-4 3-2 10-2 5 2 0 6 6-3 10 1 5-3 1 4 6-1 2 2 1-4 22-4 18 3 3-1 1 0 0-1 1 2 0 2 0 0 0 2 0-4 1 4 0 0 0-6 1 2 0 2 0-4 123 2 32-3 2 0 3 7 20 1 1-6 6 2 13-1 7-4 6 3 11 4 19-7 30 8 7 0 17-8 7 3 15-3 3 3 18 5 0-6 1 1 0 6 0-7 1 0 0 4 0 1 0-7 1 3 0 1 0 1 0 4 0-3 1 2 0 1 0-8 2 2 0 3 0 11 0-7-2 8-1-2 0-5 0 7-1-1 0-3 0-1 0-2 0 0 0-1 0 0 0 7-1-2 0-4 0 8-1-4 0-5 0 3-2-1 0 7-1-1-24-7-4 3-10 3-4 0 0 1-7 0-7-8-8 6-31-2 0 1-10 0-3-1-16 3-3 1-2-6-7 7-16-2 0 1-22-1-21-2-17-5-122 8-2 0 0 0-1-3 0-5 0 7-1-2 0-4 0 2-3 5-4-2 0-6-28 7-3-6-16 3-2 3-6-5-3 3-5-5-2 9-14-7-2 6-6 0-1-7-1 3-3 1-2 0-2-2-2 3-9-4-7 2-5 5-7-7-3 2-5 4-2-7-1 5-2-3-5 0-2-1 0 0-6 2-7-3-5 8-6-3-11-2 0-2-1 6-5 1-1-3-2-4-25 6-10-3-11 3-32 1-66-3 0 0-1 2-1-2 0-2 0 5-1-7-1 6-1-2-2 2-10-3-12 4-6 0-6 0-3-2-3-6-2 4-1-3 0 1-3-1-2 0 0 5-1 0-15-7 0 9-4-2 0 1-1-7-1 5-2-1-1 0-2-1 0-1 0-3-4 8-2 1-3-2-2 2-2-5 0 0 0-1-3 4-2-1 0-4-1-2-2 1-1 0 0 8-1-4-1 1-2-5 0 4-1 4-2-4-2-3-1 4-3 2-2-1 0-6 0 3-2 0 0 0-2 3-2-7-1 5-4 3-2-8 0 5-4-5-2 7-1-2-3-5 0 1-2 7-5-5-3-3 0 4-5-1-2-2 0 8-1-3-2 1-3-7-1 7-1 1-1-4-12 5-7 0 0-9-2 6-1-2 0 3-2-3 0-2-2 7-10-7-2 5-1-6-7 2-3-1-1 0-1 4-6 0-14-6-5 8-96-1 0-2 0-4-16 5-5-4-12 5-2-7-3 4-1 0-1 5-1 0-4-1-2-5 0 3-4-4 0 7-2-1-3-6-1-1-1 6-2-6 0-1 0 8-1-2 0-1 0 4-1 0-2-8-2 3-1-1 0 4-1 0 0-5 0 4-1-4 0 7-3 0 0-1-1-4 0 5-1 0 0-1 0-4-3 3-1-4 0 2-1 3-1-3 0 2-1-5-1-1 0 5-3-3 0 4-1-6 0 6-1-7 0 9-2-3-1 0-3 0 0-1 0 4-3-7-3-2 0 6-3 3-1-7 0 3-5 0-2-4-1 4-2-3 0 6-1 1-3-9 0 9-1-6-1-2-1 8-1-6 0 6-1-8 0 6-1 2-1-6 0 5-2-5-2-2-4 0-5 7-2-2 0 3-1-8-1-1-1 8-2-2-2 0-7-6-5 9-1-1 0-3 0 2-18 1-28 9-20 0 7-2 9 4 11-3 2 1 9-5 7 2 2 2 0 0 7-1 2 4 0-8 3 7 0-5 1 5 1-1 2-3 7 5 3-2 1-7 4 2 2 3 1 4 0-1 2 1 0-8 1 5 0 0 0-2 2-4 2 9 2-6 1 2 1-1 2-4 2 3 2 5 0-3 1-4 1 1 2 0 2 2 0 2 1 2 0-7 1 3 2-4 3 5 0 4 0 0 1-8 1 4 0 3 1-5 1 1 0 0 1 0 1-1 6 3 0 3 3-5 4 0 2-3 1 4 0 3 1-8 1 5 0-2 2 2 3 2 2-5 1 0 1 5 0 0 1-4 1 5 0-1 1-7 1 2 1 5 0 1 2 1 0-2 1 1 0-7 1 8 3-3 1 0 0-6 1 9 4-6 3 2 0-2 2-3 2 3 5-1 4 6 0 0 0-1 2 2 2-8 7 5 1 3 1-1 5-6 3 4 1-3 2-3 2 1 5 8 5 0 6-1 92 1 11-3 11 1 2 1 4-8 3 9 4-3 9-5 1 2 2 6 7-3 5 2 0-5 1-1 2 6 0 0 1-5 3-3 1 7 0-7 1 2 4 3 0-3 1 6 1-6 1-2 2 3 0-2 6 4 0-2 2 2 1-2 2 0 8-1 3 7 1 0 2-3 3-3 2 1 0 2 0-1 1 1 0-3 1-2 1 0 1 0 3-1 2 3 1 4 0-7 1 1 1 2 0 1 0 3 1 1 0-4 2-1 1 3 1-2 2-1 1 1 0 3 0 2 0-6 3 1 3-3 2 2 5 1 0-3 2 0 1 7 1-5 4 0 1-1 2-1 2 6 0-4 4 3 0 1 1-3 4-2 1-2 2 8 1-6 2 5 2-7 2 7 4 0 2-2 4-4 5 1 2 3 0-2 10 4 2-3 4 0 0 4 2 0 12-8 33 2 105 4 18 1 2-6 4 5 6-3 1 0 6-3 6 3 14-3 12 6 0 2 7-8 13 2 3 5 0-2 13-2 6-2 12 6 0-2 1 3 11-7 7 8 4-3 11 2 0-8 3 6 5-2 3 0 10 3 1-2 16-3 1-1 6-1 5 8 17-2 9-1 1-4 2 5 1 0 0-5 1 2 0 3 0-4 3 1 0 1 0 5 121-8 15 2 32 0 14 5 1-4 19 3 3-5 6 5 7 1 10 0 6-2 4 2 5 0 12-2 25 0 0-4 57 5 0 0 0-5 2 0 0 4 0 1 0-7 1 3 0 5 0 5 1 4-1-2-1-1 0 0 0 0 0 0 0-1 0 4-1-1 0 0 0 3-1-4 0 0 0-4 0-1 0 5-2 1-49 2-3-5-6 6-6-2-2 2-13-2-12 2-13-2-19-1-71 0-50-6-91 7-2-2 0-3 0-1 0 7-1 0 0-1 0-6 0 6-1-1 0-1 0-1-1 4-1-1-2-6-3 8-8-4-9-3-13 3-2-3 0 0-7 7-3-1-1-4 0-2-6 3-4 1-11-4-4 0-4 4-7 0-20-2-5 1-10-5 0 2-3 3-5 2-1-4-1 3-4-1-1 2-3 0-1-6-3 3-3 1-16 2-2-5 0 3-1 4-4-2-2-2 0 3-5-8-6 1-1-1-2 6-6-1-20-3-4 0-68 6-59-5 0-2-2 5-1-2-2-4-35 9-5-8 0 4-7 2-4-3-9-4-2 3-7-1-7 2-4-3-1 6-10-4 0 5-7 1-1-6-5-2-1 3-2 3-3-1-1 3-1-9-2 6-1-1-9 1-1-2 0 4-1 0-1-3-5 4-1-5 0-4-4 4-2-4-1 4-2 3-1 0-1-3-1 0 0 4-1 0-5-6-3 4-1-3 0-1 0 5-2-6-1-1 0 0-2 6-6 2-3 0-2-6 0 7-5-7 0 3-3-3-3 1-1-2-2-1-2 0-2 8-3-2-1-1-6-1-3 0-3-1 0-3 0 9-12-8-19 1-1 1-17 1-23 2-65-2-5 2-12 3-5-3-1-5-4 0-9 7-1-2-2 1-1-6-2-1-4 9-2-1 0-7-5 1-6 7-2-6 0 2-1-3-3 5-1-1-1-2 0-1 0-2 0 5-1 2-1-2 0-3-2-3 0 4-2 5-1 0-5-8-1 5-1 3-1-4 0-1-1 1-10-3 0 3-1 4-1-7 0-1 0 8-1-8 0 5-1 0-1 2-1-7 0 3-1-3-3 2-4 4-1-5 0 6-1-8 0 4-1-4 0 3-2 6-1 0-2-1 0-8-2 3-1 4-1-5-1 3-1 3-1-4-2 0-1 1-1-3 0 7-2-1 0 1-1-2 0-2-1 0-5 4-2-7 0 2-2 1-2-2 0 0-1-1-3 4-1 1-2-5 0-1-1 1-2 0-1-1-1 6-6 2-3-4-1-5 0 8-2-2-1-6-7 6-2-2-5 0-8 2-5-1-29 9-21 4 17-8 16 6 6-3 1 2 6-3 2 1 1 5 0-2 2 1 2-2 1-5 5 1 5 3 4 1 1 0 7-5 4 4 0 1 1-5 2 2 1 2 3 1 0-3 2-1 1 7 1-4 3-2 1 7 0-8 1 3 0-3 2 1 1 1 0 0 1 2 0-2 1 1 0 0 0-1 2 4 0-5 1 4 2 1 0 1 3-8 1 9 1-2 1-7 1 9 0 0 1-6 2 1 0 0 1 1 1-5 1 0 0 1 1 8 0-6 1 6 0-8 2 5 1-2 3 5 0-5 1 1 0-5 2 1 0 5 0 2 2-8 2 2 1 0 0 4 1 1 0-4 3 6 2-9 4 1 3 3 1 5 1-7 3-1 2 5 0-4 1 3 0 1 0 3 3-9 1 0 1 4 1 0 0 3 0-4 1 4 1 1 1-8 2 6 1 3 1-4 1 4 2-9 5 2 2 5 0 0 2-2 3-3 3 2 0-4 2 5 1-5 2 6 0-6 2 2 0 6 0-3 1-1 2-2 9-1 2 0 3-1 2 0 3 2 1 7 0-8 2 8 4-7 2-2 3 9 3-9 7 4 2-2 11-1 44-1 39 4 8-2 5-1 16 3 5 3 0-2 7 4 8-4 4 3 1-7 5 6 4 1 1-8 1 8 1-7 2 1 1 2 1 2 0 2 1 0 0-3 4-2 2 5 1-2 2-5 1 5 0 2 5-4 1 3 2-7 1 6 4 1 2-4 1 1 0-3 2-1 1 1 1 1 0 6 1-8 3 0 1 9 2-9 1 1 0 4 6-3 1-1 1 5 2-6 1 7 2 2 0-2 2 2 1-7 7 2 8 5 0-3 1 2 0-4 2 4 6-1 2-4 2 6 0-2 3-2 2 4 0-1 1-1 1-6 1 4 1 4 7-5 5-3 2-1 2 8 15-2 4 1 7 1 6-1 43-5 1 5 0-6 2 6 149-7 1 1 2 8 8-5 14 2 5 3 4-1 8-6 12 3 2-5 2 0 0 8 5-1 2-4 3 3 2 0 7-1 3-4 7 6 3 1 4-4 3 0 1-3 2 5 0-5 6 5 4 2 0-4 1-2 2 1 3-2 3 4 2 1 7 0 1-1 2-1 23-2 3 7 6-7 11 4 7-3 7-3 1 2 1 0 0 3 0-3 2 2 1 5 0-7 1 7 0 0 0 0 1-1 127-1 47-7 3 3 5-2 4 3 4 1 1 4 5-4 1-2 3-2 2 2 2 2 1 4 19-7 3 3 14 4 3-5 5 5 21-4 10-5 11 2 0-2 16 8 0-6 3 6 19-5 10 4 0 2 0-8 1 2 0 0 0 0 0 3 0 0 0-6 1 0 0 1 0 1 0 5 0-7 1 0 0 2 0 1 0 4 0-7 1 3 0 1 0 4 0-2 2 13 0-9 0 3-2-1 0 0 0 7-1-3 0-1 0-2 0 0 0 6-1-2 0-3 0 0 0-2 0 5-1 0 0-5 0 1-1 1-1 5-3-8 0 0-7 1-13 0-8 0-4 5-4 2-18-2-5-7-1 3-22 1-9-3-4-1 0 6-11-3-52 3-2-1-10-5-14 6-8 3-143-3 0-4 0 6-1-4 0 2-4 1-9-2-25 3-12-4-1 4-6-5 0 0-5-2-5 5-5 1-6-5 0 7-3-3-14-1-1 4-2-9-1 1-3 8-3-1-1 0-1-6-2-2-1 9-2-9 0 1-2 2-1 4-1-4-1 1-2-4 0 2-1-1-2 2-5 2-3 3-1-6-3 6-7-5-1-2 0 4-4-3-4 1-2 1-1 5-3-1-9-3-6 3-1-3-6-4-11 2-7 3-8-6-66 7-72 2-2-2 0-6-1-1-1 2-1 4-1-4-71 5-4-6 0 4-1 2-3-2-7-2-1 0-2-2-3 3-2 3-18-3-4 5-2-9-3 2-1 2-10 1-5 0-2 3-2-6-7 0-2 4-1-1 0 2-9-1 0 0 0-5-1 2-3-2-3 8-2-2-3-5 0 1-1-2-6 2-4 2-3 4-1-1-10-1-6-7-3 0-4 1-1 8-10-9-23 2-39 2-2 3-49-3 0-2 0-1-12 6-7 2-3-7-1 3-2-3-1 7-2-8 0 7-1-8 0 7-13-4 0 6-6-9-2 0 0 5-1 1-1-4 0-1-4 7-2-2-2-6-1 8-1-3 0 3-1-2-1-1-2-5-2 3-1 2-1 1-4 2-1-1 0 1-1-6 0 0-2 3-2-2-1 5-3-1-2 0-1 0 0 1-2-2 0-2-2 1-1 2-2-2-3 3-1-8-2 8-5-4-1-1-3 5-4 1-2-7 0 5-2 0-1-7 0 4-1 3-2-3-1 0 0 2-2-1-1-5 0 8-3-3 0-2-1 5-1-3 0-1 0-3 0 5-5-2 0-2 0 6-1-8 0 1-1 5-1 1-1-2 0-1 0 4-2-1 0-1 0-2-1 4-2-6-1-2 0 6-1 0-2-3-5-2 0 2-5-1-2 3-2 0 0-2 0 2-1 3-2-2-2-2-1 5-1-4-2-3-2 5-1-2 0 4-1-3 0-4-1 0-4 3-1 0-3-2 0-2-5 7-4 1-1 0 0 0-5-3-4-4 0-2 0 8-1-6 0-1-2 0-1 5-9 0-25-1-7 1-10-4-34 15 20-6 19 0 2 0 14 2 21 6 1-5 3 4 1-2 1-4 4 7 0-6 2 0 2 1 9-1 1 2 4-5 3 8 1-7 5 5 0-6 4 2 0-2 5 3 1 4 0-3 2-4 2 2 1 0 0-2 2 3 2 3 4-3 1 3 1-4 1-2 1 5 2-4 2 5 0-4 2 1 1 1 0-4 1 1 2 4 0 0 1 4 0-5 1-4 1 5 0 3 0 0 4 1 0-8 1 2 2 5 2-6 1 3 0 2 1-4 2 5 0-5 3 4 0 1 0-8 1 1 2 0 2 7 0-8 1 3 1-2 3 7 2-2 1 1 0-5 1 0 1 6 0-1 2-7 3 6 3-4 2 7 1-3 1-6 1 5 0-3 3 6 1-1 1-4 1 0 2-3 1 0 1 7 0-7 1 7 0 2 0-8 1 1 0 6 0-5 3 1 0 1 3-1 1-4 2 0 0 3 0 4 1-3 6-4 4 2 0 1 0 0 2 5 0-6 1-1 1 6 5 2 1-3 6-5 2 7 3 1 0-7 6-1 26 1 80 3 1-2 28-2 3 0 5-1 18 9 3-2 3-5 3 2 2-3 1-1 1 1 2 5 2-5 14 7 0-7 3 0 7-1 1 5 4-5 10 1 0 6 5-2 2 0 7 1 0-4 1-2 1 7 1 1 4-7 1 4 0 2 7-5 1 6 6-2 6 3 0-8 7 0 5 0 7-1 2 6 7-6 4 5 1 2 5-1 2-4 2 5 2-6 7 1 3 6 7-4 52-2 1 7 0-2 1 2 1-7 1 3 0 1 0 2 0-5 68-2 105-1 21 1 5 1 9 5 17 1 1-7 4 0 1 1 1-1 3 1 0 7 1-9 1 1 3 1 4 0 4-2 3 6 5 0 4 0 1-5 8 6 1 1 1-7 4 8 1-8 10-1 4 2 0 1 13 4 3-4 7 5 18-1 7-4 1 0 0 1 0 3 0 2 0-9 1 1 0 2 0 2 1 3 0-6 1 7 0-8 1 0 0 4 2-5 184 7 21-6 1 3 1-4 7 2 1 7 13-8 6 2 9 4 4-7 1 0 0 5 4-2 2-2 6 4 0 2 5-3 8-3 2-1 3 9 9-1 3-8 4 5 7-5 3 0 12 1 19 3 1-4 1 2 0 0 0 6 0-6 1 1 0 1 0-4 1 1 0 2 0 0 0 0 0 3 0 1 0 0 0 0 0 2 0-9 1 3 0 4 0 2 0-3 1-2 2 8-2 4-1 0 0-3 0-2 0 0 0 7-1-1 0 0 0 0 0-2 0-1 0-3 0 0 0 0 0-1 0 6-1-1 0-5 0 2-1-1 0 8-7-2-23 0-5 1-7 1-5-9-11 9-7-2-2-3-25 2-2-2 0 2-12-5-6 2-25 1-200-4 0 7-2 2-1-1-1-1 0 0 0 0 0-3 0 5-1-2 0-1 0-1 0 3-1 1-9-8-9 1-5-1-2 2-1-2 0 2-1-1 0 6-4-5-2 4-1-5-3-1-1 3-4 5-7 0-2-3-3-2 0 4-2-5-8 1-8-4-2 5-2-3 0-2-1 9-6-2 0-7 0 4-4 1-1-5-2 6-1 2-2 0-5-6-3 3-2-2 0-3-3 0-4 5-1 1-4-2-2-4-11 3-6-1 0 6-6-5 0 1-1-1 0-2-5 1-1 7-192-1 0-6-1-1 0-1 0 9-1-6-2 0-2 3-9-2-21 1-2 1-6 3-3-1-9-4-2 2-25 2-8-1-2-4-17-2-1 6-1 0-3-3-1-1-5-3 0 6-3 3-2-7-1 7-1-4 0-4-2 4-5-4-3 0-5 4-3-2 0-1-5 6-9-4-2-1-3-1-3-2-4 8-11 1-18-4-4-2-4 6-1-5-4 0-7-3-9-1-113 7-4 1-13 0-2 0 0-4-2-4-3 2-2 1-8 5-2-6-1 1-1 4-5 0 0 0-4 2-1-2 0-7-1 4-2-2-1 7-1-2-7 0 0 2-3-6-1 5-1-3 0-4-1 6-1-1-1 3-1-8-1 6-2-4 0-2-5-1-2 9-3-7 0 1-1 0-1-2 0 5-2-1-1-2-1 5-1 0 0 0 0-6-1 3-1-2-1 3-1 0-1-6 0 4-9 3-1 2-1-9 0 3-2-1-1 7-2-9 0 8-1-6-4 0-1 5-4-5-1 7-1-2-3-7-1 4-1-1-1 4-1-2 0-4 0 6-1-5-2-1-3 7-5-3-2-1-5-4-2 0-1 1-6 0-24-1-3 0-5 3-44-3-8 11 129 0 0-1 1 5 1-3 3 0 2 1 1 2 0-1 1 3 2-6 2 2 5 4 0-7 2 3 18-2 8 5 0-6 1 3 0 1 0 3 3-4 6 4 0-6 1 3 0 0 3 3 0 0 3-1 1 1 4-6 3 6 2 1 0-4 4 0 3 2 1 1 0-4 1 6 0 0 1 0 0-2 2-6 2 8 1-7 2 4 0 3 0-5 2-1 3 3 5-6 8 5 86-4 37 3 25 4 17-7 14 2 2 3 7 0 25 2 1-5 11 5 2-5 3 0 5 3 0-6 15 5 0-5 3 2 6-2 16 8 4-1 15-1 1-3 5 1 0-3 21 7 4-4 2 2 11-6 1 1 4 0 1 7 0-6 1 6 0 1 0-6 1 0 236-1 2-2 1 4 2 5 3-8 1 6 2-4 1 6 0-2 1-1 5-4 5 0 1 6 7-3 3 4 2-8 2 2 2-3 1 6 4-4 1 2 1-1 1 1 0-4 4 4 2 3 1-3 9 4 2-3 3-4 3 3 2 1 12 4 8-4 11-4 1 1 0 0 0 1 1 2 0 2 241 1 17 0 10-1 9-3 1 2 3-1 14-2 7 6 5-5 1 1 0 2 9-2 20-3 1 2 1 5 0-9 1 5 0-3 1 1 0 1 0 2 0 2 0 0 0-5 1 1 0 0 0 1 0 3 0-3 3 2 0 0 0 9-2-1 0 3-1-1 0-1 0-2 0 0 0-4 0 9-1 0 0-7 0-1 0 0 0-1 0 7-1-4 0 0-1 4-2-2-5-2-8 3-21-4-1 7-1-1-6-1-8-3-3 1-4 2-2 1-10 0-4-1-29-7-235 6-1 0 0-4 0-1 0 4-2-1 0-2 0 2-1-4-2 9-1-8-1 0-1 6-7-2-1-3-2 3-2-1-2 2-4-3-9-3-1 0-3 0-5 4-2-1-3 2-2-5-1 7-3-6-5 2-4-1-1-1-1 2-3-3-3 8-17-3-3-2-8 4-243-3 0-2-1 5-2-7-1 9-1-4-6-1-4 2-9-3-1-2-13 7-7-6-1 1-5 3-4-2-11-2-2-2-3 9-4-8-1 5-3 0-9-4 0 0-7 6-3 0-1-4-3 4-31-7-1-1-10 5-9-1-38-1-69 5-90 1-3-9-3 1-2 5-1 0-1-5 0 5-2-3 0 6-1-8 0 6-2-4 0 6-2-9-2 0-4 4-1 0-1-1-2 0-3 0-1 0 0-3 0 6-1-1-2-4 0-1-1 5-2 4-1-6-2 5-2-1 0-1-1 2-4-5-1-1-1-1-2-1-1 2-10 0 0-2-1 3-2 0 0 1-2-3-8 0-2 10 44 1 3-1 5 3 3-3 5 1 2 2 0 1 0 3 0-6 1 7 1-2 2-2 1 3 0 1 1-2 1-3 1 4 0-7 1 6 1-4 1 4 0-6 1 7 0-5 2-3 1 3 0 5 0 0 0-4 1 1 0 2 2 1 2-6 267 2 3 0 0 0 9 2 1 0 2-6 5 3 1 6 5-6 2-3 12 3 1 2 0 0 8 1 0 2 0-4 1 4 5 1 4-4 2 3 0 1 0-8 4 3 3 1 4 3 1-7 3 0 2 7 0 1 0 0 1-2 248-1 6-2 22-4 1 5 0 3 1-5 1-2 6 6 2-1 4-2 2-1 6-2 1-1 3 2 1-2 2 6 0 1 0-5 1 6 0-8 1 9 1-2 1-5 2-2 1 0 6 3 2-2 2 7 5-4 6-3 1 7 3-5 1 5 1 1 0-3 2 2 0-8 1 4 1 0 254-1 4 0 10 5 5-4 2 0 5-4 3 9 10-7 1 2 22-2 2-2 12 0 5 6 2-5 1 3 0 4 0 0 0 0 0-3 2 1 0 0 0 0 0 3 0-9 1 0 0 2 0 2 0 2 0 0 0 1 0 1 0 0 0 1 0-3 3 13-2-2 0 2-1 0 0-1 0-3 0 0 0 0 0-3 0 5-1-3 0 2-1-3 0 0 0-3-1 1-1 1-1 4-1-6-14 7-1-5-33 0-288-1 0 0 0 7-1-5 0 2-3-1-2 4-1-1-1 0 0-6 0 8-5-1 0-4 0-1-1-2-5 7-2-8-1 0-1 4-1 5-3-1 0-4-1 5-4-2 0-6 0 5-1-1 0-1 0-3-4 4-4-3 0 1-2 6-3-2-2-1-6-5-5 2-11 5-273-2 0-3-1 4-2-1 0 0-1-5 0 4-1 3-1-1 0-1 0-5-1 8-5-2 0-1 0-3-4 6-1-6-3-1-4 1-1 5-1 0-1-2 0-5-1 7-11-5-2 2-5 4-1-7-6-2-1 0-1 9-289 0-1-1 0-2 0 3-1-1 0-1 0-1 0 0 0-2 0-1 0-1 0 0 0-1 0 8-1 0 0 0 0-2 0-6 0 6-1-2 0-1 0 5-1 0 0 0 0 0 0-1 0 0 0 0 0-3 0-1 0 1-2-5 0 6-1-5 0 2-1 0 0-2 0-1-2 4-1-2 0-1 0-1 0 3-2-3-5 11 15 1 0 0 1 1 0 0 0-2 1 1 0 1 0 0 0 1 0 1 0-4 1 3 0 1 0 0 0-3 1 2 0 1 0 1 0 1 0 0 0 0 0 1 0 0 0 0 0 1 0-8 1 1 0 2 0 1 0 0 0 1 0 0 0 0 0 0 0 0 0 1 0 1 0 1 0 0 0 0 0-8 307 0 2 7 3-7 1 8 1-6 3 0 1-2 1 3 1 1 1-5 2 8 0 0 0-7 1 7 0 0 0-1 1-5 1 0 1 3 3-2 2 1 1-3 2 8 1-2 1-7 1 2 2 0 2 2 0 3 0-4 283 5 23-4 4-3 1 7 0 1 0-8 8 6 4 1 1-2 1 2 0 0 2-2 2 2 1-4 2 2 4-3 5 6 0-9 1 3 0 1 0 2 0 3 0-4 1 4 0 0 0-9 1 6 0 3 0-3 2-4 301 3 1 3 7-7 3 2 8 0 4 4 8 0 5-7 1 4 1 5 0-7 1 1 0 2 0 0 0 3 0 1 0-9 1 8 2 11-2-2 0-2 0-2 0 4-1 0 0-4 0 0 0 0 0 0 0-2 0 8-1-6 0 4-1-2 0 3-1-1 0-1 0 1-3 0-3 2-1-4-9-2-8 3-315 1-1-3 0-1 0 4-1-5 0 0-1 5-3-1-4-4-1 5-2 0-1 0 0-6 0 8-1-5 0-1 0 4-2-6 0 2-2-2 0 3-1-1 0-1 0-2 0 6-1 1-1-3 0 5-4-5-1 0 0-3 0 5-1-3 0-1 0 0-3-1 0 0-1-1-8 2-303 6-1-2 0-6-1 9-1-2 0 0 0 2-1-3-1-6 0 4-1 0 0-2 0-2 0 0 0 5-1-3 0 1-1-2-1 7-1-1 0 2-2-1-1 1-1-5-1 1-3 0-1 2-1-4-3-3-1 5-1-4-1 8-316-1 0 1-1 0 0-1 0 0 0-1 0-1 0 0 0 0 0-1 0 0 0-1 0 0 0 0 0 0 0 0 0 0 0-1 0 0 0 0 0 0 0-1 0 0 0 0 0 0 0 0 0 0 0 0 0-1 0 0 0 0 0-1 0 1-1 15 329-3 1 4 2-6 1 1 1 1 0 5 1-6 1 5 1 0 0 1 0-5 1 5 0-8 2 0 0 1 0 3 0-2 1 3 0 4 1-2 1-1 1 0 0 3 0-9 322 5 0 2 0-5 1-2 1 2 2 6 0-7 1 1 0 1 0 1 1 5 1-4 1 3 0-7 1 8 1-4 2 0 0-2 1 0 0 1 0 2 0 2 0-3 2-3 3 0 0 0 0 1 0 0 0 2 0 1 0 1 0-2 1 4 0-9 1 2 1 2 0 3 0 2 323-9 3 6 0-2 1-1 2 2 0 2 2-6 2 2 4-2 1 4 0-4 2 1 0 0 0 3 0-3 1 1 0 1 0 4 0 1 0-4 1 0 0 4 0-9 1 5 0 9-1-3 0 0 0 0 0 1-2-2-2 5-1-5-6 7-331 2-1-4 0-2 0-3-1 7-1-2-2-1-2-2 0 2-1 5-1-1 0-4 0-2 0 5-1 0 0-4 0-2 0-1 0 0 0 7-1-2-1-5 0 4-1-4-1 5-329-1 0-3 0 8-2 0 0-1-1 1-1-3 0 2-1 1-1-1 0-7 0-1 0 9-4-2-1 0-1 0-1-1 0 3-1-2 0-2 0 4-1 10 6 0 1-3 1 3 0-9 1 7 0 0 0-6 1 3 0 4 0 1 0-8 1 2 0 1 0 5 0-7 1 0 0 4 0-6 1 4 0 3 1-7 332 3 1-3 1 4 0 3 1-5 1 1 0 2 0 1 1-3 1 2 1-5 1 4 0 1 0 1 0-6 1 0 0 6 1-4 1 5 0 0 0 2 0-1 1-7 338 8 0 2 1 3-338 1-1-3 0 1-1-1 0-2 0 0 0 8-1-3 0-4 0 2-1-3 0 4-1-1 0 0 0-1-1-2-1 2-339 0 0 7-1-4 0-1 0-2 0 6-1-1 0-1 0-2 0-1 0 0-2 0-1 0-1 1-1 7 0 5 1-1 2-5 1 3 0 5 0-8 1 1 0 0 0 0 0 1 0 5 0 2 0-8 1 3 0 1 0 0 0 1 0 1 0 0 0 1 0-1 1 1 0-3 1 2 0-7 1 4 0 0 0-1 339 0 1-2 1 1 0 4 0 1 0 0 1 2 0 7 1-1-1 0 0-2 0-1 0-2 0 0 0 6-1-4 0-1 0-1-344 10 345 5 0 2 0-6 1 2 0 9 0" fill="none" stroke="none" marker-start="url(#m)" marker-mid="url(#m)" marker-end="url(#m)"/><line x1="55.3" y1="73.1" x2="55.3" y2="398.2" stroke="#3c3c3c" stroke-width="2"/><line x1="55.3" y1="354.9" x2="59.3" y2="354.9" stroke="#3c3c3c" stroke-width="1.6"/><text x="49.8" y="361.5" font-size="18.5" text-anchor="end" font-family="'Liberation Sans',Arial,Helvetica,sans-serif" stroke="#000" stroke-width="0.5">500</text><line x1="55.3" y1="284.4" x2="59.3" y2="284.4" stroke="#3c3c3c" stroke-width="1.6"/><text x="49.8" y="291.0" font-size="18.5" text-anchor="end" font-family="'Liberation Sans',Arial,Helvetica,sans-serif" stroke="#000" stroke-width="0.5">1000</text><line x1="55.3" y1="214.0" x2="59.3" y2="214.0" stroke="#3c3c3c" stroke-width="1.6"/><text x="49.8" y="220.6" font-size="18.5" text-anchor="end" font-family="'Liberation Sans',Arial,Helvetica,sans-serif" stroke="#000" stroke-width="0.5">1500</text><line x1="55.3" y1="143.5" x2="59.3" y2="143.5" stroke="#3c3c3c" stroke-width="1.6"/><text x="49.8" y="150.1" font-size="18.5" text-anchor="end" font-family="'Liberation Sans',Arial,Helvetica,sans-serif" stroke="#000" stroke-width="0.5">2000</text><line x1="55.3" y1="73.1" x2="59.3" y2="73.1" stroke="#3c3c3c" stroke-width="1.6"/><text x="49.8" y="79.7" font-size="18.5" text-anchor="end" font-family="'Liberation Sans',Arial,Helvetica,sans-serif" stroke="#000" stroke-width="0.5">2500</text><line x1="54.3" y1="397.2" x2="466.3" y2="397.2" stroke="#3c3c3c" stroke-width="2"/><line x1="92.1" y1="397.2" x2="92.1" y2="392.2" stroke="#3c3c3c" stroke-width="1.6"/><line x1="166.9" y1="397.2" x2="166.9" y2="392.2" stroke="#3c3c3c" stroke-width="1.6"/><line x1="241.7" y1="397.2" x2="241.7" y2="392.2" stroke="#3c3c3c" stroke-width="1.6"/><line x1="316.5" y1="397.2" x2="316.5" y2="392.2" stroke="#3c3c3c" stroke-width="1.6"/><line x1="391.3" y1="397.2" x2="391.3" y2="392.2" stroke="#3c3c3c" stroke-width="1.6"/><line x1="466.1" y1="397.2" x2="466.1" y2="392.2" stroke="#3c3c3c" stroke-width="1.6"/><line x1="922.2" y1="73.3" x2="922.2" y2="396.8" stroke="#3c3c3c" stroke-width="2"/><line x1="922.2" y1="385.8" x2="918.2" y2="385.8" stroke="#3c3c3c" stroke-width="1.6"/><text x="928.2" y="392.4" font-size="18.5" text-anchor="start" font-family="'Liberation Sans',Arial,Helvetica,sans-serif" stroke="#000" stroke-width="0.5">0</text><line x1="922.2" y1="323.3" x2="918.2" y2="323.3" stroke="#3c3c3c" stroke-width="1.6"/><text x="928.2" y="329.9" font-size="18.5" text-anchor="start" font-family="'Liberation Sans',Arial,Helvetica,sans-serif" stroke="#000" stroke-width="0.5">2</text><line x1="922.2" y1="260.8" x2="918.2" y2="260.8" stroke="#3c3c3c" stroke-width="1.6"/><text x="928.2" y="267.4" font-size="18.5" text-anchor="start" font-family="'Liberation Sans',Arial,Helvetica,sans-serif" stroke="#000" stroke-width="0.5">4</text><line x1="922.2" y1="198.3" x2="918.2" y2="198.3" stroke="#3c3c3c" stroke-width="1.6"/><text x="928.2" y="204.9" font-size="18.5" text-anchor="start" font-family="'Liberation Sans',Arial,Helvetica,sans-serif" stroke="#000" stroke-width="0.5">6</text><line x1="922.2" y1="135.8" x2="918.2" y2="135.8" stroke="#3c3c3c" stroke-width="1.6"/><text x="928.2" y="142.4" font-size="18.5" text-anchor="start" font-family="'Liberation Sans',Arial,Helvetica,sans-serif" stroke="#000" stroke-width="0.5">8</text><line x1="922.2" y1="73.3" x2="918.2" y2="73.3" stroke="#3c3c3c" stroke-width="1.6"/><text x="928.2" y="79.9" font-size="18.5" text-anchor="start" font-family="'Liberation Sans',Arial,Helvetica,sans-serif" stroke="#000" stroke-width="0.5">10</text><line x1="668.3" y1="395.8" x2="923.2" y2="395.8" stroke="#3c3c3c" stroke-width="2"/><line x1="688.1" y1="395.8" x2="688.1" y2="390.8" stroke="#3c3c3c" stroke-width="1.6"/><line x1="766.1" y1="395.8" x2="766.1" y2="390.8" stroke="#3c3c3c" stroke-width="1.6"/><line x1="844.2" y1="395.8" x2="844.2" y2="390.8" stroke="#3c3c3c" stroke-width="1.6"/><line x1="922.2" y1="395.8" x2="922.2" y2="390.8" stroke="#3c3c3c" stroke-width="1.6"/><line x1="1017.3" y1="57.4" x2="1017.3" y2="373.2" stroke="#3c3c3c" stroke-width="2"/><line x1="1017.3" y1="330.3" x2="1021.3" y2="330.3" stroke="#3c3c3c" stroke-width="1.6"/><text x="1011.8" y="336.9" font-size="18.5" text-anchor="end" font-family="'Liberation Sans',Arial,Helvetica,sans-serif" stroke="#000" stroke-width="0.5">400</text><line x1="1017.3" y1="288.3" x2="1021.3" y2="288.3" stroke="#3c3c3c" stroke-width="1.6"/><text x="1011.8" y="294.9" font-size="18.5" text-anchor="end" font-family="'Liberation Sans',Arial,Helvetica,sans-serif" stroke="#000" stroke-width="0.5">600</text><line x1="1017.3" y1="246.3" x2="1021.3" y2="246.3" stroke="#3c3c3c" stroke-width="1.6"/><text x="1011.8" y="252.9" font-size="18.5" text-anchor="end" font-family="'Liberation Sans',Arial,Helvetica,sans-serif" stroke="#000" stroke-width="0.5">800</text><line x1="1017.3" y1="204.3" x2="1021.3" y2="204.3" stroke="#3c3c3c" stroke-width="1.6"/><text x="1011.8" y="210.9" font-size="18.5" text-anchor="end" font-family="'Liberation Sans',Arial,Helvetica,sans-serif" stroke="#000" stroke-width="0.5">1000</text><line x1="1017.3" y1="162.3" x2="1021.3" y2="162.3" stroke="#3c3c3c" stroke-width="1.6"/><text x="1011.8" y="168.9" font-size="18.5" text-anchor="end" font-family="'Liberation Sans',Arial,Helvetica,sans-serif" stroke="#000" stroke-width="0.5">1200</text><line x1="1017.3" y1="120.4" x2="1021.3" y2="120.4" stroke="#3c3c3c" stroke-width="1.6"/><text x="1011.8" y="127.0" font-size="18.5" text-anchor="end" font-family="'Liberation Sans',Arial,Helvetica,sans-serif" stroke="#000" stroke-width="0.5">1400</text><line x1="1017.3" y1="78.4" x2="1021.3" y2="78.4" stroke="#3c3c3c" stroke-width="1.6"/><text x="1011.8" y="85.0" font-size="18.5" text-anchor="end" font-family="'Liberation Sans',Arial,Helvetica,sans-serif" stroke="#000" stroke-width="0.5">1600</text><line x1="1016.3" y1="372.2" x2="1416.3" y2="372.2" stroke="#3c3c3c" stroke-width="2"/><line x1="1035.6" y1="372.2" x2="1035.6" y2="367.2" stroke="#3c3c3c" stroke-width="1.6"/><line x1="1108.1" y1="372.2" x2="1108.1" y2="367.2" stroke="#3c3c3c" stroke-width="1.6"/><line x1="1180.6" y1="372.2" x2="1180.6" y2="367.2" stroke="#3c3c3c" stroke-width="1.6"/><line x1="1253.0" y1="372.2" x2="1253.0" y2="367.2" stroke="#3c3c3c" stroke-width="1.6"/><line x1="1325.5" y1="372.2" x2="1325.5" y2="367.2" stroke="#3c3c3c" stroke-width="1.6"/><line x1="1398.0" y1="372.2" x2="1398.0" y2="367.2" stroke="#3c3c3c" stroke-width="1.6"/><line x1="1599.0" y1="57.6" x2="1599.0" y2="373.3" stroke="#3c3c3c" stroke-width="2"/><line x1="1599.0" y1="364.6" x2="1603.0" y2="364.6" stroke="#3c3c3c" stroke-width="1.6"/><text x="1593.5" y="371.2" font-size="18.5" text-anchor="end" font-family="'Liberation Sans',Arial,Helvetica,sans-serif" stroke="#000" stroke-width="0.5">0</text><line x1="1599.0" y1="326.2" x2="1603.0" y2="326.2" stroke="#3c3c3c" stroke-width="1.6"/><text x="1593.5" y="332.8" font-size="18.5" text-anchor="end" font-family="'Liberation Sans',Arial,Helvetica,sans-serif" stroke="#000" stroke-width="0.5">0.5</text><line x1="1599.0" y1="287.9" x2="1603.0" y2="287.9" stroke="#3c3c3c" stroke-width="1.6"/><text x="1593.5" y="294.5" font-size="18.5" text-anchor="end" font-family="'Liberation Sans',Arial,Helvetica,sans-serif" stroke="#000" stroke-width="0.5">1</text><line x1="1599.0" y1="249.5" x2="1603.0" y2="249.5" stroke="#3c3c3c" stroke-width="1.6"/><text x="1593.5" y="256.1" font-size="18.5" text-anchor="end" font-family="'Liberation Sans',Arial,Helvetica,sans-serif" stroke="#000" stroke-width="0.5">1.5</text><line x1="1599.0" y1="211.1" x2="1603.0" y2="211.1" stroke="#3c3c3c" stroke-width="1.6"/><text x="1593.5" y="217.7" font-size="18.5" text-anchor="end" font-family="'Liberation Sans',Arial,Helvetica,sans-serif" stroke="#000" stroke-width="0.5">2</text><line x1="1599.0" y1="172.7" x2="1603.0" y2="172.7" stroke="#3c3c3c" stroke-width="1.6"/><text x="1593.5" y="179.3" font-size="18.5" text-anchor="end" font-family="'Liberation Sans',Arial,Helvetica,sans-serif" stroke="#000" stroke-width="0.5">2.5</text><line x1="1599.0" y1="134.3" x2="1603.0" y2="134.3" stroke="#3c3c3c" stroke-width="1.6"/><text x="1593.5" y="140.9" font-size="18.5" text-anchor="end" font-family="'Liberation Sans',Arial,Helvetica,sans-serif" stroke="#000" stroke-width="0.5">3</text><line x1="1599.0" y1="96.0" x2="1603.0" y2="96.0" stroke="#3c3c3c" stroke-width="1.6"/><text x="1593.5" y="102.6" font-size="18.5" text-anchor="end" font-family="'Liberation Sans',Arial,Helvetica,sans-serif" stroke="#000" stroke-width="0.5">3.5</text><line x1="1599.0" y1="57.6" x2="1603.0" y2="57.6" stroke="#3c3c3c" stroke-width="1.6"/><text x="1593.5" y="64.2" font-size="18.5" text-anchor="end" font-family="'Liberation Sans',Arial,Helvetica,sans-serif" stroke="#000" stroke-width="0.5">4</text><line x1="1598.0" y1="372.3" x2="1998.3" y2="372.3" stroke="#3c3c3c" stroke-width="2"/><line x1="1617.5" y1="372.3" x2="1617.5" y2="367.3" stroke="#3c3c3c" stroke-width="1.6"/><line x1="1690.0" y1="372.3" x2="1690.0" y2="367.3" stroke="#3c3c3c" stroke-width="1.6"/><line x1="1762.5" y1="372.3" x2="1762.5" y2="367.3" stroke="#3c3c3c" stroke-width="1.6"/><line x1="1834.9" y1="372.3" x2="1834.9" y2="367.3" stroke="#3c3c3c" stroke-width="1.6"/><line x1="1907.4" y1="372.3" x2="1907.4" y2="367.3" stroke="#3c3c3c" stroke-width="1.6"/><line x1="1979.9" y1="372.3" x2="1979.9" y2="367.3" stroke="#3c3c3c" stroke-width="1.6"/><line x1="55.3" y1="407.4" x2="55.3" y2="732.5" stroke="#3c3c3c" stroke-width="2"/><line x1="55.3" y1="689.2" x2="59.3" y2="689.2" stroke="#3c3c3c" stroke-width="1.6"/><text x="49.8" y="695.8" font-size="18.5" text-anchor="end" font-family="'Liberation Sans',Arial,Helvetica,sans-serif" stroke="#000" stroke-width="0.5">500</text><line x1="55.3" y1="618.8" x2="59.3" y2="618.8" stroke="#3c3c3c" stroke-width="1.6"/><text x="49.8" y="625.4" font-size="18.5" text-anchor="end" font-family="'Liberation Sans',Arial,Helvetica,sans-serif" stroke="#000" stroke-width="0.5">1000</text><line x1="55.3" y1="548.3" x2="59.3" y2="548.3" stroke="#3c3c3c" stroke-width="1.6"/><text x="49.8" y="554.9" font-size="18.5" text-anchor="end" font-family="'Liberation Sans',Arial,Helvetica,sans-serif" stroke="#000" stroke-width="0.5">1500</text><line x1="55.3" y1="477.8" x2="59.3" y2="477.8" stroke="#3c3c3c" stroke-width="1.6"/><text x="49.8" y="484.4" font-size="18.5" text-anchor="end" font-family="'Liberation Sans',Arial,Helvetica,sans-serif" stroke="#000" stroke-width="0.5">2000</text><line x1="55.3" y1="407.4" x2="59.3" y2="407.4" stroke="#3c3c3c" stroke-width="1.6"/><text x="49.8" y="414.0" font-size="18.5" text-anchor="end" font-family="'Liberation Sans',Arial,Helvetica,sans-serif" stroke="#000" stroke-width="0.5">2500</text><line x1="54.3" y1="731.5" x2="466.3" y2="731.5" stroke="#3c3c3c" stroke-width="2"/><line x1="92.1" y1="731.5" x2="92.1" y2="726.5" stroke="#3c3c3c" stroke-width="1.6"/><line x1="166.9" y1="731.5" x2="166.9" y2="726.5" stroke="#3c3c3c" stroke-width="1.6"/><line x1="241.7" y1="731.5" x2="241.7" y2="726.5" stroke="#3c3c3c" stroke-width="1.6"/><line x1="316.5" y1="731.5" x2="316.5" y2="726.5" stroke="#3c3c3c" stroke-width="1.6"/><line x1="391.3" y1="731.5" x2="391.3" y2="726.5" stroke="#3c3c3c" stroke-width="1.6"/><line x1="466.1" y1="731.5" x2="466.1" y2="726.5" stroke="#3c3c3c" stroke-width="1.6"/><line x1="922.2" y1="407.6" x2="922.2" y2="731.1" stroke="#3c3c3c" stroke-width="2"/><line x1="922.2" y1="720.1" x2="918.2" y2="720.1" stroke="#3c3c3c" stroke-width="1.6"/><text x="928.2" y="726.7" font-size="18.5" text-anchor="start" font-family="'Liberation Sans',Arial,Helvetica,sans-serif" stroke="#000" stroke-width="0.5">0</text><line x1="922.2" y1="657.6" x2="918.2" y2="657.6" stroke="#3c3c3c" stroke-width="1.6"/><text x="928.2" y="664.2" font-size="18.5" text-anchor="start" font-family="'Liberation Sans',Arial,Helvetica,sans-serif" stroke="#000" stroke-width="0.5">2</text><line x1="922.2" y1="595.1" x2="918.2" y2="595.1" stroke="#3c3c3c" stroke-width="1.6"/><text x="928.2" y="601.7" font-size="18.5" text-anchor="start" font-family="'Liberation Sans',Arial,Helvetica,sans-serif" stroke="#000" stroke-width="0.5">4</text><line x1="922.2" y1="532.6" x2="918.2" y2="532.6" stroke="#3c3c3c" stroke-width="1.6"/><text x="928.2" y="539.2" font-size="18.5" text-anchor="start" font-family="'Liberation Sans',Arial,Helvetica,sans-serif" stroke="#000" stroke-width="0.5">6</text><line x1="922.2" y1="470.1" x2="918.2" y2="470.1" stroke="#3c3c3c" stroke-width="1.6"/><text x="928.2" y="476.7" font-size="18.5" text-anchor="start" font-family="'Liberation Sans',Arial,Helvetica,sans-serif" stroke="#000" stroke-width="0.5">8</text><line x1="922.2" y1="407.6" x2="918.2" y2="407.6" stroke="#3c3c3c" stroke-width="1.6"/><text x="928.2" y="414.2" font-size="18.5" text-anchor="start" font-family="'Liberation Sans',Arial,Helvetica,sans-serif" stroke="#000" stroke-width="0.5">10</text><line x1="668.3" y1="730.1" x2="923.2" y2="730.1" stroke="#3c3c3c" stroke-width="2"/><line x1="688.1" y1="730.1" x2="688.1" y2="725.1" stroke="#3c3c3c" stroke-width="1.6"/><line x1="766.1" y1="730.1" x2="766.1" y2="725.1" stroke="#3c3c3c" stroke-width="1.6"/><line x1="844.2" y1="730.1" x2="844.2" y2="725.1" stroke="#3c3c3c" stroke-width="1.6"/><line x1="922.2" y1="730.1" x2="922.2" y2="725.1" stroke="#3c3c3c" stroke-width="1.6"/><line x1="1017.3" y1="400.1" x2="1017.3" y2="716.0" stroke="#3c3c3c" stroke-width="2"/><line x1="1017.3" y1="673.0" x2="1021.3" y2="673.0" stroke="#3c3c3c" stroke-width="1.6"/><text x="1011.8" y="679.6" font-size="18.5" text-anchor="end" font-family="'Liberation Sans',Arial,Helvetica,sans-serif" stroke="#000" stroke-width="0.5">400</text><line x1="1017.3" y1="631.0" x2="1021.3" y2="631.0" stroke="#3c3c3c" stroke-width="1.6"/><text x="1011.8" y="637.6" font-size="18.5" text-anchor="end" font-family="'Liberation Sans',Arial,Helvetica,sans-serif" stroke="#000" stroke-width="0.5">600</text><line x1="1017.3" y1="589.1" x2="1021.3" y2="589.1" stroke="#3c3c3c" stroke-width="1.6"/><text x="1011.8" y="595.7" font-size="18.5" text-anchor="end" font-family="'Liberation Sans',Arial,Helvetica,sans-serif" stroke="#000" stroke-width="0.5">800</text><line x1="1017.3" y1="547.1" x2="1021.3" y2="547.1" stroke="#3c3c3c" stroke-width="1.6"/><text x="1011.8" y="553.7" font-size="18.5" text-anchor="end" font-family="'Liberation Sans',Arial,Helvetica,sans-serif" stroke="#000" stroke-width="0.5">1000</text><line x1="1017.3" y1="505.1" x2="1021.3" y2="505.1" stroke="#3c3c3c" stroke-width="1.6"/><text x="1011.8" y="511.7" font-size="18.5" text-anchor="end" font-family="'Liberation Sans',Arial,Helvetica,sans-serif" stroke="#000" stroke-width="0.5">1200</text><line x1="1017.3" y1="463.1" x2="1021.3" y2="463.1" stroke="#3c3c3c" stroke-width="1.6"/><text x="1011.8" y="469.7" font-size="18.5" text-anchor="end" font-family="'Liberation Sans',Arial,Helvetica,sans-serif" stroke="#000" stroke-width="0.5">1400</text><line x1="1017.3" y1="421.1" x2="1021.3" y2="421.1" stroke="#3c3c3c" stroke-width="1.6"/><text x="1011.8" y="427.7" font-size="18.5" text-anchor="end" font-family="'Liberation Sans',Arial,Helvetica,sans-serif" stroke="#000" stroke-width="0.5">1600</text><line x1="1016.3" y1="715.0" x2="1416.3" y2="715.0" stroke="#3c3c3c" stroke-width="2"/><line x1="1035.6" y1="715.0" x2="1035.6" y2="710.0" stroke="#3c3c3c" stroke-width="1.6"/><line x1="1108.1" y1="715.0" x2="1108.1" y2="710.0" stroke="#3c3c3c" stroke-width="1.6"/><line x1="1180.6" y1="715.0" x2="1180.6" y2="710.0" stroke="#3c3c3c" stroke-width="1.6"/><line x1="1253.0" y1="715.0" x2="1253.0" y2="710.0" stroke="#3c3c3c" stroke-width="1.6"/><line x1="1325.5" y1="715.0" x2="1325.5" y2="710.0" stroke="#3c3c3c" stroke-width="1.6"/><line x1="1398.0" y1="715.0" x2="1398.0" y2="710.0" stroke="#3c3c3c" stroke-width="1.6"/><line x1="1599.0" y1="400.4" x2="1599.0" y2="716.0" stroke="#3c3c3c" stroke-width="2"/><line x1="1599.0" y1="707.4" x2="1603.0" y2="707.4" stroke="#3c3c3c" stroke-width="1.6"/><text x="1593.5" y="714.0" font-size="18.5" text-anchor="end" font-family="'Liberation Sans',Arial,Helvetica,sans-serif" stroke="#000" stroke-width="0.5">0</text><line x1="1599.0" y1="669.0" x2="1603.0" y2="669.0" stroke="#3c3c3c" stroke-width="1.6"/><text x="1593.5" y="675.6" font-size="18.5" text-anchor="end" font-family="'Liberation Sans',Arial,Helvetica,sans-serif" stroke="#000" stroke-width="0.5">0.5</text><line x1="1599.0" y1="630.6" x2="1603.0" y2="630.6" stroke="#3c3c3c" stroke-width="1.6"/><text x="1593.5" y="637.2" font-size="18.5" text-anchor="end" font-family="'Liberation Sans',Arial,Helvetica,sans-serif" stroke="#000" stroke-width="0.5">1</text><line x1="1599.0" y1="592.2" x2="1603.0" y2="592.2" stroke="#3c3c3c" stroke-width="1.6"/><text x="1593.5" y="598.8" font-size="18.5" text-anchor="end" font-family="'Liberation Sans',Arial,Helvetica,sans-serif" stroke="#000" stroke-width="0.5">1.5</text><line x1="1599.0" y1="553.9" x2="1603.0" y2="553.9" stroke="#3c3c3c" stroke-width="1.6"/><text x="1593.5" y="560.5" font-size="18.5" text-anchor="end" font-family="'Liberation Sans',Arial,Helvetica,sans-serif" stroke="#000" stroke-width="0.5">2</text><line x1="1599.0" y1="515.5" x2="1603.0" y2="515.5" stroke="#3c3c3c" stroke-width="1.6"/><text x="1593.5" y="522.1" font-size="18.5" text-anchor="end" font-family="'Liberation Sans',Arial,Helvetica,sans-serif" stroke="#000" stroke-width="0.5">2.5</text><line x1="1599.0" y1="477.1" x2="1603.0" y2="477.1" stroke="#3c3c3c" stroke-width="1.6"/><text x="1593.5" y="483.7" font-size="18.5" text-anchor="end" font-family="'Liberation Sans',Arial,Helvetica,sans-serif" stroke="#000" stroke-width="0.5">3</text><line x1="1599.0" y1="438.7" x2="1603.0" y2="438.7" stroke="#3c3c3c" stroke-width="1.6"/><text x="1593.5" y="445.3" font-size="18.5" text-anchor="end" font-family="'Liberation Sans',Arial,Helvetica,sans-serif" stroke="#000" stroke-width="0.5">3.5</text><line x1="1599.0" y1="400.4" x2="1603.0" y2="400.4" stroke="#3c3c3c" stroke-width="1.6"/><text x="1593.5" y="407.0" font-size="18.5" text-anchor="end" font-family="'Liberation Sans',Arial,Helvetica,sans-serif" stroke="#000" stroke-width="0.5">4</text><line x1="1598.0" y1="715.0" x2="1998.3" y2="715.0" stroke="#3c3c3c" stroke-width="2"/><line x1="1617.5" y1="715.0" x2="1617.5" y2="710.0" stroke="#3c3c3c" stroke-width="1.6"/><line x1="1690.0" y1="715.0" x2="1690.0" y2="710.0" stroke="#3c3c3c" stroke-width="1.6"/><line x1="1762.5" y1="715.0" x2="1762.5" y2="710.0" stroke="#3c3c3c" stroke-width="1.6"/><line x1="1834.9" y1="715.0" x2="1834.9" y2="710.0" stroke="#3c3c3c" stroke-width="1.6"/><line x1="1907.4" y1="715.0" x2="1907.4" y2="710.0" stroke="#3c3c3c" stroke-width="1.6"/><line x1="1979.9" y1="715.0" x2="1979.9" y2="710.0" stroke="#3c3c3c" stroke-width="1.6"/><line x1="55.3" y1="741.7" x2="55.3" y2="1066.8" stroke="#3c3c3c" stroke-width="2"/><line x1="55.3" y1="1023.5" x2="59.3" y2="1023.5" stroke="#3c3c3c" stroke-width="1.6"/><text x="49.8" y="1030.1" font-size="18.5" text-anchor="end" font-family="'Liberation Sans',Arial,Helvetica,sans-serif" stroke="#000" stroke-width="0.5">500</text><line x1="55.3" y1="953.0" x2="59.3" y2="953.0" stroke="#3c3c3c" stroke-width="1.6"/><text x="49.8" y="959.6" font-size="18.5" text-anchor="end" font-family="'Liberation Sans',Arial,Helvetica,sans-serif" stroke="#000" stroke-width="0.5">1000</text><line x1="55.3" y1="882.6" x2="59.3" y2="882.6" stroke="#3c3c3c" stroke-width="1.6"/><text x="49.8" y="889.2" font-size="18.5" text-anchor="end" font-family="'Liberation Sans',Arial,Helvetica,sans-serif" stroke="#000" stroke-width="0.5">1500</text><line x1="55.3" y1="812.2" x2="59.3" y2="812.2" stroke="#3c3c3c" stroke-width="1.6"/><text x="49.8" y="818.8" font-size="18.5" text-anchor="end" font-family="'Liberation Sans',Arial,Helvetica,sans-serif" stroke="#000" stroke-width="0.5">2000</text><line x1="55.3" y1="741.7" x2="59.3" y2="741.7" stroke="#3c3c3c" stroke-width="1.6"/><text x="49.8" y="748.3" font-size="18.5" text-anchor="end" font-family="'Liberation Sans',Arial,Helvetica,sans-serif" stroke="#000" stroke-width="0.5">2500</text><line x1="54.3" y1="1065.8" x2="466.3" y2="1065.8" stroke="#3c3c3c" stroke-width="2"/><line x1="92.1" y1="1065.8" x2="92.1" y2="1060.8" stroke="#3c3c3c" stroke-width="1.6"/><line x1="166.9" y1="1065.8" x2="166.9" y2="1060.8" stroke="#3c3c3c" stroke-width="1.6"/><line x1="241.7" y1="1065.8" x2="241.7" y2="1060.8" stroke="#3c3c3c" stroke-width="1.6"/><line x1="316.5" y1="1065.8" x2="316.5" y2="1060.8" stroke="#3c3c3c" stroke-width="1.6"/><line x1="391.3" y1="1065.8" x2="391.3" y2="1060.8" stroke="#3c3c3c" stroke-width="1.6"/><line x1="466.1" y1="1065.8" x2="466.1" y2="1060.8" stroke="#3c3c3c" stroke-width="1.6"/><line x1="922.2" y1="741.9" x2="922.2" y2="1065.4" stroke="#3c3c3c" stroke-width="2"/><line x1="922.2" y1="1054.4" x2="918.2" y2="1054.4" stroke="#3c3c3c" stroke-width="1.6"/><text x="928.2" y="1061.0" font-size="18.5" text-anchor="start" font-family="'Liberation Sans',Arial,Helvetica,sans-serif" stroke="#000" stroke-width="0.5">0</text><line x1="922.2" y1="991.9" x2="918.2" y2="991.9" stroke="#3c3c3c" stroke-width="1.6"/><text x="928.2" y="998.5" font-size="18.5" text-anchor="start" font-family="'Liberation Sans',Arial,Helvetica,sans-serif" stroke="#000" stroke-width="0.5">2</text><line x1="922.2" y1="929.4" x2="918.2" y2="929.4" stroke="#3c3c3c" stroke-width="1.6"/><text x="928.2" y="936.0" font-size="18.5" text-anchor="start" font-family="'Liberation Sans',Arial,Helvetica,sans-serif" stroke="#000" stroke-width="0.5">4</text><line x1="922.2" y1="866.9" x2="918.2" y2="866.9" stroke="#3c3c3c" stroke-width="1.6"/><text x="928.2" y="873.5" font-size="18.5" text-anchor="start" font-family="'Liberation Sans',Arial,Helvetica,sans-serif" stroke="#000" stroke-width="0.5">6</text><line x1="922.2" y1="804.4" x2="918.2" y2="804.4" stroke="#3c3c3c" stroke-width="1.6"/><text x="928.2" y="811.0" font-size="18.5" text-anchor="start" font-family="'Liberation Sans',Arial,Helvetica,sans-serif" stroke="#000" stroke-width="0.5">8</text><line x1="922.2" y1="741.9" x2="918.2" y2="741.9" stroke="#3c3c3c" stroke-width="1.6"/><text x="928.2" y="748.5" font-size="18.5" text-anchor="start" font-family="'Liberation Sans',Arial,Helvetica,sans-serif" stroke="#000" stroke-width="0.5">10</text><line x1="668.3" y1="1064.4" x2="923.2" y2="1064.4" stroke="#3c3c3c" stroke-width="2"/><line x1="688.1" y1="1064.4" x2="688.1" y2="1059.4" stroke="#3c3c3c" stroke-width="1.6"/><line x1="766.1" y1="1064.4" x2="766.1" y2="1059.4" stroke="#3c3c3c" stroke-width="1.6"/><line x1="844.2" y1="1064.4" x2="844.2" y2="1059.4" stroke="#3c3c3c" stroke-width="1.6"/><line x1="922.2" y1="1064.4" x2="922.2" y2="1059.4" stroke="#3c3c3c" stroke-width="1.6"/><line x1="1017.3" y1="742.9" x2="1017.3" y2="1058.8" stroke="#3c3c3c" stroke-width="2"/><line x1="1017.3" y1="1015.8" x2="1021.3" y2="1015.8" stroke="#3c3c3c" stroke-width="1.6"/><text x="1011.8" y="1022.4" font-size="18.5" text-anchor="end" font-family="'Liberation Sans',Arial,Helvetica,sans-serif" stroke="#000" stroke-width="0.5">400</text><line x1="1017.3" y1="973.8" x2="1021.3" y2="973.8" stroke="#3c3c3c" stroke-width="1.6"/><text x="1011.8" y="980.4" font-size="18.5" text-anchor="end" font-family="'Liberation Sans',Arial,Helvetica,sans-serif" stroke="#000" stroke-width="0.5">600</text><line x1="1017.3" y1="931.8" x2="1021.3" y2="931.8" stroke="#3c3c3c" stroke-width="1.6"/><text x="1011.8" y="938.4" font-size="18.5" text-anchor="end" font-family="'Liberation Sans',Arial,Helvetica,sans-serif" stroke="#000" stroke-width="0.5">800</text><line x1="1017.3" y1="889.8" x2="1021.3" y2="889.8" stroke="#3c3c3c" stroke-width="1.6"/><text x="1011.8" y="896.4" font-size="18.5" text-anchor="end" font-family="'Liberation Sans',Arial,Helvetica,sans-serif" stroke="#000" stroke-width="0.5">1000</text><line x1="1017.3" y1="847.9" x2="1021.3" y2="847.9" stroke="#3c3c3c" stroke-width="1.6"/><text x="1011.8" y="854.5" font-size="18.5" text-anchor="end" font-family="'Liberation Sans',Arial,Helvetica,sans-serif" stroke="#000" stroke-width="0.5">1200</text><line x1="1017.3" y1="805.9" x2="1021.3" y2="805.9" stroke="#3c3c3c" stroke-width="1.6"/><text x="1011.8" y="812.5" font-size="18.5" text-anchor="end" font-family="'Liberation Sans',Arial,Helvetica,sans-serif" stroke="#000" stroke-width="0.5">1400</text><line x1="1017.3" y1="763.9" x2="1021.3" y2="763.9" stroke="#3c3c3c" stroke-width="1.6"/><text x="1011.8" y="770.5" font-size="18.5" text-anchor="end" font-family="'Liberation Sans',Arial,Helvetica,sans-serif" stroke="#000" stroke-width="0.5">1600</text><line x1="1016.3" y1="1057.8" x2="1416.3" y2="1057.8" stroke="#3c3c3c" stroke-width="2"/><line x1="1035.6" y1="1057.8" x2="1035.6" y2="1052.8" stroke="#3c3c3c" stroke-width="1.6"/><line x1="1108.1" y1="1057.8" x2="1108.1" y2="1052.8" stroke="#3c3c3c" stroke-width="1.6"/><line x1="1180.6" y1="1057.8" x2="1180.6" y2="1052.8" stroke="#3c3c3c" stroke-width="1.6"/><line x1="1253.0" y1="1057.8" x2="1253.0" y2="1052.8" stroke="#3c3c3c" stroke-width="1.6"/><line x1="1325.5" y1="1057.8" x2="1325.5" y2="1052.8" stroke="#3c3c3c" stroke-width="1.6"/><line x1="1398.0" y1="1057.8" x2="1398.0" y2="1052.8" stroke="#3c3c3c" stroke-width="1.6"/><line x1="1599.0" y1="743.1" x2="1599.0" y2="1058.8" stroke="#3c3c3c" stroke-width="2"/><line x1="1599.0" y1="1050.1" x2="1603.0" y2="1050.1" stroke="#3c3c3c" stroke-width="1.6"/><text x="1593.5" y="1056.7" font-size="18.5" text-anchor="end" font-family="'Liberation Sans',Arial,Helvetica,sans-serif" stroke="#000" stroke-width="0.5">0</text><line x1="1599.0" y1="1011.7" x2="1603.0" y2="1011.7" stroke="#3c3c3c" stroke-width="1.6"/><text x="1593.5" y="1018.3" font-size="18.5" text-anchor="end" font-family="'Liberation Sans',Arial,Helvetica,sans-serif" stroke="#000" stroke-width="0.5">0.5</text><line x1="1599.0" y1="973.4" x2="1603.0" y2="973.4" stroke="#3c3c3c" stroke-width="1.6"/><text x="1593.5" y="980.0" font-size="18.5" text-anchor="end" font-family="'Liberation Sans',Arial,Helvetica,sans-serif" stroke="#000" stroke-width="0.5">1</text><line x1="1599.0" y1="935.0" x2="1603.0" y2="935.0" stroke="#3c3c3c" stroke-width="1.6"/><text x="1593.5" y="941.6" font-size="18.5" text-anchor="end" font-family="'Liberation Sans',Arial,Helvetica,sans-serif" stroke="#000" stroke-width="0.5">1.5</text><line x1="1599.0" y1="896.6" x2="1603.0" y2="896.6" stroke="#3c3c3c" stroke-width="1.6"/><text x="1593.5" y="903.2" font-size="18.5" text-anchor="end" font-family="'Liberation Sans',Arial,Helvetica,sans-serif" stroke="#000" stroke-width="0.5">2</text><line x1="1599.0" y1="858.2" x2="1603.0" y2="858.2" stroke="#3c3c3c" stroke-width="1.6"/><text x="1593.5" y="864.8" font-size="18.5" text-anchor="end" font-family="'Liberation Sans',Arial,Helvetica,sans-serif" stroke="#000" stroke-width="0.5">2.5</text><line x1="1599.0" y1="819.9" x2="1603.0" y2="819.9" stroke="#3c3c3c" stroke-width="1.6"/><text x="1593.5" y="826.5" font-size="18.5" text-anchor="end" font-family="'Liberation Sans',Arial,Helvetica,sans-serif" stroke="#000" stroke-width="0.5">3</text><line x1="1599.0" y1="781.5" x2="1603.0" y2="781.5" stroke="#3c3c3c" stroke-width="1.6"/><text x="1593.5" y="788.1" font-size="18.5" text-anchor="end" font-family="'Liberation Sans',Arial,Helvetica,sans-serif" stroke="#000" stroke-width="0.5">3.5</text><line x1="1599.0" y1="743.1" x2="1603.0" y2="743.1" stroke="#3c3c3c" stroke-width="1.6"/><text x="1593.5" y="749.7" font-size="18.5" text-anchor="end" font-family="'Liberation Sans',Arial,Helvetica,sans-serif" stroke="#000" stroke-width="0.5">4</text><line x1="1598.0" y1="1057.8" x2="1998.3" y2="1057.8" stroke="#3c3c3c" stroke-width="2"/><line x1="1617.5" y1="1057.8" x2="1617.5" y2="1052.8" stroke="#3c3c3c" stroke-width="1.6"/><line x1="1690.0" y1="1057.8" x2="1690.0" y2="1052.8" stroke="#3c3c3c" stroke-width="1.6"/><line x1="1762.5" y1="1057.8" x2="1762.5" y2="1052.8" stroke="#3c3c3c" stroke-width="1.6"/><line x1="1834.9" y1="1057.8" x2="1834.9" y2="1052.8" stroke="#3c3c3c" stroke-width="1.6"/><line x1="1907.4" y1="1057.8" x2="1907.4" y2="1052.8" stroke="#3c3c3c" stroke-width="1.6"/><line x1="1979.9" y1="1057.8" x2="1979.9" y2="1052.8" stroke="#3c3c3c" stroke-width="1.6"/><line x1="55.3" y1="1076.0" x2="55.3" y2="1401.1" stroke="#3c3c3c" stroke-width="2"/><line x1="55.3" y1="1357.8" x2="59.3" y2="1357.8" stroke="#3c3c3c" stroke-width="1.6"/><text x="49.8" y="1364.4" font-size="18.5" text-anchor="end" font-family="'Liberation Sans',Arial,Helvetica,sans-serif" stroke="#000" stroke-width="0.5">500</text><line x1="55.3" y1="1287.3" x2="59.3" y2="1287.3" stroke="#3c3c3c" stroke-width="1.6"/><text x="49.8" y="1293.9" font-size="18.5" text-anchor="end" font-family="'Liberation Sans',Arial,Helvetica,sans-serif" stroke="#000" stroke-width="0.5">1000</text><line x1="55.3" y1="1216.9" x2="59.3" y2="1216.9" stroke="#3c3c3c" stroke-width="1.6"/><text x="49.8" y="1223.5" font-size="18.5" text-anchor="end" font-family="'Liberation Sans',Arial,Helvetica,sans-serif" stroke="#000" stroke-width="0.5">1500</text><line x1="55.3" y1="1146.5" x2="59.3" y2="1146.5" stroke="#3c3c3c" stroke-width="1.6"/><text x="49.8" y="1153.0" font-size="18.5" text-anchor="end" font-family="'Liberation Sans',Arial,Helvetica,sans-serif" stroke="#000" stroke-width="0.5">2000</text><line x1="55.3" y1="1076.0" x2="59.3" y2="1076.0" stroke="#3c3c3c" stroke-width="1.6"/><text x="49.8" y="1082.6" font-size="18.5" text-anchor="end" font-family="'Liberation Sans',Arial,Helvetica,sans-serif" stroke="#000" stroke-width="0.5">2500</text><line x1="54.3" y1="1400.1" x2="466.3" y2="1400.1" stroke="#3c3c3c" stroke-width="2"/><line x1="92.1" y1="1400.1" x2="92.1" y2="1395.1" stroke="#3c3c3c" stroke-width="1.6"/><text x="92.1" y="1420.7" font-size="18.5" text-anchor="middle" font-family="'Liberation Sans',Arial,Helvetica,sans-serif" stroke="#000" stroke-width="0.5">0</text><line x1="166.9" y1="1400.1" x2="166.9" y2="1395.1" stroke="#3c3c3c" stroke-width="1.6"/><text x="166.9" y="1420.7" font-size="18.5" text-anchor="middle" font-family="'Liberation Sans',Arial,Helvetica,sans-serif" stroke="#000" stroke-width="0.5">0.1</text><line x1="241.7" y1="1400.1" x2="241.7" y2="1395.1" stroke="#3c3c3c" stroke-width="1.6"/><text x="241.7" y="1420.7" font-size="18.5" text-anchor="middle" font-family="'Liberation Sans',Arial,Helvetica,sans-serif" stroke="#000" stroke-width="0.5">0.2</text><line x1="316.5" y1="1400.1" x2="316.5" y2="1395.1" stroke="#3c3c3c" stroke-width="1.6"/><text x="316.5" y="1420.7" font-size="18.5" text-anchor="middle" font-family="'Liberation Sans',Arial,Helvetica,sans-serif" stroke="#000" stroke-width="0.5">0.3</text><line x1="391.3" y1="1400.1" x2="391.3" y2="1395.1" stroke="#3c3c3c" stroke-width="1.6"/><text x="391.3" y="1420.7" font-size="18.5" text-anchor="middle" font-family="'Liberation Sans',Arial,Helvetica,sans-serif" stroke="#000" stroke-width="0.5">0.4</text><line x1="466.1" y1="1400.1" x2="466.1" y2="1395.1" stroke="#3c3c3c" stroke-width="1.6"/><text x="466.1" y="1420.7" font-size="18.5" text-anchor="middle" font-family="'Liberation Sans',Arial,Helvetica,sans-serif" stroke="#000" stroke-width="0.5">0.5</text><line x1="922.2" y1="1076.2" x2="922.2" y2="1399.7" stroke="#3c3c3c" stroke-width="2"/><line x1="922.2" y1="1388.7" x2="918.2" y2="1388.7" stroke="#3c3c3c" stroke-width="1.6"/><text x="928.2" y="1395.3" font-size="18.5" text-anchor="start" font-family="'Liberation Sans',Arial,Helvetica,sans-serif" stroke="#000" stroke-width="0.5">0</text><line x1="922.2" y1="1326.2" x2="918.2" y2="1326.2" stroke="#3c3c3c" stroke-width="1.6"/><text x="928.2" y="1332.8" font-size="18.5" text-anchor="start" font-family="'Liberation Sans',Arial,Helvetica,sans-serif" stroke="#000" stroke-width="0.5">2</text><line x1="922.2" y1="1263.7" x2="918.2" y2="1263.7" stroke="#3c3c3c" stroke-width="1.6"/><text x="928.2" y="1270.3" font-size="18.5" text-anchor="start" font-family="'Liberation Sans',Arial,Helvetica,sans-serif" stroke="#000" stroke-width="0.5">4</text><line x1="922.2" y1="1201.2" x2="918.2" y2="1201.2" stroke="#3c3c3c" stroke-width="1.6"/><text x="928.2" y="1207.8" font-size="18.5" text-anchor="start" font-family="'Liberation Sans',Arial,Helvetica,sans-serif" stroke="#000" stroke-width="0.5">6</text><line x1="922.2" y1="1138.7" x2="918.2" y2="1138.7" stroke="#3c3c3c" stroke-width="1.6"/><text x="928.2" y="1145.3" font-size="18.5" text-anchor="start" font-family="'Liberation Sans',Arial,Helvetica,sans-serif" stroke="#000" stroke-width="0.5">8</text><line x1="922.2" y1="1076.2" x2="918.2" y2="1076.2" stroke="#3c3c3c" stroke-width="1.6"/><text x="928.2" y="1082.8" font-size="18.5" text-anchor="start" font-family="'Liberation Sans',Arial,Helvetica,sans-serif" stroke="#000" stroke-width="0.5">10</text><line x1="668.3" y1="1398.7" x2="923.2" y2="1398.7" stroke="#3c3c3c" stroke-width="2"/><line x1="688.1" y1="1398.7" x2="688.1" y2="1393.7" stroke="#3c3c3c" stroke-width="1.6"/><text x="688.1" y="1419.3" font-size="18.5" text-anchor="middle" font-family="'Liberation Sans',Arial,Helvetica,sans-serif" stroke="#000" stroke-width="0.5">0</text><line x1="766.1" y1="1398.7" x2="766.1" y2="1393.7" stroke="#3c3c3c" stroke-width="1.6"/><text x="766.1" y="1419.3" font-size="18.5" text-anchor="middle" font-family="'Liberation Sans',Arial,Helvetica,sans-serif" stroke="#000" stroke-width="0.5">0.2</text><line x1="844.2" y1="1398.7" x2="844.2" y2="1393.7" stroke="#3c3c3c" stroke-width="1.6"/><text x="844.2" y="1419.3" font-size="18.5" text-anchor="middle" font-family="'Liberation Sans',Arial,Helvetica,sans-serif" stroke="#000" stroke-width="0.5">0.4</text><line x1="922.2" y1="1398.7" x2="922.2" y2="1393.7" stroke="#3c3c3c" stroke-width="1.6"/><text x="922.2" y="1419.3" font-size="18.5" text-anchor="middle" font-family="'Liberation Sans',Arial,Helvetica,sans-serif" stroke="#000" stroke-width="0.5">0.6</text><line x1="1017.3" y1="1085.7" x2="1017.3" y2="1401.5" stroke="#3c3c3c" stroke-width="2"/><line x1="1017.3" y1="1358.5" x2="1021.3" y2="1358.5" stroke="#3c3c3c" stroke-width="1.6"/><text x="1011.8" y="1365.1" font-size="18.5" text-anchor="end" font-family="'Liberation Sans',Arial,Helvetica,sans-serif" stroke="#000" stroke-width="0.5">400</text><line x1="1017.3" y1="1316.5" x2="1021.3" y2="1316.5" stroke="#3c3c3c" stroke-width="1.6"/><text x="1011.8" y="1323.1" font-size="18.5" text-anchor="end" font-family="'Liberation Sans',Arial,Helvetica,sans-serif" stroke="#000" stroke-width="0.5">600</text><line x1="1017.3" y1="1274.6" x2="1021.3" y2="1274.6" stroke="#3c3c3c" stroke-width="1.6"/><text x="1011.8" y="1281.2" font-size="18.5" text-anchor="end" font-family="'Liberation Sans',Arial,Helvetica,sans-serif" stroke="#000" stroke-width="0.5">800</text><line x1="1017.3" y1="1232.6" x2="1021.3" y2="1232.6" stroke="#3c3c3c" stroke-width="1.6"/><text x="1011.8" y="1239.2" font-size="18.5" text-anchor="end" font-family="'Liberation Sans',Arial,Helvetica,sans-serif" stroke="#000" stroke-width="0.5">1000</text><line x1="1017.3" y1="1190.6" x2="1021.3" y2="1190.6" stroke="#3c3c3c" stroke-width="1.6"/><text x="1011.8" y="1197.2" font-size="18.5" text-anchor="end" font-family="'Liberation Sans',Arial,Helvetica,sans-serif" stroke="#000" stroke-width="0.5">1200</text><line x1="1017.3" y1="1148.6" x2="1021.3" y2="1148.6" stroke="#3c3c3c" stroke-width="1.6"/><text x="1011.8" y="1155.2" font-size="18.5" text-anchor="end" font-family="'Liberation Sans',Arial,Helvetica,sans-serif" stroke="#000" stroke-width="0.5">1400</text><line x1="1017.3" y1="1106.6" x2="1021.3" y2="1106.6" stroke="#3c3c3c" stroke-width="1.6"/><text x="1011.8" y="1113.2" font-size="18.5" text-anchor="end" font-family="'Liberation Sans',Arial,Helvetica,sans-serif" stroke="#000" stroke-width="0.5">1600</text><line x1="1016.3" y1="1400.5" x2="1416.3" y2="1400.5" stroke="#3c3c3c" stroke-width="2"/><line x1="1035.6" y1="1400.5" x2="1035.6" y2="1395.5" stroke="#3c3c3c" stroke-width="1.6"/><text x="1035.6" y="1421.1" font-size="18.5" text-anchor="middle" font-family="'Liberation Sans',Arial,Helvetica,sans-serif" stroke="#000" stroke-width="0.5">0</text><line x1="1108.1" y1="1400.5" x2="1108.1" y2="1395.5" stroke="#3c3c3c" stroke-width="1.6"/><text x="1108.1" y="1421.1" font-size="18.5" text-anchor="middle" font-family="'Liberation Sans',Arial,Helvetica,sans-serif" stroke="#000" stroke-width="0.5">0.2</text><line x1="1180.6" y1="1400.5" x2="1180.6" y2="1395.5" stroke="#3c3c3c" stroke-width="1.6"/><text x="1180.6" y="1421.1" font-size="18.5" text-anchor="middle" font-family="'Liberation Sans',Arial,Helvetica,sans-serif" stroke="#000" stroke-width="0.5">0.4</text><line x1="1253.0" y1="1400.5" x2="1253.0" y2="1395.5" stroke="#3c3c3c" stroke-width="1.6"/><text x="1253.0" y="1421.1" font-size="18.5" text-anchor="middle" font-family="'Liberation Sans',Arial,Helvetica,sans-serif" stroke="#000" stroke-width="0.5">0.6</text><line x1="1325.5" y1="1400.5" x2="1325.5" y2="1395.5" stroke="#3c3c3c" stroke-width="1.6"/><text x="1325.5" y="1421.1" font-size="18.5" text-anchor="middle" font-family="'Liberation Sans',Arial,Helvetica,sans-serif" stroke="#000" stroke-width="0.5">0.8</text><line x1="1398.0" y1="1400.5" x2="1398.0" y2="1395.5" stroke="#3c3c3c" stroke-width="1.6"/><text x="1398.0" y="1421.1" font-size="18.5" text-anchor="middle" font-family="'Liberation Sans',Arial,Helvetica,sans-serif" stroke="#000" stroke-width="0.5">1</text><line x1="1599.0" y1="1085.8" x2="1599.0" y2="1401.5" stroke="#3c3c3c" stroke-width="2"/><line x1="1599.0" y1="1392.8" x2="1603.0" y2="1392.8" stroke="#3c3c3c" stroke-width="1.6"/><text x="1593.5" y="1399.4" font-size="18.5" text-anchor="end" font-family="'Liberation Sans',Arial,Helvetica,sans-serif" stroke="#000" stroke-width="0.5">0</text><line x1="1599.0" y1="1354.5" x2="1603.0" y2="1354.5" stroke="#3c3c3c" stroke-width="1.6"/><text x="1593.5" y="1361.1" font-size="18.5" text-anchor="end" font-family="'Liberation Sans',Arial,Helvetica,sans-serif" stroke="#000" stroke-width="0.5">0.5</text><line x1="1599.0" y1="1316.1" x2="1603.0" y2="1316.1" stroke="#3c3c3c" stroke-width="1.6"/><text x="1593.5" y="1322.7" font-size="18.5" text-anchor="end" font-family="'Liberation Sans',Arial,Helvetica,sans-serif" stroke="#000" stroke-width="0.5">1</text><line x1="1599.0" y1="1277.7" x2="1603.0" y2="1277.7" stroke="#3c3c3c" stroke-width="1.6"/><text x="1593.5" y="1284.3" font-size="18.5" text-anchor="end" font-family="'Liberation Sans',Arial,Helvetica,sans-serif" stroke="#000" stroke-width="0.5">1.5</text><line x1="1599.0" y1="1239.3" x2="1603.0" y2="1239.3" stroke="#3c3c3c" stroke-width="1.6"/><text x="1593.5" y="1245.9" font-size="18.5" text-anchor="end" font-family="'Liberation Sans',Arial,Helvetica,sans-serif" stroke="#000" stroke-width="0.5">2</text><line x1="1599.0" y1="1201.0" x2="1603.0" y2="1201.0" stroke="#3c3c3c" stroke-width="1.6"/><text x="1593.5" y="1207.6" font-size="18.5" text-anchor="end" font-family="'Liberation Sans',Arial,Helvetica,sans-serif" stroke="#000" stroke-width="0.5">2.5</text><line x1="1599.0" y1="1162.6" x2="1603.0" y2="1162.6" stroke="#3c3c3c" stroke-width="1.6"/><text x="1593.5" y="1169.2" font-size="18.5" text-anchor="end" font-family="'Liberation Sans',Arial,Helvetica,sans-serif" stroke="#000" stroke-width="0.5">3</text><line x1="1599.0" y1="1124.2" x2="1603.0" y2="1124.2" stroke="#3c3c3c" stroke-width="1.6"/><text x="1593.5" y="1130.8" font-size="18.5" text-anchor="end" font-family="'Liberation Sans',Arial,Helvetica,sans-serif" stroke="#000" stroke-width="0.5">3.5</text><line x1="1599.0" y1="1085.8" x2="1603.0" y2="1085.8" stroke="#3c3c3c" stroke-width="1.6"/><text x="1593.5" y="1092.4" font-size="18.5" text-anchor="end" font-family="'Liberation Sans',Arial,Helvetica,sans-serif" stroke="#000" stroke-width="0.5">4</text><line x1="1598.0" y1="1400.5" x2="1998.3" y2="1400.5" stroke="#3c3c3c" stroke-width="2"/><line x1="1617.5" y1="1400.5" x2="1617.5" y2="1395.5" stroke="#3c3c3c" stroke-width="1.6"/><text x="1617.5" y="1421.1" font-size="18.5" text-anchor="middle" font-family="'Liberation Sans',Arial,Helvetica,sans-serif" stroke="#000" stroke-width="0.5">0</text><line x1="1690.0" y1="1400.5" x2="1690.0" y2="1395.5" stroke="#3c3c3c" stroke-width="1.6"/><text x="1690.0" y="1421.1" font-size="18.5" text-anchor="middle" font-family="'Liberation Sans',Arial,Helvetica,sans-serif" stroke="#000" stroke-width="0.5">0.2</text><line x1="1762.5" y1="1400.5" x2="1762.5" y2="1395.5" stroke="#3c3c3c" stroke-width="1.6"/><text x="1762.5" y="1421.1" font-size="18.5" text-anchor="middle" font-family="'Liberation Sans',Arial,Helvetica,sans-serif" stroke="#000" stroke-width="0.5">0.4</text><line x1="1834.9" y1="1400.5" x2="1834.9" y2="1395.5" stroke="#3c3c3c" stroke-width="1.6"/><text x="1834.9" y="1421.1" font-size="18.5" text-anchor="middle" font-family="'Liberation Sans',Arial,Helvetica,sans-serif" stroke="#000" stroke-width="0.5">0.6</text><line x1="1907.4" y1="1400.5" x2="1907.4" y2="1395.5" stroke="#3c3c3c" stroke-width="1.6"/><text x="1907.4" y="1421.1" font-size="18.5" text-anchor="middle" font-family="'Liberation Sans',Arial,Helvetica,sans-serif" stroke="#000" stroke-width="0.5">0.8</text><line x1="1979.9" y1="1400.5" x2="1979.9" y2="1395.5" stroke="#3c3c3c" stroke-width="1.6"/><text x="1979.9" y="1421.1" font-size="18.5" text-anchor="middle" font-family="'Liberation Sans',Arial,Helvetica,sans-serif" stroke="#000" stroke-width="0.5">1</text><polyline points="82.8,234.1 84.0,234.1 85.3,234.1 86.6,234.1 87.9,234.1 89.2,234.1 90.4,234.1 91.7,234.1 93.0,232.6 94.3,230.5 95.6,228.5 96.9,226.6 98.1,224.8 99.4,223.1 100.7,221.5 102.0,220.0 103.3,218.5 104.5,217.1 105.8,215.7 107.1,214.2 108.4,212.8 109.7,211.4 111.0,209.9 112.2,208.4 113.5,206.9 114.8,205.3 116.1,203.7 117.4,202.1 118.6,200.5 119.9,198.8 121.2,197.2 122.5,195.5 123.8,193.9 125.1,192.3 126.3,190.7 127.6,189.1 128.9,187.6 130.2,186.1 131.5,184.6 132.8,183.1 134.0,181.7 135.3,180.3 136.6,179.0 137.9,177.6 139.2,176.3 140.4,175.0 141.7,173.7 143.0,172.4 144.3,171.1 145.6,169.8 146.9,168.5 148.1,167.1 149.4,165.8 150.7,164.5 152.0,163.1 153.3,161.8 154.5,160.4 155.8,159.0 157.1,157.6 158.4,156.2 159.7,154.7 161.0,153.3 162.2,151.9 163.5,150.5 164.8,149.2 166.1,147.8 167.4,146.5 168.7,145.2 169.9,143.9 171.2,142.7 172.5,141.5 173.8,140.4 175.1,139.3 176.3,138.2 177.6,137.2 178.9,136.1 180.2,135.1 181.5,134.1 182.8,133.1 184.0,132.2 185.3,131.2 186.6,130.2 187.9,129.2 189.2,128.2 190.4,127.2 191.7,126.2 193.0,125.2 194.3,124.2 195.6,123.1 196.9,122.1 198.1,121.1 199.4,120.1 200.7,119.2 202.0,118.2 203.3,117.3 204.6,116.3 205.8,115.4 207.1,114.4 208.4,113.4 209.7,112.4 211.0,111.4 212.2,110.5 213.5,109.6 214.8,108.7 216.1,107.9 217.4,107.2 218.7,106.6 219.9,106.1 221.2,105.6 222.5,105.3 223.8,104.9 225.1,104.5 226.3,104.2 227.6,104.0 228.9,103.8 230.2,103.7 231.5,103.7 232.8,103.7 234.0,103.8 235.3,104.0 236.6,104.2 237.9,104.4 239.2,104.6 240.4,104.9 241.7,105.1 243.0,105.4 244.3,105.7 245.6,106.1 246.9,106.6 248.1,107.1 249.4,107.8 250.7,108.4 252.0,109.0 253.3,109.6 254.6,110.2 255.8,110.8 257.1,111.4 258.4,112.0 259.7,112.6 261.0,113.2 262.2,113.9 263.5,114.5 264.8,115.1 266.1,115.7 267.4,116.4 268.7,117.0 269.9,117.7 271.2,118.3 272.5,119.0 273.8,119.6 275.1,120.3 276.3,121.0 277.6,121.6 278.9,122.3 280.2,122.9 281.5,123.6 282.8,124.3 284.0,124.9 285.3,125.6 286.6,126.2 287.9,126.9 289.2,127.6 290.5,128.2 291.7,128.9 293.0,129.5 294.3,130.1 295.6,130.8 296.9,131.4 298.1,132.1 299.4,132.7 300.7,133.4 302.0,134.0 303.3,134.6 304.6,135.3 305.8,135.9 307.1,136.6 308.4,137.2 309.7,137.9 311.0,138.5 312.2,139.2 313.5,139.8 314.8,140.5 316.1,141.1 317.4,141.7 318.7,142.4 319.9,143.0 321.2,143.7 322.5,144.3 323.8,144.9 325.1,145.6 326.4,146.2 327.6,146.8 328.9,147.5 330.2,148.1 331.5,148.7 332.8,149.4 334.0,150.0 335.3,150.6 336.6,151.2 337.9,151.8 339.2,152.5 340.5,153.1 341.7,153.7 343.0,154.3 344.3,154.9 345.6,155.5 346.9,156.1 348.1,156.7 349.4,157.3 350.7,157.9 352.0,158.6 353.3,159.2 354.6,159.8 355.8,160.4 357.1,161.0 358.4,161.6 359.7,162.2 361.0,162.8 362.2,163.4 363.5,164.0 364.8,164.6 366.1,165.2 367.4,165.8 368.7,166.4 369.9,167.0 371.2,167.6 372.5,168.2 373.8,168.8 375.1,169.4 376.4,170.0 377.6,170.6 378.9,171.2 380.2,171.8 381.5,172.4 382.8,173.0 384.0,173.5 385.3,174.1 386.6,174.7 387.9,175.3 389.2,175.9 390.5,176.5 391.7,177.1 393.0,177.7 394.3,178.3 395.6,178.8 396.9,179.4 398.1,180.0 399.4,180.6 400.7,181.2 402.0,181.8 403.3,182.3 404.6,182.9 405.8,183.5 407.1,184.1 408.4,184.7 409.7,185.2 411.0,185.8 412.3,186.4 413.5,187.0 414.8,187.5 416.1,188.1 417.4,188.7 418.7,189.3 419.9,189.8 421.2,190.4 422.5,191.0 423.8,191.5 425.1,192.1 426.4,192.7 427.6,193.2 428.9,193.8 430.2,194.4 431.5,194.9 432.8,195.5 434.0,196.1 435.3,196.6 436.6,197.2 437.9,197.7 439.2,198.3 440.5,198.8 441.7,199.4 443.0,200.0 444.3,200.5 445.6,201.1 446.9,201.6 448.2,202.2 449.4,202.7 450.7,203.3 452.0,203.8 453.3,204.4 454.6,204.9 455.8,205.5 457.1,206.0 458.4,206.5 459.7,207.1 461.0,207.6 462.3,208.2 463.5,208.7 464.8,209.2 466.1,209.8" fill="none" stroke="#333" stroke-width="2.6" stroke-linejoin="round"/><polyline points="92.1,234.1 98.4,235.7 104.8,237.2 111.1,238.7 117.5,240.1 123.8,241.6 130.1,243.1 136.5,244.6 142.8,246.0 149.2,247.5 155.5,249.0 161.8,250.4 168.2,251.8 174.5,253.3 180.8,254.7 187.2,256.1 193.5,257.5 199.9,258.9 206.2,260.3 212.5,261.7 218.9,263.1 225.2,264.5 231.6,265.9 237.9,267.2 244.2,268.6 250.6,270.0 256.9,271.3 263.3,272.6 269.6,274.0 275.9,275.3 282.3,276.6 288.6,277.9 294.9,279.3 301.3,280.6 307.6,281.9 314.0,283.1 320.3,284.4 326.6,285.7 333.0,287.0 339.3,288.2 345.7,289.5 352.0,290.8 358.3,292.0 364.7,293.2 371.0,294.5 377.4,295.7 383.7,296.9 390.0,298.1 396.4,299.3 402.7,300.5 409.0,301.7 415.4,302.9 421.7,304.1 428.1,305.3 434.4,306.4 440.7,307.6 447.1,308.7 453.4,309.9 459.8,311.0 466.1,312.2" fill="none" stroke="#2e2e2e" stroke-width="3.2" stroke-linejoin="round" stroke-dasharray="8.5 4.7"/><line x1="224.0" y1="73.1" x2="224.0" y2="396.2" stroke="#222" stroke-width="2" stroke-dasharray="2 2.8"/><polyline points="688.1,385.8 688.9,385.8 689.6,385.7 690.4,385.7 691.1,385.6 691.9,385.5 692.6,385.4 693.4,385.2 694.2,385.0 694.9,384.9 695.7,384.7 696.4,384.4 697.2,384.2 697.9,384.0 698.7,383.7 699.5,383.4 700.2,383.1 701.0,382.7 701.7,382.1 702.5,381.5 703.2,380.7 704.0,379.9 704.8,379.0 705.5,378.1 706.3,377.1 707.0,376.2 707.8,375.2 708.5,374.1 709.3,372.9 710.0,371.6 710.8,370.3 711.6,368.9 712.3,367.5 713.1,366.0 713.8,364.5 714.6,362.9 715.3,361.2 716.1,359.5 716.9,357.8 717.6,356.1 718.4,354.3 719.1,352.5 719.9,350.7 720.6,348.9 721.4,347.0 722.2,345.0 722.9,343.0 723.7,340.8 724.4,338.6 725.2,336.3 725.9,334.0 726.7,331.6 727.5,329.2 728.2,326.8 729.0,324.3 729.7,321.8 730.5,319.4 731.2,316.8 732.0,314.1 732.8,311.4 733.5,308.6 734.3,305.7 735.0,302.9 735.8,300.0 736.5,297.2 737.3,294.4 738.1,291.6 738.8,289.0 739.6,286.5 740.3,284.0 741.1,281.7 741.8,279.4 742.6,276.8 743.3,274.3 744.1,271.7 744.9,269.1 745.6,266.6 746.4,264.3 747.1,262.1 747.9,260.2 748.6,258.6 749.4,257.3 750.2,256.4 750.9,255.9 751.7,255.9 752.4,256.3 753.2,257.1 753.9,258.3 754.7,259.8 755.5,261.5 756.2,263.3 757.0,265.3 757.7,267.3 758.5,269.4 759.2,271.8 760.0,274.7 760.8,278.0 761.5,281.7 762.3,285.5 763.0,289.5 763.8,293.5 764.5,297.4 765.3,301.2 766.1,304.9 766.8,308.9 767.6,313.1 768.3,317.4 769.1,321.7 769.8,326.0 770.6,330.2 771.4,334.2 772.1,338.0 772.9,341.5 773.6,344.6 774.4,347.3 775.1,349.5 775.9,351.6 776.7,353.6 777.4,355.6 778.2,357.4 778.9,359.1 779.7,360.8 780.4,362.4 781.2,363.9 781.9,365.3 782.7,366.6 783.5,367.8 784.2,368.9 785.0,370.0 785.7,370.9 786.5,371.8 787.2,372.6 788.0,373.5 788.8,374.2 789.5,375.0 790.3,375.8 791.0,376.5 791.8,377.2 792.5,377.8 793.3,378.4 794.1,379.0 794.8,379.6 795.6,380.1 796.3,380.6 797.1,381.0 797.8,381.4 798.6,381.7 799.4,382.0 800.1,382.3 800.9,382.5 801.6,382.7 802.4,382.8 803.1,383.0 803.9,383.2 804.7,383.3 805.4,383.5 806.2,383.6 806.9,383.7 807.7,383.9 808.4,384.0 809.2,384.1 810.0,384.2 810.7,384.3 811.5,384.4 812.2,384.5 813.0,384.6 813.7,384.6 814.5,384.7 815.2,384.8 816.0,384.8 816.8,384.9 817.5,384.9 818.3,384.9 819.0,385.0 819.8,385.0 820.5,385.1 821.3,385.1 822.1,385.2 822.8,385.2 823.6,385.2 824.3,385.3 825.1,385.3 825.8,385.3 826.6,385.4 827.4,385.4 828.1,385.4 828.9,385.5 829.6,385.5 830.4,385.5 831.1,385.6 831.9,385.6 832.7,385.6 833.4,385.6 834.2,385.7 834.9,385.7 835.7,385.7 836.4,385.7 837.2,385.7 838.0,385.7 838.7,385.8 839.5,385.8 840.2,385.8 841.0,385.8 841.7,385.8 842.5,385.8 843.3,385.8 844.0,385.8 844.8,385.8 845.5,385.8 846.3,385.8 847.0,385.8 847.8,385.8 848.6,385.8 849.3,385.8 850.1,385.8 850.8,385.8 851.6,385.8 852.3,385.8 853.1,385.8 853.8,385.8 854.6,385.8 855.4,385.8 856.1,385.8 856.9,385.8 857.6,385.8 858.4,385.8 859.1,385.8 859.9,385.8 860.7,385.8 861.4,385.8 862.2,385.8 862.9,385.8 863.7,385.8 864.4,385.8 865.2,385.8 866.0,385.8 866.7,385.8 867.5,385.8 868.2,385.8 869.0,385.8 869.7,385.8 870.5,385.8 871.3,385.8 872.0,385.8 872.8,385.8 873.5,385.8 874.3,385.8 875.0,385.8 875.8,385.8 876.6,385.8 877.3,385.8 878.1,385.8 878.8,385.8 879.6,385.8 880.3,385.8 881.1,385.8 881.9,385.8 882.6,385.8 883.4,385.8 884.1,385.8 884.9,385.8 885.6,385.8 886.4,385.8 887.2,385.8 887.9,385.8 888.7,385.8 889.4,385.8 890.2,385.8 890.9,385.8 891.7,385.8 892.4,385.8 893.2,385.8 894.0,385.8 894.7,385.8 895.5,385.8 896.2,385.8 897.0,385.8 897.7,385.8 898.5,385.8 899.3,385.8 900.0,385.8 900.8,385.8 901.5,385.8 902.3,385.8 903.0,385.8 903.8,385.8 904.6,385.8 905.3,385.8 906.1,385.8 906.8,385.8 907.6,385.8 908.3,385.8 909.1,385.8 909.9,385.8 910.6,385.8 911.4,385.8 912.1,385.8 912.9,385.8 913.6,385.8 914.4,385.8" fill="none" stroke="#444" stroke-width="2.6" stroke-linejoin="round"/><line x1="756.9" y1="125.6" x2="756.9" y2="394.8" stroke="#222" stroke-width="2" stroke-dasharray="2 2.8"/><polyline points="1035.6,194.3 1036.8,193.3 1038.0,192.3 1039.2,191.3 1040.4,190.3 1041.7,189.3 1042.9,188.3 1044.1,187.3 1045.3,186.3 1046.5,185.3 1047.7,184.3 1048.9,183.4 1050.1,182.4 1051.4,181.4 1052.6,180.4 1053.8,179.5 1055.0,178.5 1056.2,177.5 1057.4,176.6 1058.6,175.6 1059.8,174.6 1061.1,173.7 1062.3,172.7 1063.5,171.7 1064.7,170.8 1065.9,169.8 1067.1,168.9 1068.3,167.9 1069.5,166.9 1070.7,166.0 1072.0,165.0 1073.2,164.1 1074.4,163.1 1075.6,162.2 1076.8,161.2 1078.0,160.2 1079.2,159.3 1080.4,158.3 1081.7,157.4 1082.9,156.4 1084.1,155.5 1085.3,154.5 1086.5,153.5 1087.7,152.6 1088.9,151.6 1090.1,150.7 1091.4,149.7 1092.6,148.8 1093.8,147.8 1095.0,146.8 1096.2,145.9 1097.4,144.9 1098.6,144.0 1099.8,143.0 1101.1,142.0 1102.3,141.1 1103.5,140.1 1104.7,139.1 1105.9,138.2 1107.1,137.2 1108.3,136.2 1109.5,135.3 1110.7,134.3 1112.0,133.3 1113.2,132.3 1114.4,131.3 1115.6,130.3 1116.8,129.3 1118.0,128.3 1119.2,127.3 1120.4,126.4 1121.7,125.4 1122.9,124.4 1124.1,123.4 1125.3,122.4 1126.5,121.4 1127.7,120.4 1128.9,119.4 1130.1,118.4 1131.4,117.4 1132.6,116.4 1133.8,115.4 1135.0,114.4 1136.2,113.4 1137.4,112.4 1138.6,111.4 1139.8,110.4 1141.0,109.5 1142.3,108.5 1143.5,107.5 1144.7,106.5 1145.9,105.6 1147.1,104.6 1148.3,103.7 1149.5,102.7 1150.7,101.8 1152.0,100.8 1153.2,99.9 1154.4,99.0 1155.6,98.0 1156.8,97.1 1158.0,96.2 1159.2,95.3 1160.4,94.4 1161.7,93.5 1162.9,92.6 1164.1,91.7 1165.3,90.9 1166.5,90.0 1167.7,89.1 1168.9,88.2 1170.1,87.3 1171.3,86.5 1172.6,85.6 1173.8,84.8 1175.0,84.0 1176.2,83.2 1177.4,82.4 1178.6,81.7 1179.8,80.9 1181.0,80.2 1182.3,79.5 1183.5,78.8 1184.7,78.1 1185.9,77.3 1187.1,76.7 1188.3,76.0 1189.5,75.3 1190.7,74.7 1192.0,74.1 1193.2,73.5 1194.4,73.0 1195.6,72.5 1196.8,72.1 1198.0,71.7 1199.2,71.3 1200.4,70.9 1201.6,70.6 1202.9,70.4 1204.1,70.4 1205.3,70.6 1206.5,71.0 1207.7,71.4 1208.9,71.9 1210.1,72.5 1211.3,73.1 1212.6,73.9 1213.8,74.8 1215.0,76.0 1216.2,77.2 1217.4,78.5 1218.6,79.8 1219.8,81.2 1221.0,82.7 1222.3,84.2 1223.5,85.8 1224.7,87.4 1225.9,89.1 1227.1,90.9 1228.3,92.7 1229.5,94.6 1230.7,96.4 1232.0,98.3 1233.2,100.3 1234.4,102.2 1235.6,104.2 1236.8,106.1 1238.0,108.1 1239.2,110.1 1240.4,112.0 1241.6,114.0 1242.9,115.9 1244.1,117.8 1245.3,119.7 1246.5,121.5 1247.7,123.3 1248.9,125.2 1250.1,127.0 1251.3,128.8 1252.6,130.7 1253.8,132.5 1255.0,134.4 1256.2,136.2 1257.4,138.1 1258.6,139.9 1259.8,141.8 1261.0,143.6 1262.3,145.5 1263.5,147.3 1264.7,149.2 1265.9,151.0 1267.1,152.9 1268.3,154.8 1269.5,156.6 1270.7,158.5 1271.9,160.4 1273.2,162.2 1274.4,164.1 1275.6,166.0 1276.8,167.8 1278.0,169.7 1279.2,171.6 1280.4,173.4 1281.6,175.3 1282.9,177.2 1284.1,179.1 1285.3,180.9 1286.5,182.8 1287.7,184.7 1288.9,186.5 1290.1,188.4 1291.3,190.3 1292.6,192.2 1293.8,194.0 1295.0,195.9 1296.2,197.8 1297.4,199.7 1298.6,201.5 1299.8,203.4 1301.0,205.3 1302.2,207.1 1303.5,209.0 1304.7,210.9 1305.9,212.7 1307.1,214.6 1308.3,216.5 1309.5,218.3 1310.7,220.2 1311.9,222.0 1313.2,223.9 1314.4,225.8 1315.6,227.6 1316.8,229.5 1318.0,231.3 1319.2,233.2 1320.4,235.0 1321.6,236.9 1322.9,238.7 1324.1,240.5 1325.3,242.4 1326.5,244.2 1327.7,246.1 1328.9,247.9 1330.1,249.7 1331.3,251.5 1332.5,253.4 1333.8,255.2 1335.0,257.0 1336.2,258.8 1337.4,260.7 1338.6,262.5 1339.8,264.3 1341.0,266.1 1342.2,267.9 1343.5,269.7 1344.7,271.5 1345.9,273.4 1347.1,275.2 1348.3,277.0 1349.5,278.8 1350.7,280.6 1351.9,282.4 1353.2,284.2 1354.4,286.0 1355.6,287.8 1356.8,289.6 1358.0,291.4 1359.2,293.2 1360.4,295.0 1361.6,296.8 1362.9,298.6 1364.1,300.4 1365.3,302.2 1366.5,304.0 1367.7,305.8 1368.9,307.5 1370.1,309.3 1371.3,311.1 1372.5,312.9 1373.8,314.7 1375.0,316.5 1376.2,318.3 1377.4,320.1 1378.6,321.8 1379.8,323.6 1381.0,325.4 1382.2,327.2 1383.5,329.0 1384.7,330.7 1385.9,332.5 1387.1,334.3 1388.3,336.1 1389.5,337.8 1390.7,339.6 1391.9,341.4 1393.2,343.1 1394.4,344.9 1395.6,346.7 1396.8,348.4 1398.0,350.2" fill="none" stroke="#333" stroke-width="2.6" stroke-linejoin="round"/><polyline points="1035.6,194.3 1043.0,197.9 1050.4,201.6 1057.8,205.3 1065.2,208.9 1072.6,212.5 1080.0,216.1 1087.4,219.6 1094.8,223.2 1102.2,226.7 1109.6,230.2 1117.0,233.7 1124.4,237.1 1131.7,240.5 1139.1,244.0 1146.5,247.3 1153.9,250.7 1161.3,254.1 1168.7,257.4 1176.1,260.7 1183.5,264.0 1190.9,267.3 1198.3,270.5 1205.7,273.7 1213.1,276.9 1220.5,280.1 1227.9,283.3 1235.3,286.4 1242.7,289.5 1250.1,292.6 1257.5,295.7 1264.9,298.8 1272.3,301.8 1279.7,304.8 1287.1,307.8 1294.5,310.8 1301.9,313.7 1309.2,316.7 1316.6,319.6 1324.0,322.5 1331.4,325.3 1338.8,328.2 1346.2,331.0 1353.6,333.8 1361.0,336.6 1368.4,339.4 1375.8,342.1 1383.2,344.8 1390.6,347.5 1398.0,350.2" fill="none" stroke="#2e2e2e" stroke-width="3.0" stroke-linejoin="round" stroke-dasharray="10 5"/><line x1="1207.2" y1="57.4" x2="1207.2" y2="371.2" stroke="#222" stroke-width="2" stroke-dasharray="2 2.8"/><polyline points="1617.5,364.6 1618.4,364.6 1619.3,364.5 1620.2,364.5 1621.1,364.4 1622.0,364.4 1622.9,364.4 1623.9,364.3 1624.8,364.3 1625.7,364.3 1626.6,364.2 1627.5,364.2 1628.4,364.1 1629.3,364.1 1630.2,364.1 1631.1,364.0 1632.0,364.0 1632.9,363.9 1633.8,363.9 1634.8,363.9 1635.7,363.8 1636.6,363.8 1637.5,363.8 1638.4,363.7 1639.3,363.7 1640.2,363.6 1641.1,363.6 1642.0,363.6 1642.9,363.5 1643.8,363.5 1644.7,363.4 1645.7,363.4 1646.6,363.4 1647.5,363.3 1648.4,363.3 1649.3,363.3 1650.2,363.2 1651.1,363.2 1652.0,363.1 1652.9,363.1 1653.8,363.1 1654.7,363.0 1655.6,362.9 1656.6,362.8 1657.5,362.7 1658.4,362.6 1659.3,362.5 1660.2,362.4 1661.1,362.3 1662.0,362.2 1662.9,362.1 1663.8,362.0 1664.7,361.9 1665.6,361.8 1666.5,361.7 1667.5,361.6 1668.4,361.5 1669.3,361.4 1670.2,361.3 1671.1,361.2 1672.0,361.1 1672.9,361.0 1673.8,360.9 1674.7,360.8 1675.6,360.7 1676.5,360.7 1677.4,360.6 1678.4,360.5 1679.3,360.4 1680.2,360.3 1681.1,360.2 1682.0,360.1 1682.9,360.0 1683.8,359.8 1684.7,359.6 1685.6,359.4 1686.5,359.2 1687.4,359.0 1688.3,358.8 1689.3,358.6 1690.2,358.4 1691.1,358.2 1692.0,358.1 1692.9,357.9 1693.8,357.7 1694.7,357.5 1695.6,357.3 1696.5,357.1 1697.4,356.9 1698.3,356.7 1699.2,356.5 1700.2,356.3 1701.1,356.2 1702.0,356.0 1702.9,355.8 1703.8,355.6 1704.7,355.4 1705.6,355.2 1706.5,355.0 1707.4,354.8 1708.3,354.6 1709.2,354.4 1710.1,354.3 1711.1,354.1 1712.0,353.9 1712.9,353.7 1713.8,353.5 1714.7,353.1 1715.6,352.5 1716.5,351.9 1717.4,351.4 1718.3,350.8 1719.2,350.2 1720.1,349.6 1721.0,349.0 1722.0,348.4 1722.9,347.8 1723.8,347.3 1724.7,346.7 1725.6,346.1 1726.5,345.5 1727.4,344.9 1728.3,344.3 1729.2,343.7 1730.1,343.1 1731.0,342.6 1731.9,342.0 1732.9,341.4 1733.8,340.8 1734.7,340.2 1735.6,339.6 1736.5,339.0 1737.4,338.5 1738.3,337.9 1739.2,337.3 1740.1,336.7 1741.0,336.1 1741.9,335.5 1742.8,334.9 1743.7,333.7 1744.7,331.8 1745.6,330.0 1746.5,328.2 1747.4,326.3 1748.3,324.5 1749.2,322.7 1750.1,320.8 1751.0,319.0 1751.9,317.2 1752.8,315.3 1753.7,313.5 1754.6,311.7 1755.6,309.8 1756.5,308.0 1757.4,306.2 1758.3,304.3 1759.2,302.3 1760.1,300.1 1761.0,297.8 1761.9,295.6 1762.8,293.3 1763.7,291.1 1764.6,288.8 1765.5,286.6 1766.5,284.3 1767.4,282.1 1768.3,279.8 1769.2,277.6 1770.1,275.3 1771.0,273.1 1771.9,270.8 1772.8,268.6 1773.7,266.3 1774.6,264.1 1775.5,261.8 1776.4,259.6 1777.4,257.3 1778.3,255.1 1779.2,252.9 1780.1,252.0 1781.0,251.1 1781.9,250.2 1782.8,249.3 1783.7,248.3 1784.6,247.4 1785.5,246.5 1786.4,248.7 1787.3,251.4 1788.3,254.1 1789.2,256.7 1790.1,259.4 1791.0,262.1 1791.9,264.7 1792.8,268.9 1793.7,273.7 1794.6,278.6 1795.5,283.4 1796.4,288.2 1797.3,293.1 1798.2,297.9 1799.2,302.7 1800.1,307.6 1801.0,312.4 1801.9,317.2 1802.8,322.1 1803.7,326.9 1804.6,331.7 1805.5,336.6 1806.4,338.6 1807.3,340.4 1808.2,342.1 1809.1,343.9 1810.1,345.7 1811.0,347.4 1811.9,349.2 1812.8,351.0 1813.7,352.8 1814.6,354.5 1815.5,355.1 1816.4,355.6 1817.3,356.2 1818.2,356.7 1819.1,357.2 1820.0,357.7 1821.0,358.2 1821.9,358.8 1822.8,359.3 1823.7,359.8 1824.6,360.3 1825.5,360.8 1826.4,361.4 1827.3,361.9 1828.2,362.3 1829.1,362.4 1830.0,362.5 1830.9,362.6 1831.9,362.6 1832.8,362.7 1833.7,362.8 1834.6,362.9 1835.5,363.0 1836.4,363.1 1837.3,363.1 1838.2,363.2 1839.1,363.3 1840.0,363.4 1840.9,363.5 1841.8,363.6 1842.8,363.7 1843.7,363.7 1844.6,363.8 1845.5,363.9 1846.4,364.0 1847.3,364.1 1848.2,364.2 1849.1,364.2 1850.0,364.3 1850.9,364.4 1851.8,364.5 1852.7,364.6 1853.7,364.6 1854.6,364.6 1855.5,364.6 1856.4,364.6 1857.3,364.6 1858.2,364.6 1859.1,364.6 1860.0,364.6 1860.9,364.6 1861.8,364.6 1862.7,364.6 1863.6,364.6 1864.5,364.6 1865.5,364.6 1866.4,364.6 1867.3,364.6 1868.2,364.6 1869.1,364.6 1870.0,364.6 1870.9,364.6 1871.8,364.6 1872.7,364.6 1873.6,364.6 1874.5,364.6 1875.4,364.6 1876.4,364.6 1877.3,364.6 1878.2,364.6 1879.1,364.6 1880.0,364.6 1880.9,364.6 1881.8,364.6 1882.7,364.6 1883.6,364.6 1884.5,364.6 1885.4,364.6 1886.3,364.6 1887.3,364.6 1888.2,364.6 1889.1,364.6 1890.0,364.6 1890.9,364.6 1891.8,364.6 1892.7,364.6 1893.6,364.6 1894.5,364.6 1895.4,364.6 1896.3,364.6 1897.2,364.6 1898.2,364.6 1899.1,364.6 1900.0,364.6 1900.9,364.6 1901.8,364.6 1902.7,364.6 1903.6,364.6 1904.5,364.6 1905.4,364.6 1906.3,364.6 1907.2,364.6 1908.1,364.6 1909.1,364.6 1910.0,364.6 1910.9,364.6 1911.8,364.6 1912.7,364.6 1913.6,364.6 1914.5,364.6 1915.4,364.6 1916.3,364.6 1917.2,364.6 1918.1,364.6 1919.0,364.6 1920.0,364.6 1920.9,364.6 1921.8,364.6 1922.7,364.6 1923.6,364.6 1924.5,364.6 1925.4,364.6 1926.3,364.6 1927.2,364.6 1928.1,364.6 1929.0,364.6 1929.9,364.6 1930.9,364.6 1931.8,364.6 1932.7,364.6 1933.6,364.6 1934.5,364.6 1935.4,364.6 1936.3,364.6 1937.2,364.6 1938.1,364.6 1939.0,364.6 1939.9,364.6 1940.8,364.6 1941.8,364.6 1942.7,364.6 1943.6,364.6 1944.5,364.6 1945.4,364.6 1946.3,364.6 1947.2,364.6 1948.1,364.6 1949.0,364.6 1949.9,364.6 1950.8,364.6 1951.7,364.6 1952.7,364.6 1953.6,364.6 1954.5,364.6 1955.4,364.6 1956.3,364.6 1957.2,364.6 1958.1,364.6 1959.0,364.6 1959.9,364.6 1960.8,364.6 1961.7,364.6 1962.6,364.6 1963.6,364.6 1964.5,364.6 1965.4,364.6 1966.3,364.6 1967.2,364.6 1968.1,364.6 1969.0,364.6 1969.9,364.6 1970.8,364.6 1971.7,364.6 1972.6,364.6 1973.5,364.6 1974.5,364.6 1975.4,364.6 1976.3,364.6 1977.2,364.6 1978.1,364.6 1979.0,364.6 1979.9,364.6" fill="none" stroke="#444" stroke-width="2.6" stroke-linejoin="round"/><line x1="1789.1" y1="57.6" x2="1789.1" y2="371.3" stroke="#222" stroke-width="2" stroke-dasharray="2 2.8"/><polyline points="82.8,568.4 84.0,568.4 85.3,568.4 86.6,568.4 87.9,568.4 89.2,568.4 90.4,568.4 91.7,568.4 93.0,566.9 94.3,564.8 95.6,562.8 96.9,560.9 98.1,559.1 99.4,557.4 100.7,555.8 102.0,554.3 103.3,552.8 104.5,551.4 105.8,550.0 107.1,548.5 108.4,547.1 109.7,545.7 111.0,544.2 112.2,542.7 113.5,541.2 114.8,539.6 116.1,538.0 117.4,536.4 118.6,534.8 119.9,533.1 121.2,531.5 122.5,529.8 123.8,528.2 125.1,526.6 126.3,525.0 127.6,523.4 128.9,521.9 130.2,520.4 131.5,518.9 132.8,517.4 134.0,516.0 135.3,514.6 136.6,513.3 137.9,511.9 139.2,510.6 140.4,509.3 141.7,508.0 143.0,506.7 144.3,505.4 145.6,504.1 146.9,502.8 148.1,501.4 149.4,500.1 150.7,498.8 152.0,497.4 153.3,496.1 154.5,494.7 155.8,493.3 157.1,491.9 158.4,490.5 159.7,489.0 161.0,487.6 162.2,486.2 163.5,484.8 164.8,483.5 166.1,482.1 167.4,480.8 168.7,479.5 169.9,478.2 171.2,477.0 172.5,475.8 173.8,474.7 175.1,473.6 176.3,472.5 177.6,471.5 178.9,470.4 180.2,469.4 181.5,468.4 182.8,467.4 184.0,466.5 185.3,465.5 186.6,464.5 187.9,463.5 189.2,462.5 190.4,461.5 191.7,460.5 193.0,459.5 194.3,458.5 195.6,457.4 196.9,456.4 198.1,455.4 199.4,454.4 200.7,453.5 202.0,452.5 203.3,451.6 204.6,450.6 205.8,449.7 207.1,448.7 208.4,447.7 209.7,446.7 211.0,445.7 212.2,444.8 213.5,443.9 214.8,443.0 216.1,442.2 217.4,441.5 218.7,440.9 219.9,440.4 221.2,439.9 222.5,439.6 223.8,439.2 225.1,438.8 226.3,438.5 227.6,438.3 228.9,438.1 230.2,438.0 231.5,438.0 232.8,438.0 234.0,438.1 235.3,438.3 236.6,438.5 237.9,438.7 239.2,438.9 240.4,439.2 241.7,439.4 243.0,439.7 244.3,440.0 245.6,440.4 246.9,440.9 248.1,441.4 249.4,442.1 250.7,442.7 252.0,443.3 253.3,443.9 254.6,444.5 255.8,445.1 257.1,445.7 258.4,446.3 259.7,446.9 261.0,447.5 262.2,448.2 263.5,448.8 264.8,449.4 266.1,450.0 267.4,450.7 268.7,451.3 269.9,452.0 271.2,452.6 272.5,453.3 273.8,453.9 275.1,454.6 276.3,455.3 277.6,455.9 278.9,456.6 280.2,457.2 281.5,457.9 282.8,458.6 284.0,459.2 285.3,459.9 286.6,460.5 287.9,461.2 289.2,461.9 290.5,462.5 291.7,463.2 293.0,463.8 294.3,464.4 295.6,465.1 296.9,465.7 298.1,466.4 299.4,467.0 300.7,467.7 302.0,468.3 303.3,468.9 304.6,469.6 305.8,470.2 307.1,470.9 308.4,471.5 309.7,472.2 311.0,472.8 312.2,473.5 313.5,474.1 314.8,474.8 316.1,475.4 317.4,476.0 318.7,476.7 319.9,477.3 321.2,478.0 322.5,478.6 323.8,479.2 325.1,479.9 326.4,480.5 327.6,481.1 328.9,481.8 330.2,482.4 331.5,483.0 332.8,483.7 334.0,484.3 335.3,484.9 336.6,485.5 337.9,486.1 339.2,486.8 340.5,487.4 341.7,488.0 343.0,488.6 344.3,489.2 345.6,489.8 346.9,490.4 348.1,491.0 349.4,491.6 350.7,492.2 352.0,492.9 353.3,493.5 354.6,494.1 355.8,494.7 357.1,495.3 358.4,495.9 359.7,496.5 361.0,497.1 362.2,497.7 363.5,498.3 364.8,498.9 366.1,499.5 367.4,500.1 368.7,500.7 369.9,501.3 371.2,501.9 372.5,502.5 373.8,503.1 375.1,503.7 376.4,504.3 377.6,504.9 378.9,505.5 380.2,506.1 381.5,506.7 382.8,507.3 384.0,507.8 385.3,508.4 386.6,509.0 387.9,509.6 389.2,510.2 390.5,510.8 391.7,511.4 393.0,512.0 394.3,512.6 395.6,513.1 396.9,513.7 398.1,514.3 399.4,514.9 400.7,515.5 402.0,516.1 403.3,516.6 404.6,517.2 405.8,517.8 407.1,518.4 408.4,519.0 409.7,519.5 411.0,520.1 412.3,520.7 413.5,521.3 414.8,521.8 416.1,522.4 417.4,523.0 418.7,523.6 419.9,524.1 421.2,524.7 422.5,525.3 423.8,525.8 425.1,526.4 426.4,527.0 427.6,527.5 428.9,528.1 430.2,528.7 431.5,529.2 432.8,529.8 434.0,530.4 435.3,530.9 436.6,531.5 437.9,532.0 439.2,532.6 440.5,533.1 441.7,533.7 443.0,534.3 444.3,534.8 445.6,535.4 446.9,535.9 448.2,536.5 449.4,537.0 450.7,537.6 452.0,538.1 453.3,538.7 454.6,539.2 455.8,539.8 457.1,540.3 458.4,540.8 459.7,541.4 461.0,541.9 462.3,542.5 463.5,543.0 464.8,543.5 466.1,544.1" fill="none" stroke="#333" stroke-width="2.6" stroke-linejoin="round"/><polyline points="92.1,568.4 98.4,570.0 104.8,571.5 111.1,573.0 117.5,574.4 123.8,575.9 130.1,577.4 136.5,578.9 142.8,580.3 149.2,581.8 155.5,583.3 161.8,584.7 168.2,586.1 174.5,587.6 180.8,589.0 187.2,590.4 193.5,591.8 199.9,593.2 206.2,594.6 212.5,596.0 218.9,597.4 225.2,598.8 231.6,600.2 237.9,601.5 244.2,602.9 250.6,604.3 256.9,605.6 263.3,606.9 269.6,608.3 275.9,609.6 282.3,610.9 288.6,612.2 294.9,613.6 301.3,614.9 307.6,616.2 314.0,617.4 320.3,618.7 326.6,620.0 333.0,621.3 339.3,622.5 345.7,623.8 352.0,625.1 358.3,626.3 364.7,627.5 371.0,628.8 377.4,630.0 383.7,631.2 390.0,632.4 396.4,633.6 402.7,634.8 409.0,636.0 415.4,637.2 421.7,638.4 428.1,639.6 434.4,640.7 440.7,641.9 447.1,643.0 453.4,644.2 459.8,645.3 466.1,646.5" fill="none" stroke="#2e2e2e" stroke-width="3.2" stroke-linejoin="round" stroke-dasharray="8.5 4.7"/><line x1="224.0" y1="407.4" x2="224.0" y2="730.5" stroke="#222" stroke-width="2" stroke-dasharray="2 2.8"/><polyline points="688.1,720.1 688.9,720.1 689.6,720.0 690.4,720.0 691.1,719.9 691.9,719.8 692.6,719.7 693.4,719.5 694.2,719.3 694.9,719.2 695.7,719.0 696.4,718.7 697.2,718.5 697.9,718.3 698.7,718.0 699.5,717.7 700.2,717.4 701.0,717.0 701.7,716.4 702.5,715.8 703.2,715.0 704.0,714.2 704.8,713.3 705.5,712.4 706.3,711.4 707.0,710.5 707.8,709.5 708.5,708.4 709.3,707.2 710.0,705.9 710.8,704.6 711.6,703.2 712.3,701.8 713.1,700.3 713.8,698.8 714.6,697.2 715.3,695.5 716.1,693.8 716.9,692.1 717.6,690.4 718.4,688.6 719.1,686.8 719.9,685.0 720.6,683.2 721.4,681.3 722.2,679.3 722.9,677.3 723.7,675.1 724.4,672.9 725.2,670.6 725.9,668.3 726.7,665.9 727.5,663.5 728.2,661.1 729.0,658.6 729.7,656.1 730.5,653.7 731.2,651.1 732.0,648.4 732.8,645.7 733.5,642.9 734.3,640.0 735.0,637.2 735.8,634.3 736.5,631.5 737.3,628.7 738.1,625.9 738.8,623.3 739.6,620.8 740.3,618.3 741.1,616.0 741.8,613.7 742.6,611.1 743.3,608.6 744.1,606.0 744.9,603.4 745.6,600.9 746.4,598.6 747.1,596.4 747.9,594.5 748.6,592.9 749.4,591.6 750.2,590.7 750.9,590.2 751.7,590.2 752.4,590.6 753.2,591.4 753.9,592.6 754.7,594.1 755.5,595.8 756.2,597.6 757.0,599.6 757.7,601.6 758.5,603.7 759.2,606.1 760.0,609.0 760.8,612.3 761.5,616.0 762.3,619.8 763.0,623.8 763.8,627.8 764.5,631.7 765.3,635.5 766.1,639.2 766.8,643.2 767.6,647.4 768.3,651.7 769.1,656.0 769.8,660.3 770.6,664.5 771.4,668.5 772.1,672.3 772.9,675.8 773.6,678.9 774.4,681.6 775.1,683.8 775.9,685.9 776.7,687.9 777.4,689.9 778.2,691.7 778.9,693.4 779.7,695.1 780.4,696.7 781.2,698.2 781.9,699.6 782.7,700.9 783.5,702.1 784.2,703.2 785.0,704.3 785.7,705.2 786.5,706.1 787.2,706.9 788.0,707.8 788.8,708.5 789.5,709.3 790.3,710.1 791.0,710.8 791.8,711.5 792.5,712.1 793.3,712.7 794.1,713.3 794.8,713.9 795.6,714.4 796.3,714.9 797.1,715.3 797.8,715.7 798.6,716.0 799.4,716.3 800.1,716.6 800.9,716.8 801.6,717.0 802.4,717.1 803.1,717.3 803.9,717.5 804.7,717.6 805.4,717.8 806.2,717.9 806.9,718.0 807.7,718.2 808.4,718.3 809.2,718.4 810.0,718.5 810.7,718.6 811.5,718.7 812.2,718.8 813.0,718.9 813.7,718.9 814.5,719.0 815.2,719.1 816.0,719.1 816.8,719.2 817.5,719.2 818.3,719.2 819.0,719.3 819.8,719.3 820.5,719.4 821.3,719.4 822.1,719.5 822.8,719.5 823.6,719.5 824.3,719.6 825.1,719.6 825.8,719.6 826.6,719.7 827.4,719.7 828.1,719.7 828.9,719.8 829.6,719.8 830.4,719.8 831.1,719.9 831.9,719.9 832.7,719.9 833.4,719.9 834.2,720.0 834.9,720.0 835.7,720.0 836.4,720.0 837.2,720.0 838.0,720.0 838.7,720.1 839.5,720.1 840.2,720.1 841.0,720.1 841.7,720.1 842.5,720.1 843.3,720.1 844.0,720.1 844.8,720.1 845.5,720.1 846.3,720.1 847.0,720.1 847.8,720.1 848.6,720.1 849.3,720.1 850.1,720.1 850.8,720.1 851.6,720.1 852.3,720.1 853.1,720.1 853.8,720.1 854.6,720.1 855.4,720.1 856.1,720.1 856.9,720.1 857.6,720.1 858.4,720.1 859.1,720.1 859.9,720.1 860.7,720.1 861.4,720.1 862.2,720.1 862.9,720.1 863.7,720.1 864.4,720.1 865.2,720.1 866.0,720.1 866.7,720.1 867.5,720.1 868.2,720.1 869.0,720.1 869.7,720.1 870.5,720.1 871.3,720.1 872.0,720.1 872.8,720.1 873.5,720.1 874.3,720.1 875.0,720.1 875.8,720.1 876.6,720.1 877.3,720.1 878.1,720.1 878.8,720.1 879.6,720.1 880.3,720.1 881.1,720.1 881.9,720.1 882.6,720.1 883.4,720.1 884.1,720.1 884.9,720.1 885.6,720.1 886.4,720.1 887.2,720.1 887.9,720.1 888.7,720.1 889.4,720.1 890.2,720.1 890.9,720.1 891.7,720.1 892.4,720.1 893.2,720.1 894.0,720.1 894.7,720.1 895.5,720.1 896.2,720.1 897.0,720.1 897.7,720.1 898.5,720.1 899.3,720.1 900.0,720.1 900.8,720.1 901.5,720.1 902.3,720.1 903.0,720.1 903.8,720.1 904.6,720.1 905.3,720.1 906.1,720.1 906.8,720.1 907.6,720.1 908.3,720.1 909.1,720.1 909.9,720.1 910.6,720.1 911.4,720.1 912.1,720.1 912.9,720.1 913.6,720.1 914.4,720.1" fill="none" stroke="#444" stroke-width="2.6" stroke-linejoin="round"/><line x1="756.9" y1="407.6" x2="756.9" y2="729.1" stroke="#222" stroke-width="2" stroke-dasharray="2 2.8"/><polyline points="1035.6,537.0 1036.8,536.0 1038.0,535.0 1039.2,534.0 1040.4,533.0 1041.7,532.0 1042.9,531.0 1044.1,530.0 1045.3,529.1 1046.5,528.1 1047.7,527.1 1048.9,526.1 1050.1,525.1 1051.4,524.2 1052.6,523.2 1053.8,522.2 1055.0,521.3 1056.2,520.3 1057.4,519.3 1058.6,518.4 1059.8,517.4 1061.1,516.4 1062.3,515.5 1063.5,514.5 1064.7,513.5 1065.9,512.6 1067.1,511.6 1068.3,510.7 1069.5,509.7 1070.7,508.7 1072.0,507.8 1073.2,506.8 1074.4,505.9 1075.6,504.9 1076.8,503.9 1078.0,503.0 1079.2,502.0 1080.4,501.1 1081.7,500.1 1082.9,499.2 1084.1,498.2 1085.3,497.2 1086.5,496.3 1087.7,495.3 1088.9,494.4 1090.1,493.4 1091.4,492.5 1092.6,491.5 1093.8,490.5 1095.0,489.6 1096.2,488.6 1097.4,487.7 1098.6,486.7 1099.8,485.7 1101.1,484.8 1102.3,483.8 1103.5,482.8 1104.7,481.9 1105.9,480.9 1107.1,479.9 1108.3,479.0 1109.5,478.0 1110.7,477.0 1112.0,476.0 1113.2,475.1 1114.4,474.1 1115.6,473.1 1116.8,472.1 1118.0,471.1 1119.2,470.1 1120.4,469.1 1121.7,468.1 1122.9,467.1 1124.1,466.1 1125.3,465.1 1126.5,464.1 1127.7,463.1 1128.9,462.1 1130.1,461.1 1131.4,460.1 1132.6,459.1 1133.8,458.1 1135.0,457.1 1136.2,456.1 1137.4,455.2 1138.6,454.2 1139.8,453.2 1141.0,452.2 1142.3,451.2 1143.5,450.3 1144.7,449.3 1145.9,448.3 1147.1,447.4 1148.3,446.4 1149.5,445.5 1150.7,444.5 1152.0,443.6 1153.2,442.6 1154.4,441.7 1155.6,440.8 1156.8,439.9 1158.0,439.0 1159.2,438.1 1160.4,437.2 1161.7,436.3 1162.9,435.4 1164.1,434.5 1165.3,433.6 1166.5,432.7 1167.7,431.8 1168.9,431.0 1170.1,430.1 1171.3,429.2 1172.6,428.4 1173.8,427.6 1175.0,426.7 1176.2,425.9 1177.4,425.2 1178.6,424.4 1179.8,423.7 1181.0,423.0 1182.3,422.2 1183.5,421.5 1184.7,420.8 1185.9,420.1 1187.1,419.4 1188.3,418.7 1189.5,418.1 1190.7,417.4 1192.0,416.8 1193.2,416.3 1194.4,415.8 1195.6,415.3 1196.8,414.9 1198.0,414.5 1199.2,414.0 1200.4,413.6 1201.6,413.3 1202.9,413.2 1204.1,413.2 1205.3,413.4 1206.5,413.7 1207.7,414.2 1208.9,414.7 1210.1,415.3 1211.3,415.9 1212.6,416.6 1213.8,417.6 1215.0,418.7 1216.2,420.0 1217.4,421.3 1218.6,422.6 1219.8,424.0 1221.0,425.4 1222.3,426.9 1223.5,428.5 1224.7,430.2 1225.9,431.9 1227.1,433.7 1228.3,435.5 1229.5,437.3 1230.7,439.2 1232.0,441.1 1233.2,443.0 1234.4,445.0 1235.6,446.9 1236.8,448.9 1238.0,450.9 1239.2,452.8 1240.4,454.8 1241.6,456.7 1242.9,458.7 1244.1,460.6 1245.3,462.4 1246.5,464.3 1247.7,466.1 1248.9,467.9 1250.1,469.8 1251.3,471.6 1252.6,473.4 1253.8,475.3 1255.0,477.1 1256.2,479.0 1257.4,480.8 1258.6,482.7 1259.8,484.5 1261.0,486.4 1262.3,488.2 1263.5,490.1 1264.7,491.9 1265.9,493.8 1267.1,495.6 1268.3,497.5 1269.5,499.4 1270.7,501.2 1271.9,503.1 1273.2,505.0 1274.4,506.8 1275.6,508.7 1276.8,510.6 1278.0,512.4 1279.2,514.3 1280.4,516.2 1281.6,518.1 1282.9,519.9 1284.1,521.8 1285.3,523.7 1286.5,525.6 1287.7,527.4 1288.9,529.3 1290.1,531.2 1291.3,533.0 1292.6,534.9 1293.8,536.8 1295.0,538.7 1296.2,540.5 1297.4,542.4 1298.6,544.3 1299.8,546.1 1301.0,548.0 1302.2,549.9 1303.5,551.8 1304.7,553.6 1305.9,555.5 1307.1,557.4 1308.3,559.2 1309.5,561.1 1310.7,562.9 1311.9,564.8 1313.2,566.7 1314.4,568.5 1315.6,570.4 1316.8,572.2 1318.0,574.1 1319.2,575.9 1320.4,577.8 1321.6,579.6 1322.9,581.5 1324.1,583.3 1325.3,585.1 1326.5,587.0 1327.7,588.8 1328.9,590.6 1330.1,592.5 1331.3,594.3 1332.5,596.1 1333.8,597.9 1335.0,599.8 1336.2,601.6 1337.4,603.4 1338.6,605.2 1339.8,607.0 1341.0,608.9 1342.2,610.7 1343.5,612.5 1344.7,614.3 1345.9,616.1 1347.1,617.9 1348.3,619.7 1349.5,621.5 1350.7,623.3 1351.9,625.1 1353.2,626.9 1354.4,628.7 1355.6,630.5 1356.8,632.3 1358.0,634.1 1359.2,635.9 1360.4,637.7 1361.6,639.5 1362.9,641.3 1364.1,643.1 1365.3,644.9 1366.5,646.7 1367.7,648.5 1368.9,650.3 1370.1,652.1 1371.3,653.9 1372.5,655.7 1373.8,657.4 1375.0,659.2 1376.2,661.0 1377.4,662.8 1378.6,664.6 1379.8,666.4 1381.0,668.1 1382.2,669.9 1383.5,671.7 1384.7,673.5 1385.9,675.3 1387.1,677.0 1388.3,678.8 1389.5,680.6 1390.7,682.3 1391.9,684.1 1393.2,685.9 1394.4,687.7 1395.6,689.4 1396.8,691.2 1398.0,693.0" fill="none" stroke="#333" stroke-width="1.3" stroke-linejoin="round"/><polyline points="1035.6,537.0 1036.8,536.1 1038.0,535.1 1039.2,534.2 1040.4,533.3 1041.7,532.3 1042.9,531.4 1044.1,530.5 1045.3,529.5 1046.5,528.6 1047.7,527.6 1048.9,526.7 1050.1,525.8 1051.4,524.8 1052.6,523.9 1053.8,522.9 1055.0,522.0 1056.2,521.0 1057.4,520.1 1058.6,519.1 1059.8,518.2 1061.1,517.2 1062.3,516.3 1063.5,515.3 1064.7,514.4 1065.9,513.4 1067.1,512.5 1068.3,511.5 1069.5,510.6 1070.7,509.6 1072.0,508.7 1073.2,507.7 1074.4,506.8 1075.6,505.8 1076.8,504.8 1078.0,503.9 1079.2,502.9 1080.4,502.0 1081.7,501.0 1082.9,500.0 1084.1,499.1 1085.3,498.1 1086.5,497.2 1087.7,496.2 1088.9,495.2 1090.1,494.3 1091.4,493.3 1092.6,492.3 1093.8,491.4 1095.0,490.4 1096.2,489.4 1097.4,488.5 1098.6,487.5 1099.8,486.5 1101.1,485.6 1102.3,484.6 1103.5,483.6 1104.7,482.6 1105.9,481.7 1107.1,480.7 1108.3,479.7 1109.5,478.7 1110.7,477.7 1112.0,476.7 1113.2,475.7 1114.4,474.6 1115.6,473.6 1116.8,472.5 1118.0,471.4 1119.2,470.4 1120.4,469.3 1121.7,468.2 1122.9,467.1 1124.1,466.0 1125.3,464.9 1126.5,463.8 1127.7,462.7 1128.9,461.6 1130.1,460.5 1131.4,459.4 1132.6,458.3 1133.8,457.2 1135.0,456.1 1136.2,455.0 1137.4,454.0 1138.6,452.9 1139.8,451.9 1141.0,450.8 1142.3,449.8 1143.5,448.8 1144.7,447.8 1145.9,446.9 1147.1,445.9 1148.3,445.0 1149.5,444.1 1150.7,443.2 1152.0,442.3 1153.2,441.5 1154.4,440.6 1155.6,439.9 1156.8,439.1 1158.0,438.4 1159.2,437.7 1160.4,437.0 1161.7,436.3 1162.9,435.6 1164.1,435.0 1165.3,434.3 1166.5,433.6 1167.7,432.9 1168.9,432.2 1170.1,431.5 1171.3,430.8 1172.6,430.2 1173.8,429.5 1175.0,428.9 1176.2,428.3 1177.4,427.8 1178.6,427.3 1179.8,426.8 1181.0,426.4 1182.3,426.1 1183.5,425.7 1184.7,425.5 1185.9,425.3 1187.1,425.2 1188.3,425.1 1189.5,425.2 1190.7,425.3 1192.0,425.4 1193.2,425.7 1194.4,426.0 1195.6,426.3 1196.8,426.7 1198.0,427.1 1199.2,427.6 1200.4,428.1 1201.6,428.6 1202.9,429.2 1204.1,429.7 1205.3,430.3 1206.5,430.9 1207.7,431.5 1208.9,432.3 1210.1,433.2 1211.3,434.1 1212.6,435.1 1213.8,436.3 1215.0,437.5 1216.2,438.7 1217.4,440.1 1218.6,441.5 1219.8,443.0 1221.0,444.5 1222.3,446.1 1223.5,447.7 1224.7,449.3 1225.9,451.0 1227.1,452.7 1228.3,454.5 1229.5,456.2 1230.7,458.0 1232.0,459.8 1233.2,461.6 1234.4,463.4 1235.6,465.2 1236.8,467.0 1238.0,468.8 1239.2,470.5 1240.4,472.3 1241.6,474.0 1242.9,475.7 1244.1,477.3 1245.3,478.9 1246.5,480.5 1247.7,482.0 1248.9,483.5 1250.1,485.0 1251.3,486.5 1252.6,488.0 1253.8,489.6 1255.0,491.1 1256.2,492.6 1257.4,494.1 1258.6,495.6 1259.8,497.1 1261.0,498.6 1262.3,500.1 1263.5,501.6 1264.7,503.1 1265.9,504.6 1267.1,506.1 1268.3,507.6 1269.5,509.1 1270.7,510.6 1271.9,512.1 1273.2,513.6 1274.4,515.1 1275.6,516.6 1276.8,518.1 1278.0,519.6 1279.2,521.1 1280.4,522.6 1281.6,524.1 1282.9,525.6 1284.1,527.1 1285.3,528.6 1286.5,530.1 1287.7,531.7 1288.9,533.2 1290.1,534.7 1291.3,536.2 1292.6,537.8 1293.8,539.3 1295.0,540.8 1296.2,542.4 1297.4,543.9 1298.6,545.5 1299.8,547.0 1301.0,548.6 1302.2,550.1 1303.5,551.7 1304.7,553.3 1305.9,554.8 1307.1,556.4 1308.3,558.0 1309.5,559.6 1310.7,561.2 1311.9,562.8 1313.2,564.4 1314.4,566.0 1315.6,567.6 1316.8,569.2 1318.0,570.8 1319.2,572.5 1320.4,574.1 1321.6,575.7 1322.9,577.4 1324.1,579.0 1325.3,580.7 1326.5,582.4 1327.7,584.1 1328.9,585.7 1330.1,587.4 1331.3,589.1 1332.5,590.9 1333.8,592.6 1335.0,594.3 1336.2,596.0 1337.4,597.8 1338.6,599.5 1339.8,601.3 1341.0,603.0 1342.2,604.8 1343.5,606.6 1344.7,608.4 1345.9,610.2 1347.1,611.9 1348.3,613.8 1349.5,615.6 1350.7,617.4 1351.9,619.2 1353.2,621.0 1354.4,622.9 1355.6,624.7 1356.8,626.6 1358.0,628.4 1359.2,630.3 1360.4,632.2 1361.6,634.1 1362.9,635.9 1364.1,637.8 1365.3,639.7 1366.5,641.6 1367.7,643.5 1368.9,645.4 1370.1,647.4 1371.3,649.3 1372.5,651.2 1373.8,653.2 1375.0,655.1 1376.2,657.0 1377.4,659.0 1378.6,661.0 1379.8,662.9 1381.0,664.9 1382.2,666.9 1383.5,668.8 1384.7,670.8 1385.9,672.8 1387.1,674.8 1388.3,676.8 1389.5,678.8 1390.7,680.8 1391.9,682.8 1393.2,684.8 1394.4,686.9 1395.6,688.9 1396.8,690.9 1398.0,693.0" fill="none" stroke="#666" stroke-width="1.3" stroke-linejoin="round" stroke-dasharray="12 6"/><polyline points="1035.6,537.0 1036.6,536.2 1037.5,535.5 1038.5,534.7 1039.5,534.0 1040.4,533.2 1041.4,532.5 1042.4,531.8 1043.3,531.0 1044.3,530.3 1045.2,529.6 1046.2,528.8 1047.2,528.1 1048.1,527.4 1049.1,526.7 1050.1,525.9 1051.0,525.2 1052.0,524.5 1053.0,523.8 1053.9,523.1 1054.9,522.4 1055.9,521.8 1056.8,521.1 1057.8,520.4 1058.8,519.7 1059.7,519.0 1060.7,518.4 1061.6,517.7 1062.6,517.0 1063.6,516.4 1064.5,515.7 1065.5,515.1 1066.5,514.4 1067.4,513.8 1068.4,513.2 1069.4,512.5 1070.3,511.9 1071.3,511.3 1072.3,510.7 1073.2,510.0 1074.2,509.4 1075.2,508.8 1076.1,508.2 1077.1,507.6 1078.1,507.0 1079.0,506.4 1080.0,505.8 1080.9,505.2 1081.9,504.6 1082.9,504.0 1083.8,503.4 1084.8,502.8 1085.8,502.2 1086.7,501.6 1087.7,501.0 1088.7,500.4 1089.6,499.8 1090.6,499.2 1091.6,498.6 1092.5,498.0 1093.5,497.4 1094.5,496.8 1095.4,496.3 1096.4,495.7 1097.3,495.2 1098.3,494.6 1099.3,494.1 1100.2,493.5 1101.2,493.0 1102.2,492.5 1103.1,491.9 1104.1,491.4 1105.1,490.9 1106.0,490.4 1107.0,490.0 1108.0,489.5 1108.9,489.0 1109.9,488.6 1110.9,488.1 1111.8,487.7 1112.8,487.3 1113.7,486.9 1114.7,486.5 1115.7,486.1 1116.6,485.7 1117.6,485.3 1118.6,485.0 1119.5,484.6 1120.5,484.2 1121.5,483.9 1122.4,483.5 1123.4,483.1 1124.4,482.8 1125.3,482.4 1126.3,482.0 1127.3,481.7 1128.2,481.3 1129.2,480.9 1130.1,480.6 1131.1,480.2 1132.1,479.8 1133.0,479.5 1134.0,479.1 1135.0,478.8 1135.9,478.4 1136.9,478.1 1137.9,477.7 1138.8,477.4 1139.8,477.1 1140.8,476.8 1141.7,476.4 1142.7,476.1 1143.7,475.8 1144.6,475.5 1145.6,475.2 1146.6,475.0 1147.5,474.7 1148.5,474.4 1149.4,474.2 1150.4,473.9 1151.4,473.7 1152.3,473.5 1153.3,473.3 1154.3,473.1 1155.2,472.9 1156.2,472.7 1157.2,472.6 1158.1,472.4 1159.1,472.3 1160.1,472.2 1161.0,472.1 1162.0,472.0 1163.0,471.9 1163.9,471.8 1164.9,471.8 1165.8,471.7 1166.8,471.7 1167.8,471.7 1168.7,471.8 1169.7,471.8 1170.7,471.9 1171.6,471.9 1172.6,472.0 1173.6,472.1 1174.5,472.3 1175.5,472.4 1176.5,472.6 1177.4,472.7 1178.4,472.9 1179.4,473.1 1180.3,473.3 1181.3,473.6 1182.2,473.8 1183.2,474.1 1184.2,474.3 1185.1,474.6 1186.1,474.9 1187.1,475.1 1188.0,475.4 1189.0,475.7 1190.0,476.1 1190.9,476.4 1191.9,476.7 1192.9,477.0 1193.8,477.4 1194.8,477.7 1195.8,478.0 1196.7,478.4 1197.7,478.7 1198.6,479.1 1199.6,479.4 1200.6,479.8 1201.5,480.1 1202.5,480.5 1203.5,480.9 1204.4,481.2 1205.4,481.6 1206.4,482.0 1207.3,482.4 1208.3,482.8 1209.3,483.3 1210.2,483.8 1211.2,484.2 1212.2,484.7 1213.1,485.3 1214.1,485.8 1215.0,486.4 1216.0,486.9 1217.0,487.5 1217.9,488.1 1218.9,488.7 1219.9,489.3 1220.8,490.0 1221.8,490.6 1222.8,491.3 1223.7,492.0 1224.7,492.7 1225.7,493.4 1226.6,494.1 1227.6,494.8 1228.6,495.6 1229.5,496.3 1230.5,497.1 1231.5,497.8 1232.4,498.6 1233.4,499.4 1234.3,500.2 1235.3,501.0 1236.3,501.8 1237.2,502.6 1238.2,503.5 1239.2,504.3 1240.1,505.1 1241.1,506.0 1242.1,506.8 1243.0,507.7 1244.0,508.6 1245.0,509.4 1245.9,510.3 1246.9,511.2 1247.9,512.1 1248.8,513.0 1249.8,513.9 1250.7,514.9 1251.7,515.9 1252.7,516.9 1253.6,517.9 1254.6,518.9 1255.6,519.9 1256.5,521.0 1257.5,522.1 1258.5,523.2 1259.4,524.3 1260.4,525.5 1261.4,526.6 1262.3,527.8 1263.3,529.0 1264.3,530.2 1265.2,531.4 1266.2,532.7 1267.1,534.0 1268.1,535.2 1269.1,536.5 1270.0,537.8 1271.0,539.1 1272.0,540.5 1272.9,541.8 1273.9,543.2 1274.9,544.6 1275.8,546.0 1276.8,547.4 1277.8,548.8 1278.7,550.2 1279.7,551.7 1280.7,553.1 1281.6,554.6 1282.6,556.1 1283.5,557.6 1284.5,559.1 1285.5,560.6 1286.4,562.1 1287.4,563.6 1288.4,565.2 1289.3,566.7 1290.3,568.3 1291.3,569.9 1292.2,571.5 1293.2,573.0 1294.2,574.7 1295.1,576.3 1296.1,578.0 1297.1,579.6 1298.0,581.4 1299.0,583.1 1300.0,584.9 1300.9,586.8 1301.9,588.7 1302.8,590.7 1303.8,592.7 1304.8,594.8 1305.7,596.9 1306.7,599.1 1307.7,601.4 1308.6,603.8 1309.6,606.3 1310.6,608.8 1311.5,611.5 1312.5,614.3 1313.5,617.4 1314.4,620.7 1315.4,624.2 1316.4,627.9 1317.3,631.7 1318.3,635.7 1319.2,639.8 1320.2,644.0 1321.2,648.3 1322.1,652.7 1323.1,657.2 1324.1,661.7" fill="none" stroke="#111" stroke-width="3" stroke-linejoin="round"/><polyline points="1035.6,537.0 1036.6,536.2 1037.5,535.4 1038.5,534.6 1039.4,533.8 1040.4,533.0 1041.3,532.2 1042.3,531.4 1043.2,530.6 1044.2,529.9 1045.1,529.1 1046.1,528.4 1047.0,527.6 1048.0,526.9 1048.9,526.1 1049.9,525.4 1050.8,524.7 1051.8,523.9 1052.7,523.2 1053.7,522.5 1054.6,521.8 1055.6,521.2 1056.5,520.5 1057.5,519.8 1058.4,519.2 1059.4,518.5 1060.3,517.9 1061.3,517.2 1062.2,516.6 1063.2,516.0 1064.1,515.4 1065.1,514.8 1066.0,514.2 1067.0,513.7 1067.9,513.1 1068.9,512.6 1069.8,512.0 1070.8,511.5 1071.7,511.0 1072.7,510.5 1073.6,510.0 1074.6,509.5 1075.5,509.1 1076.5,508.6 1077.4,508.2 1078.4,507.7 1079.3,507.3 1080.3,506.9 1081.2,506.6 1082.2,506.2 1083.1,505.8 1084.1,505.5 1085.0,505.2 1086.0,504.9 1086.9,504.6 1087.9,504.3 1088.8,504.0 1089.8,503.8 1090.7,503.6 1091.7,503.4 1092.6,503.2 1093.6,503.0 1094.5,502.8 1095.5,502.7 1096.4,502.5 1097.4,502.4 1098.3,502.3 1099.3,502.2 1100.2,502.1 1101.2,501.9 1102.1,501.8 1103.1,501.7 1104.0,501.6 1105.0,501.5 1105.9,501.4 1106.9,501.3 1107.8,501.2 1108.8,501.1 1109.7,501.0 1110.7,500.9 1111.6,500.8 1112.6,500.7 1113.5,500.6 1114.5,500.5 1115.4,500.4 1116.4,500.3 1117.3,500.2 1118.3,500.1 1119.2,500.1 1120.2,500.0 1121.1,499.9 1122.1,499.9 1123.0,499.8 1124.0,499.7 1124.9,499.7 1125.9,499.6 1126.8,499.6 1127.8,499.5 1128.7,499.5 1129.7,499.4 1130.6,499.4 1131.6,499.4 1132.5,499.3 1133.5,499.3 1134.4,499.3 1135.4,499.3 1136.3,499.2 1137.3,499.2 1138.2,499.2 1139.2,499.2 1140.1,499.2 1141.1,499.2 1142.0,499.3 1143.0,499.3 1143.9,499.4 1144.9,499.5 1145.8,499.6 1146.8,499.6 1147.7,499.8 1148.7,499.9 1149.6,500.0 1150.6,500.2 1151.5,500.3 1152.5,500.5 1153.4,500.7 1154.4,500.8 1155.3,501.0 1156.3,501.2 1157.2,501.4 1158.2,501.7 1159.1,501.9 1160.1,502.1 1161.0,502.4 1162.0,502.6 1162.9,502.9 1163.9,503.2 1164.8,503.4 1165.8,503.7 1166.7,504.0 1167.7,504.3 1168.6,504.6 1169.6,504.9 1170.5,505.2 1171.5,505.5 1172.4,505.8 1173.4,506.1 1174.3,506.4 1175.3,506.8 1176.2,507.1 1177.2,507.4 1178.1,507.7 1179.1,508.1 1180.0,508.4 1181.0,508.7 1181.9,509.1 1182.9,509.4 1183.8,509.8 1184.8,510.2 1185.7,510.6 1186.7,511.1 1187.6,511.6 1188.6,512.1 1189.5,512.6 1190.5,513.2 1191.4,513.8 1192.4,514.4 1193.3,515.0 1194.3,515.6 1195.2,516.3 1196.2,517.0 1197.1,517.7 1198.1,518.4 1199.0,519.1 1200.0,519.9 1200.9,520.6 1201.9,521.4 1202.8,522.2 1203.8,522.9 1204.7,523.7 1205.7,524.5 1206.6,525.4 1207.6,526.2 1208.5,527.0 1209.5,527.8 1210.4,528.6 1211.4,529.5 1212.3,530.3 1213.3,531.1 1214.2,532.0 1215.2,532.8 1216.1,533.6 1217.1,534.5 1218.0,535.3 1219.0,536.1 1219.9,536.9 1220.9,537.7 1221.8,538.5 1222.8,539.3 1223.7,540.1 1224.7,540.9 1225.6,541.6 1226.6,542.4 1227.5,543.1 1228.5,543.9 1229.4,544.6 1230.4,545.3 1231.3,546.1 1232.3,546.8 1233.2,547.6 1234.2,548.3 1235.2,549.0 1236.1,549.8 1237.1,550.5 1238.0,551.3 1239.0,552.0 1239.9,552.8 1240.9,553.5 1241.8,554.3 1242.8,555.0 1243.7,555.8 1244.7,556.5 1245.6,557.3 1246.6,558.1 1247.5,558.8 1248.5,559.6 1249.4,560.4 1250.4,561.2 1251.3,562.0 1252.3,562.8 1253.2,563.6 1254.2,564.5 1255.1,565.3 1256.1,566.1 1257.0,567.0 1258.0,567.9 1258.9,568.7 1259.9,569.6 1260.8,570.5 1261.8,571.4 1262.7,572.3 1263.7,573.3 1264.6,574.2 1265.6,575.2 1266.5,576.1 1267.5,577.1 1268.4,578.1 1269.4,579.1 1270.3,580.1 1271.3,581.2 1272.2,582.2 1273.2,583.3 1274.1,584.4 1275.1,585.5 1276.0,586.6 1277.0,587.7 1277.9,588.9 1278.9,590.0 1279.8,591.2 1280.8,592.4 1281.7,593.6 1282.7,594.8 1283.6,596.1 1284.6,597.3 1285.5,598.6 1286.5,599.9 1287.4,601.2 1288.4,602.5 1289.3,603.9 1290.3,605.2 1291.2,606.6 1292.2,608.0 1293.1,609.4 1294.1,610.8 1295.0,612.3 1296.0,613.7 1296.9,615.2 1297.9,616.7 1298.8,618.2 1299.8,619.7 1300.7,621.3 1301.7,622.9 1302.6,624.5 1303.6,626.2 1304.5,627.9 1305.5,629.7 1306.4,631.4 1307.4,633.3 1308.3,635.1 1309.3,637.0 1310.2,639.0 1311.2,640.9 1312.1,642.9 1313.1,644.9 1314.0,647.0 1315.0,649.0 1315.9,651.1 1316.9,653.2 1317.8,655.3 1318.8,657.4 1319.7,659.6" fill="none" stroke="#111" stroke-width="3" stroke-linejoin="round" stroke-dasharray="12 7"/><polyline points="1035.6,537.0 1043.0,540.7 1050.4,544.4 1057.8,548.0 1065.2,551.6 1072.6,555.2 1080.0,558.8 1087.4,562.4 1094.8,565.9 1102.2,569.4 1109.6,572.9 1117.0,576.4 1124.4,579.9 1131.7,583.3 1139.1,586.7 1146.5,590.1 1153.9,593.5 1161.3,596.8 1168.7,600.1 1176.1,603.5 1183.5,606.7 1190.9,610.0 1198.3,613.3 1205.7,616.5 1213.1,619.7 1220.5,622.9 1227.9,626.0 1235.3,629.2 1242.7,632.3 1250.1,635.4 1257.5,638.5 1264.9,641.5 1272.3,644.6 1279.7,647.6 1287.1,650.6 1294.5,653.5 1301.9,656.5 1309.2,659.4 1316.6,662.3 1324.0,665.2 1331.4,668.1 1338.8,670.9 1346.2,673.8 1353.6,676.6 1361.0,679.4 1368.4,682.1 1375.8,684.9 1383.2,687.6 1390.6,690.3 1398.0,693.0" fill="none" stroke="#000" stroke-width="5" stroke-linejoin="round" stroke-dasharray="14 7"/><line x1="1207.2" y1="400.1" x2="1207.2" y2="714.0" stroke="#222" stroke-width="2" stroke-dasharray="2 2.8"/><polyline points="1617.5,707.4 1618.4,707.3 1619.3,707.3 1620.2,707.2 1621.1,707.2 1622.0,707.2 1622.9,707.1 1623.9,707.1 1624.8,707.0 1625.7,707.0 1626.6,707.0 1627.5,706.9 1628.4,706.9 1629.3,706.8 1630.2,706.8 1631.1,706.8 1632.0,706.7 1632.9,706.7 1633.8,706.7 1634.8,706.6 1635.7,706.6 1636.6,706.5 1637.5,706.5 1638.4,706.5 1639.3,706.4 1640.2,706.4 1641.1,706.3 1642.0,706.3 1642.9,706.3 1643.8,706.2 1644.7,706.2 1645.7,706.2 1646.6,706.1 1647.5,706.1 1648.4,706.0 1649.3,706.0 1650.2,706.0 1651.1,705.9 1652.0,705.9 1652.9,705.8 1653.8,705.8 1654.7,705.7 1655.6,705.6 1656.6,705.5 1657.5,705.4 1658.4,705.3 1659.3,705.2 1660.2,705.1 1661.1,705.0 1662.0,704.9 1662.9,704.8 1663.8,704.7 1664.7,704.7 1665.6,704.6 1666.5,704.5 1667.5,704.4 1668.4,704.3 1669.3,704.2 1670.2,704.1 1671.1,704.0 1672.0,703.9 1672.9,703.8 1673.8,703.7 1674.7,703.6 1675.6,703.5 1676.5,703.4 1677.4,703.3 1678.4,703.2 1679.3,703.1 1680.2,703.0 1681.1,702.9 1682.0,702.8 1682.9,702.7 1683.8,702.5 1684.7,702.3 1685.6,702.1 1686.5,702.0 1687.4,701.8 1688.3,701.6 1689.3,701.4 1690.2,701.2 1691.1,701.0 1692.0,700.8 1692.9,700.6 1693.8,700.4 1694.7,700.2 1695.6,700.0 1696.5,699.9 1697.4,699.7 1698.3,699.5 1699.2,699.3 1700.2,699.1 1701.1,698.9 1702.0,698.7 1702.9,698.5 1703.8,698.3 1704.7,698.1 1705.6,698.0 1706.5,697.8 1707.4,697.6 1708.3,697.4 1709.2,697.2 1710.1,697.0 1711.1,696.8 1712.0,696.6 1712.9,696.4 1713.8,696.2 1714.7,695.9 1715.6,695.3 1716.5,694.7 1717.4,694.1 1718.3,693.5 1719.2,692.9 1720.1,692.4 1721.0,691.8 1722.0,691.2 1722.9,690.6 1723.8,690.0 1724.7,689.4 1725.6,688.8 1726.5,688.2 1727.4,687.7 1728.3,687.1 1729.2,686.5 1730.1,685.9 1731.0,685.3 1731.9,684.7 1732.9,684.1 1733.8,683.6 1734.7,683.0 1735.6,682.4 1736.5,681.8 1737.4,681.2 1738.3,680.6 1739.2,680.0 1740.1,679.4 1741.0,678.9 1741.9,678.3 1742.8,677.7 1743.7,676.4 1744.7,674.6 1745.6,672.7 1746.5,670.9 1747.4,669.1 1748.3,667.2 1749.2,665.4 1750.1,663.6 1751.0,661.7 1751.9,659.9 1752.8,658.1 1753.7,656.2 1754.6,654.4 1755.6,652.6 1756.5,650.7 1757.4,648.9 1758.3,647.1 1759.2,645.1 1760.1,642.8 1761.0,640.6 1761.9,638.3 1762.8,636.1 1763.7,633.8 1764.6,631.6 1765.5,629.3 1766.5,627.1 1767.4,624.8 1768.3,622.6 1769.2,620.3 1770.1,618.1 1771.0,615.8 1771.9,613.6 1772.8,611.3 1773.7,609.1 1774.6,606.8 1775.5,604.6 1776.4,602.3 1777.4,600.1 1778.3,597.8 1779.2,595.6 1780.1,594.7 1781.0,593.8 1781.9,592.9 1782.8,592.0 1783.7,591.1 1784.6,590.2 1785.5,589.3 1786.4,591.5 1787.3,594.1 1788.3,596.8 1789.2,599.5 1790.1,602.1 1791.0,604.8 1791.9,607.5 1792.8,611.6 1793.7,616.5 1794.6,621.3 1795.5,626.1 1796.4,631.0 1797.3,635.8 1798.2,640.6 1799.2,645.5 1800.1,650.3 1801.0,655.2 1801.9,660.0 1802.8,664.8 1803.7,669.7 1804.6,674.5 1805.5,679.3 1806.4,681.3 1807.3,683.1 1808.2,684.9 1809.1,686.7 1810.1,688.4 1811.0,690.2 1811.9,692.0 1812.8,693.7 1813.7,695.5 1814.6,697.3 1815.5,697.9 1816.4,698.4 1817.3,698.9 1818.2,699.4 1819.1,699.9 1820.0,700.5 1821.0,701.0 1821.9,701.5 1822.8,702.0 1823.7,702.5 1824.6,703.1 1825.5,703.6 1826.4,704.1 1827.3,704.6 1828.2,705.1 1829.1,705.1 1830.0,705.2 1830.9,705.3 1831.9,705.4 1832.8,705.5 1833.7,705.6 1834.6,705.6 1835.5,705.7 1836.4,705.8 1837.3,705.9 1838.2,706.0 1839.1,706.1 1840.0,706.1 1840.9,706.2 1841.8,706.3 1842.8,706.4 1843.7,706.5 1844.6,706.6 1845.5,706.7 1846.4,706.7 1847.3,706.8 1848.2,706.9 1849.1,707.0 1850.0,707.1 1850.9,707.2 1851.8,707.2 1852.7,707.3 1853.7,707.4 1854.6,707.4 1855.5,707.4 1856.4,707.4 1857.3,707.4 1858.2,707.4 1859.1,707.4 1860.0,707.4 1860.9,707.4 1861.8,707.4 1862.7,707.4 1863.6,707.4 1864.5,707.4 1865.5,707.4 1866.4,707.4 1867.3,707.4 1868.2,707.4 1869.1,707.4 1870.0,707.4 1870.9,707.4 1871.8,707.4 1872.7,707.4 1873.6,707.4 1874.5,707.4 1875.4,707.4 1876.4,707.4 1877.3,707.4 1878.2,707.4 1879.1,707.4 1880.0,707.4 1880.9,707.4 1881.8,707.4 1882.7,707.4 1883.6,707.4 1884.5,707.4 1885.4,707.4 1886.3,707.4 1887.3,707.4 1888.2,707.4 1889.1,707.4 1890.0,707.4 1890.9,707.4 1891.8,707.4 1892.7,707.4 1893.6,707.4 1894.5,707.4 1895.4,707.4 1896.3,707.4 1897.2,707.4 1898.2,707.4 1899.1,707.4 1900.0,707.4 1900.9,707.4 1901.8,707.4 1902.7,707.4 1903.6,707.4 1904.5,707.4 1905.4,707.4 1906.3,707.4 1907.2,707.4 1908.1,707.4 1909.1,707.4 1910.0,707.4 1910.9,707.4 1911.8,707.4 1912.7,707.4 1913.6,707.4 1914.5,707.4 1915.4,707.4 1916.3,707.4 1917.2,707.4 1918.1,707.4 1919.0,707.4 1920.0,707.4 1920.9,707.4 1921.8,707.4 1922.7,707.4 1923.6,707.4 1924.5,707.4 1925.4,707.4 1926.3,707.4 1927.2,707.4 1928.1,707.4 1929.0,707.4 1929.9,707.4 1930.9,707.4 1931.8,707.4 1932.7,707.4 1933.6,707.4 1934.5,707.4 1935.4,707.4 1936.3,707.4 1937.2,707.4 1938.1,707.4 1939.0,707.4 1939.9,707.4 1940.8,707.4 1941.8,707.4 1942.7,707.4 1943.6,707.4 1944.5,707.4 1945.4,707.4 1946.3,707.4 1947.2,707.4 1948.1,707.4 1949.0,707.4 1949.9,707.4 1950.8,707.4 1951.7,707.4 1952.7,707.4 1953.6,707.4 1954.5,707.4 1955.4,707.4 1956.3,707.4 1957.2,707.4 1958.1,707.4 1959.0,707.4 1959.9,707.4 1960.8,707.4 1961.7,707.4 1962.6,707.4 1963.6,707.4 1964.5,707.4 1965.4,707.4 1966.3,707.4 1967.2,707.4 1968.1,707.4 1969.0,707.4 1969.9,707.4 1970.8,707.4 1971.7,707.4 1972.6,707.4 1973.5,707.4 1974.5,707.4 1975.4,707.4 1976.3,707.4 1977.2,707.4 1978.1,707.4 1979.0,707.4 1979.9,707.4" fill="none" stroke="#333" stroke-width="1.3" stroke-linejoin="round"/><polyline points="1617.5,707.4 1618.4,707.2 1619.3,707.1 1620.2,707.0 1621.1,706.8 1622.0,706.7 1622.9,706.6 1623.9,706.4 1624.8,706.3 1625.7,706.2 1626.6,706.1 1627.5,705.9 1628.4,705.8 1629.3,705.7 1630.2,705.5 1631.1,705.4 1632.0,705.3 1632.9,705.2 1633.8,705.0 1634.8,704.9 1635.7,704.8 1636.6,704.6 1637.5,704.5 1638.4,704.4 1639.3,704.3 1640.2,704.1 1641.1,704.0 1642.0,703.9 1642.9,703.7 1643.8,703.6 1644.7,703.5 1645.7,703.4 1646.6,703.2 1647.5,703.1 1648.4,702.9 1649.3,702.7 1650.2,702.6 1651.1,702.4 1652.0,702.2 1652.9,702.0 1653.8,701.8 1654.7,701.7 1655.6,701.5 1656.6,701.3 1657.5,701.1 1658.4,701.0 1659.3,700.8 1660.2,700.6 1661.1,700.4 1662.0,700.3 1662.9,700.1 1663.8,699.9 1664.7,699.7 1665.6,699.6 1666.5,699.4 1667.5,699.2 1668.4,699.0 1669.3,698.9 1670.2,698.7 1671.1,698.5 1672.0,698.3 1672.9,698.2 1673.8,698.0 1674.7,697.8 1675.6,697.6 1676.5,697.5 1677.4,697.3 1678.4,697.1 1679.3,696.9 1680.2,696.8 1681.1,696.6 1682.0,696.4 1682.9,696.2 1683.8,696.1 1684.7,695.9 1685.6,695.7 1686.5,695.5 1687.4,695.4 1688.3,695.2 1689.3,694.8 1690.2,694.2 1691.1,693.6 1692.0,693.0 1692.9,692.4 1693.8,691.8 1694.7,691.2 1695.6,690.6 1696.5,690.0 1697.4,689.4 1698.3,688.8 1699.2,688.2 1700.2,687.6 1701.1,687.0 1702.0,686.4 1702.9,685.8 1703.8,685.2 1704.7,684.6 1705.6,684.0 1706.5,683.4 1707.4,682.8 1708.3,682.1 1709.2,681.5 1710.1,680.9 1711.1,680.3 1712.0,679.7 1712.9,679.1 1713.8,678.5 1714.7,677.9 1715.6,677.3 1716.5,676.7 1717.4,676.1 1718.3,675.5 1719.2,674.9 1720.1,674.2 1721.0,673.0 1722.0,671.7 1722.9,670.5 1723.8,669.2 1724.7,667.9 1725.6,666.7 1726.5,665.4 1727.4,664.2 1728.3,662.9 1729.2,661.6 1730.1,660.4 1731.0,659.1 1731.9,657.9 1732.9,656.6 1733.8,655.3 1734.7,654.1 1735.6,652.8 1736.5,651.6 1737.4,650.3 1738.3,649.0 1739.2,647.8 1740.1,646.5 1741.0,645.3 1741.9,643.8 1742.8,642.4 1743.7,640.9 1744.7,639.4 1745.6,638.0 1746.5,636.5 1747.4,635.1 1748.3,633.6 1749.2,632.1 1750.1,630.7 1751.0,629.2 1751.9,627.8 1752.8,626.3 1753.7,624.8 1754.6,623.4 1755.6,621.9 1756.5,620.5 1757.4,619.0 1758.3,617.5 1759.2,616.1 1760.1,614.6 1761.0,613.2 1761.9,611.7 1762.8,610.6 1763.7,609.6 1764.6,608.6 1765.5,607.6 1766.5,606.6 1767.4,605.6 1768.3,604.6 1769.2,603.6 1770.1,602.6 1771.0,601.6 1771.9,600.6 1772.8,599.6 1773.7,598.6 1774.6,597.6 1775.5,596.6 1776.4,595.6 1777.4,594.6 1778.3,593.5 1779.2,593.8 1780.1,595.7 1781.0,597.5 1781.9,599.4 1782.8,601.2 1783.7,603.0 1784.6,604.9 1785.5,606.7 1786.4,608.6 1787.3,610.4 1788.3,612.9 1789.2,616.1 1790.1,619.3 1791.0,622.5 1791.9,625.7 1792.8,628.9 1793.7,632.2 1794.6,635.4 1795.5,638.6 1796.4,641.8 1797.3,645.0 1798.2,648.2 1799.2,651.2 1800.1,653.9 1801.0,656.7 1801.9,659.4 1802.8,662.2 1803.7,665.0 1804.6,667.7 1805.5,670.5 1806.4,673.2 1807.3,676.0 1808.2,678.7 1809.1,681.5 1810.1,683.4 1811.0,684.4 1811.9,685.5 1812.8,686.5 1813.7,687.6 1814.6,688.6 1815.5,689.7 1816.4,690.8 1817.3,691.8 1818.2,692.9 1819.1,693.9 1820.0,695.0 1821.0,696.0 1821.9,697.1 1822.8,698.2 1823.7,699.2 1824.6,699.8 1825.5,700.1 1826.4,700.3 1827.3,700.5 1828.2,700.8 1829.1,701.0 1830.0,701.3 1830.9,701.5 1831.9,701.7 1832.8,702.0 1833.7,702.2 1834.6,702.5 1835.5,702.7 1836.4,702.9 1837.3,703.2 1838.2,703.4 1839.1,703.7 1840.0,703.9 1840.9,704.1 1841.8,704.4 1842.8,704.6 1843.7,704.9 1844.6,705.1 1845.5,705.3 1846.4,705.6 1847.3,705.8 1848.2,706.1 1849.1,706.3 1850.0,706.5 1850.9,706.8 1851.8,707.0 1852.7,707.3 1853.7,707.4 1854.6,707.4 1855.5,707.4 1856.4,707.4 1857.3,707.4 1858.2,707.4 1859.1,707.4 1860.0,707.4 1860.9,707.4 1861.8,707.4 1862.7,707.4 1863.6,707.4 1864.5,707.4 1865.5,707.4 1866.4,707.4 1867.3,707.4 1868.2,707.4 1869.1,707.4 1870.0,707.4 1870.9,707.4 1871.8,707.4 1872.7,707.4 1873.6,707.4 1874.5,707.4 1875.4,707.4 1876.4,707.4 1877.3,707.4 1878.2,707.4 1879.1,707.4 1880.0,707.4 1880.9,707.4 1881.8,707.4 1882.7,707.4 1883.6,707.4 1884.5,707.4 1885.4,707.4 1886.3,707.4 1887.3,707.4 1888.2,707.4 1889.1,707.4 1890.0,707.4 1890.9,707.4 1891.8,707.4 1892.7,707.4 1893.6,707.4 1894.5,707.4 1895.4,707.4 1896.3,707.4 1897.2,707.4 1898.2,707.4 1899.1,707.4 1900.0,707.4 1900.9,707.4 1901.8,707.4 1902.7,707.4 1903.6,707.4 1904.5,707.4 1905.4,707.4 1906.3,707.4 1907.2,707.4 1908.1,707.4 1909.1,707.4 1910.0,707.4 1910.9,707.4 1911.8,707.4 1912.7,707.4 1913.6,707.4 1914.5,707.4 1915.4,707.4 1916.3,707.4 1917.2,707.4 1918.1,707.4 1919.0,707.4 1920.0,707.4 1920.9,707.4 1921.8,707.4 1922.7,707.4 1923.6,707.4 1924.5,707.4 1925.4,707.4 1926.3,707.4 1927.2,707.4 1928.1,707.4 1929.0,707.4 1929.9,707.4 1930.9,707.4 1931.8,707.4 1932.7,707.4 1933.6,707.4 1934.5,707.4 1935.4,707.4 1936.3,707.4 1937.2,707.4 1938.1,707.4 1939.0,707.4 1939.9,707.4 1940.8,707.4 1941.8,707.4 1942.7,707.4 1943.6,707.4 1944.5,707.4 1945.4,707.4 1946.3,707.4 1947.2,707.4 1948.1,707.4 1949.0,707.4 1949.9,707.4 1950.8,707.4 1951.7,707.4 1952.7,707.4 1953.6,707.4 1954.5,707.4 1955.4,707.4 1956.3,707.4 1957.2,707.4 1958.1,707.4 1959.0,707.4 1959.9,707.4 1960.8,707.4 1961.7,707.4 1962.6,707.4 1963.6,707.4 1964.5,707.4 1965.4,707.4 1966.3,707.4 1967.2,707.4 1968.1,707.4 1969.0,707.4 1969.9,707.4 1970.8,707.4 1971.7,707.4 1972.6,707.4 1973.5,707.4 1974.5,707.4 1975.4,707.4 1976.3,707.4 1977.2,707.4 1978.1,707.4 1979.0,707.4 1979.9,707.4" fill="none" stroke="#666" stroke-width="1.3" stroke-linejoin="round" stroke-dasharray="12 6"/><polyline points="1617.5,707.4 1618.4,707.0 1619.3,706.6 1620.2,706.3 1621.1,705.9 1622.0,705.6 1622.9,705.2 1623.9,704.9 1624.8,704.5 1625.7,704.2 1626.6,703.8 1627.5,703.5 1628.4,703.1 1629.3,702.1 1630.2,701.2 1631.1,700.2 1632.0,699.2 1632.9,698.2 1633.8,697.3 1634.8,696.3 1635.7,695.3 1636.6,694.3 1637.5,693.4 1638.4,692.4 1639.3,691.4 1640.2,690.4 1641.1,689.5 1642.0,688.5 1642.9,687.5 1643.8,686.5 1644.7,685.6 1645.7,684.6 1646.6,683.6 1647.5,682.6 1648.4,681.7 1649.3,680.7 1650.2,679.7 1651.1,678.8 1652.0,677.8 1652.9,676.8 1653.8,675.8 1654.7,674.9 1655.6,673.9 1656.6,672.9 1657.5,671.9 1658.4,670.5 1659.3,669.1 1660.2,667.7 1661.1,666.4 1662.0,665.0 1662.9,663.6 1663.8,662.2 1664.7,660.8 1665.6,659.4 1666.5,658.0 1667.5,656.7 1668.4,655.3 1669.3,653.9 1670.2,652.5 1671.1,651.1 1672.0,649.7 1672.9,648.3 1673.8,647.0 1674.7,645.6 1675.6,644.2 1676.5,642.8 1677.4,641.4 1678.4,640.0 1679.3,638.7 1680.2,637.3 1681.1,635.9 1682.0,634.5 1682.9,633.1 1683.8,631.7 1684.7,630.3 1685.6,628.7 1686.5,627.0 1687.4,625.4 1688.3,623.8 1689.3,622.2 1690.2,620.5 1691.1,618.9 1692.0,617.3 1692.9,615.7 1693.8,614.0 1694.7,612.4 1695.6,610.8 1696.5,609.2 1697.4,607.5 1698.3,605.9 1699.2,604.3 1700.2,602.7 1701.1,601.0 1702.0,599.4 1702.9,597.8 1703.8,596.2 1704.7,594.5 1705.6,592.9 1706.5,591.6 1707.4,590.3 1708.3,589.1 1709.2,587.8 1710.1,586.5 1711.1,585.2 1712.0,583.9 1712.9,582.6 1713.8,581.3 1714.7,580.0 1715.6,578.7 1716.5,577.4 1717.4,576.1 1718.3,574.8 1719.2,573.5 1720.1,572.2 1721.0,570.9 1722.0,569.6 1722.9,568.3 1723.8,567.0 1724.7,566.0 1725.6,565.4 1726.5,564.8 1727.4,564.3 1728.3,563.7 1729.2,563.2 1730.1,562.6 1731.0,562.0 1731.9,561.5 1732.9,560.9 1733.8,560.4 1734.7,559.8 1735.6,559.2 1736.5,558.7 1737.4,558.1 1738.3,557.5 1739.2,557.0 1740.1,556.4 1741.0,555.9 1741.9,555.3 1742.8,554.7 1743.7,554.2 1744.7,553.6 1745.6,553.1 1746.5,552.5 1747.4,551.9 1748.3,551.4 1749.2,550.8 1750.1,550.3 1751.0,550.5 1751.9,551.3 1752.8,552.2 1753.7,553.0 1754.6,553.8 1755.6,554.7 1756.5,555.5 1757.4,556.4 1758.3,557.2 1759.2,558.0 1760.1,558.9 1761.0,559.7 1761.9,560.5 1762.8,561.4 1763.7,562.2 1764.6,563.1 1765.5,563.9 1766.5,564.7 1767.4,565.6 1768.3,566.4 1769.2,567.3 1770.1,568.1 1771.0,568.9 1771.9,569.8 1772.8,570.6 1773.7,571.4 1774.6,572.3 1775.5,573.1 1776.4,574.0 1777.4,574.8 1778.3,575.6 1779.2,576.8 1780.1,578.4 1781.0,580.0 1781.9,581.6 1782.8,583.2 1783.7,584.8 1784.6,586.4 1785.5,588.0 1786.4,589.6 1787.3,591.1 1788.3,592.7 1789.2,594.3 1790.1,596.3 1791.0,598.4 1791.9,600.5 1792.8,602.5 1793.7,604.6 1794.6,606.7 1795.5,608.7 1796.4,610.8 1797.3,612.9 1798.2,614.9 1799.2,617.0 1800.1,619.1 1801.0,621.1 1801.9,623.2 1802.8,625.3 1803.7,627.4 1804.6,629.2 1805.5,631.0 1806.4,632.9 1807.3,634.7 1808.2,636.5 1809.1,638.4 1810.1,640.2 1811.0,642.0 1811.9,643.9 1812.8,645.7 1813.7,647.5 1814.6,649.4 1815.5,651.2 1816.4,653.0 1817.3,654.9 1818.2,656.7 1819.1,658.5 1820.0,660.4 1821.0,662.2 1821.9,664.0 1822.8,665.9 1823.7,667.7 1824.6,669.5 1825.5,671.4 1826.4,673.2 1827.3,674.7 1828.2,675.5 1829.1,676.3 1830.0,677.1 1830.9,677.9 1831.9,678.7 1832.8,679.5 1833.7,680.4 1834.6,681.2 1835.5,682.0 1836.4,682.8 1837.3,683.6 1838.2,684.4 1839.1,685.3 1840.0,686.1 1840.9,686.9 1841.8,687.7 1842.8,688.5 1843.7,689.3 1844.6,690.1 1845.5,691.0 1846.4,691.8 1847.3,692.6 1848.2,693.4 1849.1,693.7 1850.0,694.0 1850.9,694.2 1851.8,694.4 1852.7,694.6 1853.7,694.9 1854.6,695.1 1855.5,695.3 1856.4,695.5 1857.3,695.8 1858.2,696.0 1859.1,696.2 1860.0,696.4 1860.9,696.7 1861.8,696.9 1862.7,697.1 1863.6,697.3 1864.5,697.6 1865.5,697.8 1866.4,698.0 1867.3,698.3 1868.2,698.5 1869.1,698.7 1870.0,698.9 1870.9,699.2 1871.8,699.4 1872.7,699.6 1873.6,699.8 1874.5,700.1 1875.4,700.3 1876.4,700.5 1877.3,700.7 1878.2,701.0 1879.1,701.2 1880.0,701.4 1880.9,701.6 1881.8,701.9 1882.7,702.1 1883.6,702.3 1884.5,702.6 1885.4,702.8 1886.3,703.0 1887.3,703.2 1888.2,703.5 1889.1,703.7 1890.0,703.9 1890.9,704.1 1891.8,704.3 1892.7,704.5 1893.6,704.7 1894.5,704.9 1895.4,705.0 1896.3,705.2 1897.2,705.4 1898.2,705.6 1899.1,705.7 1900.0,705.9 1900.9,706.1 1901.8,706.3 1902.7,706.4 1903.6,706.6 1904.5,706.8 1905.4,707.0 1906.3,707.1 1907.2,707.3 1908.1,707.4 1909.1,707.4 1910.0,707.4 1910.9,707.4 1911.8,707.4 1912.7,707.4 1913.6,707.4 1914.5,707.4 1915.4,707.4 1916.3,707.4 1917.2,707.4 1918.1,707.4 1919.0,707.4 1920.0,707.4 1920.9,707.4 1921.8,707.4 1922.7,707.4 1923.6,707.4 1924.5,707.4 1925.4,707.4 1926.3,707.4 1927.2,707.4 1928.1,707.4 1929.0,707.4 1929.9,707.4 1930.9,707.4 1931.8,707.4 1932.7,707.4 1933.6,707.4 1934.5,707.4 1935.4,707.4 1936.3,707.4 1937.2,707.4 1938.1,707.4 1939.0,707.4 1939.9,707.4 1940.8,707.4 1941.8,707.4 1942.7,707.4 1943.6,707.4 1944.5,707.4 1945.4,707.4 1946.3,707.4 1947.2,707.4 1948.1,707.4 1949.0,707.4 1949.9,707.4 1950.8,707.4 1951.7,707.4 1952.7,707.4 1953.6,707.4 1954.5,707.4 1955.4,707.4 1956.3,707.4 1957.2,707.4 1958.1,707.4 1959.0,707.4 1959.9,707.4 1960.8,707.4 1961.7,707.4 1962.6,707.4 1963.6,707.4 1964.5,707.4 1965.4,707.4 1966.3,707.4 1967.2,707.4 1968.1,707.4 1969.0,707.4 1969.9,707.4 1970.8,707.4 1971.7,707.4 1972.6,707.4 1973.5,707.4 1974.5,707.4 1975.4,707.4 1976.3,707.4 1977.2,707.4 1978.1,707.4 1979.0,707.4 1979.9,707.4" fill="none" stroke="#111" stroke-width="3" stroke-linejoin="round"/><polyline points="1617.5,707.4 1618.4,705.7 1619.3,704.0 1620.2,702.4 1621.1,700.7 1622.0,699.0 1622.9,697.9 1623.9,696.9 1624.8,695.8 1625.7,694.8 1626.6,693.7 1627.5,692.7 1628.4,691.6 1629.3,690.6 1630.2,689.5 1631.1,688.5 1632.0,687.4 1632.9,686.4 1633.8,685.3 1634.8,684.3 1635.7,683.2 1636.6,682.2 1637.5,680.6 1638.4,678.8 1639.3,677.1 1640.2,675.4 1641.1,673.7 1642.0,672.0 1642.9,670.2 1643.8,668.5 1644.7,666.8 1645.7,665.1 1646.6,663.4 1647.5,661.7 1648.4,659.9 1649.3,658.2 1650.2,656.5 1651.1,654.8 1652.0,653.1 1652.9,651.3 1653.8,649.6 1654.7,647.9 1655.6,646.2 1656.6,644.5 1657.5,642.8 1658.4,641.0 1659.3,639.3 1660.2,637.6 1661.1,635.9 1662.0,634.2 1662.9,632.4 1663.8,630.7 1664.7,629.7 1665.6,628.7 1666.5,627.7 1667.5,626.8 1668.4,625.8 1669.3,624.8 1670.2,623.8 1671.1,622.9 1672.0,621.9 1672.9,620.9 1673.8,619.9 1674.7,619.0 1675.6,618.0 1676.5,617.0 1677.4,616.0 1678.4,615.1 1679.3,614.1 1680.2,613.1 1681.1,612.1 1682.0,611.2 1682.9,610.2 1683.8,609.2 1684.7,608.2 1685.6,607.3 1686.5,606.3 1687.4,605.3 1688.3,604.3 1689.3,603.6 1690.2,603.2 1691.1,602.8 1692.0,602.4 1692.9,602.0 1693.8,601.6 1694.7,601.2 1695.6,600.8 1696.5,600.4 1697.4,600.0 1698.3,599.6 1699.2,599.2 1700.2,598.8 1701.1,598.4 1702.0,598.0 1702.9,597.6 1703.8,597.2 1704.7,596.8 1705.6,596.4 1706.5,596.0 1707.4,595.6 1708.3,595.2 1709.2,594.8 1710.1,594.5 1711.1,594.1 1712.0,593.8 1712.9,594.0 1713.8,594.1 1714.7,594.3 1715.6,594.5 1716.5,594.6 1717.4,594.8 1718.3,595.0 1719.2,595.1 1720.1,595.3 1721.0,595.5 1722.0,595.6 1722.9,595.8 1723.8,596.0 1724.7,596.1 1725.6,596.3 1726.5,596.5 1727.4,596.6 1728.3,596.8 1729.2,597.2 1730.1,597.7 1731.0,598.1 1731.9,598.6 1732.9,599.0 1733.8,599.5 1734.7,599.9 1735.6,600.4 1736.5,600.8 1737.4,601.2 1738.3,601.7 1739.2,602.1 1740.1,602.6 1741.0,603.0 1741.9,603.5 1742.8,603.9 1743.7,604.4 1744.7,604.8 1745.6,605.3 1746.5,605.7 1747.4,606.2 1748.3,606.6 1749.2,607.0 1750.1,607.5 1751.0,607.9 1751.9,608.4 1752.8,608.8 1753.7,609.5 1754.6,610.5 1755.6,611.5 1756.5,612.5 1757.4,613.5 1758.3,614.6 1759.2,615.6 1760.1,616.6 1761.0,617.6 1761.9,618.6 1762.8,619.6 1763.7,620.6 1764.6,621.6 1765.5,622.7 1766.5,623.7 1767.4,624.7 1768.3,625.7 1769.2,626.7 1770.1,627.7 1771.0,628.7 1771.9,629.7 1772.8,630.8 1773.7,631.8 1774.6,633.0 1775.5,634.3 1776.4,635.7 1777.4,637.0 1778.3,638.3 1779.2,639.7 1780.1,641.0 1781.0,642.3 1781.9,643.7 1782.8,644.9 1783.7,645.9 1784.6,646.9 1785.5,647.9 1786.4,648.9 1787.3,649.9 1788.3,650.9 1789.2,651.9 1790.1,652.9 1791.0,653.9 1791.9,654.9 1792.8,655.9 1793.7,656.9 1794.6,657.9 1795.5,658.9 1796.4,659.9 1797.3,660.9 1798.2,661.9 1799.2,662.9 1800.1,663.9 1801.0,664.8 1801.9,665.7 1802.8,666.6 1803.7,667.5 1804.6,668.5 1805.5,669.4 1806.4,670.3 1807.3,671.2 1808.2,672.2 1809.1,673.1 1810.1,674.0 1811.0,674.9 1811.9,675.9 1812.8,676.8 1813.7,677.7 1814.6,678.6 1815.5,679.6 1816.4,680.5 1817.3,681.4 1818.2,682.3 1819.1,683.3 1820.0,684.2 1821.0,685.1 1821.9,686.0 1822.8,687.0 1823.7,687.9 1824.6,688.8 1825.5,689.7 1826.4,690.7 1827.3,691.3 1828.2,691.5 1829.1,691.8 1830.0,692.0 1830.9,692.2 1831.9,692.4 1832.8,692.7 1833.7,692.9 1834.6,693.1 1835.5,693.4 1836.4,693.6 1837.3,693.8 1838.2,694.0 1839.1,694.3 1840.0,694.5 1840.9,694.7 1841.8,694.9 1842.8,695.2 1843.7,695.4 1844.6,695.6 1845.5,695.8 1846.4,696.1 1847.3,696.3 1848.2,696.5 1849.1,696.7 1850.0,697.0 1850.9,697.2 1851.8,697.4 1852.7,697.7 1853.7,697.9 1854.6,698.1 1855.5,698.3 1856.4,698.6 1857.3,698.8 1858.2,699.0 1859.1,699.2 1860.0,699.5 1860.9,699.7 1861.8,699.9 1862.7,700.1 1863.6,700.4 1864.5,700.6 1865.5,700.8 1866.4,701.0 1867.3,701.3 1868.2,701.5 1869.1,701.7 1870.0,702.0 1870.9,702.1 1871.8,702.3 1872.7,702.4 1873.6,702.6 1874.5,702.8 1875.4,702.9 1876.4,703.1 1877.3,703.3 1878.2,703.4 1879.1,703.6 1880.0,703.7 1880.9,703.9 1881.8,704.1 1882.7,704.2 1883.6,704.4 1884.5,704.6 1885.4,704.7 1886.3,704.9 1887.3,705.0 1888.2,705.2 1889.1,705.4 1890.0,705.5 1890.9,705.7 1891.8,705.9 1892.7,706.0 1893.6,706.2 1894.5,706.3 1895.4,706.5 1896.3,706.7 1897.2,706.8 1898.2,707.0 1899.1,707.2 1900.0,707.3 1900.9,707.4 1901.8,707.4 1902.7,707.4 1903.6,707.4 1904.5,707.4 1905.4,707.4 1906.3,707.4 1907.2,707.4 1908.1,707.4 1909.1,707.4 1910.0,707.4 1910.9,707.4 1911.8,707.4 1912.7,707.4 1913.6,707.4 1914.5,707.4 1915.4,707.4 1916.3,707.4 1917.2,707.4 1918.1,707.4 1919.0,707.4 1920.0,707.4 1920.9,707.4 1921.8,707.4 1922.7,707.4 1923.6,707.4 1924.5,707.4 1925.4,707.4 1926.3,707.4 1927.2,707.4 1928.1,707.4 1929.0,707.4 1929.9,707.4 1930.9,707.4 1931.8,707.4 1932.7,707.4 1933.6,707.4 1934.5,707.4 1935.4,707.4 1936.3,707.4 1937.2,707.4 1938.1,707.4 1939.0,707.4 1939.9,707.4 1940.8,707.4 1941.8,707.4 1942.7,707.4 1943.6,707.4 1944.5,707.4 1945.4,707.4 1946.3,707.4 1947.2,707.4 1948.1,707.4 1949.0,707.4 1949.9,707.4 1950.8,707.4 1951.7,707.4 1952.7,707.4 1953.6,707.4 1954.5,707.4 1955.4,707.4 1956.3,707.4 1957.2,707.4 1958.1,707.4 1959.0,707.4 1959.9,707.4 1960.8,707.4 1961.7,707.4 1962.6,707.4 1963.6,707.4 1964.5,707.4 1965.4,707.4 1966.3,707.4 1967.2,707.4 1968.1,707.4 1969.0,707.4 1969.9,707.4 1970.8,707.4 1971.7,707.4 1972.6,707.4 1973.5,707.4 1974.5,707.4 1975.4,707.4 1976.3,707.4 1977.2,707.4 1978.1,707.4 1979.0,707.4 1979.9,707.4" fill="none" stroke="#111" stroke-width="3" stroke-linejoin="round" stroke-dasharray="12 7"/><polyline points="1617.5,707.4 1979.9,707.4" fill="none" stroke="#000" stroke-width="5" stroke-linejoin="round" stroke-dasharray="14 7"/><line x1="1789.1" y1="400.4" x2="1789.1" y2="714.0" stroke="#222" stroke-width="2" stroke-dasharray="2 2.8"/><polyline points="82.8,902.7 84.0,902.7 85.3,902.7 86.6,902.7 87.9,902.7 89.2,902.7 90.4,902.7 91.7,902.7 93.0,901.2 94.3,899.1 95.6,897.1 96.9,895.2 98.1,893.4 99.4,891.7 100.7,890.1 102.0,888.6 103.3,887.1 104.5,885.7 105.8,884.3 107.1,882.8 108.4,881.4 109.7,880.0 111.0,878.5 112.2,877.0 113.5,875.5 114.8,873.9 116.1,872.3 117.4,870.7 118.6,869.1 119.9,867.4 121.2,865.8 122.5,864.1 123.8,862.5 125.1,860.9 126.3,859.3 127.6,857.7 128.9,856.2 130.2,854.7 131.5,853.2 132.8,851.7 134.0,850.3 135.3,848.9 136.6,847.6 137.9,846.2 139.2,844.9 140.4,843.6 141.7,842.3 143.0,841.0 144.3,839.7 145.6,838.4 146.9,837.1 148.1,835.7 149.4,834.4 150.7,833.1 152.0,831.7 153.3,830.4 154.5,829.0 155.8,827.6 157.1,826.2 158.4,824.8 159.7,823.3 161.0,821.9 162.2,820.5 163.5,819.1 164.8,817.8 166.1,816.4 167.4,815.1 168.7,813.8 169.9,812.5 171.2,811.3 172.5,810.1 173.8,809.0 175.1,807.9 176.3,806.8 177.6,805.8 178.9,804.7 180.2,803.7 181.5,802.7 182.8,801.7 184.0,800.8 185.3,799.8 186.6,798.8 187.9,797.8 189.2,796.8 190.4,795.8 191.7,794.8 193.0,793.8 194.3,792.8 195.6,791.7 196.9,790.7 198.1,789.7 199.4,788.7 200.7,787.8 202.0,786.8 203.3,785.9 204.6,784.9 205.8,784.0 207.1,783.0 208.4,782.0 209.7,781.0 211.0,780.0 212.2,779.1 213.5,778.2 214.8,777.3 216.1,776.5 217.4,775.8 218.7,775.2 219.9,774.7 221.2,774.2 222.5,773.9 223.8,773.5 225.1,773.1 226.3,772.8 227.6,772.6 228.9,772.4 230.2,772.3 231.5,772.3 232.8,772.3 234.0,772.4 235.3,772.6 236.6,772.8 237.9,773.0 239.2,773.2 240.4,773.5 241.7,773.7 243.0,774.0 244.3,774.3 245.6,774.7 246.9,775.2 248.1,775.7 249.4,776.4 250.7,777.0 252.0,777.6 253.3,778.2 254.6,778.8 255.8,779.4 257.1,780.0 258.4,780.6 259.7,781.2 261.0,781.8 262.2,782.5 263.5,783.1 264.8,783.7 266.1,784.3 267.4,785.0 268.7,785.6 269.9,786.3 271.2,786.9 272.5,787.6 273.8,788.2 275.1,788.9 276.3,789.6 277.6,790.2 278.9,790.9 280.2,791.5 281.5,792.2 282.8,792.9 284.0,793.5 285.3,794.2 286.6,794.8 287.9,795.5 289.2,796.2 290.5,796.8 291.7,797.5 293.0,798.1 294.3,798.7 295.6,799.4 296.9,800.0 298.1,800.7 299.4,801.3 300.7,802.0 302.0,802.6 303.3,803.2 304.6,803.9 305.8,804.5 307.1,805.2 308.4,805.8 309.7,806.5 311.0,807.1 312.2,807.8 313.5,808.4 314.8,809.1 316.1,809.7 317.4,810.3 318.7,811.0 319.9,811.6 321.2,812.3 322.5,812.9 323.8,813.5 325.1,814.2 326.4,814.8 327.6,815.4 328.9,816.1 330.2,816.7 331.5,817.3 332.8,818.0 334.0,818.6 335.3,819.2 336.6,819.8 337.9,820.4 339.2,821.1 340.5,821.7 341.7,822.3 343.0,822.9 344.3,823.5 345.6,824.1 346.9,824.7 348.1,825.3 349.4,825.9 350.7,826.5 352.0,827.2 353.3,827.8 354.6,828.4 355.8,829.0 357.1,829.6 358.4,830.2 359.7,830.8 361.0,831.4 362.2,832.0 363.5,832.6 364.8,833.2 366.1,833.8 367.4,834.4 368.7,835.0 369.9,835.6 371.2,836.2 372.5,836.8 373.8,837.4 375.1,838.0 376.4,838.6 377.6,839.2 378.9,839.8 380.2,840.4 381.5,841.0 382.8,841.6 384.0,842.1 385.3,842.7 386.6,843.3 387.9,843.9 389.2,844.5 390.5,845.1 391.7,845.7 393.0,846.3 394.3,846.9 395.6,847.4 396.9,848.0 398.1,848.6 399.4,849.2 400.7,849.8 402.0,850.4 403.3,850.9 404.6,851.5 405.8,852.1 407.1,852.7 408.4,853.3 409.7,853.8 411.0,854.4 412.3,855.0 413.5,855.6 414.8,856.1 416.1,856.7 417.4,857.3 418.7,857.9 419.9,858.4 421.2,859.0 422.5,859.6 423.8,860.1 425.1,860.7 426.4,861.3 427.6,861.8 428.9,862.4 430.2,863.0 431.5,863.5 432.8,864.1 434.0,864.7 435.3,865.2 436.6,865.8 437.9,866.3 439.2,866.9 440.5,867.4 441.7,868.0 443.0,868.6 444.3,869.1 445.6,869.7 446.9,870.2 448.2,870.8 449.4,871.3 450.7,871.9 452.0,872.4 453.3,873.0 454.6,873.5 455.8,874.1 457.1,874.6 458.4,875.1 459.7,875.7 461.0,876.2 462.3,876.8 463.5,877.3 464.8,877.8 466.1,878.4" fill="none" stroke="#333" stroke-width="2.6" stroke-linejoin="round"/><polyline points="92.1,902.7 98.4,904.3 104.8,905.8 111.1,907.3 117.5,908.7 123.8,910.2 130.1,911.7 136.5,913.2 142.8,914.6 149.2,916.1 155.5,917.6 161.8,919.0 168.2,920.4 174.5,921.9 180.8,923.3 187.2,924.7 193.5,926.1 199.9,927.5 206.2,928.9 212.5,930.3 218.9,931.7 225.2,933.1 231.6,934.5 237.9,935.8 244.2,937.2 250.6,938.6 256.9,939.9 263.3,941.2 269.6,942.6 275.9,943.9 282.3,945.2 288.6,946.5 294.9,947.9 301.3,949.2 307.6,950.5 314.0,951.7 320.3,953.0 326.6,954.3 333.0,955.6 339.3,956.8 345.7,958.1 352.0,959.4 358.3,960.6 364.7,961.8 371.0,963.1 377.4,964.3 383.7,965.5 390.0,966.7 396.4,967.9 402.7,969.1 409.0,970.3 415.4,971.5 421.7,972.7 428.1,973.9 434.4,975.0 440.7,976.2 447.1,977.3 453.4,978.5 459.8,979.6 466.1,980.8" fill="none" stroke="#2e2e2e" stroke-width="3.2" stroke-linejoin="round" stroke-dasharray="8.5 4.7"/><line x1="224.0" y1="741.7" x2="224.0" y2="1064.8" stroke="#222" stroke-width="2" stroke-dasharray="2 2.8"/><polyline points="688.1,1054.4 688.9,1054.4 689.6,1054.3 690.4,1054.3 691.1,1054.2 691.9,1054.1 692.6,1054.0 693.4,1053.8 694.2,1053.6 694.9,1053.5 695.7,1053.3 696.4,1053.0 697.2,1052.8 697.9,1052.6 698.7,1052.3 699.5,1052.0 700.2,1051.7 701.0,1051.3 701.7,1050.7 702.5,1050.1 703.2,1049.3 704.0,1048.5 704.8,1047.6 705.5,1046.7 706.3,1045.7 707.0,1044.8 707.8,1043.8 708.5,1042.7 709.3,1041.5 710.0,1040.2 710.8,1038.9 711.6,1037.5 712.3,1036.1 713.1,1034.6 713.8,1033.1 714.6,1031.5 715.3,1029.8 716.1,1028.1 716.9,1026.4 717.6,1024.7 718.4,1022.9 719.1,1021.1 719.9,1019.3 720.6,1017.5 721.4,1015.6 722.2,1013.6 722.9,1011.6 723.7,1009.4 724.4,1007.2 725.2,1004.9 725.9,1002.6 726.7,1000.2 727.5,997.8 728.2,995.4 729.0,992.9 729.7,990.4 730.5,988.0 731.2,985.4 732.0,982.7 732.8,980.0 733.5,977.2 734.3,974.3 735.0,971.5 735.8,968.6 736.5,965.8 737.3,963.0 738.1,960.2 738.8,957.6 739.6,955.1 740.3,952.6 741.1,950.3 741.8,948.0 742.6,945.4 743.3,942.9 744.1,940.3 744.9,937.7 745.6,935.2 746.4,932.9 747.1,930.7 747.9,928.8 748.6,927.2 749.4,925.9 750.2,925.0 750.9,924.5 751.7,924.5 752.4,924.9 753.2,925.7 753.9,926.9 754.7,928.4 755.5,930.1 756.2,931.9 757.0,933.9 757.7,935.9 758.5,938.0 759.2,940.4 760.0,943.3 760.8,946.6 761.5,950.3 762.3,954.1 763.0,958.1 763.8,962.1 764.5,966.0 765.3,969.8 766.1,973.5 766.8,977.5 767.6,981.7 768.3,986.0 769.1,990.3 769.8,994.6 770.6,998.8 771.4,1002.8 772.1,1006.6 772.9,1010.1 773.6,1013.2 774.4,1015.9 775.1,1018.1 775.9,1020.2 776.7,1022.2 777.4,1024.2 778.2,1026.0 778.9,1027.7 779.7,1029.4 780.4,1031.0 781.2,1032.5 781.9,1033.9 782.7,1035.2 783.5,1036.4 784.2,1037.5 785.0,1038.6 785.7,1039.5 786.5,1040.4 787.2,1041.2 788.0,1042.1 788.8,1042.8 789.5,1043.6 790.3,1044.4 791.0,1045.1 791.8,1045.8 792.5,1046.4 793.3,1047.0 794.1,1047.6 794.8,1048.2 795.6,1048.7 796.3,1049.2 797.1,1049.6 797.8,1050.0 798.6,1050.3 799.4,1050.6 800.1,1050.9 800.9,1051.1 801.6,1051.3 802.4,1051.4 803.1,1051.6 803.9,1051.8 804.7,1051.9 805.4,1052.1 806.2,1052.2 806.9,1052.3 807.7,1052.5 808.4,1052.6 809.2,1052.7 810.0,1052.8 810.7,1052.9 811.5,1053.0 812.2,1053.1 813.0,1053.2 813.7,1053.2 814.5,1053.3 815.2,1053.4 816.0,1053.4 816.8,1053.5 817.5,1053.5 818.3,1053.5 819.0,1053.6 819.8,1053.6 820.5,1053.7 821.3,1053.7 822.1,1053.8 822.8,1053.8 823.6,1053.8 824.3,1053.9 825.1,1053.9 825.8,1053.9 826.6,1054.0 827.4,1054.0 828.1,1054.0 828.9,1054.1 829.6,1054.1 830.4,1054.1 831.1,1054.2 831.9,1054.2 832.7,1054.2 833.4,1054.2 834.2,1054.3 834.9,1054.3 835.7,1054.3 836.4,1054.3 837.2,1054.3 838.0,1054.3 838.7,1054.4 839.5,1054.4 840.2,1054.4 841.0,1054.4 841.7,1054.4 842.5,1054.4 843.3,1054.4 844.0,1054.4 844.8,1054.4 845.5,1054.4 846.3,1054.4 847.0,1054.4 847.8,1054.4 848.6,1054.4 849.3,1054.4 850.1,1054.4 850.8,1054.4 851.6,1054.4 852.3,1054.4 853.1,1054.4 853.8,1054.4 854.6,1054.4 855.4,1054.4 856.1,1054.4 856.9,1054.4 857.6,1054.4 858.4,1054.4 859.1,1054.4 859.9,1054.4 860.7,1054.4 861.4,1054.4 862.2,1054.4 862.9,1054.4 863.7,1054.4 864.4,1054.4 865.2,1054.4 866.0,1054.4 866.7,1054.4 867.5,1054.4 868.2,1054.4 869.0,1054.4 869.7,1054.4 870.5,1054.4 871.3,1054.4 872.0,1054.4 872.8,1054.4 873.5,1054.4 874.3,1054.4 875.0,1054.4 875.8,1054.4 876.6,1054.4 877.3,1054.4 878.1,1054.4 878.8,1054.4 879.6,1054.4 880.3,1054.4 881.1,1054.4 881.9,1054.4 882.6,1054.4 883.4,1054.4 884.1,1054.4 884.9,1054.4 885.6,1054.4 886.4,1054.4 887.2,1054.4 887.9,1054.4 888.7,1054.4 889.4,1054.4 890.2,1054.4 890.9,1054.4 891.7,1054.4 892.4,1054.4 893.2,1054.4 894.0,1054.4 894.7,1054.4 895.5,1054.4 896.2,1054.4 897.0,1054.4 897.7,1054.4 898.5,1054.4 899.3,1054.4 900.0,1054.4 900.8,1054.4 901.5,1054.4 902.3,1054.4 903.0,1054.4 903.8,1054.4 904.6,1054.4 905.3,1054.4 906.1,1054.4 906.8,1054.4 907.6,1054.4 908.3,1054.4 909.1,1054.4 909.9,1054.4 910.6,1054.4 911.4,1054.4 912.1,1054.4 912.9,1054.4 913.6,1054.4 914.4,1054.4" fill="none" stroke="#444" stroke-width="2.6" stroke-linejoin="round"/><line x1="756.9" y1="741.9" x2="756.9" y2="1063.4" stroke="#222" stroke-width="2" stroke-dasharray="2 2.8"/><polyline points="1035.6,879.8 1036.8,878.8 1038.0,877.8 1039.2,876.8 1040.4,875.8 1041.7,874.8 1042.9,873.8 1044.1,872.8 1045.3,871.8 1046.5,870.8 1047.7,869.8 1048.9,868.9 1050.1,867.9 1051.4,866.9 1052.6,865.9 1053.8,865.0 1055.0,864.0 1056.2,863.0 1057.4,862.1 1058.6,861.1 1059.8,860.1 1061.1,859.2 1062.3,858.2 1063.5,857.2 1064.7,856.3 1065.9,855.3 1067.1,854.4 1068.3,853.4 1069.5,852.4 1070.7,851.5 1072.0,850.5 1073.2,849.6 1074.4,848.6 1075.6,847.7 1076.8,846.7 1078.0,845.7 1079.2,844.8 1080.4,843.8 1081.7,842.9 1082.9,841.9 1084.1,841.0 1085.3,840.0 1086.5,839.0 1087.7,838.1 1088.9,837.1 1090.1,836.2 1091.4,835.2 1092.6,834.3 1093.8,833.3 1095.0,832.3 1096.2,831.4 1097.4,830.4 1098.6,829.5 1099.8,828.5 1101.1,827.5 1102.3,826.6 1103.5,825.6 1104.7,824.6 1105.9,823.7 1107.1,822.7 1108.3,821.7 1109.5,820.8 1110.7,819.8 1112.0,818.8 1113.2,817.8 1114.4,816.8 1115.6,815.8 1116.8,814.8 1118.0,813.8 1119.2,812.8 1120.4,811.9 1121.7,810.9 1122.9,809.9 1124.1,808.9 1125.3,807.9 1126.5,806.9 1127.7,805.9 1128.9,804.9 1130.1,803.9 1131.4,802.9 1132.6,801.9 1133.8,800.9 1135.0,799.9 1136.2,798.9 1137.4,797.9 1138.6,796.9 1139.8,795.9 1141.0,795.0 1142.3,794.0 1143.5,793.0 1144.7,792.0 1145.9,791.1 1147.1,790.1 1148.3,789.2 1149.5,788.2 1150.7,787.3 1152.0,786.3 1153.2,785.4 1154.4,784.5 1155.6,783.5 1156.8,782.6 1158.0,781.7 1159.2,780.8 1160.4,779.9 1161.7,779.0 1162.9,778.1 1164.1,777.2 1165.3,776.4 1166.5,775.5 1167.7,774.6 1168.9,773.7 1170.1,772.8 1171.3,772.0 1172.6,771.1 1173.8,770.3 1175.0,769.5 1176.2,768.7 1177.4,767.9 1178.6,767.2 1179.8,766.4 1181.0,765.7 1182.3,765.0 1183.5,764.3 1184.7,763.6 1185.9,762.8 1187.1,762.2 1188.3,761.5 1189.5,760.8 1190.7,760.2 1192.0,759.6 1193.2,759.0 1194.4,758.5 1195.6,758.0 1196.8,757.6 1198.0,757.2 1199.2,756.8 1200.4,756.4 1201.6,756.1 1202.9,755.9 1204.1,755.9 1205.3,756.1 1206.5,756.5 1207.7,756.9 1208.9,757.4 1210.1,758.0 1211.3,758.6 1212.6,759.4 1213.8,760.3 1215.0,761.5 1216.2,762.7 1217.4,764.0 1218.6,765.3 1219.8,766.7 1221.0,768.2 1222.3,769.7 1223.5,771.3 1224.7,772.9 1225.9,774.6 1227.1,776.4 1228.3,778.2 1229.5,780.1 1230.7,781.9 1232.0,783.8 1233.2,785.8 1234.4,787.7 1235.6,789.7 1236.8,791.6 1238.0,793.6 1239.2,795.6 1240.4,797.5 1241.6,799.5 1242.9,801.4 1244.1,803.3 1245.3,805.2 1246.5,807.0 1247.7,808.8 1248.9,810.7 1250.1,812.5 1251.3,814.3 1252.6,816.2 1253.8,818.0 1255.0,819.9 1256.2,821.7 1257.4,823.6 1258.6,825.4 1259.8,827.3 1261.0,829.1 1262.3,831.0 1263.5,832.8 1264.7,834.7 1265.9,836.5 1267.1,838.4 1268.3,840.3 1269.5,842.1 1270.7,844.0 1271.9,845.9 1273.2,847.7 1274.4,849.6 1275.6,851.5 1276.8,853.3 1278.0,855.2 1279.2,857.1 1280.4,858.9 1281.6,860.8 1282.9,862.7 1284.1,864.6 1285.3,866.4 1286.5,868.3 1287.7,870.2 1288.9,872.0 1290.1,873.9 1291.3,875.8 1292.6,877.7 1293.8,879.5 1295.0,881.4 1296.2,883.3 1297.4,885.2 1298.6,887.0 1299.8,888.9 1301.0,890.8 1302.2,892.6 1303.5,894.5 1304.7,896.4 1305.9,898.2 1307.1,900.1 1308.3,902.0 1309.5,903.8 1310.7,905.7 1311.9,907.5 1313.2,909.4 1314.4,911.3 1315.6,913.1 1316.8,915.0 1318.0,916.8 1319.2,918.7 1320.4,920.5 1321.6,922.4 1322.9,924.2 1324.1,926.0 1325.3,927.9 1326.5,929.7 1327.7,931.6 1328.9,933.4 1330.1,935.2 1331.3,937.0 1332.5,938.9 1333.8,940.7 1335.0,942.5 1336.2,944.3 1337.4,946.2 1338.6,948.0 1339.8,949.8 1341.0,951.6 1342.2,953.4 1343.5,955.2 1344.7,957.0 1345.9,958.9 1347.1,960.7 1348.3,962.5 1349.5,964.3 1350.7,966.1 1351.9,967.9 1353.2,969.7 1354.4,971.5 1355.6,973.3 1356.8,975.1 1358.0,976.9 1359.2,978.7 1360.4,980.5 1361.6,982.3 1362.9,984.1 1364.1,985.9 1365.3,987.7 1366.5,989.5 1367.7,991.3 1368.9,993.0 1370.1,994.8 1371.3,996.6 1372.5,998.4 1373.8,1000.2 1375.0,1002.0 1376.2,1003.8 1377.4,1005.6 1378.6,1007.3 1379.8,1009.1 1381.0,1010.9 1382.2,1012.7 1383.5,1014.5 1384.7,1016.2 1385.9,1018.0 1387.1,1019.8 1388.3,1021.6 1389.5,1023.3 1390.7,1025.1 1391.9,1026.9 1393.2,1028.6 1394.4,1030.4 1395.6,1032.2 1396.8,1033.9 1398.0,1035.7" fill="none" stroke="#333" stroke-width="2.6" stroke-linejoin="round"/><polyline points="1035.6,879.8 1043.0,883.4 1050.4,887.1 1057.8,890.8 1065.2,894.4 1072.6,898.0 1080.0,901.6 1087.4,905.1 1094.8,908.7 1102.2,912.2 1109.6,915.7 1117.0,919.2 1124.4,922.6 1131.7,926.0 1139.1,929.5 1146.5,932.8 1153.9,936.2 1161.3,939.6 1168.7,942.9 1176.1,946.2 1183.5,949.5 1190.9,952.8 1198.3,956.0 1205.7,959.2 1213.1,962.4 1220.5,965.6 1227.9,968.8 1235.3,971.9 1242.7,975.0 1250.1,978.1 1257.5,981.2 1264.9,984.3 1272.3,987.3 1279.7,990.3 1287.1,993.3 1294.5,996.3 1301.9,999.2 1309.2,1002.2 1316.6,1005.1 1324.0,1008.0 1331.4,1010.8 1338.8,1013.7 1346.2,1016.5 1353.6,1019.3 1361.0,1022.1 1368.4,1024.9 1375.8,1027.6 1383.2,1030.3 1390.6,1033.0 1398.0,1035.7" fill="none" stroke="#2e2e2e" stroke-width="3.0" stroke-linejoin="round" stroke-dasharray="10 5"/><line x1="1207.2" y1="742.9" x2="1207.2" y2="1056.8" stroke="#222" stroke-width="2" stroke-dasharray="2 2.8"/><polyline points="1617.5,1050.1 1618.4,1050.1 1619.3,1050.0 1620.2,1050.0 1621.1,1049.9 1622.0,1049.9 1622.9,1049.9 1623.9,1049.8 1624.8,1049.8 1625.7,1049.8 1626.6,1049.7 1627.5,1049.7 1628.4,1049.6 1629.3,1049.6 1630.2,1049.6 1631.1,1049.5 1632.0,1049.5 1632.9,1049.4 1633.8,1049.4 1634.8,1049.4 1635.7,1049.3 1636.6,1049.3 1637.5,1049.3 1638.4,1049.2 1639.3,1049.2 1640.2,1049.1 1641.1,1049.1 1642.0,1049.1 1642.9,1049.0 1643.8,1049.0 1644.7,1048.9 1645.7,1048.9 1646.6,1048.9 1647.5,1048.8 1648.4,1048.8 1649.3,1048.8 1650.2,1048.7 1651.1,1048.7 1652.0,1048.6 1652.9,1048.6 1653.8,1048.6 1654.7,1048.5 1655.6,1048.4 1656.6,1048.3 1657.5,1048.2 1658.4,1048.1 1659.3,1048.0 1660.2,1047.9 1661.1,1047.8 1662.0,1047.7 1662.9,1047.6 1663.8,1047.5 1664.7,1047.4 1665.6,1047.3 1666.5,1047.2 1667.5,1047.1 1668.4,1047.0 1669.3,1046.9 1670.2,1046.8 1671.1,1046.7 1672.0,1046.6 1672.9,1046.5 1673.8,1046.4 1674.7,1046.3 1675.6,1046.2 1676.5,1046.2 1677.4,1046.1 1678.4,1046.0 1679.3,1045.9 1680.2,1045.8 1681.1,1045.7 1682.0,1045.6 1682.9,1045.5 1683.8,1045.3 1684.7,1045.1 1685.6,1044.9 1686.5,1044.7 1687.4,1044.5 1688.3,1044.3 1689.3,1044.1 1690.2,1043.9 1691.1,1043.7 1692.0,1043.6 1692.9,1043.4 1693.8,1043.2 1694.7,1043.0 1695.6,1042.8 1696.5,1042.6 1697.4,1042.4 1698.3,1042.2 1699.2,1042.0 1700.2,1041.8 1701.1,1041.7 1702.0,1041.5 1702.9,1041.3 1703.8,1041.1 1704.7,1040.9 1705.6,1040.7 1706.5,1040.5 1707.4,1040.3 1708.3,1040.1 1709.2,1039.9 1710.1,1039.8 1711.1,1039.6 1712.0,1039.4 1712.9,1039.2 1713.8,1039.0 1714.7,1038.6 1715.6,1038.0 1716.5,1037.4 1717.4,1036.9 1718.3,1036.3 1719.2,1035.7 1720.1,1035.1 1721.0,1034.5 1722.0,1033.9 1722.9,1033.3 1723.8,1032.8 1724.7,1032.2 1725.6,1031.6 1726.5,1031.0 1727.4,1030.4 1728.3,1029.8 1729.2,1029.2 1730.1,1028.6 1731.0,1028.1 1731.9,1027.5 1732.9,1026.9 1733.8,1026.3 1734.7,1025.7 1735.6,1025.1 1736.5,1024.5 1737.4,1024.0 1738.3,1023.4 1739.2,1022.8 1740.1,1022.2 1741.0,1021.6 1741.9,1021.0 1742.8,1020.4 1743.7,1019.2 1744.7,1017.3 1745.6,1015.5 1746.5,1013.7 1747.4,1011.8 1748.3,1010.0 1749.2,1008.2 1750.1,1006.3 1751.0,1004.5 1751.9,1002.7 1752.8,1000.8 1753.7,999.0 1754.6,997.2 1755.6,995.3 1756.5,993.5 1757.4,991.7 1758.3,989.8 1759.2,987.8 1760.1,985.6 1761.0,983.3 1761.9,981.1 1762.8,978.8 1763.7,976.6 1764.6,974.3 1765.5,972.1 1766.5,969.8 1767.4,967.6 1768.3,965.3 1769.2,963.1 1770.1,960.8 1771.0,958.6 1771.9,956.3 1772.8,954.1 1773.7,951.8 1774.6,949.6 1775.5,947.3 1776.4,945.1 1777.4,942.8 1778.3,940.6 1779.2,938.4 1780.1,937.5 1781.0,936.6 1781.9,935.7 1782.8,934.8 1783.7,933.8 1784.6,932.9 1785.5,932.0 1786.4,934.2 1787.3,936.9 1788.3,939.6 1789.2,942.2 1790.1,944.9 1791.0,947.6 1791.9,950.2 1792.8,954.4 1793.7,959.2 1794.6,964.1 1795.5,968.9 1796.4,973.7 1797.3,978.6 1798.2,983.4 1799.2,988.2 1800.1,993.1 1801.0,997.9 1801.9,1002.7 1802.8,1007.6 1803.7,1012.4 1804.6,1017.2 1805.5,1022.1 1806.4,1024.1 1807.3,1025.9 1808.2,1027.6 1809.1,1029.4 1810.1,1031.2 1811.0,1032.9 1811.9,1034.7 1812.8,1036.5 1813.7,1038.3 1814.6,1040.0 1815.5,1040.6 1816.4,1041.1 1817.3,1041.7 1818.2,1042.2 1819.1,1042.7 1820.0,1043.2 1821.0,1043.7 1821.9,1044.3 1822.8,1044.8 1823.7,1045.3 1824.6,1045.8 1825.5,1046.3 1826.4,1046.9 1827.3,1047.4 1828.2,1047.8 1829.1,1047.9 1830.0,1048.0 1830.9,1048.1 1831.9,1048.1 1832.8,1048.2 1833.7,1048.3 1834.6,1048.4 1835.5,1048.5 1836.4,1048.6 1837.3,1048.6 1838.2,1048.7 1839.1,1048.8 1840.0,1048.9 1840.9,1049.0 1841.8,1049.1 1842.8,1049.2 1843.7,1049.2 1844.6,1049.3 1845.5,1049.4 1846.4,1049.5 1847.3,1049.6 1848.2,1049.7 1849.1,1049.7 1850.0,1049.8 1850.9,1049.9 1851.8,1050.0 1852.7,1050.1 1853.7,1050.1 1854.6,1050.1 1855.5,1050.1 1856.4,1050.1 1857.3,1050.1 1858.2,1050.1 1859.1,1050.1 1860.0,1050.1 1860.9,1050.1 1861.8,1050.1 1862.7,1050.1 1863.6,1050.1 1864.5,1050.1 1865.5,1050.1 1866.4,1050.1 1867.3,1050.1 1868.2,1050.1 1869.1,1050.1 1870.0,1050.1 1870.9,1050.1 1871.8,1050.1 1872.7,1050.1 1873.6,1050.1 1874.5,1050.1 1875.4,1050.1 1876.4,1050.1 1877.3,1050.1 1878.2,1050.1 1879.1,1050.1 1880.0,1050.1 1880.9,1050.1 1881.8,1050.1 1882.7,1050.1 1883.6,1050.1 1884.5,1050.1 1885.4,1050.1 1886.3,1050.1 1887.3,1050.1 1888.2,1050.1 1889.1,1050.1 1890.0,1050.1 1890.9,1050.1 1891.8,1050.1 1892.7,1050.1 1893.6,1050.1 1894.5,1050.1 1895.4,1050.1 1896.3,1050.1 1897.2,1050.1 1898.2,1050.1 1899.1,1050.1 1900.0,1050.1 1900.9,1050.1 1901.8,1050.1 1902.7,1050.1 1903.6,1050.1 1904.5,1050.1 1905.4,1050.1 1906.3,1050.1 1907.2,1050.1 1908.1,1050.1 1909.1,1050.1 1910.0,1050.1 1910.9,1050.1 1911.8,1050.1 1912.7,1050.1 1913.6,1050.1 1914.5,1050.1 1915.4,1050.1 1916.3,1050.1 1917.2,1050.1 1918.1,1050.1 1919.0,1050.1 1920.0,1050.1 1920.9,1050.1 1921.8,1050.1 1922.7,1050.1 1923.6,1050.1 1924.5,1050.1 1925.4,1050.1 1926.3,1050.1 1927.2,1050.1 1928.1,1050.1 1929.0,1050.1 1929.9,1050.1 1930.9,1050.1 1931.8,1050.1 1932.7,1050.1 1933.6,1050.1 1934.5,1050.1 1935.4,1050.1 1936.3,1050.1 1937.2,1050.1 1938.1,1050.1 1939.0,1050.1 1939.9,1050.1 1940.8,1050.1 1941.8,1050.1 1942.7,1050.1 1943.6,1050.1 1944.5,1050.1 1945.4,1050.1 1946.3,1050.1 1947.2,1050.1 1948.1,1050.1 1949.0,1050.1 1949.9,1050.1 1950.8,1050.1 1951.7,1050.1 1952.7,1050.1 1953.6,1050.1 1954.5,1050.1 1955.4,1050.1 1956.3,1050.1 1957.2,1050.1 1958.1,1050.1 1959.0,1050.1 1959.9,1050.1 1960.8,1050.1 1961.7,1050.1 1962.6,1050.1 1963.6,1050.1 1964.5,1050.1 1965.4,1050.1 1966.3,1050.1 1967.2,1050.1 1968.1,1050.1 1969.0,1050.1 1969.9,1050.1 1970.8,1050.1 1971.7,1050.1 1972.6,1050.1 1973.5,1050.1 1974.5,1050.1 1975.4,1050.1 1976.3,1050.1 1977.2,1050.1 1978.1,1050.1 1979.0,1050.1 1979.9,1050.1" fill="none" stroke="#444" stroke-width="2.6" stroke-linejoin="round"/><line x1="1789.1" y1="743.1" x2="1789.1" y2="1056.8" stroke="#222" stroke-width="2" stroke-dasharray="2 2.8"/><polyline points="82.8,1237.0 84.0,1237.0 85.3,1237.0 86.6,1237.0 87.9,1237.0 89.2,1237.0 90.4,1237.0 91.7,1237.0 93.0,1235.5 94.3,1233.4 95.6,1231.4 96.9,1229.5 98.1,1227.7 99.4,1226.0 100.7,1224.4 102.0,1222.9 103.3,1221.4 104.5,1220.0 105.8,1218.6 107.1,1217.1 108.4,1215.7 109.7,1214.3 111.0,1212.8 112.2,1211.3 113.5,1209.8 114.8,1208.2 116.1,1206.6 117.4,1205.0 118.6,1203.4 119.9,1201.7 121.2,1200.1 122.5,1198.4 123.8,1196.8 125.1,1195.2 126.3,1193.6 127.6,1192.0 128.9,1190.5 130.2,1189.0 131.5,1187.5 132.8,1186.0 134.0,1184.6 135.3,1183.2 136.6,1181.9 137.9,1180.5 139.2,1179.2 140.4,1177.9 141.7,1176.6 143.0,1175.3 144.3,1174.0 145.6,1172.7 146.9,1171.4 148.1,1170.0 149.4,1168.7 150.7,1167.4 152.0,1166.0 153.3,1164.7 154.5,1163.3 155.8,1161.9 157.1,1160.5 158.4,1159.1 159.7,1157.6 161.0,1156.2 162.2,1154.8 163.5,1153.4 164.8,1152.1 166.1,1150.7 167.4,1149.4 168.7,1148.1 169.9,1146.8 171.2,1145.6 172.5,1144.4 173.8,1143.3 175.1,1142.2 176.3,1141.1 177.6,1140.1 178.9,1139.0 180.2,1138.0 181.5,1137.0 182.8,1136.0 184.0,1135.1 185.3,1134.1 186.6,1133.1 187.9,1132.1 189.2,1131.1 190.4,1130.1 191.7,1129.1 193.0,1128.1 194.3,1127.1 195.6,1126.0 196.9,1125.0 198.1,1124.0 199.4,1123.0 200.7,1122.1 202.0,1121.1 203.3,1120.2 204.6,1119.2 205.8,1118.3 207.1,1117.3 208.4,1116.3 209.7,1115.3 211.0,1114.3 212.2,1113.4 213.5,1112.5 214.8,1111.6 216.1,1110.8 217.4,1110.1 218.7,1109.5 219.9,1109.0 221.2,1108.5 222.5,1108.2 223.8,1107.8 225.1,1107.4 226.3,1107.1 227.6,1106.9 228.9,1106.7 230.2,1106.6 231.5,1106.6 232.8,1106.6 234.0,1106.7 235.3,1106.9 236.6,1107.1 237.9,1107.3 239.2,1107.5 240.4,1107.8 241.7,1108.0 243.0,1108.3 244.3,1108.6 245.6,1109.0 246.9,1109.5 248.1,1110.0 249.4,1110.7 250.7,1111.3 252.0,1111.9 253.3,1112.5 254.6,1113.1 255.8,1113.7 257.1,1114.3 258.4,1114.9 259.7,1115.5 261.0,1116.1 262.2,1116.8 263.5,1117.4 264.8,1118.0 266.1,1118.6 267.4,1119.3 268.7,1119.9 269.9,1120.6 271.2,1121.2 272.5,1121.9 273.8,1122.5 275.1,1123.2 276.3,1123.9 277.6,1124.5 278.9,1125.2 280.2,1125.8 281.5,1126.5 282.8,1127.2 284.0,1127.8 285.3,1128.5 286.6,1129.1 287.9,1129.8 289.2,1130.5 290.5,1131.1 291.7,1131.8 293.0,1132.4 294.3,1133.0 295.6,1133.7 296.9,1134.3 298.1,1135.0 299.4,1135.6 300.7,1136.3 302.0,1136.9 303.3,1137.5 304.6,1138.2 305.8,1138.8 307.1,1139.5 308.4,1140.1 309.7,1140.8 311.0,1141.4 312.2,1142.1 313.5,1142.7 314.8,1143.4 316.1,1144.0 317.4,1144.6 318.7,1145.3 319.9,1145.9 321.2,1146.6 322.5,1147.2 323.8,1147.8 325.1,1148.5 326.4,1149.1 327.6,1149.7 328.9,1150.4 330.2,1151.0 331.5,1151.6 332.8,1152.3 334.0,1152.9 335.3,1153.5 336.6,1154.1 337.9,1154.7 339.2,1155.4 340.5,1156.0 341.7,1156.6 343.0,1157.2 344.3,1157.8 345.6,1158.4 346.9,1159.0 348.1,1159.6 349.4,1160.2 350.7,1160.8 352.0,1161.5 353.3,1162.1 354.6,1162.7 355.8,1163.3 357.1,1163.9 358.4,1164.5 359.7,1165.1 361.0,1165.7 362.2,1166.3 363.5,1166.9 364.8,1167.5 366.1,1168.1 367.4,1168.7 368.7,1169.3 369.9,1169.9 371.2,1170.5 372.5,1171.1 373.8,1171.7 375.1,1172.3 376.4,1172.9 377.6,1173.5 378.9,1174.1 380.2,1174.7 381.5,1175.3 382.8,1175.9 384.0,1176.4 385.3,1177.0 386.6,1177.6 387.9,1178.2 389.2,1178.8 390.5,1179.4 391.7,1180.0 393.0,1180.6 394.3,1181.2 395.6,1181.7 396.9,1182.3 398.1,1182.9 399.4,1183.5 400.7,1184.1 402.0,1184.7 403.3,1185.2 404.6,1185.8 405.8,1186.4 407.1,1187.0 408.4,1187.6 409.7,1188.1 411.0,1188.7 412.3,1189.3 413.5,1189.9 414.8,1190.4 416.1,1191.0 417.4,1191.6 418.7,1192.2 419.9,1192.7 421.2,1193.3 422.5,1193.9 423.8,1194.4 425.1,1195.0 426.4,1195.6 427.6,1196.1 428.9,1196.7 430.2,1197.3 431.5,1197.8 432.8,1198.4 434.0,1199.0 435.3,1199.5 436.6,1200.1 437.9,1200.6 439.2,1201.2 440.5,1201.7 441.7,1202.3 443.0,1202.9 444.3,1203.4 445.6,1204.0 446.9,1204.5 448.2,1205.1 449.4,1205.6 450.7,1206.2 452.0,1206.7 453.3,1207.3 454.6,1207.8 455.8,1208.4 457.1,1208.9 458.4,1209.4 459.7,1210.0 461.0,1210.5 462.3,1211.1 463.5,1211.6 464.8,1212.1 466.1,1212.7" fill="none" stroke="#333" stroke-width="2.6" stroke-linejoin="round"/><polyline points="92.1,1237.0 98.4,1238.6 104.8,1240.1 111.1,1241.6 117.5,1243.0 123.8,1244.5 130.1,1246.0 136.5,1247.5 142.8,1248.9 149.2,1250.4 155.5,1251.9 161.8,1253.3 168.2,1254.7 174.5,1256.2 180.8,1257.6 187.2,1259.0 193.5,1260.4 199.9,1261.8 206.2,1263.2 212.5,1264.6 218.9,1266.0 225.2,1267.4 231.6,1268.8 237.9,1270.1 244.2,1271.5 250.6,1272.9 256.9,1274.2 263.3,1275.5 269.6,1276.9 275.9,1278.2 282.3,1279.5 288.6,1280.8 294.9,1282.2 301.3,1283.5 307.6,1284.8 314.0,1286.0 320.3,1287.3 326.6,1288.6 333.0,1289.9 339.3,1291.1 345.7,1292.4 352.0,1293.7 358.3,1294.9 364.7,1296.1 371.0,1297.4 377.4,1298.6 383.7,1299.8 390.0,1301.0 396.4,1302.2 402.7,1303.4 409.0,1304.6 415.4,1305.8 421.7,1307.0 428.1,1308.2 434.4,1309.3 440.7,1310.5 447.1,1311.6 453.4,1312.8 459.8,1313.9 466.1,1315.1" fill="none" stroke="#2e2e2e" stroke-width="3.2" stroke-linejoin="round" stroke-dasharray="8.5 4.7"/><line x1="224.0" y1="1076.0" x2="224.0" y2="1399.1" stroke="#222" stroke-width="2" stroke-dasharray="2 2.8"/><polyline points="688.1,1388.7 688.9,1388.7 689.6,1388.6 690.4,1388.6 691.1,1388.5 691.9,1388.4 692.6,1388.3 693.4,1388.1 694.2,1387.9 694.9,1387.8 695.7,1387.6 696.4,1387.3 697.2,1387.1 697.9,1386.9 698.7,1386.6 699.5,1386.3 700.2,1386.0 701.0,1385.6 701.7,1385.0 702.5,1384.4 703.2,1383.6 704.0,1382.8 704.8,1381.9 705.5,1381.0 706.3,1380.0 707.0,1379.1 707.8,1378.1 708.5,1377.0 709.3,1375.8 710.0,1374.5 710.8,1373.2 711.6,1371.8 712.3,1370.4 713.1,1368.9 713.8,1367.4 714.6,1365.8 715.3,1364.1 716.1,1362.4 716.9,1360.7 717.6,1359.0 718.4,1357.2 719.1,1355.4 719.9,1353.6 720.6,1351.8 721.4,1349.9 722.2,1347.9 722.9,1345.9 723.7,1343.7 724.4,1341.5 725.2,1339.2 725.9,1336.9 726.7,1334.5 727.5,1332.1 728.2,1329.7 729.0,1327.2 729.7,1324.7 730.5,1322.3 731.2,1319.7 732.0,1317.0 732.8,1314.3 733.5,1311.5 734.3,1308.6 735.0,1305.8 735.8,1302.9 736.5,1300.1 737.3,1297.3 738.1,1294.5 738.8,1291.9 739.6,1289.4 740.3,1286.9 741.1,1284.6 741.8,1282.3 742.6,1279.7 743.3,1277.2 744.1,1274.6 744.9,1272.0 745.6,1269.5 746.4,1267.2 747.1,1265.0 747.9,1263.1 748.6,1261.5 749.4,1260.2 750.2,1259.3 750.9,1258.8 751.7,1258.8 752.4,1259.2 753.2,1260.0 753.9,1261.2 754.7,1262.7 755.5,1264.4 756.2,1266.2 757.0,1268.2 757.7,1270.2 758.5,1272.3 759.2,1274.7 760.0,1277.6 760.8,1280.9 761.5,1284.6 762.3,1288.4 763.0,1292.4 763.8,1296.4 764.5,1300.3 765.3,1304.1 766.1,1307.8 766.8,1311.8 767.6,1316.0 768.3,1320.3 769.1,1324.6 769.8,1328.9 770.6,1333.1 771.4,1337.1 772.1,1340.9 772.9,1344.4 773.6,1347.5 774.4,1350.2 775.1,1352.4 775.9,1354.5 776.7,1356.5 777.4,1358.5 778.2,1360.3 778.9,1362.0 779.7,1363.7 780.4,1365.3 781.2,1366.8 781.9,1368.2 782.7,1369.5 783.5,1370.7 784.2,1371.8 785.0,1372.9 785.7,1373.8 786.5,1374.7 787.2,1375.5 788.0,1376.4 788.8,1377.1 789.5,1377.9 790.3,1378.7 791.0,1379.4 791.8,1380.1 792.5,1380.7 793.3,1381.3 794.1,1381.9 794.8,1382.5 795.6,1383.0 796.3,1383.5 797.1,1383.9 797.8,1384.3 798.6,1384.6 799.4,1384.9 800.1,1385.2 800.9,1385.4 801.6,1385.6 802.4,1385.7 803.1,1385.9 803.9,1386.1 804.7,1386.2 805.4,1386.4 806.2,1386.5 806.9,1386.6 807.7,1386.8 808.4,1386.9 809.2,1387.0 810.0,1387.1 810.7,1387.2 811.5,1387.3 812.2,1387.4 813.0,1387.5 813.7,1387.5 814.5,1387.6 815.2,1387.7 816.0,1387.7 816.8,1387.8 817.5,1387.8 818.3,1387.8 819.0,1387.9 819.8,1387.9 820.5,1388.0 821.3,1388.0 822.1,1388.1 822.8,1388.1 823.6,1388.1 824.3,1388.2 825.1,1388.2 825.8,1388.2 826.6,1388.3 827.4,1388.3 828.1,1388.3 828.9,1388.4 829.6,1388.4 830.4,1388.4 831.1,1388.5 831.9,1388.5 832.7,1388.5 833.4,1388.5 834.2,1388.6 834.9,1388.6 835.7,1388.6 836.4,1388.6 837.2,1388.6 838.0,1388.6 838.7,1388.7 839.5,1388.7 840.2,1388.7 841.0,1388.7 841.7,1388.7 842.5,1388.7 843.3,1388.7 844.0,1388.7 844.8,1388.7 845.5,1388.7 846.3,1388.7 847.0,1388.7 847.8,1388.7 848.6,1388.7 849.3,1388.7 850.1,1388.7 850.8,1388.7 851.6,1388.7 852.3,1388.7 853.1,1388.7 853.8,1388.7 854.6,1388.7 855.4,1388.7 856.1,1388.7 856.9,1388.7 857.6,1388.7 858.4,1388.7 859.1,1388.7 859.9,1388.7 860.7,1388.7 861.4,1388.7 862.2,1388.7 862.9,1388.7 863.7,1388.7 864.4,1388.7 865.2,1388.7 866.0,1388.7 866.7,1388.7 867.5,1388.7 868.2,1388.7 869.0,1388.7 869.7,1388.7 870.5,1388.7 871.3,1388.7 872.0,1388.7 872.8,1388.7 873.5,1388.7 874.3,1388.7 875.0,1388.7 875.8,1388.7 876.6,1388.7 877.3,1388.7 878.1,1388.7 878.8,1388.7 879.6,1388.7 880.3,1388.7 881.1,1388.7 881.9,1388.7 882.6,1388.7 883.4,1388.7 884.1,1388.7 884.9,1388.7 885.6,1388.7 886.4,1388.7 887.2,1388.7 887.9,1388.7 888.7,1388.7 889.4,1388.7 890.2,1388.7 890.9,1388.7 891.7,1388.7 892.4,1388.7 893.2,1388.7 894.0,1388.7 894.7,1388.7 895.5,1388.7 896.2,1388.7 897.0,1388.7 897.7,1388.7 898.5,1388.7 899.3,1388.7 900.0,1388.7 900.8,1388.7 901.5,1388.7 902.3,1388.7 903.0,1388.7 903.8,1388.7 904.6,1388.7 905.3,1388.7 906.1,1388.7 906.8,1388.7 907.6,1388.7 908.3,1388.7 909.1,1388.7 909.9,1388.7 910.6,1388.7 911.4,1388.7 912.1,1388.7 912.9,1388.7 913.6,1388.7 914.4,1388.7" fill="none" stroke="#444" stroke-width="2.6" stroke-linejoin="round"/><line x1="756.9" y1="1076.2" x2="756.9" y2="1397.7" stroke="#222" stroke-width="2" stroke-dasharray="2 2.8"/><polyline points="1035.6,1222.5 1036.8,1221.5 1038.0,1220.5 1039.2,1219.5 1040.4,1218.5 1041.7,1217.5 1042.9,1216.5 1044.1,1215.5 1045.3,1214.6 1046.5,1213.6 1047.7,1212.6 1048.9,1211.6 1050.1,1210.6 1051.4,1209.7 1052.6,1208.7 1053.8,1207.7 1055.0,1206.8 1056.2,1205.8 1057.4,1204.8 1058.6,1203.9 1059.8,1202.9 1061.1,1201.9 1062.3,1201.0 1063.5,1200.0 1064.7,1199.0 1065.9,1198.1 1067.1,1197.1 1068.3,1196.2 1069.5,1195.2 1070.7,1194.2 1072.0,1193.3 1073.2,1192.3 1074.4,1191.4 1075.6,1190.4 1076.8,1189.4 1078.0,1188.5 1079.2,1187.5 1080.4,1186.6 1081.7,1185.6 1082.9,1184.7 1084.1,1183.7 1085.3,1182.7 1086.5,1181.8 1087.7,1180.8 1088.9,1179.9 1090.1,1178.9 1091.4,1178.0 1092.6,1177.0 1093.8,1176.0 1095.0,1175.1 1096.2,1174.1 1097.4,1173.2 1098.6,1172.2 1099.8,1171.2 1101.1,1170.3 1102.3,1169.3 1103.5,1168.3 1104.7,1167.4 1105.9,1166.4 1107.1,1165.4 1108.3,1164.5 1109.5,1163.5 1110.7,1162.5 1112.0,1161.5 1113.2,1160.6 1114.4,1159.6 1115.6,1158.6 1116.8,1157.6 1118.0,1156.6 1119.2,1155.6 1120.4,1154.6 1121.7,1153.6 1122.9,1152.6 1124.1,1151.6 1125.3,1150.6 1126.5,1149.6 1127.7,1148.6 1128.9,1147.6 1130.1,1146.6 1131.4,1145.6 1132.6,1144.6 1133.8,1143.6 1135.0,1142.6 1136.2,1141.6 1137.4,1140.7 1138.6,1139.7 1139.8,1138.7 1141.0,1137.7 1142.3,1136.7 1143.5,1135.8 1144.7,1134.8 1145.9,1133.8 1147.1,1132.9 1148.3,1131.9 1149.5,1131.0 1150.7,1130.0 1152.0,1129.1 1153.2,1128.1 1154.4,1127.2 1155.6,1126.3 1156.8,1125.4 1158.0,1124.5 1159.2,1123.6 1160.4,1122.7 1161.7,1121.8 1162.9,1120.9 1164.1,1120.0 1165.3,1119.1 1166.5,1118.2 1167.7,1117.3 1168.9,1116.5 1170.1,1115.6 1171.3,1114.7 1172.6,1113.9 1173.8,1113.1 1175.0,1112.2 1176.2,1111.4 1177.4,1110.7 1178.6,1109.9 1179.8,1109.2 1181.0,1108.5 1182.3,1107.7 1183.5,1107.0 1184.7,1106.3 1185.9,1105.6 1187.1,1104.9 1188.3,1104.2 1189.5,1103.6 1190.7,1102.9 1192.0,1102.3 1193.2,1101.8 1194.4,1101.3 1195.6,1100.8 1196.8,1100.4 1198.0,1100.0 1199.2,1099.5 1200.4,1099.1 1201.6,1098.8 1202.9,1098.7 1204.1,1098.7 1205.3,1098.9 1206.5,1099.2 1207.7,1099.7 1208.9,1100.2 1210.1,1100.8 1211.3,1101.4 1212.6,1102.1 1213.8,1103.1 1215.0,1104.2 1216.2,1105.5 1217.4,1106.8 1218.6,1108.1 1219.8,1109.5 1221.0,1110.9 1222.3,1112.4 1223.5,1114.0 1224.7,1115.7 1225.9,1117.4 1227.1,1119.2 1228.3,1121.0 1229.5,1122.8 1230.7,1124.7 1232.0,1126.6 1233.2,1128.5 1234.4,1130.5 1235.6,1132.4 1236.8,1134.4 1238.0,1136.4 1239.2,1138.3 1240.4,1140.3 1241.6,1142.2 1242.9,1144.2 1244.1,1146.1 1245.3,1147.9 1246.5,1149.8 1247.7,1151.6 1248.9,1153.4 1250.1,1155.3 1251.3,1157.1 1252.6,1158.9 1253.8,1160.8 1255.0,1162.6 1256.2,1164.5 1257.4,1166.3 1258.6,1168.2 1259.8,1170.0 1261.0,1171.9 1262.3,1173.7 1263.5,1175.6 1264.7,1177.4 1265.9,1179.3 1267.1,1181.1 1268.3,1183.0 1269.5,1184.9 1270.7,1186.7 1271.9,1188.6 1273.2,1190.5 1274.4,1192.3 1275.6,1194.2 1276.8,1196.1 1278.0,1197.9 1279.2,1199.8 1280.4,1201.7 1281.6,1203.6 1282.9,1205.4 1284.1,1207.3 1285.3,1209.2 1286.5,1211.1 1287.7,1212.9 1288.9,1214.8 1290.1,1216.7 1291.3,1218.5 1292.6,1220.4 1293.8,1222.3 1295.0,1224.2 1296.2,1226.0 1297.4,1227.9 1298.6,1229.8 1299.8,1231.6 1301.0,1233.5 1302.2,1235.4 1303.5,1237.3 1304.7,1239.1 1305.9,1241.0 1307.1,1242.9 1308.3,1244.7 1309.5,1246.6 1310.7,1248.4 1311.9,1250.3 1313.2,1252.2 1314.4,1254.0 1315.6,1255.9 1316.8,1257.7 1318.0,1259.6 1319.2,1261.4 1320.4,1263.3 1321.6,1265.1 1322.9,1267.0 1324.1,1268.8 1325.3,1270.6 1326.5,1272.5 1327.7,1274.3 1328.9,1276.1 1330.1,1278.0 1331.3,1279.8 1332.5,1281.6 1333.8,1283.4 1335.0,1285.3 1336.2,1287.1 1337.4,1288.9 1338.6,1290.7 1339.8,1292.5 1341.0,1294.4 1342.2,1296.2 1343.5,1298.0 1344.7,1299.8 1345.9,1301.6 1347.1,1303.4 1348.3,1305.2 1349.5,1307.0 1350.7,1308.8 1351.9,1310.6 1353.2,1312.4 1354.4,1314.2 1355.6,1316.0 1356.8,1317.8 1358.0,1319.6 1359.2,1321.4 1360.4,1323.2 1361.6,1325.0 1362.9,1326.8 1364.1,1328.6 1365.3,1330.4 1366.5,1332.2 1367.7,1334.0 1368.9,1335.8 1370.1,1337.6 1371.3,1339.4 1372.5,1341.2 1373.8,1342.9 1375.0,1344.7 1376.2,1346.5 1377.4,1348.3 1378.6,1350.1 1379.8,1351.9 1381.0,1353.6 1382.2,1355.4 1383.5,1357.2 1384.7,1359.0 1385.9,1360.8 1387.1,1362.5 1388.3,1364.3 1389.5,1366.1 1390.7,1367.8 1391.9,1369.6 1393.2,1371.4 1394.4,1373.2 1395.6,1374.9 1396.8,1376.7 1398.0,1378.5" fill="none" stroke="#333" stroke-width="2.6" stroke-linejoin="round"/><polyline points="1035.6,1222.5 1043.0,1226.2 1050.4,1229.9 1057.8,1233.5 1065.2,1237.1 1072.6,1240.7 1080.0,1244.3 1087.4,1247.9 1094.8,1251.4 1102.2,1254.9 1109.6,1258.4 1117.0,1261.9 1124.4,1265.4 1131.7,1268.8 1139.1,1272.2 1146.5,1275.6 1153.9,1279.0 1161.3,1282.3 1168.7,1285.6 1176.1,1289.0 1183.5,1292.2 1190.9,1295.5 1198.3,1298.8 1205.7,1302.0 1213.1,1305.2 1220.5,1308.4 1227.9,1311.5 1235.3,1314.7 1242.7,1317.8 1250.1,1320.9 1257.5,1324.0 1264.9,1327.0 1272.3,1330.1 1279.7,1333.1 1287.1,1336.1 1294.5,1339.0 1301.9,1342.0 1309.2,1344.9 1316.6,1347.8 1324.0,1350.7 1331.4,1353.6 1338.8,1356.4 1346.2,1359.3 1353.6,1362.1 1361.0,1364.9 1368.4,1367.6 1375.8,1370.4 1383.2,1373.1 1390.6,1375.8 1398.0,1378.5" fill="none" stroke="#2e2e2e" stroke-width="3.0" stroke-linejoin="round" stroke-dasharray="10 5"/><line x1="1207.2" y1="1085.7" x2="1207.2" y2="1399.5" stroke="#222" stroke-width="2" stroke-dasharray="2 2.8"/><polyline points="1617.5,1392.8 1618.4,1392.8 1619.3,1392.8 1620.2,1392.7 1621.1,1392.7 1622.0,1392.7 1622.9,1392.6 1623.9,1392.6 1624.8,1392.5 1625.7,1392.5 1626.6,1392.5 1627.5,1392.4 1628.4,1392.4 1629.3,1392.3 1630.2,1392.3 1631.1,1392.3 1632.0,1392.2 1632.9,1392.2 1633.8,1392.2 1634.8,1392.1 1635.7,1392.1 1636.6,1392.0 1637.5,1392.0 1638.4,1392.0 1639.3,1391.9 1640.2,1391.9 1641.1,1391.8 1642.0,1391.8 1642.9,1391.8 1643.8,1391.7 1644.7,1391.7 1645.7,1391.7 1646.6,1391.6 1647.5,1391.6 1648.4,1391.5 1649.3,1391.5 1650.2,1391.5 1651.1,1391.4 1652.0,1391.4 1652.9,1391.3 1653.8,1391.3 1654.7,1391.2 1655.6,1391.1 1656.6,1391.0 1657.5,1390.9 1658.4,1390.8 1659.3,1390.7 1660.2,1390.6 1661.1,1390.5 1662.0,1390.4 1662.9,1390.3 1663.8,1390.2 1664.7,1390.2 1665.6,1390.1 1666.5,1390.0 1667.5,1389.9 1668.4,1389.8 1669.3,1389.7 1670.2,1389.6 1671.1,1389.5 1672.0,1389.4 1672.9,1389.3 1673.8,1389.2 1674.7,1389.1 1675.6,1389.0 1676.5,1388.9 1677.4,1388.8 1678.4,1388.7 1679.3,1388.6 1680.2,1388.5 1681.1,1388.4 1682.0,1388.3 1682.9,1388.2 1683.8,1388.0 1684.7,1387.8 1685.6,1387.6 1686.5,1387.5 1687.4,1387.3 1688.3,1387.1 1689.3,1386.9 1690.2,1386.7 1691.1,1386.5 1692.0,1386.3 1692.9,1386.1 1693.8,1385.9 1694.7,1385.7 1695.6,1385.5 1696.5,1385.4 1697.4,1385.2 1698.3,1385.0 1699.2,1384.8 1700.2,1384.6 1701.1,1384.4 1702.0,1384.2 1702.9,1384.0 1703.8,1383.8 1704.7,1383.6 1705.6,1383.5 1706.5,1383.3 1707.4,1383.1 1708.3,1382.9 1709.2,1382.7 1710.1,1382.5 1711.1,1382.3 1712.0,1382.1 1712.9,1381.9 1713.8,1381.7 1714.7,1381.4 1715.6,1380.8 1716.5,1380.2 1717.4,1379.6 1718.3,1379.0 1719.2,1378.4 1720.1,1377.9 1721.0,1377.3 1722.0,1376.7 1722.9,1376.1 1723.8,1375.5 1724.7,1374.9 1725.6,1374.3 1726.5,1373.7 1727.4,1373.2 1728.3,1372.6 1729.2,1372.0 1730.1,1371.4 1731.0,1370.8 1731.9,1370.2 1732.9,1369.6 1733.8,1369.1 1734.7,1368.5 1735.6,1367.9 1736.5,1367.3 1737.4,1366.7 1738.3,1366.1 1739.2,1365.5 1740.1,1364.9 1741.0,1364.4 1741.9,1363.8 1742.8,1363.2 1743.7,1361.9 1744.7,1360.1 1745.6,1358.2 1746.5,1356.4 1747.4,1354.6 1748.3,1352.7 1749.2,1350.9 1750.1,1349.1 1751.0,1347.2 1751.9,1345.4 1752.8,1343.6 1753.7,1341.7 1754.6,1339.9 1755.6,1338.1 1756.5,1336.2 1757.4,1334.4 1758.3,1332.6 1759.2,1330.6 1760.1,1328.3 1761.0,1326.1 1761.9,1323.8 1762.8,1321.6 1763.7,1319.3 1764.6,1317.1 1765.5,1314.8 1766.5,1312.6 1767.4,1310.3 1768.3,1308.1 1769.2,1305.8 1770.1,1303.6 1771.0,1301.3 1771.9,1299.1 1772.8,1296.8 1773.7,1294.6 1774.6,1292.3 1775.5,1290.1 1776.4,1287.8 1777.4,1285.6 1778.3,1283.3 1779.2,1281.1 1780.1,1280.2 1781.0,1279.3 1781.9,1278.4 1782.8,1277.5 1783.7,1276.6 1784.6,1275.7 1785.5,1274.8 1786.4,1277.0 1787.3,1279.6 1788.3,1282.3 1789.2,1285.0 1790.1,1287.6 1791.0,1290.3 1791.9,1293.0 1792.8,1297.1 1793.7,1302.0 1794.6,1306.8 1795.5,1311.6 1796.4,1316.5 1797.3,1321.3 1798.2,1326.1 1799.2,1331.0 1800.1,1335.8 1801.0,1340.7 1801.9,1345.5 1802.8,1350.3 1803.7,1355.2 1804.6,1360.0 1805.5,1364.8 1806.4,1366.8 1807.3,1368.6 1808.2,1370.4 1809.1,1372.2 1810.1,1373.9 1811.0,1375.7 1811.9,1377.5 1812.8,1379.2 1813.7,1381.0 1814.6,1382.8 1815.5,1383.4 1816.4,1383.9 1817.3,1384.4 1818.2,1384.9 1819.1,1385.4 1820.0,1386.0 1821.0,1386.5 1821.9,1387.0 1822.8,1387.5 1823.7,1388.0 1824.6,1388.6 1825.5,1389.1 1826.4,1389.6 1827.3,1390.1 1828.2,1390.6 1829.1,1390.6 1830.0,1390.7 1830.9,1390.8 1831.9,1390.9 1832.8,1391.0 1833.7,1391.1 1834.6,1391.1 1835.5,1391.2 1836.4,1391.3 1837.3,1391.4 1838.2,1391.5 1839.1,1391.6 1840.0,1391.6 1840.9,1391.7 1841.8,1391.8 1842.8,1391.9 1843.7,1392.0 1844.6,1392.1 1845.5,1392.2 1846.4,1392.2 1847.3,1392.3 1848.2,1392.4 1849.1,1392.5 1850.0,1392.6 1850.9,1392.7 1851.8,1392.7 1852.7,1392.8 1853.7,1392.8 1854.6,1392.8 1855.5,1392.8 1856.4,1392.8 1857.3,1392.8 1858.2,1392.8 1859.1,1392.8 1860.0,1392.8 1860.9,1392.8 1861.8,1392.8 1862.7,1392.8 1863.6,1392.8 1864.5,1392.8 1865.5,1392.8 1866.4,1392.8 1867.3,1392.8 1868.2,1392.8 1869.1,1392.8 1870.0,1392.8 1870.9,1392.8 1871.8,1392.8 1872.7,1392.8 1873.6,1392.8 1874.5,1392.8 1875.4,1392.8 1876.4,1392.8 1877.3,1392.8 1878.2,1392.8 1879.1,1392.8 1880.0,1392.8 1880.9,1392.8 1881.8,1392.8 1882.7,1392.8 1883.6,1392.8 1884.5,1392.8 1885.4,1392.8 1886.3,1392.8 1887.3,1392.8 1888.2,1392.8 1889.1,1392.8 1890.0,1392.8 1890.9,1392.8 1891.8,1392.8 1892.7,1392.8 1893.6,1392.8 1894.5,1392.8 1895.4,1392.8 1896.3,1392.8 1897.2,1392.8 1898.2,1392.8 1899.1,1392.8 1900.0,1392.8 1900.9,1392.8 1901.8,1392.8 1902.7,1392.8 1903.6,1392.8 1904.5,1392.8 1905.4,1392.8 1906.3,1392.8 1907.2,1392.8 1908.1,1392.8 1909.1,1392.8 1910.0,1392.8 1910.9,1392.8 1911.8,1392.8 1912.7,1392.8 1913.6,1392.8 1914.5,1392.8 1915.4,1392.8 1916.3,1392.8 1917.2,1392.8 1918.1,1392.8 1919.0,1392.8 1920.0,1392.8 1920.9,1392.8 1921.8,1392.8 1922.7,1392.8 1923.6,1392.8 1924.5,1392.8 1925.4,1392.8 1926.3,1392.8 1927.2,1392.8 1928.1,1392.8 1929.0,1392.8 1929.9,1392.8 1930.9,1392.8 1931.8,1392.8 1932.7,1392.8 1933.6,1392.8 1934.5,1392.8 1935.4,1392.8 1936.3,1392.8 1937.2,1392.8 1938.1,1392.8 1939.0,1392.8 1939.9,1392.8 1940.8,1392.8 1941.8,1392.8 1942.7,1392.8 1943.6,1392.8 1944.5,1392.8 1945.4,1392.8 1946.3,1392.8 1947.2,1392.8 1948.1,1392.8 1949.0,1392.8 1949.9,1392.8 1950.8,1392.8 1951.7,1392.8 1952.7,1392.8 1953.6,1392.8 1954.5,1392.8 1955.4,1392.8 1956.3,1392.8 1957.2,1392.8 1958.1,1392.8 1959.0,1392.8 1959.9,1392.8 1960.8,1392.8 1961.7,1392.8 1962.6,1392.8 1963.6,1392.8 1964.5,1392.8 1965.4,1392.8 1966.3,1392.8 1967.2,1392.8 1968.1,1392.8 1969.0,1392.8 1969.9,1392.8 1970.8,1392.8 1971.7,1392.8 1972.6,1392.8 1973.5,1392.8 1974.5,1392.8 1975.4,1392.8 1976.3,1392.8 1977.2,1392.8 1978.1,1392.8 1979.0,1392.8 1979.9,1392.8" fill="none" stroke="#444" stroke-width="2.6" stroke-linejoin="round"/><line x1="1789.1" y1="1085.8" x2="1789.1" y2="1399.5" stroke="#222" stroke-width="2" stroke-dasharray="2 2.8"/><rect x="1816.1" y="65.0" width="176.6" height="64.6" fill="#fff" stroke="#333" stroke-width="1.8"/><line x1="1827" y1="77.1" x2="1859" y2="77.1" stroke="#222" stroke-width="2.6"/><text x="1869.7" y="83.0" font-size="17.5" text-anchor="start" font-family="'Liberation Sans',Arial,Helvetica,sans-serif" stroke="#000" stroke-width="0.25">Equilibrium</text><line x1="1830.5" y1="97.5" x2="1859" y2="97.5" stroke="#222" stroke-width="2.6" stroke-dasharray="7.5 6"/><text x="1869.7" y="103.4" font-size="17.5" text-anchor="start" font-family="'Liberation Sans',Arial,Helvetica,sans-serif" stroke="#000" stroke-width="0.25">Pure Mixing</text><line x1="1827" y1="118.2" x2="1859" y2="118.2" stroke="#333" stroke-width="2.2" stroke-dasharray="2 2.3"/><text x="1869.7" y="124.1" font-size="17.5" text-anchor="start" font-family="'Liberation Sans',Arial,Helvetica,sans-serif" stroke="#000" stroke-width="0.25">Stoichiometric</text><rect x="1814.3" y="741.2" width="176.8" height="64.9" fill="#fff" stroke="#333" stroke-width="1.8"/><line x1="1825.4" y1="753.6" x2="1857" y2="753.6" stroke="#222" stroke-width="2.6"/><text x="1867.6" y="759.5" font-size="17.5" text-anchor="start" font-family="'Liberation Sans',Arial,Helvetica,sans-serif" stroke="#000" stroke-width="0.25">Equilibrium</text><line x1="1828.9" y1="774.0" x2="1857" y2="774.0" stroke="#222" stroke-width="2.6" stroke-dasharray="7.5 6"/><text x="1867.6" y="779.9" font-size="17.5" text-anchor="start" font-family="'Liberation Sans',Arial,Helvetica,sans-serif" stroke="#000" stroke-width="0.25">Pure Mixing</text><line x1="1825.4" y1="795.0" x2="1857" y2="795.0" stroke="#333" stroke-width="2.2" stroke-dasharray="2 2.3"/><text x="1867.6" y="800.9" font-size="17.5" text-anchor="start" font-family="'Liberation Sans',Arial,Helvetica,sans-serif" stroke="#000" stroke-width="0.25">Stoichiometric</text><rect x="1814.2" y="1090.8" width="177.1" height="64.5" fill="#fff" stroke="#333" stroke-width="1.8"/><line x1="1825.4" y1="1103.2" x2="1857" y2="1103.2" stroke="#222" stroke-width="2.6"/><text x="1867.6" y="1109.1" font-size="17.5" text-anchor="start" font-family="'Liberation Sans',Arial,Helvetica,sans-serif" stroke="#000" stroke-width="0.25">Equilibrium</text><line x1="1828.9" y1="1123.7" x2="1857" y2="1123.7" stroke="#222" stroke-width="2.6" stroke-dasharray="7.5 6"/><text x="1867.6" y="1129.6" font-size="17.5" text-anchor="start" font-family="'Liberation Sans',Arial,Helvetica,sans-serif" stroke="#000" stroke-width="0.25">Pure Mixing</text><line x1="1825.4" y1="1143.9" x2="1857" y2="1143.9" stroke="#333" stroke-width="2.2" stroke-dasharray="2 2.3"/><text x="1867.6" y="1149.8" font-size="17.5" text-anchor="start" font-family="'Liberation Sans',Arial,Helvetica,sans-serif" stroke="#000" stroke-width="0.25">Stoichiometric</text><rect x="278.0" y="1326.0" width="181.7" height="66.2" fill="#fff" stroke="#333" stroke-width="1.8"/><line x1="289.4" y1="1338.4" x2="321.8" y2="1338.4" stroke="#222" stroke-width="2.6"/><text x="333.1" y="1344.3" font-size="17.5" text-anchor="start" font-family="'Liberation Sans',Arial,Helvetica,sans-serif" stroke="#000" stroke-width="0.25">Equilibrium</text><line x1="292.9" y1="1359.3" x2="321.8" y2="1359.3" stroke="#222" stroke-width="2.6" stroke-dasharray="7.5 6"/><text x="333.1" y="1365.2" font-size="17.5" text-anchor="start" font-family="'Liberation Sans',Arial,Helvetica,sans-serif" stroke="#000" stroke-width="0.25">Pure Mixing</text><line x1="289.4" y1="1380.7" x2="321.8" y2="1380.7" stroke="#333" stroke-width="2.2" stroke-dasharray="2 2.3"/><text x="333.1" y="1386.6" font-size="17.5" text-anchor="start" font-family="'Liberation Sans',Arial,Helvetica,sans-serif" stroke="#000" stroke-width="0.25">Stoichiometric</text><rect x="1815.5" y="405.4" width="177.2" height="138.8" fill="#fff" stroke="#333" stroke-width="1.8"/><line x1="1825.9" y1="419.7" x2="1858" y2="419.7" stroke="#222" stroke-width="1.3"/><text x="1868.6" y="420.9" font-size="17.5" text-anchor="start" font-family="'Liberation Sans',Arial,Helvetica,sans-serif" stroke="#000" stroke-width="0.25">Equilibrium</text><line x1="1829.9" y1="441.6" x2="1858" y2="441.6" stroke="#777" stroke-width="1.3" stroke-dasharray="8 7"/><text x="1868.6" y="444.7" font-size="17.5" text-anchor="start" font-family="'Liberation Sans',Arial,Helvetica,sans-serif" stroke="#000" stroke-width="0.25">a=100 s<tspan font-size="12" dx="-0.5" dy="-10">-1</tspan></text><line x1="1825.9" y1="463.4" x2="1858" y2="463.4" stroke="#111" stroke-width="3.2"/><text x="1868.6" y="468.0" font-size="17.5" text-anchor="start" font-family="'Liberation Sans',Arial,Helvetica,sans-serif" stroke="#000" stroke-width="0.25">a=5,000 s<tspan font-size="12" dx="-0.5" dy="-10">-1</tspan></text><line x1="1829.9" y1="486.7" x2="1858" y2="486.7" stroke="#111" stroke-width="3.2" stroke-dasharray="8 7"/><text x="1868.6" y="491.9" font-size="17.5" text-anchor="start" font-family="'Liberation Sans',Arial,Helvetica,sans-serif" stroke="#000" stroke-width="0.25">a=12,000 s<tspan font-size="12" dx="-0.5" dy="-10">-1</tspan></text><line x1="1829.9" y1="508.9" x2="1858" y2="508.9" stroke="#000" stroke-width="5" stroke-dasharray="8 7"/><text x="1868.6" y="513.1" font-size="17.5" text-anchor="start" font-family="'Liberation Sans',Arial,Helvetica,sans-serif" stroke="#000" stroke-width="0.25">Pure Mixing</text><line x1="1827.9" y1="531.2" x2="1858" y2="531.2" stroke="#444" stroke-width="2.2" stroke-dasharray="2 2.3"/><text x="1868.6" y="534.3" font-size="17.5" text-anchor="start" font-family="'Liberation Sans',Arial,Helvetica,sans-serif" stroke="#000" stroke-width="0.25">Stoichiometric</text><text x="13.8" y="31.8" font-size="33" text-anchor="start" font-family="'Liberation Sans',Arial,Helvetica,sans-serif" font-weight="bold">A</text><text x="977.3" y="31.8" font-size="33" text-anchor="start" font-family="'Liberation Sans',Arial,Helvetica,sans-serif" font-weight="bold">B</text><text x="375.3" y="99.2" font-size="39.5" text-anchor="start" font-family="'Liberation Sans',Arial,Helvetica,sans-serif" stroke="#000" stroke-width="0.3">T (K)</text><text x="1330.8" y="92.6" font-size="38.5" text-anchor="start" font-family="'Liberation Sans',Arial,Helvetica,sans-serif" stroke="#000" stroke-width="0.3">T (K)</text><text font-family="'Liberation Sans',Arial,Helvetica,sans-serif" font-size="40" stroke="#000" stroke-width="0.3"><tspan x="661.0" y="98.8">X</tspan><tspan x="687.2" y="106.2" font-size="23.3">OH</tspan><tspan x="734.2" y="98.8">(10</tspan><tspan x="790.4" y="82.7" font-size="23">-3</tspan><tspan x="810.9" y="98.8">)</tspan></text><text font-family="'Liberation Sans',Arial,Helvetica,sans-serif" font-size="39" stroke="#000" stroke-width="0.3"><tspan x="1610.0" y="92.1">X</tspan><tspan x="1635.8" y="99.5" font-size="22.7">OH</tspan><tspan x="1681.0" y="92.1">(10</tspan><tspan x="1735.7" y="76.0" font-size="22.5">-3</tspan><tspan x="1755.7" y="92.1">)</tspan></text><text x="500.8" y="314.0" font-size="39.5" text-anchor="start" font-family="'Liberation Sans',Arial,Helvetica,sans-serif" stroke="#000" stroke-width="0.3">z/d = 70</text><text x="500.8" y="648.3" font-size="39.5" text-anchor="start" font-family="'Liberation Sans',Arial,Helvetica,sans-serif" stroke="#000" stroke-width="0.3">z/d = 50</text><text x="500.8" y="982.6" font-size="39.5" text-anchor="start" font-family="'Liberation Sans',Arial,Helvetica,sans-serif" stroke="#000" stroke-width="0.3">z/d = 40</text><text x="500.8" y="1317.0" font-size="39.5" text-anchor="start" font-family="'Liberation Sans',Arial,Helvetica,sans-serif" stroke="#000" stroke-width="0.3">z/d = 30</text><text x="1428.0" y="316.7" font-size="38.3" text-anchor="start" font-family="'Liberation Sans',Arial,Helvetica,sans-serif" stroke="#000" stroke-width="0.3">z/d = 26</text><text x="1426.8" y="660.7" font-size="38.3" text-anchor="start" font-family="'Liberation Sans',Arial,Helvetica,sans-serif" stroke="#000" stroke-width="0.3">z/d = 14</text><text x="1429.0" y="1002.3" font-size="38.3" text-anchor="start" font-family="'Liberation Sans',Arial,Helvetica,sans-serif" stroke="#000" stroke-width="0.3">z/d = 11</text><text x="1439.6" y="1344.8" font-size="38.3" text-anchor="start" font-family="'Liberation Sans',Arial,Helvetica,sans-serif" stroke="#000" stroke-width="0.3">z/d = 8</text><text x="259.0" y="1441.5" font-size="19" text-anchor="middle" font-family="'Liberation Sans',Arial,Helvetica,sans-serif" stroke="#000" stroke-width="0.5">f</text><text x="802.5" y="1441.5" font-size="19" text-anchor="middle" font-family="'Liberation Sans',Arial,Helvetica,sans-serif" stroke="#000" stroke-width="0.5">f</text><text x="1215.2" y="1441.5" font-size="19" text-anchor="middle" font-family="'Liberation Sans',Arial,Helvetica,sans-serif" stroke="#000" stroke-width="0.5">f</text><text x="1796.5" y="1441.5" font-size="19" text-anchor="middle" font-family="'Liberation Sans',Arial,Helvetica,sans-serif" stroke="#000" stroke-width="0.5">f</text><text x="367.3" y="1513.8" font-size="50" font-family="'Liberation Serif','Times New Roman',serif">CH</text><text x="437.0" y="1521.0" font-size="35" font-family="'Liberation Serif','Times New Roman',serif">4</text><text x="459.5" y="1524.2" font-size="66" font-family="'Liberation Serif','Times New Roman',serif">/</text><text x="480.6" y="1513.8" font-size="50" font-family="'Liberation Serif','Times New Roman',serif">air</text><text x="552.3" y="1513.8" font-size="50" font-family="'Liberation Serif','Times New Roman',serif" textLength="107" lengthAdjust="spacingAndGlyphs">flame</text><text x="1455.0" y="1514.3" font-size="50" font-family="'Liberation Serif','Times New Roman',serif">H</text><text x="1490.7" y="1520.8" font-size="35" font-family="'Liberation Serif','Times New Roman',serif">2</text><text x="1513.4" y="1524.0" font-size="66" font-family="'Liberation Serif','Times New Roman',serif">/</text><text x="1535.4" y="1514.3" font-size="50" font-family="'Liberation Serif','Times New Roman',serif">N</text><text x="1570.9" y="1520.8" font-size="35" font-family="'Liberation Serif','Times New Roman',serif">2</text></svg></body></html>
